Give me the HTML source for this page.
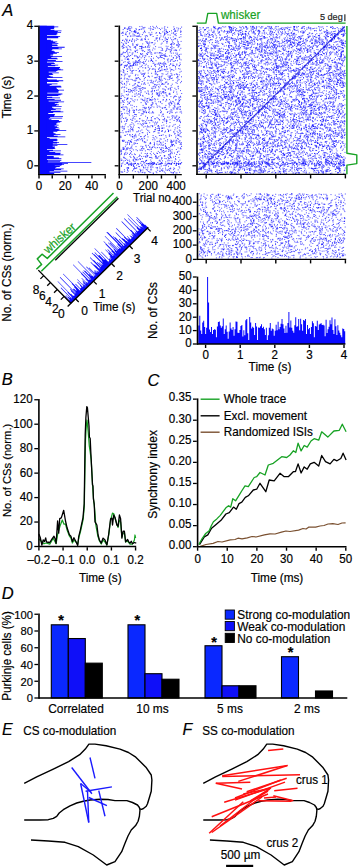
<!DOCTYPE html>
<html><head><meta charset="utf-8"><style>
html,body{margin:0;padding:0;background:#fff;width:360px;height:867px;overflow:hidden}
svg{display:block}
text{font-family:"Liberation Sans", sans-serif}
</style></head><body>
<svg width="360" height="867" viewBox="0 0 360 867" font-family='"Liberation Sans", sans-serif'>
<rect width="360" height="867" fill="#fff"/>
<text x="0" y="0" font-size="16.5" text-anchor="start" fill="#000" stroke="#000" stroke-width="0.18" transform="translate(2.20,15.60) scale(1,1.0)" font-style="italic">A</text><path d="M39.70 25.80h14.53v0.78h-14.53zM39.70 26.58h18.59v0.78h-18.59zM39.70 27.36h14.68v0.78h-14.68zM39.70 28.14h14.21v0.78h-14.21zM39.70 28.92h10.96v0.78h-10.96zM39.70 29.70h14.75v0.78h-14.75zM39.70 30.48h21.77v0.78h-21.77zM39.70 31.26h18.13v0.78h-18.13zM39.70 32.04h21.37v0.78h-21.37zM39.70 32.82h17.20v0.78h-17.20zM39.70 33.59h17.97v0.78h-17.97zM39.70 34.37h16.86v0.78h-16.86zM39.70 35.15h7.14v0.78h-7.14zM39.70 35.93h20.41v0.78h-20.41zM39.70 36.71h18.56v0.78h-18.56zM39.70 37.49h18.52v0.78h-18.52zM39.70 38.27h7.14v0.78h-7.14zM39.70 39.05h7.14v0.78h-7.14zM39.70 39.83h11.17v0.78h-11.17zM39.70 40.61h13.40v0.78h-13.40zM39.70 41.39h17.50v0.78h-17.50zM39.70 42.17h15.64v0.78h-15.64zM39.70 42.95h18.64v0.78h-18.64zM39.70 43.73h12.48v0.78h-12.48zM39.70 44.51h17.52v0.78h-17.52zM39.70 45.29h17.97v0.78h-17.97zM39.70 46.07h12.38v0.78h-12.38zM39.70 46.85h24.98v0.78h-24.98zM39.70 47.63h18.83v0.78h-18.83zM39.70 48.40h22.22v0.78h-22.22zM39.70 49.18h12.60v0.78h-12.60zM39.70 49.96h11.97v0.78h-11.97zM39.70 50.74h14.06v0.78h-14.06zM39.70 51.52h15.32v0.78h-15.32zM39.70 52.30h19.23v0.78h-19.23zM39.70 53.08h17.20v0.78h-17.20zM39.70 53.86h13.51v0.78h-13.51zM39.70 54.64h10.81v0.78h-10.81zM39.70 55.42h13.13v0.78h-13.13zM39.70 56.20h22.35v0.78h-22.35zM39.70 56.98h11.60v0.78h-11.60zM39.70 57.76h17.18v0.78h-17.18zM39.70 58.54h18.14v0.78h-18.14zM39.70 59.32h7.99v0.78h-7.99zM39.70 60.10h16.14v0.78h-16.14zM39.70 60.88h22.80v0.78h-22.80zM39.70 61.66h7.14v0.78h-7.14zM39.70 62.44h14.18v0.78h-14.18zM39.70 63.21h15.32v0.78h-15.32zM39.70 63.99h11.55v0.78h-11.55zM39.70 64.77h18.52v0.78h-18.52zM39.70 65.55h15.55v0.78h-15.55zM39.70 66.33h8.13v0.78h-8.13zM39.70 67.11h20.27v0.78h-20.27zM39.70 67.89h19.43v0.78h-19.43zM39.70 68.67h20.89v0.78h-20.89zM39.70 69.45h23.51v0.78h-23.51zM39.70 70.23h17.80v0.78h-17.80zM39.70 71.01h16.51v0.78h-16.51zM39.70 71.79h9.00v0.78h-9.00zM39.70 72.57h19.14v0.78h-19.14zM39.70 73.35h12.64v0.78h-12.64zM39.70 74.13h13.48v0.78h-13.48zM39.70 74.91h9.18v0.78h-9.18zM39.70 75.69h10.76v0.78h-10.76zM39.70 76.47h13.07v0.78h-13.07zM39.70 77.25h22.71v0.78h-22.71zM39.70 78.02h7.14v0.78h-7.14zM39.70 78.80h8.16v0.78h-8.16zM39.70 79.58h17.15v0.78h-17.15zM39.70 80.36h23.53v0.78h-23.53zM39.70 81.14h18.95v0.78h-18.95zM39.70 81.92h7.14v0.78h-7.14zM39.70 82.70h7.14v0.78h-7.14zM39.70 83.48h17.78v0.78h-17.78zM39.70 84.26h11.98v0.78h-11.98zM39.70 85.04h9.95v0.78h-9.95zM39.70 85.82h21.06v0.78h-21.06zM39.70 86.60h21.72v0.78h-21.72zM39.70 87.38h16.72v0.78h-16.72zM39.70 88.16h17.18v0.78h-17.18zM39.70 88.94h18.18v0.78h-18.18zM39.70 89.72h24.32v0.78h-24.32zM39.70 90.50h19.16v0.78h-19.16zM39.70 91.28h18.63v0.78h-18.63zM39.70 92.06h18.78v0.78h-18.78zM39.70 92.83h7.58v0.78h-7.58zM39.70 93.61h22.67v0.78h-22.67zM39.70 94.39h20.94v0.78h-20.94zM39.70 95.17h18.69v0.78h-18.69zM39.70 95.95h7.14v0.78h-7.14zM39.70 96.73h12.53v0.78h-12.53zM39.70 97.51h20.34v0.78h-20.34zM39.70 98.29h7.14v0.78h-7.14zM39.70 99.07h14.91v0.78h-14.91zM39.70 99.85h21.28v0.78h-21.28zM39.70 100.63h8.94v0.78h-8.94zM39.70 101.41h24.41v0.78h-24.41zM39.70 102.19h18.81v0.78h-18.81zM39.70 102.97h15.09v0.78h-15.09zM39.70 103.75h17.60v0.78h-17.60zM39.70 104.53h19.32v0.78h-19.32zM39.70 105.31h16.52v0.78h-16.52zM39.70 106.09h21.95v0.78h-21.95zM39.70 106.87h12.38v0.78h-12.38zM39.70 107.64h13.69v0.78h-13.69zM39.70 108.42h21.40v0.78h-21.40zM39.70 109.20h16.02v0.78h-16.02zM39.70 109.98h11.22v0.78h-11.22zM39.70 110.76h20.89v0.78h-20.89zM39.70 111.54h23.64v0.78h-23.64zM39.70 112.32h13.53v0.78h-13.53zM39.70 113.10h8.57v0.78h-8.57zM39.70 113.88h15.17v0.78h-15.17zM39.70 114.66h15.09v0.78h-15.09zM39.70 115.44h14.30v0.78h-14.30zM39.70 116.22h23.32v0.78h-23.32zM39.70 117.00h10.44v0.78h-10.44zM39.70 117.78h22.56v0.78h-22.56zM39.70 118.56h9.17v0.78h-9.17zM39.70 119.34h11.71v0.78h-11.71zM39.70 120.12h19.23v0.78h-19.23zM39.70 120.90h21.86v0.78h-21.86zM39.70 121.68h20.43v0.78h-20.43zM39.70 122.45h17.71v0.78h-17.71zM39.70 123.23h16.64v0.78h-16.64zM39.70 124.01h16.69v0.78h-16.69zM39.70 124.79h18.93v0.78h-18.93zM39.70 125.57h14.95v0.78h-14.95zM39.70 126.35h17.35v0.78h-17.35zM39.70 127.13h18.92v0.78h-18.92zM39.70 127.91h15.89v0.78h-15.89zM39.70 128.69h19.93v0.78h-19.93zM39.70 129.47h18.88v0.78h-18.88zM39.70 130.25h26.53v0.78h-26.53zM39.70 131.03h17.60v0.78h-17.60zM39.70 131.81h13.62v0.78h-13.62zM39.70 132.59h13.91v0.78h-13.91zM39.70 133.37h15.81v0.78h-15.81zM39.70 134.15h20.77v0.78h-20.77zM39.70 134.93h14.10v0.78h-14.10zM39.70 135.71h17.93v0.78h-17.93zM39.70 136.49h25.61v0.78h-25.61zM39.70 137.26h7.14v0.78h-7.14zM39.70 138.04h9.93v0.78h-9.93zM39.70 138.82h17.17v0.78h-17.17zM39.70 139.60h17.99v0.78h-17.99zM39.70 140.38h17.15v0.78h-17.15zM39.70 141.16h13.60v0.78h-13.60zM39.70 141.94h19.35v0.78h-19.35zM39.70 142.72h17.38v0.78h-17.38zM39.70 143.50h13.12v0.78h-13.12zM39.70 144.28h27.67v0.78h-27.67zM39.70 145.06h17.76v0.78h-17.76zM39.70 145.84h12.95v0.78h-12.95zM39.70 146.62h15.36v0.78h-15.36zM39.70 147.40h14.69v0.78h-14.69zM39.70 148.18h15.55v0.78h-15.55zM39.70 148.96h7.14v0.78h-7.14zM39.70 149.74h13.30v0.78h-13.30zM39.70 150.52h21.22v0.78h-21.22zM39.70 151.30h9.69v0.78h-9.69zM39.70 152.07h15.53v0.78h-15.53zM39.70 152.85h20.93v0.78h-20.93zM39.70 153.63h20.42v0.78h-20.42zM39.70 154.41h23.78v0.78h-23.78zM39.70 155.19h7.14v0.78h-7.14zM39.70 155.97h14.01v0.78h-14.01zM39.70 156.75h14.08v0.78h-14.08zM39.70 157.53h19.18v0.78h-19.18zM39.70 158.31h21.66v0.78h-21.66zM39.70 159.09h7.14v0.78h-7.14zM39.70 159.87h21.65v0.78h-21.65zM39.70 160.65h8.22v0.78h-8.22zM39.70 161.43h19.50v0.78h-19.50zM39.70 162.21h7.98v0.78h-7.98zM39.70 162.99h16.81v0.78h-16.81zM39.70 163.77h22.21v0.78h-22.21zM39.70 164.55h15.09v0.78h-15.09zM39.70 165.33h16.89v0.78h-16.89zM39.70 166.11h20.10v0.78h-20.10zM39.70 166.88h16.63v0.78h-16.63zM39.70 167.66h15.41v0.78h-15.41zM39.70 168.44h24.00v0.78h-24.00zM39.70 169.22h21.44v0.78h-21.44zM39.70 170.00h14.33v0.78h-14.33zM39.70 170.78h27.67v0.78h-27.67zM39.70 171.56h9.81v0.78h-9.81zM39.70 172.34h20.73v0.78h-20.73zM39.70 173.12h14.48v0.78h-14.48zM39.70 162.00h51.63v0.78h-51.63zM39.70 163.00h28.33v0.78h-28.33zM39.70 161.20h20.38v0.78h-20.38zM39.70 164.20h24.36v0.78h-24.36zM39.70 165.20h21.71v0.78h-21.71z" fill="#0a0aff"/><rect x="39.40" y="25.80" width="7.44" height="148.10" fill="#0a0aff"/><line x1="38.90" y1="25.50" x2="38.90" y2="175.30" stroke="#000" stroke-width="1.6" /><line x1="34.30" y1="165.80" x2="38.10" y2="165.80" stroke="#000" stroke-width="1.3" /><line x1="34.30" y1="130.92" x2="38.10" y2="130.92" stroke="#000" stroke-width="1.3" /><line x1="34.30" y1="96.04" x2="38.10" y2="96.04" stroke="#000" stroke-width="1.3" /><line x1="34.30" y1="61.16" x2="38.10" y2="61.16" stroke="#000" stroke-width="1.3" /><line x1="34.30" y1="26.28" x2="38.10" y2="26.28" stroke="#000" stroke-width="1.3" /><text x="0" y="0" font-size="11.6" text-anchor="end" fill="#000" stroke="#000" stroke-width="0.18" transform="translate(33.20,168.80) scale(1,1.05)" >0</text><text x="0" y="0" font-size="11.6" text-anchor="end" fill="#000" stroke="#000" stroke-width="0.18" transform="translate(33.20,133.92) scale(1,1.05)" >1</text><text x="0" y="0" font-size="11.6" text-anchor="end" fill="#000" stroke="#000" stroke-width="0.18" transform="translate(33.20,99.04) scale(1,1.05)" >2</text><text x="0" y="0" font-size="11.6" text-anchor="end" fill="#000" stroke="#000" stroke-width="0.18" transform="translate(33.20,64.16) scale(1,1.05)" >3</text><text x="0" y="0" font-size="11.6" text-anchor="end" fill="#000" stroke="#000" stroke-width="0.18" transform="translate(33.20,29.28) scale(1,1.05)" >4</text><line x1="38.10" y1="174.60" x2="105.90" y2="174.60" stroke="#000" stroke-width="1.4" /><line x1="39.00" y1="175.30" x2="39.00" y2="178.60" stroke="#000" stroke-width="1.4" /><line x1="52.24" y1="175.30" x2="52.24" y2="178.60" stroke="#000" stroke-width="1.4" /><line x1="65.48" y1="175.30" x2="65.48" y2="178.60" stroke="#000" stroke-width="1.4" /><line x1="78.72" y1="175.30" x2="78.72" y2="178.60" stroke="#000" stroke-width="1.4" /><line x1="91.96" y1="175.30" x2="91.96" y2="178.60" stroke="#000" stroke-width="1.4" /><line x1="105.20" y1="175.30" x2="105.20" y2="178.60" stroke="#000" stroke-width="1.4" /><text x="0" y="0" font-size="11.6" text-anchor="middle" fill="#000" stroke="#000" stroke-width="0.18" transform="translate(38.90,189.90) scale(1,1.05)" >0</text><text x="0" y="0" font-size="11.6" text-anchor="middle" fill="#000" stroke="#000" stroke-width="0.18" transform="translate(65.20,189.90) scale(1,1.05)" >20</text><text x="0" y="0" font-size="11.6" text-anchor="middle" fill="#000" stroke="#000" stroke-width="0.18" transform="translate(91.70,189.90) scale(1,1.05)" >40</text><text x="0" y="0" font-size="11.8" text-anchor="middle" fill="#000" stroke="#000" stroke-width="0.18" transform="translate(11.20,97.20) rotate(-90) scale(1,1.05)">Time (s)</text><path d="M171.4 46.5h1.0M127.6 91.4h1.0M124.6 61.7h1.0M124.7 124.8h1.0M168.0 158.3h1.0M129.6 131.7h1.0M160.5 47.3h1.0M174.1 168.7h1.0M133.6 166.5h1.0M144.5 98.0h1.0M180.6 148.8h1.0M130.0 89.8h1.0M151.7 76.2h1.0M132.1 73.2h1.0M164.3 29.2h1.0M154.0 91.1h1.0M121.3 75.1h1.0M158.3 101.7h1.0M124.1 171.3h1.0M168.3 169.3h1.0M126.6 65.4h1.0M122.6 141.0h1.0M136.7 45.4h1.0M146.0 160.5h1.0M170.2 64.4h1.0M129.3 161.6h1.0M155.0 129.4h1.0M125.7 34.8h1.0M162.2 88.9h1.0M124.6 164.4h1.0M158.9 144.3h1.0M125.3 152.3h1.0M124.3 153.3h1.0M147.9 76.2h1.0M153.9 162.7h1.0M136.5 45.3h1.0M152.3 61.4h1.0M126.9 50.1h1.0M123.3 56.0h1.0M139.2 71.2h1.0M166.5 69.0h1.0M150.7 52.5h1.0M141.4 29.0h1.0M135.5 28.6h1.0M164.9 107.4h1.0M131.8 96.2h1.0M177.2 41.9h1.0M170.2 89.9h1.0M150.4 149.2h1.0M144.2 100.9h1.0M162.2 170.9h1.0M141.1 148.8h1.0M163.3 119.9h1.0M144.9 77.5h1.0M123.5 45.4h1.0M124.5 135.4h1.0M135.8 50.3h1.0M125.4 150.1h1.0M173.3 125.0h1.0M137.4 62.0h1.0M138.1 93.9h1.0M129.8 91.9h1.0M136.3 167.9h1.0M179.5 106.8h1.0M135.1 168.4h1.0M139.1 78.8h1.0M120.3 82.5h1.0M149.2 100.3h1.0M132.5 100.6h1.0M120.5 65.2h1.0M125.7 85.1h1.0M122.7 29.6h1.0M138.8 60.6h1.0M155.9 104.2h1.0M166.0 123.1h1.0M163.9 155.7h1.0M144.0 74.3h1.0M180.3 48.3h1.0M164.4 121.0h1.0M122.9 149.3h1.0M174.6 118.6h1.0M165.0 145.9h1.0M128.7 103.4h1.0M151.0 149.2h1.0M169.3 147.9h1.0M155.8 157.7h1.0M161.9 128.4h1.0M134.2 30.9h1.0M128.3 79.4h1.0M126.6 149.3h1.0M154.3 118.7h1.0M158.4 126.5h1.0M150.0 26.8h1.0M168.9 136.4h1.0M150.9 105.1h1.0M160.4 36.0h1.0M165.1 63.4h1.0M124.7 65.4h1.0M164.7 56.5h1.0M165.3 169.9h1.0M150.3 82.6h1.0M149.4 126.9h1.0M167.0 117.1h1.0M159.4 37.7h1.0M129.2 63.7h1.0M165.5 71.1h1.0M154.8 28.1h1.0M123.9 65.9h1.0M161.2 128.2h1.0M161.4 69.1h1.0M151.7 94.7h1.0M148.6 43.7h1.0M174.7 55.6h1.0M179.9 164.1h1.0M121.3 93.9h1.0M170.2 168.8h1.0M147.6 65.8h1.0M133.0 165.5h1.0M133.1 111.9h1.0M128.8 103.4h1.0M178.3 45.8h1.0M170.2 101.2h1.0M174.3 129.8h1.0M134.3 158.4h1.0M149.9 30.0h1.0M120.4 98.7h1.0M147.7 70.7h1.0M128.8 76.9h1.0M139.5 150.0h1.0M120.3 136.8h1.0M171.4 44.0h1.0M176.7 131.3h1.0M175.2 69.0h1.0M142.9 84.1h1.0M181.1 113.0h1.0M142.2 89.3h1.0M137.0 33.4h1.0M126.4 149.2h1.0M137.6 164.0h1.0M135.4 65.4h1.0M151.4 54.2h1.0M143.0 167.0h1.0M174.1 145.8h1.0M158.7 160.8h1.0M177.6 107.1h1.0M164.1 33.6h1.0M164.9 92.7h1.0M166.1 121.2h1.0M137.7 33.5h1.0M176.7 45.0h1.0M149.0 76.9h1.0M138.4 135.1h1.0M179.8 64.6h1.0M160.2 70.6h1.0M154.2 84.4h1.0M130.4 50.1h1.0M132.9 159.7h1.0M150.5 58.7h1.0M175.5 173.0h1.0M147.6 46.8h1.0M131.9 39.7h1.0M141.1 39.7h1.0M134.8 64.3h1.0M154.9 156.9h1.0M165.9 87.1h1.0M145.4 103.5h1.0M143.2 76.1h1.0M124.0 67.2h1.0M179.2 44.8h1.0M150.9 119.0h1.0M172.8 58.1h1.0M136.7 62.9h1.0M144.6 91.9h1.0M178.4 151.2h1.0M173.4 29.5h1.0M122.2 130.7h1.0M174.8 96.0h1.0M156.0 26.3h1.0M144.1 162.7h1.0M170.6 152.2h1.0M179.5 62.9h1.0M126.9 49.0h1.0M152.1 126.7h1.0M177.6 132.5h1.0M159.7 138.9h1.0M148.1 107.5h1.0M122.6 141.5h1.0M134.4 161.7h1.0M159.6 71.0h1.0M128.0 63.4h1.0M159.0 129.1h1.0M127.0 36.7h1.0M152.2 112.1h1.0M143.9 59.2h1.0M156.9 27.8h1.0M138.6 94.1h1.0M178.7 121.2h1.0M174.1 96.3h1.0M134.5 62.7h1.0M178.8 130.0h1.0M139.0 29.5h1.0M150.6 125.6h1.0M145.8 64.2h1.0M160.9 162.5h1.0M134.0 31.3h1.0M140.8 88.2h1.0M161.8 55.5h1.0M168.8 135.1h1.0M151.0 56.5h1.0M179.4 72.2h1.0M170.2 60.3h1.0M133.7 138.2h1.0M138.2 166.4h1.0M150.4 53.9h1.0M133.8 87.7h1.0M160.8 166.0h1.0M129.1 84.2h1.0M133.2 169.7h1.0M128.9 33.9h1.0M123.9 84.2h1.0M175.0 156.4h1.0M164.9 173.1h1.0M177.0 74.8h1.0M131.5 164.1h1.0M165.7 31.0h1.0M160.7 82.0h1.0M143.0 75.1h1.0M130.5 26.7h1.0M137.3 78.0h1.0M178.5 44.5h1.0M179.0 56.8h1.0M142.0 147.2h1.0M170.3 90.0h1.0M123.2 96.0h1.0M142.9 161.7h1.0M132.0 79.9h1.0M174.9 30.8h1.0M145.3 145.8h1.0M167.0 32.3h1.0M122.3 35.5h1.0M176.3 64.1h1.0M165.8 158.6h1.0M140.9 66.4h1.0M178.6 117.1h1.0M136.2 131.8h1.0M139.5 66.9h1.0M120.4 137.5h1.0M176.1 119.6h1.0M177.7 29.9h1.0M134.5 96.2h1.0M178.6 166.7h1.0M143.8 63.3h1.0M146.4 98.9h1.0M176.8 53.2h1.0M169.2 135.0h1.0M170.4 140.1h1.0M157.2 74.6h1.0M139.7 79.6h1.0M167.9 37.9h1.0M132.2 137.1h1.0M135.3 35.8h1.0M122.3 107.6h1.0M140.1 170.6h1.0M174.1 171.7h1.0M136.4 38.7h1.0M126.1 99.7h1.0M163.5 92.1h1.0M134.5 87.7h1.0M158.0 125.5h1.0M165.8 151.0h1.0M160.7 44.1h1.0M171.5 69.5h1.0M154.8 81.2h1.0M165.2 55.6h1.0M135.3 62.4h1.0M129.6 156.4h1.0M155.5 74.3h1.0M144.4 172.4h1.0M151.1 60.4h1.0M169.5 122.5h1.0M180.6 41.4h1.0M149.2 146.9h1.0M171.5 160.9h1.0M122.7 69.5h1.0M127.5 54.2h1.0M179.6 112.1h1.0M176.9 81.1h1.0M173.0 92.4h1.0M136.1 140.8h1.0M177.9 41.9h1.0M156.6 117.6h1.0M133.5 80.6h1.0M128.8 56.3h1.0M135.7 114.5h1.0M160.0 56.2h1.0M120.9 74.5h1.0M161.6 53.6h1.0M139.2 56.2h1.0M168.7 107.0h1.0M124.1 41.2h1.0M144.3 107.3h1.0M159.2 39.7h1.0M130.2 128.7h1.0M145.2 68.0h1.0M139.0 166.6h1.0M139.3 109.7h1.0M142.0 87.6h1.0M172.9 173.0h1.0M142.4 55.3h1.0M164.6 56.3h1.0M120.6 159.0h1.0M146.0 147.1h1.0M145.0 156.3h1.0M148.3 50.2h1.0M121.1 107.5h1.0M159.3 160.2h1.0M125.6 117.9h1.0M142.8 100.6h1.0M129.1 68.0h1.0M152.0 162.5h1.0M126.8 98.5h1.0M169.3 168.6h1.0M132.2 44.9h1.0M177.7 169.9h1.0M149.6 34.2h1.0M176.7 83.4h1.0M175.4 117.6h1.0M170.5 49.9h1.0M168.1 59.0h1.0M144.9 150.9h1.0M170.8 53.2h1.0M133.5 85.1h1.0M151.8 82.8h1.0M127.7 62.7h1.0M164.4 158.4h1.0M122.7 109.1h1.0M166.4 31.9h1.0M171.3 43.6h1.0M156.8 107.3h1.0M158.4 71.4h1.0M145.8 112.1h1.0M146.2 123.3h1.0M147.5 90.8h1.0M121.6 117.4h1.0M150.1 60.9h1.0M166.8 141.1h1.0M148.2 52.7h1.0M149.1 42.1h1.0M128.0 89.7h1.0M125.8 91.4h1.0M151.3 32.3h1.0M159.0 38.4h1.0M164.9 140.8h1.0M151.4 34.3h1.0M150.9 81.9h1.0M178.2 46.3h1.0M172.5 172.9h1.0M164.9 146.3h1.0M132.0 170.8h1.0M150.2 167.1h1.0M176.1 50.6h1.0M168.3 163.3h1.0M124.2 78.0h1.0M166.3 49.7h1.0M174.9 66.8h1.0M170.0 47.4h1.0M150.8 161.7h1.0M132.9 65.0h1.0M151.1 73.3h1.0M122.4 53.1h1.0M130.0 164.1h1.0M161.7 158.1h1.0M130.5 141.8h1.0M127.2 104.4h1.0M159.0 79.3h1.0M173.5 108.0h1.0M155.6 156.2h1.0M126.6 172.5h1.0M158.6 84.3h1.0M168.9 65.3h1.0M180.6 111.3h1.0M142.2 138.9h1.0M147.2 52.3h1.0M165.6 33.4h1.0M170.2 63.6h1.0M159.2 171.2h1.0M155.9 124.0h1.0M139.3 26.6h1.0M122.3 48.3h1.0M157.8 89.9h1.0M151.5 158.1h1.0M128.3 59.8h1.0M160.0 29.6h1.0M120.4 78.6h1.0M126.7 78.9h1.0M133.9 112.2h1.0M156.1 56.4h1.0M158.3 96.2h1.0M128.4 164.2h1.0M135.1 48.3h1.0M126.0 120.2h1.0M173.3 141.4h1.0M144.7 65.2h1.0M120.9 121.2h1.0M154.5 77.9h1.0M159.6 91.6h1.0M177.4 134.3h1.0M135.4 159.3h1.0M122.9 104.5h1.0M145.0 61.3h1.0M123.8 140.9h1.0M121.0 107.4h1.0M177.6 47.2h1.0M132.4 115.8h1.0M151.1 120.7h1.0M169.8 52.0h1.0M139.1 70.5h1.0M123.2 157.2h1.0M168.0 131.6h1.0M120.6 150.6h1.0M165.7 94.8h1.0M165.4 92.9h1.0M134.0 41.8h1.0M134.4 32.0h1.0M140.7 136.6h1.0M162.6 150.7h1.0M163.6 65.5h1.0M154.0 90.5h1.0M168.3 103.3h1.0M136.4 120.8h1.0M179.1 58.2h1.0M173.9 28.5h1.0M136.1 61.1h1.0M165.6 165.4h1.0M165.7 74.4h1.0M173.9 74.7h1.0M134.8 159.9h1.0M158.7 128.3h1.0M160.8 170.4h1.0M148.8 149.9h1.0M162.8 152.5h1.0M146.9 133.0h1.0M155.0 71.6h1.0M133.1 117.9h1.0M124.9 160.4h1.0M129.0 30.3h1.0M126.7 163.0h1.0M141.2 47.2h1.0M122.0 32.4h1.0M162.5 119.6h1.0M162.7 134.8h1.0M124.2 113.2h1.0M142.4 146.6h1.0M170.2 157.5h1.0M124.2 154.0h1.0M176.0 165.3h1.0M126.7 56.6h1.0M127.0 31.4h1.0M171.9 145.8h1.0M158.9 147.7h1.0M158.7 68.6h1.0M126.3 40.7h1.0M166.4 56.5h1.0M139.7 88.7h1.0M121.5 64.1h1.0M137.4 131.7h1.0M142.6 73.5h1.0M179.0 100.5h1.0M172.1 117.3h1.0M122.1 87.1h1.0M146.8 140.1h1.0M141.4 130.0h1.0M153.0 58.2h1.0M172.8 39.7h1.0M170.2 51.4h1.0M120.3 56.0h1.0M166.7 170.2h1.0M120.5 98.5h1.0M150.2 143.6h1.0M131.5 99.1h1.0M141.4 148.7h1.0M136.1 165.2h1.0M137.5 57.9h1.0M162.9 99.7h1.0M126.9 120.0h1.0M125.1 142.3h1.0M162.7 142.1h1.0M158.5 78.6h1.0M144.7 84.4h1.0M174.5 39.0h1.0M174.4 30.0h1.0M132.8 65.0h1.0M175.2 100.1h1.0M143.3 156.4h1.0M134.4 94.1h1.0M152.6 137.4h1.0M166.1 121.4h1.0M141.5 74.4h1.0M129.7 150.4h1.0M160.6 135.5h1.0M130.5 90.9h1.0M167.4 111.6h1.0M127.9 94.3h1.0M174.2 61.3h1.0M131.9 70.7h1.0M163.1 150.5h1.0M129.6 49.3h1.0M135.3 74.4h1.0M152.1 50.0h1.0M140.2 54.2h1.0M179.7 133.6h1.0M126.4 168.0h1.0M126.4 82.9h1.0M180.2 143.3h1.0M164.9 90.3h1.0M132.2 120.2h1.0M126.7 56.7h1.0M143.9 31.3h1.0M144.5 142.7h1.0M162.5 100.0h1.0M158.8 94.5h1.0M128.9 115.2h1.0M144.9 135.4h1.0M175.6 89.6h1.0M155.2 136.6h1.0M145.9 59.9h1.0M164.3 155.8h1.0M167.4 129.4h1.0M172.2 126.3h1.0M159.3 93.1h1.0M139.3 118.8h1.0M126.2 88.1h1.0M167.9 131.3h1.0M158.6 63.1h1.0M146.0 93.3h1.0M158.1 86.6h1.0M161.4 163.2h1.0M131.4 122.6h1.0M167.7 83.5h1.0M150.1 169.8h1.0M122.5 106.3h1.0M130.0 141.4h1.0M177.6 102.7h1.0M126.4 110.9h1.0M153.2 131.9h1.0M151.4 120.4h1.0M170.8 103.1h1.0M145.2 165.8h1.0M133.0 127.0h1.0M144.1 138.6h1.0M127.7 171.2h1.0M141.9 34.6h1.0M136.9 85.1h1.0M121.0 87.9h1.0M145.9 129.1h1.0M141.7 65.3h1.0M133.9 135.4h1.0M177.5 103.9h1.0M133.6 144.3h1.0M144.1 57.5h1.0M128.1 140.6h1.0M169.6 119.7h1.0M148.8 109.0h1.0M134.0 168.2h1.0M141.7 120.3h1.0M170.1 146.4h1.0M148.8 69.6h1.0M153.6 44.7h1.0M171.1 78.5h1.0M172.1 65.7h1.0M143.1 63.6h1.0M146.2 53.7h1.0M120.4 132.5h1.0M137.4 62.4h1.0M138.6 96.9h1.0M146.3 120.1h1.0M160.4 79.6h1.0M176.9 152.1h1.0M123.7 148.2h1.0M175.5 141.7h1.0M128.8 148.7h1.0M158.8 28.5h1.0M120.9 166.4h1.0M160.2 63.1h1.0M126.4 47.3h1.0M134.5 140.6h1.0M141.3 48.8h1.0M175.3 142.8h1.0M130.4 157.5h1.0M157.3 141.3h1.0M161.0 157.9h1.0M168.3 149.8h1.0M132.2 128.3h1.0M152.6 135.5h1.0M147.0 156.2h1.0M154.1 65.2h1.0M134.5 46.8h1.0M150.3 34.9h1.0M148.7 47.6h1.0M150.2 99.6h1.0M153.1 153.3h1.0M120.6 150.1h1.0M148.7 109.1h1.0M160.8 150.0h1.0M143.1 87.9h1.0M178.8 37.4h1.0M159.1 119.9h1.0M121.9 116.0h1.0M161.8 163.4h1.0M140.4 170.8h1.0M151.3 97.6h1.0M175.0 31.3h1.0M164.0 118.3h1.0M140.9 153.1h1.0M142.5 96.2h1.0M152.3 139.7h1.0M133.1 90.4h1.0M146.0 107.9h1.0M170.6 69.4h1.0M170.7 85.7h1.0M150.9 66.3h1.0M151.1 169.8h1.0M160.1 142.9h1.0M140.4 73.0h1.0M138.5 112.6h1.0M158.9 141.7h1.0M122.6 132.7h1.0M174.2 106.6h1.0M123.2 70.5h1.0M120.6 54.3h1.0M176.4 115.9h1.0M160.3 142.4h1.0M175.7 116.3h1.0M157.8 118.6h1.0M162.7 114.1h1.0M161.7 57.6h1.0M160.9 93.7h1.0M166.7 41.2h1.0M131.3 31.7h1.0M167.4 160.9h1.0M160.2 80.6h1.0M170.4 142.1h1.0M154.5 64.3h1.0M138.6 88.4h1.0M139.6 89.7h1.0M159.3 163.8h1.0M123.5 109.8h1.0M122.6 43.8h1.0M169.6 111.0h1.0M176.2 92.0h1.0M121.1 83.3h1.0M156.3 164.3h1.0M180.0 96.3h1.0M145.4 41.3h1.0M159.5 57.5h1.0M129.5 28.6h1.0M120.5 126.9h1.0M127.6 168.5h1.0M125.6 154.3h1.0M128.1 28.9h1.0M164.1 62.0h1.0M164.9 53.9h1.0M123.3 140.2h1.0M163.7 152.2h1.0M164.7 38.7h1.0M158.5 130.7h1.0M148.3 163.5h1.0M135.7 168.2h1.0M163.9 28.0h1.0M121.1 122.1h1.0M170.1 38.0h1.0M139.2 133.7h1.0M130.3 153.0h1.0M149.9 35.1h1.0M142.6 110.9h1.0M147.0 125.9h1.0M129.0 143.7h1.0M142.4 121.2h1.0M158.6 87.8h1.0M143.7 142.0h1.0M177.8 141.8h1.0M154.8 69.3h1.0M123.9 169.7h1.0M163.1 148.1h1.0M140.5 115.5h1.0M179.8 148.7h1.0M156.9 71.7h1.0M146.3 157.0h1.0M143.2 127.1h1.0M156.9 158.2h1.0M169.5 68.0h1.0M120.3 65.0h1.0M146.0 112.7h1.0M170.0 156.9h1.0M122.8 149.0h1.0M169.7 154.0h1.0M155.1 66.6h1.0M172.1 145.1h1.0M162.0 160.8h1.0M141.4 38.8h1.0M154.0 143.7h1.0M132.4 136.7h1.0M177.0 60.7h1.0M157.2 126.1h1.0M148.6 56.7h1.0M135.7 136.9h1.0M168.5 94.0h1.0M125.5 145.0h1.0M167.3 60.6h1.0M155.6 158.3h1.0M174.2 103.1h1.0M149.3 113.0h1.0M131.7 54.6h1.0M131.2 129.5h1.0M142.3 109.4h1.0M144.8 102.4h1.0M129.3 32.9h1.0M181.0 81.4h1.0M126.7 119.4h1.0M168.2 49.3h1.0M156.6 77.1h1.0M151.9 29.3h1.0M122.2 172.1h1.0M173.0 97.9h1.0M154.8 64.8h1.0M167.7 89.0h1.0M177.9 139.2h1.0M170.1 168.1h1.0M135.7 31.9h1.0M132.5 52.9h1.0M125.3 33.8h1.0M154.2 154.5h1.0M148.2 165.7h1.0M175.7 35.7h1.0M156.7 84.8h1.0M127.5 167.5h1.0M135.9 109.4h1.0M159.3 167.1h1.0M161.1 84.2h1.0M147.5 49.8h1.0M179.1 172.3h1.0M133.7 32.0h1.0M135.8 78.1h1.0M175.3 159.5h1.0M171.3 33.2h1.0M168.2 130.8h1.0M159.6 171.4h1.0M123.6 47.6h1.0M166.3 164.6h1.0M161.5 70.3h1.0M156.3 137.9h1.0M126.6 74.0h1.0M135.9 44.6h1.0M149.6 51.1h1.0M134.7 47.4h1.0M161.5 28.2h1.0M164.0 55.0h1.0M122.4 162.9h1.0M133.7 163.8h1.0M173.1 157.1h1.0M128.7 92.1h1.0M126.1 163.0h1.0M171.6 118.8h1.0M147.8 76.3h1.0M170.4 96.6h1.0M158.5 47.3h1.0M133.7 34.7h1.0M163.7 107.8h1.0M129.0 154.5h1.0M136.5 86.9h1.0M129.7 66.2h1.0M171.4 75.5h1.0M130.4 98.6h1.0M139.6 159.2h1.0M127.2 170.4h1.0M123.7 158.0h1.0M161.0 57.4h1.0M149.3 68.4h1.0M135.9 56.0h1.0M142.4 172.2h1.0M181.1 162.5h1.0M126.2 68.9h1.0M174.9 34.8h1.0M164.5 69.5h1.0M179.9 28.7h1.0M169.4 76.5h1.0M128.7 26.6h1.0M171.0 103.8h1.0M131.5 90.4h1.0M175.8 58.4h1.0M155.1 46.6h1.0M131.2 139.7h1.0M163.6 55.3h1.0M125.0 39.2h1.0M157.3 99.2h1.0M136.9 56.6h1.0M157.6 130.5h1.0M169.7 112.1h1.0M132.5 36.0h1.0M164.9 86.4h1.0M164.2 34.5h1.0M169.6 75.6h1.0M171.6 153.6h1.0M150.3 28.6h1.0M175.7 96.5h1.0M173.4 65.5h1.0M131.5 148.7h1.0M142.6 50.4h1.0M142.8 113.9h1.0M120.5 102.8h1.0M147.4 102.2h1.0M127.6 131.5h1.0M170.0 153.7h1.0M139.8 131.0h1.0M143.5 136.9h1.0M123.9 154.8h1.0M178.4 99.1h1.0M151.5 104.4h1.0M153.0 29.3h1.0M179.2 59.2h1.0M131.3 41.4h1.0M135.5 146.6h1.0M122.0 40.5h1.0M162.8 55.0h1.0M121.3 114.5h1.0M155.4 103.3h1.0M163.1 41.4h1.0M173.2 131.9h1.0M123.0 44.4h1.0M150.3 100.0h1.0M137.3 44.3h1.0M144.9 46.5h1.0M156.3 153.1h1.0M129.2 110.6h1.0M165.7 50.5h1.0M170.6 164.3h1.0M143.9 88.2h1.0M171.4 103.7h1.0M144.3 164.9h1.0M167.6 76.1h1.0M134.9 75.6h1.0M146.8 170.7h1.0M169.3 160.7h1.0M169.9 151.1h1.0M123.5 102.5h1.0M178.6 163.8h1.0M135.4 88.4h1.0M158.8 79.9h1.0M152.6 36.5h1.0M146.6 100.6h1.0M121.5 46.8h1.0M179.4 140.6h1.0M177.4 119.5h1.0M169.6 156.5h1.0M174.2 31.4h1.0M159.3 65.4h1.0M161.6 66.5h1.0M153.3 162.4h1.0M158.1 63.2h1.0M151.9 90.1h1.0M178.2 68.6h1.0M138.8 121.6h1.0M127.5 113.8h1.0M178.5 101.9h1.0M136.6 95.0h1.0M152.8 48.1h1.0M127.8 45.6h1.0M138.1 86.1h1.0M137.8 62.1h1.0M125.6 106.7h1.0M171.4 116.1h1.0M155.0 122.0h1.0M132.5 130.9h1.0M148.3 107.0h1.0M157.6 95.3h1.0M139.1 62.0h1.0M133.7 101.7h1.0M143.6 112.5h1.0M120.9 78.2h1.0M172.8 61.4h1.0M154.2 98.6h1.0M137.6 171.7h1.0M138.2 140.0h1.0M129.9 36.1h1.0M173.3 91.1h1.0M124.0 83.4h1.0M147.0 134.6h1.0M126.9 59.4h1.0M178.7 135.0h1.0M129.6 75.9h1.0M141.7 125.7h1.0M157.8 151.4h1.0M170.3 102.5h1.0M165.3 135.7h1.0M166.5 96.3h1.0M168.1 130.6h1.0M176.0 45.0h1.0M173.3 26.9h1.0M166.9 112.5h1.0M150.6 168.0h1.0M155.1 87.8h1.0M168.0 154.8h1.0M157.2 82.2h1.0M147.8 93.7h1.0M164.3 69.4h1.0M144.0 108.0h1.0M143.7 73.7h1.0M168.2 151.4h1.0M150.7 91.7h1.0M131.4 71.1h1.0M129.0 111.0h1.0M155.7 39.2h1.0M176.3 74.0h1.0M171.6 149.7h1.0M178.7 56.4h1.0M146.2 160.3h1.0M120.9 33.3h1.0M154.7 99.5h1.0M176.3 140.2h1.0M153.0 173.3h1.0M151.8 102.4h1.0M162.0 83.6h1.0M142.0 113.8h1.0M141.6 165.8h1.0M161.5 103.6h1.0M126.2 81.4h1.0M144.7 108.9h1.0M155.2 155.8h1.0M179.0 97.9h1.0M147.0 118.2h1.0M181.0 76.8h1.0M152.5 146.4h1.0M130.6 73.1h1.0M179.9 147.9h1.0M151.5 42.6h1.0M174.8 127.9h1.0M170.3 172.1h1.0M174.4 88.3h1.0M129.7 69.0h1.0M151.4 100.6h1.0M131.7 53.2h1.0M158.6 115.1h1.0M141.7 172.6h1.0M159.0 32.5h1.0M145.3 142.2h1.0M138.9 128.0h1.0M120.4 71.1h1.0M171.6 112.6h1.0M161.0 55.2h1.0M150.6 107.7h1.0M136.4 121.5h1.0M152.6 173.1h1.0M155.2 86.8h1.0M127.6 49.4h1.0M166.5 42.0h1.0M126.3 51.4h1.0M152.1 147.5h1.0M157.6 145.0h1.0M124.0 28.1h1.0M167.2 73.8h1.0M163.8 78.4h1.0M130.5 65.5h1.0M126.3 159.3h1.0M155.7 77.7h1.0M147.6 83.1h1.0M123.5 157.4h1.0M155.7 167.6h1.0M147.0 117.6h1.0M135.4 32.8h1.0M177.0 152.1h1.0M139.4 158.6h1.0M170.0 71.0h1.0M157.0 167.6h1.0M150.4 166.1h1.0M135.0 83.7h1.0M164.0 58.9h1.0M139.1 155.1h1.0M149.7 143.0h1.0M135.0 51.8h1.0M142.1 53.8h1.0M179.5 69.1h1.0M154.5 43.2h1.0M152.8 83.1h1.0M144.8 35.9h1.0M127.7 147.9h1.0M141.6 62.4h1.0M131.9 68.0h1.0M134.7 31.4h1.0M160.7 76.6h1.0M129.7 130.2h1.0M125.9 66.0h1.0M171.1 45.1h1.0M147.2 149.4h1.0M169.3 49.7h1.0M141.7 132.6h1.0M143.2 167.4h1.0M132.9 166.3h1.0M151.0 59.8h1.0M147.8 45.6h1.0M163.3 64.7h1.0M175.1 112.8h1.0M142.6 62.5h1.0M157.3 57.6h1.0M173.4 44.4h1.0M151.5 106.2h1.0M136.7 139.9h1.0M143.7 123.1h1.0M154.8 72.0h1.0M144.0 39.0h1.0M131.0 151.6h1.0M139.8 123.9h1.0M126.8 109.0h1.0M142.3 100.0h1.0M138.3 36.0h1.0M139.2 59.6h1.0M127.9 131.8h1.0M137.4 85.7h1.0M175.6 140.4h1.0M174.0 153.1h1.0M128.3 67.0h1.0M122.0 126.3h1.0M160.7 78.0h1.0M145.4 123.3h1.0M162.9 62.9h1.0M171.8 78.1h1.0M158.6 53.0h1.0M127.2 160.6h1.0M165.0 131.2h1.0M122.7 32.2h1.0M130.1 55.5h1.0M138.7 82.3h1.0M122.6 72.1h1.0M159.1 52.7h1.0M171.4 110.2h1.0M163.9 63.8h1.0M146.7 127.0h1.0M141.5 26.4h1.0M171.1 140.6h1.0M137.7 32.6h1.0M172.3 115.7h1.0M123.1 62.3h1.0M127.0 142.8h1.0M133.0 160.9h1.0M165.9 39.0h1.0M162.6 84.2h1.0M165.8 148.3h1.0M137.4 39.5h1.0M177.9 88.7h1.0M176.9 128.1h1.0M165.3 148.5h1.0M158.5 92.9h1.0M123.5 129.1h1.0M146.3 101.6h1.0M176.8 45.1h1.0M166.7 32.7h1.0M163.1 144.9h1.0M136.1 106.7h1.0M179.3 120.1h1.0M153.4 63.1h1.0M123.8 79.0h1.0M145.3 55.9h1.0M139.1 46.4h1.0M163.3 125.0h1.0M134.7 61.9h1.0M151.6 91.8h1.0M177.3 78.0h1.0M138.5 156.5h1.0M128.9 109.2h1.0M140.5 146.3h1.0M153.6 138.2h1.0M130.5 124.4h1.0M156.7 94.2h1.0M166.9 148.6h1.0M127.2 68.9h1.0M142.2 56.7h1.0M123.9 67.6h1.0M132.2 129.6h1.0M147.5 42.9h1.0M140.0 95.3h1.0M142.3 51.0h1.0M124.6 27.9h1.0M180.7 136.8h1.0M125.3 131.9h1.0M180.0 109.3h1.0M126.8 98.3h1.0M146.7 54.2h1.0M153.3 27.5h1.0M176.3 121.2h1.0M158.5 164.0h1.0M160.0 63.3h1.0M135.2 46.7h1.0M121.9 140.3h1.0M171.4 69.9h1.0M131.5 120.2h1.0M171.8 162.7h1.0M130.5 141.8h1.0M170.9 135.6h1.0M140.1 53.5h1.0M170.5 73.4h1.0M142.7 107.4h1.0M142.7 148.7h1.0M134.8 32.4h1.0M154.8 118.8h1.0M170.2 130.2h1.0M175.4 165.4h1.0M150.4 99.8h1.0M129.8 70.4h1.0M155.6 38.1h1.0M162.2 50.4h1.0M147.2 169.1h1.0M125.7 32.2h1.0M147.0 54.4h1.0M164.3 26.7h1.0M171.5 152.2h1.0M168.2 88.9h1.0M137.5 123.7h1.0M151.6 88.3h1.0M140.9 90.9h1.0M160.8 147.9h1.0M175.3 50.5h1.0M138.2 91.5h1.0M154.6 77.5h1.0M132.1 38.8h1.0M139.9 94.1h1.0M179.4 160.1h1.0M173.0 169.7h1.0M178.9 117.5h1.0M169.7 35.1h1.0M161.5 116.0h1.0M138.3 110.4h1.0M178.3 97.1h1.0M159.7 70.4h1.0M141.1 156.6h1.0M121.9 54.1h1.0M161.6 92.1h1.0M125.4 123.5h1.0M142.9 111.8h1.0M145.6 104.3h1.0M154.7 84.6h1.0M127.2 52.9h1.0M174.5 107.0h1.0M127.0 153.2h1.0M135.7 40.3h1.0M152.6 63.3h1.0M150.0 107.9h1.0M134.0 110.6h1.0M127.1 101.8h1.0M156.1 38.1h1.0M145.1 37.1h1.0M147.0 153.4h1.0M153.8 131.5h1.0M166.4 43.2h1.0M180.6 132.5h1.0M126.4 148.5h1.0M144.1 51.5h1.0M178.8 109.2h1.0M167.5 46.4h1.0M167.5 34.8h1.0M134.7 81.1h1.0M121.1 113.8h1.0M133.2 70.4h1.0M163.4 89.0h1.0M174.4 117.7h1.0M173.4 109.2h1.0M176.2 154.5h1.0M130.4 136.0h1.0M141.0 138.7h1.0M161.7 147.8h1.0M127.7 81.2h1.0M165.2 165.8h1.0M164.2 32.7h1.0M157.0 41.0h1.0M153.7 144.5h1.0M127.1 162.5h1.0M161.4 63.8h1.0M132.0 92.1h1.0M171.3 111.9h1.0M127.1 29.4h1.0M126.9 144.2h1.0M131.5 107.9h1.0M137.9 127.5h1.0M143.4 47.5h1.0M173.6 105.6h1.0M162.3 145.3h1.0M178.1 28.3h1.0M141.1 48.5h1.0M150.8 154.8h1.0M169.0 31.5h1.0M131.3 146.8h1.0M161.7 84.1h1.0M149.2 49.6h1.0M171.8 84.2h1.0M173.5 116.2h1.0M124.8 74.8h1.0M133.4 157.9h1.0M156.1 32.7h1.0M130.6 79.4h1.0M148.7 111.2h1.0M143.9 78.4h1.0M120.6 111.6h1.0M140.6 29.3h1.0M148.2 171.5h1.0M123.0 47.8h1.0M161.1 66.4h1.0M136.9 99.9h1.0M136.2 110.1h1.0M152.4 167.2h1.0M180.7 31.3h1.0M154.4 139.8h1.0M173.4 140.3h1.0M158.8 119.7h1.0M142.3 67.7h1.0M168.7 154.8h1.0M177.5 126.6h1.0M138.7 138.7h1.0M165.3 101.2h1.0M158.9 77.9h1.0M153.8 86.1h1.0M123.9 75.9h1.0M139.9 171.8h1.0M149.6 80.4h1.0M135.0 60.9h1.0M141.5 46.3h1.0M120.6 154.5h1.0M147.8 91.9h1.0M154.9 70.8h1.0M130.5 36.1h1.0M138.6 71.7h1.0M164.5 107.4h1.0M177.4 76.4h1.0M176.4 112.2h1.0M125.1 52.6h1.0M155.6 171.7h1.0M142.0 140.3h1.0M146.3 154.1h1.0M124.3 97.6h1.0M175.0 66.9h1.0M135.9 29.7h1.0M130.2 65.8h1.0M163.2 58.4h1.0M144.6 55.8h1.0M157.0 153.5h1.0M159.7 55.3h1.0M165.0 168.1h1.0M156.9 38.0h1.0M169.6 155.2h1.0M141.0 46.4h1.0M131.7 105.3h1.0M173.6 120.5h1.0M176.5 57.5h1.0M140.1 136.6h1.0M159.8 86.0h1.0M161.6 76.0h1.0M123.7 87.3h1.0M123.0 118.5h1.0M140.6 99.1h1.0M156.7 64.1h1.0M148.5 28.3h1.0M176.6 109.3h1.0M180.4 34.5h1.0M157.7 132.9h1.0M140.3 40.1h1.0M129.7 47.3h1.0M167.0 39.5h1.0M169.9 88.6h1.0M153.1 112.9h1.0M154.1 123.1h1.0M156.9 75.0h1.0M165.4 64.3h1.0M163.6 138.7h1.0M167.5 71.8h1.0M167.3 170.2h1.0M147.8 67.3h1.0M152.1 164.8h1.0M128.2 27.6h1.0M149.2 122.8h1.0M167.4 79.7h1.0M180.6 59.9h1.0M166.4 39.5h1.0M121.9 46.0h1.0M123.9 100.2h1.0M154.1 53.1h1.0M177.5 80.1h1.0M129.3 52.4h1.0M165.2 161.9h1.0M130.1 30.6h1.0M167.7 62.0h1.0M180.1 99.7h1.0M159.0 77.0h1.0M169.0 94.0h1.0M140.0 159.3h1.0M126.8 134.3h1.0M124.2 121.3h1.0M144.7 153.5h1.0M123.9 109.4h1.0M145.2 161.6h1.0M177.8 118.6h1.0M133.9 63.4h1.0M136.2 90.2h1.0M134.3 56.2h1.0M166.5 120.9h1.0M138.4 172.7h1.0M133.4 110.1h1.0M129.8 153.3h1.0M173.2 65.6h1.0M166.0 147.4h1.0M137.4 75.1h1.0M149.8 157.5h1.0M130.1 126.8h1.0M156.7 93.0h1.0M155.5 156.3h1.0M133.0 156.4h1.0M142.2 141.1h1.0M172.9 53.1h1.0M172.9 172.7h1.0M138.4 29.9h1.0M127.0 169.7h1.0M120.8 160.5h1.0M129.4 134.6h1.0M126.2 51.1h1.0M161.8 39.6h1.0M140.9 161.5h1.0M163.9 156.1h1.0M180.0 31.1h1.0M134.5 142.9h1.0M162.3 31.9h1.0M151.0 60.4h1.0M146.5 41.7h1.0M121.4 172.1h1.0M139.5 155.6h1.0M127.5 98.0h1.0M128.5 89.4h1.0M131.1 127.2h1.0M129.2 135.0h1.0M150.7 42.8h1.0M141.8 99.4h1.0M176.2 77.7h1.0M133.3 168.7h1.0M174.1 134.0h1.0M136.9 52.4h1.0M136.3 36.4h1.0M122.8 101.2h1.0M145.1 108.2h1.0M142.3 27.9h1.0M162.2 122.4h1.0M153.4 107.1h1.0M162.3 170.9h1.0M173.5 132.0h1.0M144.6 73.1h1.0M145.8 169.5h1.0M143.8 83.0h1.0M145.2 47.4h1.0M181.1 27.1h1.0M157.3 162.6h1.0M135.7 116.2h1.0M143.2 61.7h1.0M132.3 43.4h1.0M171.6 141.7h1.0M175.6 33.6h1.0M162.5 74.0h1.0M159.6 107.1h1.0M139.5 169.3h1.0M120.3 136.1h1.0M172.3 101.4h1.0M156.3 172.7h1.0M134.5 119.0h1.0M165.5 82.1h1.0M163.6 84.2h1.0M152.3 116.5h1.0M161.5 73.7h1.0M158.6 106.2h1.0M133.8 116.5h1.0M136.4 160.1h1.0M149.1 132.5h1.0M152.0 96.5h1.0M133.7 47.2h1.0M176.8 104.1h1.0M152.2 103.9h1.0M169.8 61.4h1.0M130.7 147.3h1.0M148.3 120.6h1.0M170.7 157.9h1.0M173.1 32.7h1.0M143.5 148.8h1.0M170.1 44.4h1.0M129.6 63.3h1.0M126.5 78.8h1.0M169.2 103.0h1.0M147.8 39.3h1.0M144.3 173.1h1.0M162.6 92.4h1.0M149.4 143.8h1.0M166.5 48.4h1.0M161.7 80.3h1.0M152.0 61.3h1.0M142.8 76.4h1.0M143.4 28.9h1.0M132.5 110.3h1.0M123.7 52.6h1.0M164.0 66.7h1.0M140.0 61.9h1.0M171.1 39.7h1.0M159.0 152.7h1.0M132.5 88.6h1.0M168.5 117.2h1.0M142.9 32.8h1.0M147.2 80.3h1.0M163.7 69.8h1.0M145.1 121.7h1.0M169.7 78.2h1.0M143.7 111.5h1.0M176.6 54.5h1.0M179.5 131.1h1.0M142.9 124.3h1.0M140.3 36.7h1.0M166.3 82.1h1.0M152.3 99.4h1.0M175.2 137.7h1.0M121.8 113.6h1.0M148.4 94.3h1.0M171.4 87.4h1.0M149.1 157.4h1.0M147.0 98.6h1.0M151.4 147.7h1.0M161.1 135.3h1.0M144.7 32.3h1.0M161.7 107.8h1.0M167.1 139.6h1.0M127.4 58.8h1.0M124.9 146.6h1.0M126.4 39.3h1.0M166.2 109.4h1.0M123.6 126.5h1.0M163.6 97.4h1.0M123.5 128.0h1.0M145.7 112.3h1.0M181.1 146.5h1.0M173.4 47.7h1.0M140.6 102.6h1.0M120.6 171.8h1.0M137.0 64.9h1.0M139.3 63.8h1.0M172.6 108.1h1.0M151.4 88.2h1.0M123.3 71.1h1.0M173.1 144.4h1.0M172.5 64.1h1.0M132.5 34.0h1.0M152.9 81.3h1.0M148.5 98.3h1.0M155.8 80.1h1.0M169.1 55.8h1.0M176.3 108.2h1.0M123.3 72.6h1.0M152.7 86.5h1.0M154.7 73.9h1.0M136.9 143.5h1.0M138.0 130.9h1.0M169.2 113.5h1.0M147.9 163.9h1.0M147.3 155.6h1.0M123.7 90.1h1.0M159.2 33.5h1.0M172.8 36.9h1.0M156.6 52.8h1.0M176.5 108.9h1.0M169.0 99.6h1.0M161.3 125.7h1.0M138.2 57.4h1.0M171.3 47.8h1.0M176.2 56.8h1.0M126.4 40.3h1.0M168.0 166.3h1.0M145.5 123.3h1.0M135.9 159.6h1.0M162.0 49.1h1.0M123.7 128.7h1.0M122.7 149.4h1.0M138.1 60.5h1.0M155.7 73.2h1.0M154.4 49.0h1.0M175.8 74.1h1.0M171.5 48.7h1.0M169.0 170.6h1.0M144.1 31.1h1.0M143.4 120.6h1.0M133.8 106.6h1.0M125.9 94.7h1.0M164.6 89.6h1.0M161.6 43.1h1.0M170.7 44.3h1.0M176.5 172.9h1.0M177.5 103.8h1.0M137.9 77.5h1.0M166.0 99.4h1.0M176.9 40.0h1.0M149.8 153.5h1.0M156.7 105.9h1.0M125.6 46.9h1.0M136.7 157.8h1.0M171.8 59.7h1.0M176.6 31.1h1.0M156.7 168.7h1.0M141.2 165.3h1.0M160.2 33.7h1.0M140.5 92.5h1.0M135.3 135.6h1.0M131.1 142.3h1.0M138.4 36.5h1.0M154.3 40.4h1.0M153.8 142.3h1.0M156.5 94.2h1.0M122.3 101.9h1.0M126.1 121.5h1.0M128.3 111.4h1.0M141.7 81.5h1.0M160.7 50.4h1.0M130.6 164.9h1.0M140.4 150.3h1.0M173.5 97.0h1.0M129.3 40.1h1.0M173.8 43.5h1.0M150.5 105.2h1.0M127.4 95.2h1.0M130.2 105.1h1.0M151.1 80.3h1.0M132.3 85.7h1.0M132.6 45.0h1.0M134.8 154.6h1.0M150.8 157.4h1.0M121.1 165.2h1.0M150.0 142.7h1.0M155.0 127.7h1.0M134.2 136.7h1.0M129.6 65.2h1.0M122.1 84.2h1.0M151.8 69.3h1.0M174.5 38.7h1.0M155.5 60.7h1.0M156.5 141.7h1.0M163.6 35.4h1.0M135.2 114.5h1.0M180.2 32.4h1.0M157.9 128.1h1.0M169.9 76.7h1.0M169.6 94.3h1.0M176.4 27.9h1.0M177.6 86.9h1.0M145.0 39.3h1.0M135.1 134.3h1.0M161.6 48.6h1.0M141.2 47.0h1.0M132.3 58.6h1.0M140.4 170.0h1.0M181.0 142.8h1.0M149.5 99.5h1.0M167.7 160.0h1.0M166.0 120.0h1.0M132.3 118.3h1.0M171.8 142.1h1.0M125.8 131.9h1.0M141.5 50.2h1.0M179.1 125.3h1.0M165.7 46.2h1.0M170.7 164.2h1.0M175.4 136.0h1.0M171.0 144.4h1.0M156.2 90.4h1.0M170.5 141.8h1.0M173.3 70.3h1.0M178.8 104.6h1.0M177.9 43.4h1.0M179.3 142.2h1.0M135.6 149.7h1.0M134.4 55.4h1.0M148.1 61.1h1.0M150.2 160.0h1.0M162.0 130.9h1.0M144.1 141.7h1.0M168.6 126.8h1.0M177.6 147.9h1.0M145.0 39.1h1.0M160.0 149.4h1.0M140.9 113.9h1.0M171.2 143.0h1.0M120.5 98.3h1.0M121.2 42.6h1.0M169.8 87.9h1.0M157.1 93.6h1.0M140.7 57.8h1.0M141.8 150.6h1.0M158.0 69.3h1.0M125.6 66.2h1.0M163.0 91.4h1.0M160.5 145.1h1.0M127.6 126.8h1.0M122.7 147.4h1.0M131.4 66.3h1.0M178.6 79.6h1.0M133.9 157.3h1.0M157.4 157.9h1.0M144.3 99.9h1.0M178.5 100.9h1.0M180.5 54.2h1.0M170.9 50.2h1.0M152.4 26.4h1.0M130.9 165.4h1.0M147.9 145.4h1.0M135.5 78.2h1.0M126.4 107.7h1.0M172.8 101.9h1.0M143.2 163.0h1.0M174.7 124.4h1.0M124.8 118.2h1.0M147.3 167.3h1.0M142.3 123.6h1.0M158.7 81.6h1.0M152.1 125.9h1.0M175.5 99.6h1.0M142.4 170.0h1.0M123.7 149.2h1.0M161.9 108.4h1.0M147.5 136.9h1.0M174.6 133.6h1.0M165.9 31.5h1.0M140.0 46.5h1.0M178.3 157.5h1.0M129.0 112.8h1.0M155.4 33.2h1.0M144.1 136.3h1.0M159.3 67.6h1.0M166.7 69.2h1.0M153.4 88.2h1.0M179.9 121.8h1.0M169.3 125.9h1.0M143.4 168.1h1.0M163.5 128.0h1.0M137.1 50.1h1.0M155.3 147.9h1.0M168.6 77.4h1.0M128.7 102.3h1.0M173.7 50.2h1.0M165.2 51.4h1.0M139.2 34.2h1.0M138.4 82.7h1.0M179.2 167.9h1.0M131.6 71.8h1.0M177.8 55.4h1.0M139.8 90.8h1.0M126.8 64.6h1.0M144.2 83.0h1.0M179.0 65.6h1.0M132.6 160.1h1.0M147.7 149.5h1.0M159.1 140.9h1.0M139.4 48.7h1.0M166.4 95.5h1.0M154.3 125.0h1.0M166.1 66.8h1.0M142.3 161.4h1.0M152.5 68.7h1.0M158.6 64.5h1.0M167.3 32.4h1.0M170.6 109.7h1.0M141.8 164.7h1.0M136.4 62.1h1.0M124.5 107.0h1.0M166.2 126.1h1.0M145.4 145.2h1.0M127.0 71.5h1.0M159.5 168.7h1.0M158.9 128.2h1.0M167.5 84.4h1.0M177.6 135.6h1.0M141.0 84.1h1.0M169.3 77.8h1.0M131.5 154.6h1.0M152.6 103.0h1.0M161.0 159.0h1.0M128.3 76.2h1.0M124.2 87.1h1.0M150.8 151.7h1.0M160.9 111.4h1.0M144.8 110.8h1.0M136.9 150.7h1.0M168.3 149.7h1.0M129.4 125.2h1.0M166.2 100.0h1.0M175.0 158.6h1.0M165.5 147.1h1.0M159.8 155.6h1.0M128.2 129.9h1.0M163.1 116.4h1.0M137.0 36.2h1.0M157.0 147.6h1.0M136.9 57.7h1.0M133.9 40.1h1.0M161.4 169.8h1.0M169.1 79.3h1.0M162.9 36.9h1.0M171.4 74.2h1.0M120.4 118.9h1.0M128.7 66.8h1.0M123.8 91.9h1.0M154.0 145.1h1.0M122.6 148.1h1.0M126.9 59.3h1.0M158.6 76.4h1.0M140.4 110.0h1.0M133.5 143.1h1.0M132.9 149.9h1.0M169.5 105.4h1.0M122.1 140.8h1.0M121.9 100.6h1.0M146.1 35.6h1.0M158.6 133.0h1.0M155.9 85.2h1.0M151.4 113.0h1.0M134.0 154.0h1.0M180.9 144.7h1.0M178.8 74.8h1.0M180.4 36.8h1.0M149.4 46.0h1.0M147.9 126.8h1.0M163.4 93.2h1.0M141.0 54.3h1.0M144.8 67.9h1.0M132.0 134.6h1.0M151.7 90.9h1.0M132.3 129.9h1.0M132.2 65.4h1.0M154.4 129.5h1.0M179.6 136.4h1.0M178.0 161.7h1.0M164.3 132.2h1.0M124.0 56.6h1.0M121.0 153.4h1.0M164.2 119.1h1.0M136.3 78.6h1.0M130.2 119.4h1.0M180.7 71.3h1.0M122.9 52.1h1.0M141.9 158.6h1.0M169.3 93.3h1.0M126.4 42.0h1.0M129.6 140.7h1.0M148.9 172.1h1.0M175.8 143.3h1.0M149.3 147.3h1.0M128.0 42.3h1.0M154.6 101.1h1.0M133.0 63.4h1.0M121.5 160.1h1.0M163.5 165.5h1.0M180.0 90.6h1.0M164.9 82.8h1.0M169.7 150.2h1.0M128.4 28.2h1.0M133.3 112.5h1.0M143.3 27.6h1.0M170.8 142.0h1.0M148.5 32.7h1.0M174.4 104.9h1.0M124.5 73.9h1.0M158.3 156.6h1.0M149.8 120.4h1.0M132.7 62.1h1.0M175.5 82.6h1.0M126.5 113.3h1.0M127.9 55.7h1.0M148.0 112.5h1.0M159.0 130.4h1.0M147.0 36.2h1.0M164.4 34.2h1.0M148.9 85.2h1.0M161.2 131.4h1.0M134.8 121.9h1.0M162.4 95.7h1.0M128.8 160.1h1.0M156.7 35.5h1.0M134.8 171.6h1.0M134.2 84.0h1.0M168.3 147.6h1.0M158.9 135.5h1.0M122.5 40.1h1.0M179.7 144.5h1.0M122.5 33.5h1.0M134.9 163.3h1.0M133.6 125.2h1.0M177.0 120.3h1.0M176.3 65.0h1.0M129.6 29.0h1.0M166.4 41.6h1.0M179.6 130.8h1.0M131.6 145.1h1.0M130.1 101.7h1.0M126.7 142.1h1.0M174.5 161.2h1.0M120.3 151.6h1.0M154.1 147.2h1.0M150.9 117.5h1.0M156.5 144.0h1.0M124.9 34.3h1.0M153.5 69.1h1.0M144.4 27.4h1.0M165.6 29.8h1.0M170.8 145.8h1.0M148.1 44.3h1.0M159.9 56.8h1.0M146.4 42.6h1.0M179.8 106.7h1.0M141.7 40.1h1.0M164.7 151.4h1.0M171.9 41.2h1.0M142.6 70.9h1.0M166.7 48.1h1.0M157.2 170.3h1.0M167.1 27.3h1.0M124.8 43.0h1.0M162.4 114.4h1.0M151.9 93.4h1.0M145.1 116.2h1.0M159.8 161.2h1.0M164.9 143.6h1.0M175.9 149.5h1.0M163.9 30.8h1.0M161.7 151.4h1.0M146.5 155.6h1.0M131.2 165.1h1.0M147.1 130.3h1.0M135.6 70.5h1.0M141.5 74.1h1.0M126.0 91.5h1.0M180.0 122.6h1.0M177.1 138.5h1.0M171.2 172.7h1.0M166.1 66.7h1.0M135.4 87.0h1.0M121.5 60.3h1.0M174.3 161.9h1.0M140.3 139.7h1.0M167.5 157.3h1.0M168.7 104.6h1.0M126.6 147.8h1.0M139.3 118.6h1.0M142.6 105.4h1.0M179.1 50.0h1.0M152.6 122.0h1.0M153.0 164.4h1.0M145.1 160.8h1.0M162.3 168.7h1.0M125.7 57.6h1.0M137.7 159.7h1.0M121.0 64.6h1.0M163.9 172.0h1.0M131.0 90.8h1.0M162.1 128.0h1.0M165.7 137.2h1.0M135.4 64.1h1.0M121.9 128.0h1.0M133.0 64.5h1.0M179.0 121.0h1.0M156.3 122.9h1.0M156.7 128.6h1.0M138.7 35.7h1.0M124.3 28.4h1.0M142.3 47.2h1.0M127.1 99.0h1.0M179.3 127.5h1.0M136.9 139.6h1.0M131.1 41.0h1.0M138.7 86.5h1.0M162.3 91.8h1.0M164.6 40.3h1.0M177.1 76.7h1.0M171.0 30.8h1.0M170.8 59.6h1.0M172.4 144.5h1.0M161.1 67.2h1.0M120.8 54.3h1.0M175.4 49.6h1.0M160.4 112.7h1.0M160.5 52.9h1.0M129.0 40.6h1.0M180.1 82.7h1.0M160.0 110.1h1.0M133.8 35.8h1.0M121.1 151.8h1.0M128.1 168.1h1.0M142.4 132.7h1.0M128.6 142.3h1.0M135.6 80.2h1.0M152.1 42.7h1.0M135.3 143.5h1.0M137.6 82.3h1.0M166.9 59.3h1.0M132.0 58.5h1.0M143.6 80.1h1.0M159.3 95.7h1.0M173.2 33.7h1.0M160.7 149.4h1.0M134.5 30.6h1.0M146.9 43.4h1.0M148.3 131.0h1.0M125.9 43.6h1.0M149.5 51.9h1.0M134.3 91.1h1.0M127.4 36.3h1.0M142.2 95.4h1.0M177.3 108.0h1.0M124.6 59.0h1.0M165.6 109.2h1.0M173.3 168.0h1.0M172.5 42.5h1.0M177.8 103.6h1.0M134.8 51.4h1.0M172.9 57.6h1.0M125.3 65.4h1.0M176.6 94.1h1.0M164.8 37.3h1.0M147.8 73.1h1.0M132.7 123.9h1.0M142.2 43.9h1.0M180.2 97.2h1.0M131.2 27.9h1.0M160.0 102.1h1.0M121.7 95.5h1.0M165.4 105.4h1.0M134.5 99.8h1.0M157.1 122.1h1.0M129.0 144.6h1.0M177.9 135.3h1.0M172.5 80.4h1.0M175.3 53.1h1.0M134.0 114.3h1.0M175.2 38.4h1.0M133.4 31.6h1.0M147.0 47.0h1.0M131.9 136.5h1.0M155.8 164.6h1.0M144.7 126.3h1.0M121.0 165.9h1.0M134.4 96.5h1.0M151.4 165.9h1.0M150.2 172.3h1.0M158.1 58.2h1.0M171.1 56.0h1.0M181.2 93.5h1.0M134.0 167.8h1.0M139.8 86.2h1.0M141.1 124.7h1.0M121.6 81.3h1.0M130.1 148.2h1.0M120.2 115.7h1.0M135.9 93.2h1.0M154.5 131.1h1.0M128.6 61.7h1.0M127.6 167.6h1.0M129.3 46.5h1.0M152.1 111.9h1.0M174.3 34.7h1.0M134.5 51.0h1.0M155.9 92.9h1.0M145.1 157.1h1.0M160.6 152.9h1.0M178.6 65.9h1.0M177.7 86.3h1.0M123.3 161.0h1.0M126.6 28.9h1.0M137.9 68.8h1.0M179.2 154.4h1.0M145.8 104.2h1.0M172.0 145.1h1.0M160.1 101.8h1.0M127.3 62.2h1.0M160.3 112.6h1.0M169.1 158.6h1.0M178.9 54.7h1.0M124.8 158.4h1.0M155.0 53.0h1.0M162.4 63.9h1.0M134.6 80.2h1.0M152.2 126.0h1.0M124.7 135.4h1.0M158.3 95.7h1.0M161.2 144.0h1.0M120.8 96.3h1.0M161.6 130.7h1.0M159.7 52.8h1.0M178.7 142.0h1.0M134.4 89.7h1.0M178.6 56.8h1.0M145.2 167.8h1.0M175.1 60.5h1.0M165.1 79.2h1.0M160.7 139.2h1.0M128.0 59.1h1.0M133.3 65.5h1.0M122.4 46.3h1.0M145.0 88.2h1.0" stroke="#0a0aff" stroke-width="1.0" fill="none" opacity="0.72"/><path d="M133.8 163.8h1.0M132.8 164.1h1.0M158.5 164.5h1.0M149.6 163.3h1.0M160.3 163.9h1.0M160.7 163.6h1.0M176.0 164.0h1.0M149.6 163.1h1.0M131.2 163.9h1.0M169.3 163.4h1.0M179.8 163.4h1.0M178.2 164.1h1.0M164.7 163.9h1.0M129.6 164.0h1.0M175.7 163.9h1.0M170.9 163.6h1.0M180.3 163.6h1.0M153.9 163.5h1.0M128.3 165.0h1.0M160.1 163.9h1.0M152.5 164.2h1.0M173.7 163.6h1.0M170.9 163.9h1.0M138.2 164.1h1.0M135.0 163.5h1.0M145.9 163.6h1.0M128.3 164.2h1.0M148.3 163.6h1.0M156.0 164.2h1.0M176.5 163.5h1.0M151.0 163.3h1.0M121.4 163.7h1.0M147.2 163.8h1.0M169.2 163.8h1.0M130.8 163.1h1.0M154.4 163.9h1.0M140.3 163.2h1.0M168.3 163.7h1.0M126.8 163.5h1.0M137.2 163.7h1.0M167.6 163.2h1.0M166.8 163.8h1.0M176.1 163.2h1.0M151.2 164.0h1.0M151.6 163.6h1.0M152.9 163.3h1.0M149.6 164.5h1.0M173.9 163.5h1.0M178.0 163.8h1.0M178.0 164.4h1.0" stroke="#0a0aff" stroke-width="1.0" fill="none" opacity="0.85"/><line x1="119.30" y1="25.50" x2="119.30" y2="175.30" stroke="#000" stroke-width="1.6" /><line x1="114.70" y1="165.80" x2="118.50" y2="165.80" stroke="#000" stroke-width="1.3" /><line x1="114.70" y1="130.92" x2="118.50" y2="130.92" stroke="#000" stroke-width="1.3" /><line x1="114.70" y1="96.04" x2="118.50" y2="96.04" stroke="#000" stroke-width="1.3" /><line x1="114.70" y1="61.16" x2="118.50" y2="61.16" stroke="#000" stroke-width="1.3" /><line x1="114.70" y1="26.28" x2="118.50" y2="26.28" stroke="#000" stroke-width="1.3" /><line x1="118.50" y1="174.60" x2="181.80" y2="174.60" stroke="#000" stroke-width="1.4" /><line x1="119.30" y1="175.30" x2="119.30" y2="178.60" stroke="#000" stroke-width="1.4" /><line x1="133.35" y1="175.30" x2="133.35" y2="178.60" stroke="#000" stroke-width="1.4" /><line x1="147.40" y1="175.30" x2="147.40" y2="178.60" stroke="#000" stroke-width="1.4" /><line x1="161.45" y1="175.30" x2="161.45" y2="178.60" stroke="#000" stroke-width="1.4" /><line x1="175.50" y1="175.30" x2="175.50" y2="178.60" stroke="#000" stroke-width="1.4" /><text x="0" y="0" font-size="11.6" text-anchor="middle" fill="#000" stroke="#000" stroke-width="0.18" transform="translate(119.40,189.70) scale(1,1.05)" >0</text><text x="0" y="0" font-size="11.6" text-anchor="middle" fill="#000" stroke="#000" stroke-width="0.18" transform="translate(148.20,189.70) scale(1,1.05)" >200</text><text x="0" y="0" font-size="11.6" text-anchor="middle" fill="#000" stroke="#000" stroke-width="0.18" transform="translate(176.10,189.70) scale(1,1.05)" >400</text><text x="0" y="0" font-size="11.5" text-anchor="middle" fill="#000" stroke="#000" stroke-width="0.18" transform="translate(153.60,201.80) scale(1,1.05)" >Trial no.</text><path d="M267.0 98.9h1.0M237.3 80.4h1.0M279.3 138.4h1.0M284.5 50.2h1.0M328.1 80.4h1.0M338.9 170.8h1.0M218.6 112.0h1.0M339.9 83.0h1.0M278.4 72.5h1.0M202.2 56.4h1.0M216.2 68.1h1.0M290.4 109.2h1.0M337.2 127.2h1.0M251.2 166.1h1.0M291.1 106.3h1.0M324.6 124.9h1.0M250.9 115.3h1.0M242.1 169.0h1.0M233.9 169.5h1.0M207.5 27.7h1.0M279.2 56.6h1.0M272.5 43.7h1.0M320.8 124.8h1.0M298.4 162.7h1.0M343.6 126.1h1.0M302.7 26.6h1.0M205.2 89.1h1.0M340.3 72.4h1.0M281.5 27.6h1.0M259.0 159.2h1.0M284.5 147.6h1.0M199.9 56.1h1.0M224.3 148.8h1.0M212.9 163.5h1.0M237.3 155.9h1.0M273.7 73.9h1.0M339.9 85.9h1.0M300.4 36.2h1.0M319.9 170.7h1.0M214.2 136.1h1.0M237.7 48.1h1.0M251.5 123.7h1.0M338.0 172.6h1.0M343.9 118.0h1.0M293.9 50.0h1.0M304.6 107.4h1.0M250.7 158.8h1.0M235.4 47.2h1.0M221.2 48.3h1.0M284.4 144.2h1.0M221.5 100.3h1.0M282.3 108.8h1.0M258.6 106.3h1.0M200.2 34.9h1.0M260.0 61.2h1.0M309.1 61.9h1.0M319.0 61.8h1.0M211.6 96.6h1.0M254.9 75.7h1.0M310.3 59.0h1.0M296.4 149.2h1.0M264.4 100.4h1.0M333.6 115.2h1.0M224.6 36.5h1.0M210.1 75.1h1.0M211.0 121.8h1.0M260.2 71.7h1.0M273.2 164.2h1.0M233.9 49.1h1.0M242.8 74.0h1.0M331.6 130.3h1.0M261.0 50.7h1.0M204.7 44.3h1.0M322.4 121.7h1.0M221.0 118.3h1.0M206.6 100.9h1.0M247.2 41.4h1.0M307.0 131.8h1.0M273.0 51.0h1.0M296.3 90.1h1.0M295.1 39.8h1.0M330.5 26.8h1.0M230.7 84.9h1.0M227.1 39.2h1.0M298.9 172.6h1.0M247.2 65.5h1.0M296.5 59.1h1.0M256.8 127.6h1.0M261.2 49.2h1.0M208.3 106.2h1.0M343.4 161.7h1.0M212.7 100.2h1.0M269.7 54.9h1.0M296.3 99.3h1.0M316.7 69.3h1.0M335.1 146.2h1.0M267.5 47.1h1.0M269.0 45.0h1.0M298.7 129.0h1.0M282.9 170.0h1.0M204.6 131.6h1.0M315.6 42.9h1.0M245.3 34.2h1.0M283.6 132.7h1.0M249.1 128.7h1.0M251.8 131.1h1.0M238.7 170.3h1.0M262.3 26.8h1.0M211.4 133.2h1.0M324.9 120.0h1.0M220.8 154.7h1.0M303.2 43.3h1.0M253.9 125.1h1.0M198.5 32.5h1.0M249.9 155.0h1.0M344.3 73.2h1.0M331.4 142.0h1.0M325.0 112.9h1.0M340.3 121.1h1.0M337.1 109.6h1.0M226.9 102.7h1.0M268.9 76.0h1.0M252.9 101.4h1.0M284.3 59.1h1.0M238.7 100.3h1.0M272.0 87.9h1.0M295.5 53.6h1.0M276.1 66.9h1.0M311.0 129.9h1.0M312.7 102.5h1.0M234.5 162.5h1.0M273.0 81.5h1.0M240.6 85.5h1.0M302.0 146.8h1.0M268.8 133.9h1.0M229.3 92.8h1.0M250.5 71.4h1.0M250.8 137.4h1.0M305.7 56.8h1.0M232.3 141.8h1.0M294.1 125.8h1.0M291.3 128.4h1.0M238.0 35.3h1.0M250.9 31.1h1.0M339.2 103.5h1.0M296.4 168.6h1.0M316.1 60.1h1.0M247.5 42.3h1.0M314.8 134.8h1.0M269.6 80.7h1.0M237.6 98.0h1.0M302.5 158.1h1.0M322.6 154.0h1.0M262.5 88.3h1.0M244.1 169.7h1.0M224.9 49.5h1.0M239.2 162.0h1.0M323.2 75.1h1.0M323.0 157.4h1.0M260.7 54.6h1.0M311.4 81.4h1.0M215.5 159.2h1.0M262.5 84.8h1.0M285.4 63.9h1.0M201.0 83.7h1.0M253.7 27.9h1.0M252.6 138.4h1.0M246.9 126.3h1.0M289.7 54.0h1.0M201.0 125.6h1.0M287.7 69.5h1.0M227.4 152.2h1.0M331.5 60.6h1.0M284.0 110.9h1.0M245.3 31.7h1.0M245.8 121.2h1.0M286.4 101.4h1.0M216.0 57.6h1.0M243.7 87.6h1.0M251.3 159.1h1.0M215.0 171.5h1.0M233.3 152.4h1.0M233.8 112.7h1.0M253.4 31.9h1.0M314.9 145.6h1.0M237.5 140.6h1.0M268.3 171.6h1.0M206.0 82.3h1.0M231.4 118.3h1.0M312.2 150.3h1.0M278.5 83.3h1.0M315.4 41.7h1.0M236.2 137.1h1.0M262.7 172.5h1.0M211.4 94.3h1.0M229.2 26.6h1.0M211.7 39.7h1.0M252.2 90.0h1.0M272.5 68.9h1.0M301.1 102.3h1.0M342.1 51.2h1.0M273.0 99.0h1.0M252.6 153.1h1.0M228.8 155.5h1.0M250.5 75.7h1.0M288.3 109.2h1.0M239.7 38.7h1.0M338.2 80.7h1.0M214.8 122.9h1.0M276.1 74.5h1.0M246.2 150.7h1.0M247.7 87.7h1.0M338.5 79.4h1.0M257.0 50.1h1.0M295.3 124.2h1.0M263.5 86.0h1.0M232.2 142.6h1.0M265.1 148.8h1.0M253.0 134.3h1.0M202.2 58.6h1.0M339.0 126.7h1.0M297.2 99.5h1.0M267.3 55.4h1.0M223.4 121.3h1.0M299.9 64.4h1.0M292.6 46.3h1.0M288.0 51.6h1.0M272.8 72.5h1.0M278.8 46.0h1.0M269.0 117.1h1.0M217.8 71.7h1.0M297.6 106.7h1.0M288.5 141.1h1.0M281.9 59.0h1.0M263.0 148.5h1.0M281.2 137.2h1.0M251.4 92.3h1.0M340.4 147.3h1.0M293.8 42.0h1.0M287.8 31.2h1.0M335.1 169.4h1.0M304.9 65.7h1.0M322.2 52.4h1.0M319.5 102.9h1.0M200.3 157.3h1.0M262.6 148.5h1.0M299.1 104.7h1.0M324.6 56.2h1.0M329.9 76.2h1.0M201.8 75.8h1.0M207.7 36.9h1.0M289.6 44.1h1.0M221.4 69.4h1.0M238.9 161.7h1.0M330.9 154.4h1.0M343.3 91.1h1.0M314.8 67.7h1.0M334.0 145.6h1.0M305.5 59.8h1.0M211.4 162.5h1.0M279.1 116.4h1.0M324.5 47.4h1.0M300.7 94.6h1.0M313.4 93.4h1.0M226.9 167.1h1.0M239.3 135.9h1.0M320.0 62.8h1.0M300.0 84.6h1.0M230.9 58.3h1.0M338.1 80.5h1.0M272.8 100.1h1.0M201.9 137.2h1.0M307.4 155.2h1.0M250.4 57.2h1.0M249.0 134.1h1.0M294.6 86.1h1.0M275.0 49.0h1.0M332.8 95.8h1.0M272.4 142.1h1.0M227.0 132.6h1.0M249.9 145.9h1.0M211.9 66.9h1.0M291.3 97.3h1.0M253.3 111.5h1.0M230.0 90.7h1.0M198.3 143.9h1.0M235.3 148.6h1.0M279.1 114.8h1.0M289.9 44.8h1.0M312.1 69.3h1.0M324.7 142.1h1.0M297.6 146.3h1.0M262.1 125.4h1.0M337.9 54.1h1.0M212.8 86.9h1.0M272.8 48.2h1.0M230.5 153.9h1.0M255.0 48.2h1.0M224.9 111.3h1.0M225.9 96.2h1.0M276.9 91.0h1.0M271.9 149.5h1.0M200.5 163.2h1.0M227.2 31.9h1.0M310.7 110.2h1.0M277.0 58.3h1.0M312.7 71.4h1.0M304.7 59.9h1.0M282.1 121.7h1.0M252.6 96.9h1.0M207.6 121.0h1.0M299.5 48.9h1.0M278.8 134.2h1.0M212.8 149.8h1.0M325.8 33.7h1.0M234.5 38.7h1.0M235.1 39.0h1.0M269.8 63.2h1.0M242.1 94.2h1.0M252.5 142.4h1.0M304.1 43.1h1.0M230.8 27.5h1.0M246.3 42.2h1.0M300.3 141.2h1.0M344.2 57.1h1.0M203.4 137.7h1.0M258.4 163.4h1.0M255.6 72.3h1.0M208.7 165.8h1.0M273.2 91.2h1.0M262.2 139.4h1.0M320.0 96.4h1.0M224.2 86.1h1.0M328.8 86.3h1.0M295.0 108.7h1.0M265.7 110.9h1.0M234.0 108.4h1.0M324.9 38.1h1.0M252.2 155.9h1.0M341.6 28.3h1.0M290.0 119.3h1.0M321.8 95.5h1.0M217.2 70.5h1.0M302.6 133.5h1.0M228.0 120.9h1.0M294.4 123.1h1.0M201.2 91.3h1.0M245.7 114.2h1.0M247.4 45.2h1.0M296.4 68.5h1.0M314.1 71.3h1.0M278.1 145.3h1.0M215.0 133.9h1.0M208.0 164.1h1.0M201.7 132.9h1.0M252.1 52.7h1.0M256.0 100.1h1.0M258.9 44.3h1.0M274.7 70.5h1.0M340.0 82.7h1.0M261.9 59.9h1.0M340.2 73.7h1.0M292.9 148.9h1.0M255.7 137.5h1.0M238.9 42.4h1.0M204.2 92.4h1.0M326.3 56.2h1.0M262.7 138.6h1.0M238.5 48.8h1.0M274.2 88.9h1.0M335.8 158.4h1.0M232.9 108.9h1.0M259.1 31.3h1.0M263.2 161.1h1.0M242.4 112.6h1.0M302.3 35.6h1.0M333.7 42.4h1.0M242.3 131.7h1.0M200.8 81.6h1.0M216.6 96.0h1.0M200.3 48.5h1.0M230.7 38.3h1.0M211.3 54.9h1.0M274.0 46.5h1.0M318.5 87.7h1.0M235.0 61.8h1.0M321.3 33.2h1.0M307.0 40.7h1.0M336.7 86.4h1.0M285.7 153.4h1.0M212.7 35.7h1.0M299.8 112.8h1.0M303.8 67.2h1.0M270.9 53.8h1.0M262.2 67.8h1.0M284.0 70.3h1.0M238.3 120.9h1.0M210.6 144.2h1.0M270.8 60.0h1.0M214.9 101.2h1.0M272.0 132.2h1.0M252.9 87.0h1.0M329.0 66.6h1.0M342.0 157.7h1.0M343.4 165.1h1.0M235.8 146.2h1.0M287.8 56.3h1.0M344.4 121.6h1.0M316.9 108.4h1.0M209.7 153.4h1.0M223.8 64.4h1.0M288.5 54.9h1.0M265.9 131.3h1.0M212.1 123.5h1.0M213.3 96.3h1.0M293.3 127.5h1.0M204.3 54.4h1.0M339.0 83.9h1.0M260.4 81.4h1.0M300.2 135.3h1.0M293.5 85.5h1.0M281.6 102.2h1.0M225.6 166.1h1.0M339.6 140.7h1.0M343.7 94.8h1.0M321.2 61.7h1.0M307.0 131.5h1.0M335.8 149.0h1.0M327.1 65.7h1.0M313.6 96.3h1.0M243.9 80.5h1.0M315.3 150.4h1.0M322.0 124.8h1.0M223.0 49.2h1.0M281.4 57.5h1.0M247.4 41.4h1.0M220.7 131.8h1.0M230.8 151.1h1.0M246.3 151.2h1.0M242.4 65.7h1.0M256.0 28.1h1.0M261.9 82.2h1.0M199.9 153.1h1.0M253.1 26.4h1.0M339.0 59.9h1.0M235.1 29.9h1.0M212.6 130.8h1.0M283.4 100.5h1.0M234.1 68.5h1.0M340.4 81.1h1.0M343.3 156.8h1.0M216.3 151.1h1.0M201.1 131.0h1.0M316.8 128.7h1.0M278.7 146.0h1.0M220.7 105.8h1.0M237.0 85.1h1.0M226.1 130.6h1.0M282.1 141.0h1.0M290.2 114.5h1.0M333.3 145.9h1.0M281.2 74.3h1.0M334.2 80.9h1.0M213.0 75.4h1.0M301.7 163.4h1.0M292.8 123.8h1.0M335.6 140.8h1.0M263.4 94.3h1.0M309.5 73.1h1.0M214.1 117.5h1.0M316.8 62.8h1.0M298.4 157.7h1.0M216.7 46.3h1.0M270.4 75.5h1.0M337.4 173.0h1.0M263.4 143.0h1.0M290.7 51.8h1.0M340.7 52.0h1.0M209.2 92.9h1.0M200.6 97.1h1.0M258.5 166.8h1.0M258.7 151.4h1.0M312.5 112.6h1.0M232.9 71.2h1.0M270.1 84.5h1.0M292.8 100.7h1.0M245.4 115.6h1.0M344.3 56.1h1.0M247.3 28.1h1.0M211.8 34.5h1.0M260.1 149.4h1.0M300.4 168.5h1.0M320.9 112.5h1.0M283.2 28.1h1.0M254.3 64.8h1.0M289.1 35.9h1.0M277.6 81.6h1.0M270.2 85.8h1.0M213.0 134.0h1.0M315.5 114.4h1.0M215.0 114.5h1.0M325.9 171.5h1.0M309.3 33.0h1.0M327.0 124.2h1.0M238.6 161.7h1.0M319.3 158.1h1.0M234.3 111.2h1.0M253.6 69.9h1.0M309.8 117.1h1.0M246.7 106.2h1.0M334.3 109.7h1.0M332.1 109.6h1.0M343.7 30.6h1.0M265.5 107.6h1.0M304.7 168.9h1.0M289.5 96.7h1.0M291.1 104.8h1.0M301.5 165.7h1.0M200.0 73.5h1.0M326.6 35.1h1.0M314.0 30.8h1.0M293.2 144.1h1.0M233.0 82.4h1.0M231.2 130.0h1.0M275.6 115.4h1.0M245.8 112.7h1.0M338.1 141.0h1.0M337.7 62.7h1.0M273.8 83.1h1.0M248.8 144.6h1.0M223.7 108.5h1.0M311.6 164.0h1.0M200.7 66.2h1.0M270.4 164.1h1.0M222.0 150.1h1.0M256.3 106.9h1.0M334.2 35.8h1.0M246.4 49.2h1.0M217.6 71.0h1.0M300.9 111.7h1.0M215.9 144.3h1.0M272.5 47.4h1.0M318.4 147.1h1.0M229.8 164.6h1.0M317.0 60.0h1.0M198.1 154.0h1.0M319.3 40.7h1.0M310.5 140.1h1.0M291.0 148.8h1.0M342.6 74.5h1.0M320.4 161.9h1.0M244.0 126.9h1.0M298.5 151.2h1.0M281.2 66.9h1.0M234.9 106.2h1.0M217.9 152.8h1.0M328.5 62.0h1.0M300.4 125.4h1.0M215.9 140.9h1.0M310.5 71.4h1.0M212.4 67.8h1.0M311.3 95.0h1.0M317.7 49.8h1.0M213.6 77.7h1.0M327.2 50.1h1.0M208.8 137.1h1.0M211.4 124.6h1.0M210.3 62.6h1.0M295.4 154.9h1.0M258.1 92.5h1.0M202.6 76.4h1.0M233.5 142.4h1.0M302.8 141.8h1.0M276.1 129.3h1.0M216.7 83.0h1.0M241.0 67.8h1.0M306.5 57.8h1.0M245.8 67.9h1.0M324.8 120.3h1.0M268.6 82.2h1.0M333.3 164.6h1.0M264.0 109.7h1.0M324.6 64.0h1.0M236.0 41.5h1.0M271.7 139.4h1.0M221.0 90.0h1.0M343.4 97.1h1.0M254.1 149.9h1.0M329.0 81.7h1.0M216.1 120.0h1.0M306.7 162.2h1.0M294.9 71.6h1.0M273.6 68.7h1.0M263.5 95.2h1.0M331.9 159.7h1.0M334.0 96.7h1.0M339.6 46.8h1.0M333.2 120.5h1.0M326.1 87.1h1.0M343.5 30.0h1.0M322.5 146.9h1.0M252.9 148.3h1.0M229.4 137.1h1.0M266.8 86.8h1.0M226.9 144.1h1.0M305.3 39.4h1.0M341.6 58.9h1.0M253.1 87.3h1.0M282.6 157.3h1.0M336.7 119.5h1.0M251.7 42.1h1.0M208.1 102.7h1.0M283.6 92.1h1.0M342.2 87.2h1.0M249.5 87.8h1.0M223.2 164.5h1.0M284.8 106.2h1.0M260.5 63.1h1.0M244.3 99.0h1.0M263.5 170.5h1.0M280.7 56.8h1.0M205.9 49.7h1.0M248.8 141.5h1.0M328.5 61.1h1.0M312.5 91.3h1.0M276.9 104.7h1.0M204.2 36.0h1.0M296.0 127.7h1.0M253.8 161.6h1.0M318.4 70.7h1.0M207.8 107.7h1.0M294.1 59.3h1.0M204.4 98.0h1.0M203.0 134.7h1.0M289.8 67.4h1.0M263.4 60.6h1.0M225.3 53.0h1.0M317.7 93.0h1.0M303.0 77.5h1.0M316.4 114.0h1.0M294.0 84.1h1.0M280.5 54.4h1.0M340.9 125.2h1.0M276.2 120.3h1.0M212.7 75.5h1.0M231.9 150.4h1.0M199.9 91.8h1.0M325.5 141.5h1.0M303.5 70.7h1.0M232.1 130.0h1.0M241.8 132.7h1.0M249.4 138.3h1.0M282.1 146.3h1.0M342.7 82.0h1.0M342.8 27.8h1.0M326.8 30.7h1.0M278.0 83.5h1.0M311.0 72.7h1.0M228.6 141.7h1.0M278.8 137.5h1.0M269.8 31.7h1.0M311.2 58.4h1.0M267.3 26.4h1.0M236.0 124.3h1.0M310.2 120.0h1.0M263.1 134.2h1.0M296.2 56.6h1.0M276.6 114.3h1.0M305.0 55.4h1.0M243.6 76.8h1.0M212.1 77.6h1.0M305.1 111.3h1.0M223.4 134.0h1.0M215.1 136.9h1.0M219.7 40.5h1.0M235.0 102.1h1.0M237.6 156.4h1.0M335.8 68.0h1.0M308.1 128.7h1.0M280.4 63.8h1.0M337.4 167.1h1.0M199.9 74.9h1.0M245.1 55.5h1.0M261.2 158.5h1.0M201.5 149.3h1.0M243.4 28.3h1.0M330.1 66.4h1.0M229.1 43.5h1.0M251.9 43.9h1.0M224.4 63.1h1.0M282.9 92.0h1.0M242.8 103.7h1.0M311.6 132.9h1.0M248.4 161.4h1.0M314.2 109.0h1.0M267.8 74.8h1.0M217.7 156.7h1.0M287.3 40.8h1.0M333.9 156.9h1.0M202.9 129.4h1.0M233.0 105.1h1.0M320.5 77.9h1.0M271.2 124.2h1.0M226.2 118.5h1.0M260.4 170.9h1.0M225.6 131.0h1.0M204.0 66.7h1.0M215.3 48.2h1.0M275.5 52.0h1.0M314.7 40.5h1.0M289.5 153.0h1.0M216.6 58.3h1.0M310.3 95.5h1.0M334.8 76.0h1.0M256.4 167.3h1.0M248.5 168.5h1.0M328.8 55.8h1.0M278.1 164.8h1.0M215.2 151.2h1.0M311.7 136.6h1.0M286.2 41.0h1.0M338.7 41.4h1.0M313.0 132.8h1.0M244.6 127.1h1.0M258.3 136.8h1.0M204.4 163.7h1.0M254.4 144.5h1.0M267.2 145.9h1.0M242.2 106.5h1.0M201.7 98.3h1.0M209.6 152.8h1.0M297.4 88.9h1.0M341.0 165.7h1.0M338.4 38.4h1.0M301.4 133.4h1.0M287.0 28.6h1.0M333.6 90.9h1.0M285.3 146.2h1.0M238.4 30.6h1.0M333.6 66.1h1.0M204.0 46.4h1.0M344.0 135.2h1.0M228.8 47.9h1.0M329.8 124.2h1.0M283.6 45.6h1.0M258.7 165.6h1.0M198.5 88.0h1.0M206.4 173.2h1.0M213.3 166.7h1.0M321.5 134.0h1.0M204.2 128.7h1.0M270.4 98.6h1.0M219.3 101.7h1.0M315.7 45.7h1.0M326.6 88.1h1.0M237.1 61.5h1.0M265.5 121.6h1.0M281.7 157.3h1.0M273.1 101.8h1.0M343.2 58.0h1.0M200.4 74.7h1.0M244.0 44.5h1.0M259.4 31.4h1.0M333.2 97.6h1.0M327.0 129.0h1.0M305.1 138.0h1.0M242.3 133.6h1.0M228.2 108.0h1.0M285.4 140.5h1.0M222.6 76.9h1.0M319.0 144.7h1.0M341.6 43.7h1.0M228.9 42.0h1.0M304.2 136.0h1.0M293.1 141.0h1.0M273.7 109.1h1.0M333.2 121.7h1.0M294.3 113.0h1.0M270.5 137.7h1.0M282.1 45.3h1.0M260.5 88.3h1.0M261.5 108.9h1.0M251.1 83.9h1.0M260.7 81.0h1.0M340.7 39.6h1.0M200.5 132.5h1.0M256.0 92.4h1.0M284.9 80.3h1.0M233.1 28.6h1.0M326.3 164.5h1.0M240.0 94.8h1.0M245.5 34.9h1.0M329.0 149.4h1.0M233.4 63.8h1.0M300.5 143.6h1.0M266.9 83.3h1.0M232.3 143.8h1.0M324.8 152.6h1.0M214.8 113.7h1.0M342.6 131.6h1.0M265.4 47.7h1.0M206.9 134.0h1.0M208.1 145.4h1.0M295.7 96.0h1.0M328.9 163.6h1.0M288.5 41.0h1.0M284.4 88.3h1.0M234.6 163.0h1.0M305.2 44.2h1.0M231.6 76.7h1.0M282.1 74.1h1.0M262.5 146.0h1.0M224.7 132.3h1.0M246.5 165.3h1.0M337.7 74.5h1.0M287.0 42.6h1.0M258.3 118.0h1.0M291.7 76.7h1.0M203.0 44.6h1.0M280.3 51.5h1.0M242.9 117.3h1.0M330.2 102.1h1.0M235.4 112.5h1.0M238.5 141.5h1.0M220.9 64.9h1.0M262.4 160.0h1.0M222.3 54.6h1.0M217.3 57.8h1.0M246.8 84.5h1.0M309.5 85.7h1.0M267.7 84.7h1.0M311.7 159.2h1.0M260.5 161.9h1.0M234.8 170.2h1.0M275.1 126.7h1.0M254.0 66.3h1.0M217.8 156.6h1.0M250.8 129.1h1.0M265.6 103.8h1.0M228.4 52.4h1.0M247.4 126.6h1.0M277.8 26.6h1.0M302.3 90.1h1.0M208.1 64.6h1.0M229.1 147.4h1.0M278.7 74.4h1.0M234.5 69.2h1.0M239.1 77.3h1.0M314.1 142.4h1.0M300.5 156.6h1.0M294.0 43.0h1.0M204.5 50.5h1.0M235.9 104.1h1.0M318.7 112.5h1.0M261.1 61.9h1.0M342.1 137.2h1.0M248.1 33.1h1.0M342.1 64.0h1.0M322.4 43.6h1.0M293.9 78.8h1.0M328.5 70.0h1.0M212.8 55.6h1.0M316.3 170.4h1.0M292.4 126.7h1.0M239.4 66.4h1.0M210.7 171.3h1.0M204.4 116.4h1.0M249.4 53.8h1.0M262.0 163.3h1.0M234.4 50.5h1.0M290.4 123.0h1.0M273.0 52.7h1.0M326.3 42.6h1.0M223.6 61.9h1.0M273.4 96.4h1.0M279.3 133.3h1.0M329.2 95.2h1.0M204.2 148.6h1.0M200.7 73.1h1.0M219.0 114.9h1.0M312.8 45.3h1.0M241.2 151.6h1.0M299.2 42.3h1.0M298.8 143.2h1.0M258.0 49.2h1.0M294.7 73.3h1.0M217.6 50.5h1.0M257.1 45.0h1.0M254.5 107.5h1.0M279.0 85.7h1.0M315.5 39.2h1.0M246.4 163.7h1.0M324.9 161.8h1.0M310.3 105.2h1.0M313.6 110.6h1.0M215.3 63.9h1.0M212.3 155.1h1.0M245.3 86.3h1.0M277.0 41.2h1.0M301.6 143.4h1.0M314.9 156.0h1.0M244.6 47.7h1.0M309.8 128.3h1.0M252.5 76.8h1.0M220.6 148.8h1.0M265.6 145.8h1.0M247.9 73.6h1.0M273.3 136.1h1.0M327.6 78.3h1.0M299.8 85.7h1.0M324.5 138.2h1.0M279.5 79.7h1.0M238.2 156.6h1.0M315.6 71.2h1.0M210.4 55.0h1.0M339.5 32.1h1.0M316.9 104.2h1.0M279.3 105.7h1.0M258.2 108.3h1.0M211.2 161.7h1.0M213.1 46.7h1.0M296.7 120.6h1.0M316.4 128.3h1.0M334.6 33.9h1.0M199.6 61.2h1.0M312.3 48.8h1.0M276.0 139.7h1.0M220.9 103.9h1.0M330.2 136.3h1.0M256.4 96.8h1.0M238.8 167.7h1.0M312.9 126.5h1.0M242.7 134.0h1.0M269.5 143.8h1.0M251.4 156.1h1.0M298.5 92.6h1.0M280.6 144.8h1.0M275.7 167.6h1.0M199.1 158.4h1.0M302.8 98.3h1.0M322.8 48.2h1.0M247.6 131.4h1.0M318.9 81.2h1.0M343.9 121.8h1.0M204.6 44.4h1.0M209.2 110.2h1.0M245.3 64.7h1.0M263.7 37.8h1.0M331.4 149.7h1.0M280.0 91.7h1.0M243.3 115.0h1.0M248.9 169.9h1.0M338.4 133.3h1.0M319.3 37.4h1.0M216.2 77.2h1.0M216.5 88.5h1.0M342.8 149.1h1.0M338.7 58.9h1.0M230.6 29.7h1.0M238.2 34.6h1.0M275.5 70.5h1.0M296.9 108.9h1.0M285.7 70.4h1.0M305.9 127.7h1.0M302.9 95.6h1.0M266.1 68.4h1.0M203.9 94.9h1.0M288.5 53.7h1.0M324.3 155.7h1.0M323.3 146.4h1.0M269.7 52.2h1.0M237.8 134.9h1.0M342.5 42.7h1.0M198.9 78.3h1.0M249.3 114.3h1.0M214.5 150.5h1.0M247.6 160.0h1.0M246.3 71.2h1.0M223.8 168.4h1.0M284.5 147.8h1.0M207.3 106.2h1.0M305.6 171.1h1.0M335.5 41.6h1.0M252.8 173.3h1.0M276.5 167.2h1.0M235.2 30.1h1.0M336.9 65.1h1.0M280.3 79.4h1.0M282.8 163.8h1.0M337.0 155.4h1.0M235.7 147.1h1.0M200.7 87.6h1.0M336.6 63.8h1.0M251.9 111.9h1.0M232.7 130.6h1.0M293.8 40.3h1.0M333.1 36.8h1.0M300.3 77.6h1.0M219.1 37.8h1.0M344.5 144.0h1.0M265.4 143.3h1.0M340.4 162.7h1.0M276.2 66.8h1.0M274.1 170.8h1.0M305.2 124.9h1.0M321.7 86.5h1.0M280.0 151.2h1.0M227.2 152.7h1.0M201.6 105.4h1.0M282.4 47.8h1.0M333.3 91.0h1.0M225.2 86.9h1.0M284.8 89.5h1.0M198.4 39.9h1.0M302.7 45.7h1.0M235.5 145.2h1.0M324.5 156.1h1.0M223.6 27.1h1.0M308.7 114.5h1.0M251.5 29.0h1.0M261.3 61.2h1.0M284.3 170.7h1.0M228.7 37.3h1.0M300.0 42.1h1.0M230.7 90.9h1.0M342.8 74.0h1.0M244.4 96.2h1.0M221.8 85.5h1.0M300.8 74.0h1.0M314.9 53.4h1.0M212.9 118.6h1.0M264.5 161.4h1.0M213.4 136.1h1.0M296.3 80.8h1.0M216.8 116.4h1.0M309.3 95.9h1.0M267.4 127.2h1.0M287.5 88.6h1.0M225.3 94.5h1.0M278.7 158.3h1.0M344.0 108.3h1.0M246.2 59.1h1.0M290.6 135.0h1.0M234.4 127.9h1.0M344.7 83.9h1.0M335.8 90.6h1.0M293.7 153.9h1.0M227.9 77.2h1.0M342.5 35.9h1.0M242.9 96.4h1.0M307.3 119.1h1.0M334.5 124.9h1.0M198.2 36.8h1.0M203.4 89.8h1.0M202.0 103.7h1.0M290.9 56.1h1.0M323.7 87.2h1.0M338.9 79.0h1.0M289.0 106.1h1.0M236.6 141.1h1.0M198.6 63.0h1.0M245.1 156.2h1.0M271.5 31.7h1.0M241.9 116.0h1.0M316.7 42.4h1.0M312.4 83.8h1.0M274.9 88.3h1.0M262.4 172.1h1.0M332.9 161.4h1.0M306.0 129.4h1.0M218.8 31.5h1.0M320.0 125.4h1.0M290.6 72.3h1.0M237.2 161.8h1.0M276.1 29.2h1.0M248.0 77.7h1.0M207.9 170.3h1.0M330.6 146.2h1.0M198.6 87.8h1.0M214.4 133.1h1.0M316.8 142.5h1.0M314.2 44.1h1.0M200.0 40.0h1.0M321.7 148.4h1.0M273.8 60.8h1.0M323.8 44.0h1.0M245.7 26.6h1.0M342.3 87.4h1.0M311.2 144.3h1.0M283.3 171.6h1.0M311.7 162.8h1.0M339.4 38.4h1.0M308.2 59.6h1.0M245.7 76.6h1.0M343.1 35.2h1.0M261.8 45.2h1.0M344.4 99.3h1.0M301.0 102.9h1.0M310.6 75.8h1.0M258.7 135.9h1.0M301.1 157.0h1.0M243.4 151.2h1.0M306.2 110.7h1.0M257.9 109.8h1.0M209.3 40.6h1.0M243.7 44.5h1.0M205.2 131.8h1.0M305.4 116.9h1.0M228.2 132.6h1.0M319.2 117.4h1.0M231.4 109.4h1.0M255.9 65.9h1.0M219.8 153.6h1.0M290.8 163.6h1.0M223.3 65.2h1.0M272.8 35.0h1.0M242.4 105.8h1.0M268.7 160.2h1.0M282.8 120.1h1.0M283.9 141.9h1.0M251.8 26.4h1.0M341.9 142.9h1.0M216.6 42.8h1.0M230.6 123.2h1.0M217.2 29.2h1.0M270.5 27.2h1.0M236.0 82.6h1.0M228.1 26.7h1.0M236.2 62.2h1.0M245.6 87.3h1.0M250.8 74.0h1.0M200.8 149.5h1.0M306.4 98.9h1.0M198.4 60.6h1.0M330.2 93.6h1.0M228.1 147.0h1.0M328.9 44.3h1.0M271.6 108.9h1.0M215.2 73.3h1.0M288.8 125.4h1.0M290.3 117.6h1.0M253.5 36.4h1.0M200.4 149.6h1.0M325.0 159.5h1.0M209.2 139.5h1.0M223.2 77.3h1.0M227.4 152.9h1.0M318.2 148.9h1.0M254.0 164.1h1.0M236.2 110.8h1.0M296.8 60.7h1.0M254.0 41.1h1.0M314.9 53.4h1.0M218.0 67.2h1.0M292.0 120.1h1.0M275.0 151.9h1.0M308.5 57.2h1.0M276.5 51.2h1.0M233.5 47.9h1.0M209.3 77.9h1.0M328.1 122.9h1.0M210.9 58.5h1.0M284.8 104.3h1.0M201.9 40.1h1.0M281.1 114.8h1.0M209.8 140.1h1.0M233.3 113.0h1.0M275.8 76.4h1.0M336.9 84.5h1.0M260.1 105.8h1.0M321.3 171.7h1.0M311.0 105.6h1.0M303.2 120.2h1.0M338.8 169.2h1.0M309.6 58.2h1.0M281.5 91.0h1.0M231.9 141.3h1.0M230.5 130.8h1.0M269.8 89.1h1.0M301.7 133.0h1.0M343.3 173.3h1.0M315.4 65.1h1.0M296.2 99.2h1.0M336.1 92.1h1.0M250.5 30.1h1.0M267.0 104.7h1.0M243.3 41.8h1.0M269.1 36.7h1.0M223.2 91.7h1.0M249.1 99.9h1.0M275.8 83.5h1.0M217.6 29.0h1.0M280.1 169.1h1.0M239.3 78.1h1.0M244.9 135.6h1.0M270.4 143.5h1.0M198.8 45.8h1.0M228.3 80.6h1.0M256.6 83.0h1.0M339.8 91.0h1.0M282.5 168.1h1.0M292.2 113.8h1.0M319.6 75.5h1.0M203.3 167.3h1.0M276.4 112.0h1.0M207.8 136.0h1.0M252.9 120.9h1.0M239.6 161.5h1.0M252.1 66.9h1.0M329.2 59.1h1.0M237.8 98.0h1.0M342.0 43.3h1.0M228.9 143.4h1.0M209.0 87.3h1.0M313.0 131.2h1.0M314.4 43.6h1.0M328.6 78.9h1.0M317.5 95.7h1.0M328.9 96.7h1.0M235.8 48.5h1.0M270.9 33.6h1.0M222.1 155.0h1.0M282.2 153.4h1.0M220.1 97.0h1.0M266.8 42.2h1.0M236.7 162.0h1.0M304.2 101.2h1.0M287.5 153.0h1.0M338.0 113.8h1.0M205.4 154.6h1.0M222.2 61.6h1.0M218.1 101.7h1.0M283.5 94.0h1.0M267.0 47.0h1.0M303.4 105.4h1.0M243.4 149.0h1.0M335.8 162.1h1.0M342.6 36.4h1.0M255.0 92.5h1.0M235.7 135.8h1.0M330.9 46.7h1.0M272.3 168.7h1.0M328.5 92.7h1.0M213.4 93.5h1.0M274.0 142.0h1.0M225.3 67.4h1.0M342.6 28.0h1.0M287.7 40.3h1.0M308.2 88.6h1.0M333.9 59.2h1.0M326.8 59.8h1.0M205.0 39.0h1.0M209.2 83.5h1.0M340.7 78.5h1.0M303.2 31.3h1.0M273.7 105.7h1.0M212.4 111.7h1.0M263.5 74.5h1.0M319.9 128.1h1.0M215.7 41.9h1.0M205.7 65.1h1.0M291.4 168.9h1.0M340.2 153.5h1.0M216.3 142.9h1.0M309.9 95.9h1.0M344.2 114.5h1.0M215.4 58.1h1.0M217.0 116.2h1.0M289.6 152.6h1.0M199.5 27.7h1.0M340.8 64.9h1.0M236.8 153.9h1.0M214.3 143.0h1.0M329.6 109.1h1.0M287.3 27.2h1.0M287.1 116.6h1.0M311.2 102.4h1.0M214.7 59.1h1.0M293.9 38.0h1.0M213.7 63.2h1.0M314.9 106.7h1.0M250.4 168.2h1.0M283.3 61.4h1.0M281.0 152.2h1.0M252.1 90.3h1.0M282.8 171.6h1.0M291.7 53.0h1.0M283.4 73.6h1.0M267.5 131.2h1.0M201.0 101.0h1.0M244.1 114.5h1.0M318.5 95.1h1.0M290.4 68.8h1.0M235.6 101.4h1.0M276.2 59.2h1.0M310.3 99.8h1.0M250.2 63.6h1.0M320.8 159.1h1.0M335.7 62.8h1.0M208.5 119.3h1.0M201.6 152.3h1.0M297.7 75.9h1.0M262.8 126.8h1.0M221.5 80.0h1.0M313.5 126.5h1.0M283.9 41.5h1.0M229.9 64.1h1.0M202.6 120.5h1.0M282.1 162.4h1.0M279.4 161.5h1.0M266.8 102.5h1.0M239.3 94.6h1.0M335.5 98.1h1.0M198.3 78.4h1.0M227.0 118.1h1.0M272.8 96.3h1.0M334.1 138.5h1.0M210.8 30.8h1.0M300.9 114.1h1.0M293.8 100.0h1.0M203.3 92.8h1.0M320.6 114.9h1.0M204.5 44.6h1.0M330.8 106.5h1.0M222.2 130.3h1.0M333.8 153.6h1.0M292.7 145.1h1.0M210.9 94.5h1.0M317.0 76.6h1.0M219.1 153.7h1.0M301.4 27.4h1.0M207.3 108.3h1.0M338.0 117.2h1.0M326.6 41.8h1.0M282.6 53.0h1.0M246.7 48.3h1.0M266.1 33.1h1.0M294.4 121.4h1.0M330.8 139.4h1.0M209.1 154.2h1.0M277.7 164.1h1.0M270.2 38.3h1.0M301.4 51.8h1.0M342.5 105.7h1.0M330.5 98.8h1.0M245.9 123.8h1.0M302.2 94.0h1.0M238.5 88.2h1.0M302.9 59.9h1.0M221.2 97.5h1.0M294.6 36.1h1.0M237.9 169.3h1.0M237.2 139.9h1.0M242.9 38.9h1.0M269.4 154.3h1.0M312.1 33.4h1.0M301.3 117.7h1.0M268.8 124.1h1.0M274.6 53.2h1.0M300.1 45.3h1.0M243.5 151.7h1.0M281.4 101.5h1.0M302.2 98.8h1.0M254.4 107.6h1.0M201.3 78.0h1.0M203.8 172.9h1.0M331.3 122.5h1.0M221.2 152.2h1.0M239.5 144.8h1.0M293.6 115.3h1.0M306.8 65.7h1.0M320.5 106.2h1.0M309.1 149.9h1.0M235.4 86.8h1.0M251.1 37.6h1.0M326.5 127.2h1.0M269.9 106.6h1.0M327.2 36.6h1.0M250.5 127.3h1.0M276.5 99.5h1.0M236.0 59.1h1.0M296.4 76.5h1.0M335.6 159.1h1.0M340.4 67.0h1.0M273.5 41.7h1.0M250.7 37.3h1.0M271.6 167.2h1.0M309.9 79.9h1.0M238.5 163.4h1.0M205.7 150.7h1.0M323.7 36.4h1.0M337.6 121.4h1.0M255.1 88.9h1.0M287.3 103.9h1.0M325.4 158.1h1.0M245.9 27.6h1.0M312.3 121.6h1.0M294.2 37.2h1.0M209.1 158.6h1.0M251.4 95.9h1.0M340.9 55.0h1.0M291.2 35.4h1.0M280.4 135.0h1.0M221.1 138.1h1.0M340.2 147.9h1.0M314.1 165.7h1.0M303.2 106.9h1.0M319.0 145.0h1.0M290.3 124.8h1.0M224.2 76.1h1.0M245.8 152.7h1.0M312.7 69.1h1.0M343.9 35.0h1.0M207.1 74.5h1.0M209.3 166.1h1.0M250.7 83.5h1.0M323.5 104.7h1.0M290.6 91.1h1.0M265.6 167.2h1.0M238.7 103.6h1.0M268.3 47.1h1.0M219.5 100.9h1.0M315.2 89.9h1.0M206.7 163.9h1.0M218.2 156.5h1.0M204.6 121.9h1.0M219.4 64.6h1.0M259.9 137.5h1.0M261.9 87.9h1.0M257.1 103.0h1.0M239.2 166.6h1.0M225.9 45.8h1.0M278.5 78.0h1.0M303.9 32.1h1.0M297.3 79.9h1.0M334.1 70.5h1.0M261.6 73.0h1.0M276.3 67.7h1.0M296.3 86.9h1.0M302.0 69.2h1.0M265.0 108.3h1.0M303.5 122.3h1.0M261.0 38.9h1.0M214.5 47.9h1.0M225.0 53.3h1.0M295.2 76.5h1.0M331.3 60.7h1.0M234.1 53.2h1.0M219.2 126.7h1.0M282.9 63.3h1.0M317.0 125.8h1.0M260.9 115.8h1.0M294.4 91.2h1.0M211.5 80.0h1.0M336.9 81.3h1.0M291.8 39.3h1.0M311.6 153.5h1.0M252.8 81.1h1.0M273.3 63.4h1.0M228.8 45.2h1.0M298.9 101.3h1.0M338.4 168.0h1.0M326.3 165.3h1.0M321.0 29.9h1.0M217.0 170.0h1.0M326.3 116.9h1.0M289.0 90.5h1.0M260.4 47.8h1.0M278.5 66.7h1.0M215.9 154.4h1.0M282.4 155.3h1.0M241.2 111.2h1.0M238.6 148.6h1.0M228.7 121.6h1.0M279.5 74.2h1.0M209.7 97.9h1.0M274.8 146.7h1.0M227.8 53.6h1.0M242.8 144.4h1.0M232.1 119.6h1.0M202.7 38.4h1.0M302.0 99.4h1.0M214.5 95.9h1.0M336.1 83.9h1.0M279.8 88.2h1.0M272.2 32.7h1.0M327.6 111.6h1.0M249.0 68.2h1.0M225.5 163.7h1.0M321.5 82.0h1.0M286.5 107.6h1.0M227.4 31.2h1.0M306.0 50.2h1.0M280.9 28.8h1.0M201.2 50.5h1.0M293.9 116.5h1.0M343.5 123.5h1.0M274.6 28.2h1.0M338.6 98.3h1.0M323.9 32.5h1.0M320.6 96.4h1.0M229.8 86.1h1.0M209.0 111.8h1.0M230.2 129.6h1.0M223.5 127.8h1.0M288.7 131.1h1.0M337.5 69.8h1.0M298.3 84.8h1.0M329.2 147.8h1.0M310.1 114.6h1.0M236.4 159.9h1.0M340.2 166.1h1.0M247.6 147.3h1.0M297.7 149.9h1.0M315.8 93.2h1.0M256.0 143.4h1.0M294.1 105.7h1.0M326.3 31.0h1.0M200.0 94.7h1.0M212.3 150.3h1.0M210.9 156.1h1.0M231.0 46.0h1.0M308.7 126.0h1.0M258.2 114.1h1.0M279.2 165.9h1.0M272.5 105.7h1.0M265.8 86.9h1.0M299.3 42.7h1.0M299.6 163.0h1.0M309.7 106.2h1.0M249.9 40.7h1.0M211.6 105.7h1.0M327.2 153.8h1.0M224.9 136.6h1.0M316.5 96.9h1.0M324.0 53.8h1.0M247.3 102.0h1.0M304.7 92.4h1.0M242.4 153.9h1.0M255.5 88.1h1.0M230.8 97.4h1.0M301.7 79.5h1.0M295.2 98.9h1.0M199.7 168.0h1.0M240.3 106.6h1.0M338.8 56.7h1.0M207.4 56.5h1.0M220.5 151.6h1.0M273.9 32.5h1.0M237.9 101.5h1.0M223.6 71.4h1.0M330.8 91.7h1.0M232.2 114.3h1.0M214.6 102.8h1.0M293.1 39.4h1.0M278.5 71.9h1.0M307.3 117.0h1.0M331.5 115.7h1.0M224.9 53.6h1.0M301.3 145.6h1.0M207.2 87.7h1.0M239.5 95.1h1.0M326.1 108.7h1.0M307.2 138.9h1.0M238.8 117.4h1.0M253.1 96.1h1.0M275.9 124.5h1.0M222.7 149.7h1.0M221.6 72.4h1.0M322.7 171.3h1.0M251.8 166.4h1.0M203.5 166.9h1.0M227.5 31.4h1.0M309.9 50.1h1.0M308.4 27.3h1.0M216.2 78.9h1.0M210.4 95.7h1.0M248.8 135.0h1.0M270.4 168.4h1.0M321.8 51.5h1.0M332.7 158.0h1.0M280.9 103.9h1.0M222.9 73.5h1.0M230.3 55.2h1.0M288.1 74.1h1.0M310.7 110.7h1.0M319.4 39.2h1.0M322.4 101.0h1.0M290.8 61.4h1.0M300.2 86.1h1.0M303.9 112.3h1.0M218.6 70.6h1.0M308.4 28.6h1.0M290.8 106.6h1.0M302.9 74.7h1.0M268.0 96.5h1.0M308.0 37.0h1.0M272.9 64.5h1.0M284.5 64.5h1.0M228.3 60.4h1.0M329.4 79.8h1.0M327.2 134.5h1.0M237.5 107.8h1.0M199.3 163.6h1.0M290.6 42.9h1.0M274.2 99.2h1.0M296.5 68.9h1.0M331.6 117.9h1.0M208.7 146.8h1.0M327.9 71.1h1.0M302.4 152.9h1.0M327.5 36.7h1.0M320.9 62.9h1.0M315.7 127.4h1.0M266.4 159.1h1.0M315.9 172.7h1.0M338.7 110.7h1.0M305.9 125.0h1.0M256.8 99.7h1.0M272.5 58.1h1.0M236.3 150.6h1.0M322.2 129.0h1.0M299.1 101.4h1.0M282.1 124.4h1.0M199.1 91.6h1.0M340.4 56.6h1.0M266.6 37.7h1.0M235.4 147.6h1.0M202.8 143.9h1.0M315.1 154.1h1.0M235.7 163.4h1.0M252.6 92.6h1.0M337.6 106.5h1.0M298.0 42.5h1.0M198.7 65.2h1.0M213.5 147.6h1.0M234.7 167.3h1.0M297.6 54.5h1.0M302.3 73.1h1.0M275.4 37.5h1.0M320.3 142.2h1.0M283.3 128.0h1.0M247.9 45.1h1.0M245.7 135.2h1.0M280.7 46.1h1.0M233.3 96.2h1.0M200.1 32.9h1.0M264.0 46.0h1.0M328.5 45.2h1.0M308.0 143.3h1.0M244.3 106.1h1.0M343.6 117.1h1.0M254.8 170.0h1.0M236.1 166.9h1.0M243.5 88.3h1.0M244.3 122.3h1.0M327.5 127.7h1.0M224.7 172.1h1.0M304.1 100.8h1.0M322.7 42.1h1.0M285.8 142.0h1.0M312.0 125.4h1.0M207.2 96.7h1.0M237.5 115.8h1.0M256.3 93.4h1.0M277.0 112.9h1.0M328.7 67.8h1.0M238.3 53.4h1.0M214.5 151.3h1.0M333.0 44.8h1.0M250.9 159.4h1.0M324.8 170.3h1.0M343.7 71.0h1.0M207.8 63.0h1.0M271.8 28.6h1.0M235.2 95.9h1.0M298.1 49.1h1.0M216.1 74.9h1.0M211.3 44.3h1.0M213.1 144.0h1.0M327.1 32.6h1.0M316.1 150.5h1.0M293.6 70.4h1.0M318.4 38.3h1.0M204.8 166.8h1.0M230.5 161.0h1.0M308.7 33.2h1.0M211.9 121.4h1.0M219.4 124.3h1.0M296.7 60.4h1.0M268.0 57.5h1.0M325.9 119.1h1.0M299.4 117.8h1.0M206.9 156.7h1.0M312.4 102.1h1.0M284.7 98.8h1.0M308.9 104.8h1.0M238.8 102.3h1.0M229.4 27.0h1.0M274.5 154.4h1.0M303.6 57.1h1.0M272.6 112.2h1.0M283.1 94.0h1.0M272.8 127.6h1.0M327.4 102.2h1.0M313.1 126.4h1.0M215.6 64.4h1.0M244.0 78.4h1.0M270.1 69.7h1.0M344.5 134.4h1.0M252.5 129.3h1.0M333.7 49.8h1.0M290.4 167.4h1.0M253.1 155.5h1.0M316.0 73.4h1.0M219.2 145.0h1.0M259.0 77.9h1.0M266.1 133.5h1.0M329.3 161.2h1.0M310.5 52.2h1.0M252.2 27.3h1.0M227.5 76.4h1.0M224.0 96.4h1.0M217.4 122.4h1.0M258.3 62.7h1.0M298.7 74.6h1.0M201.5 149.7h1.0M308.7 155.6h1.0M241.1 65.1h1.0M300.2 47.8h1.0M339.9 122.5h1.0M278.5 33.9h1.0M239.6 88.6h1.0M342.0 47.6h1.0M284.9 37.8h1.0M340.6 136.3h1.0M317.3 136.6h1.0M224.4 61.8h1.0M203.8 107.5h1.0M209.9 54.0h1.0M223.6 161.7h1.0M313.9 68.4h1.0M340.5 49.8h1.0M218.6 82.4h1.0M316.3 40.8h1.0M313.8 106.4h1.0M315.2 75.8h1.0M204.2 40.9h1.0M304.2 100.9h1.0M310.1 55.6h1.0M239.0 57.4h1.0M322.9 129.8h1.0M220.7 133.1h1.0M203.7 95.0h1.0M235.8 138.9h1.0M303.5 127.0h1.0M227.0 32.6h1.0M292.0 128.5h1.0M199.4 149.7h1.0M329.7 79.5h1.0M274.2 122.1h1.0M333.9 121.9h1.0M273.7 139.5h1.0M269.9 31.1h1.0M278.3 87.2h1.0M247.2 84.3h1.0M230.5 72.2h1.0M307.7 156.6h1.0M265.0 150.8h1.0M216.4 102.2h1.0M307.3 141.3h1.0M254.8 51.0h1.0M339.0 116.0h1.0M293.9 77.2h1.0M214.6 110.3h1.0M257.4 157.3h1.0M295.4 137.5h1.0M281.6 137.1h1.0M217.7 173.0h1.0M283.3 114.2h1.0M225.8 39.7h1.0M301.5 133.2h1.0M295.9 63.8h1.0M269.5 139.4h1.0M292.0 160.2h1.0M211.1 140.4h1.0M199.9 118.3h1.0M276.4 37.2h1.0M259.5 124.6h1.0M325.3 37.7h1.0M272.8 143.4h1.0M215.2 157.7h1.0M335.8 76.7h1.0M228.7 47.7h1.0M230.2 88.0h1.0M301.8 164.2h1.0M280.0 166.6h1.0M260.7 123.1h1.0M198.0 87.9h1.0M201.3 45.8h1.0M316.7 43.1h1.0M242.0 103.7h1.0M275.1 30.8h1.0M214.2 125.9h1.0M257.4 39.9h1.0M268.3 81.1h1.0M344.7 33.4h1.0M224.5 37.3h1.0M278.9 167.7h1.0M312.2 42.8h1.0M277.2 79.0h1.0M341.5 130.4h1.0M286.7 64.1h1.0M262.1 103.8h1.0M253.6 109.3h1.0M211.2 88.2h1.0M342.9 85.1h1.0M272.3 137.2h1.0M317.2 134.7h1.0M254.0 131.1h1.0M227.3 117.1h1.0M200.3 54.6h1.0M223.7 78.1h1.0M306.4 29.4h1.0M326.6 39.8h1.0M337.5 166.0h1.0M288.2 150.0h1.0M336.1 92.2h1.0M323.6 31.4h1.0M312.6 121.7h1.0M312.0 48.3h1.0M210.2 103.3h1.0M287.0 127.5h1.0M224.3 109.9h1.0M340.2 63.5h1.0M318.3 167.7h1.0M296.8 91.1h1.0M259.4 95.1h1.0M216.3 37.3h1.0M239.1 51.9h1.0M330.0 79.6h1.0M326.5 109.2h1.0M329.8 158.3h1.0M302.4 92.3h1.0M233.8 109.3h1.0M243.8 148.2h1.0M204.3 120.0h1.0M247.8 88.1h1.0M277.6 170.9h1.0M343.8 78.9h1.0M338.5 167.0h1.0M275.2 109.3h1.0M227.0 142.5h1.0M269.3 138.5h1.0M333.3 118.1h1.0M300.0 107.1h1.0M217.2 93.9h1.0M207.2 52.9h1.0M341.9 82.3h1.0M217.8 90.3h1.0M206.8 115.7h1.0M231.5 58.3h1.0M291.5 162.5h1.0M200.0 131.6h1.0M283.4 98.0h1.0M259.9 27.9h1.0M249.6 103.3h1.0M247.2 172.6h1.0M247.9 150.8h1.0M317.0 143.3h1.0M270.2 99.8h1.0M321.8 43.6h1.0M231.0 28.2h1.0M270.1 93.0h1.0M338.3 163.3h1.0M257.6 99.3h1.0M213.4 137.2h1.0M274.2 51.0h1.0M326.7 32.6h1.0M226.3 96.5h1.0M344.4 46.7h1.0M237.1 142.8h1.0M247.4 163.1h1.0M200.8 61.3h1.0M243.5 151.1h1.0M213.0 125.5h1.0M328.2 169.7h1.0M316.3 33.7h1.0M268.9 58.4h1.0M215.9 62.1h1.0M305.9 110.9h1.0M217.1 68.3h1.0M207.7 162.6h1.0M308.7 95.8h1.0M339.1 170.3h1.0M228.3 63.7h1.0M226.1 118.8h1.0M285.3 102.6h1.0M311.6 104.3h1.0M244.2 124.7h1.0M337.3 33.6h1.0M269.4 46.8h1.0M307.7 89.8h1.0M321.1 124.9h1.0M338.8 111.6h1.0M285.4 169.7h1.0M315.9 76.0h1.0M213.2 161.9h1.0M207.4 162.2h1.0M335.0 123.7h1.0M337.3 115.7h1.0M307.5 114.0h1.0M230.6 37.9h1.0M307.1 92.7h1.0M216.3 108.6h1.0M236.9 64.9h1.0M326.6 117.3h1.0M307.8 146.6h1.0M262.1 92.7h1.0M261.4 78.9h1.0M312.3 156.5h1.0M241.7 131.0h1.0M229.6 27.5h1.0M298.6 140.6h1.0M246.4 172.8h1.0M303.6 73.6h1.0M309.6 150.5h1.0M218.6 160.5h1.0M261.8 66.7h1.0M253.4 104.1h1.0M275.4 69.6h1.0M206.8 119.2h1.0M303.3 128.6h1.0M256.2 152.6h1.0M200.5 45.3h1.0M200.7 107.9h1.0M274.8 59.8h1.0M275.1 26.8h1.0M203.3 168.0h1.0M328.0 36.5h1.0M294.3 101.1h1.0M277.0 150.0h1.0M292.1 164.8h1.0M298.1 161.0h1.0M215.1 147.3h1.0M244.9 161.8h1.0M314.2 168.5h1.0M308.9 83.8h1.0M274.9 141.5h1.0M206.5 105.7h1.0M281.4 132.0h1.0M248.2 115.5h1.0M306.1 82.5h1.0M298.1 159.3h1.0M252.2 103.8h1.0M269.0 149.7h1.0M237.6 68.4h1.0M255.6 122.3h1.0M220.7 170.3h1.0M271.8 133.8h1.0M258.5 30.3h1.0M254.6 110.4h1.0M211.3 170.6h1.0M284.2 93.9h1.0M202.2 62.6h1.0M247.5 121.9h1.0M223.6 97.7h1.0M237.7 109.4h1.0M299.0 102.5h1.0M308.1 118.0h1.0M210.3 123.0h1.0M269.0 138.0h1.0M335.6 78.1h1.0M322.8 60.2h1.0M293.4 27.1h1.0M319.1 92.0h1.0M264.7 99.6h1.0M252.7 60.2h1.0M299.6 118.6h1.0M206.0 66.1h1.0M334.8 67.9h1.0M241.1 111.4h1.0M252.7 165.8h1.0M342.3 45.3h1.0M231.0 51.5h1.0M263.3 68.1h1.0M297.0 156.7h1.0M208.5 30.2h1.0M214.5 71.9h1.0M217.6 89.9h1.0M251.4 133.4h1.0M340.0 170.2h1.0M259.7 121.0h1.0M217.4 116.2h1.0M327.7 156.6h1.0M218.6 50.7h1.0M330.4 128.9h1.0M309.9 36.2h1.0M288.8 29.7h1.0M306.2 143.3h1.0M245.3 26.7h1.0M305.6 173.3h1.0M289.1 80.2h1.0M246.3 145.8h1.0M340.2 80.0h1.0M230.4 173.0h1.0M260.8 91.4h1.0M243.6 133.0h1.0M342.2 95.4h1.0M323.5 85.3h1.0M260.0 144.4h1.0M340.5 137.5h1.0M301.5 148.1h1.0M332.9 166.6h1.0M276.0 83.4h1.0M199.0 103.9h1.0M250.2 26.4h1.0M343.8 71.6h1.0M334.8 28.6h1.0M250.8 141.7h1.0M296.8 125.3h1.0M269.7 39.7h1.0M320.0 138.3h1.0M268.1 109.0h1.0M316.0 99.1h1.0M267.8 97.6h1.0M306.1 134.6h1.0M247.1 140.6h1.0M253.1 125.5h1.0M253.4 158.7h1.0M336.0 140.8h1.0M254.0 78.0h1.0M261.6 115.3h1.0M203.0 106.6h1.0M334.3 35.7h1.0M328.8 110.5h1.0M344.5 132.7h1.0M303.5 137.1h1.0M259.8 43.7h1.0M323.5 155.4h1.0M303.9 58.3h1.0M271.3 102.0h1.0M251.4 98.4h1.0M265.2 170.6h1.0M290.0 170.0h1.0M331.3 52.4h1.0M311.2 82.4h1.0M285.7 109.2h1.0M306.6 70.6h1.0M297.5 80.7h1.0M312.9 99.0h1.0M292.4 173.0h1.0M239.1 27.0h1.0M329.5 103.6h1.0M292.9 148.5h1.0M328.7 83.1h1.0M342.9 83.8h1.0M304.7 148.7h1.0M251.3 88.1h1.0M251.8 76.7h1.0M258.5 151.1h1.0M206.9 171.9h1.0M314.1 108.7h1.0M292.3 70.4h1.0M310.2 155.0h1.0M254.1 99.8h1.0M230.1 63.2h1.0M323.1 120.8h1.0M263.6 120.5h1.0M225.2 26.8h1.0M250.4 111.0h1.0M225.1 106.1h1.0M245.7 64.9h1.0M306.6 79.4h1.0M307.0 136.6h1.0M253.1 31.0h1.0M321.7 107.5h1.0M283.2 127.2h1.0M278.5 159.8h1.0M199.3 168.9h1.0M288.5 86.3h1.0M331.2 158.1h1.0M285.6 27.7h1.0M289.5 87.0h1.0M282.2 148.5h1.0M217.4 150.6h1.0M243.6 63.3h1.0M203.5 42.0h1.0M237.3 104.2h1.0M336.0 51.6h1.0M240.4 81.2h1.0M292.0 78.4h1.0M296.3 48.4h1.0M204.4 111.6h1.0M304.3 46.0h1.0M205.1 124.7h1.0M207.6 162.6h1.0M299.4 49.9h1.0M258.1 34.5h1.0M210.9 78.1h1.0M326.8 160.2h1.0M308.6 120.1h1.0M283.8 101.5h1.0M294.3 99.4h1.0M256.4 149.5h1.0M242.2 86.0h1.0M297.7 168.2h1.0M248.6 90.1h1.0M257.0 57.2h1.0M250.1 142.5h1.0M225.6 96.6h1.0M239.7 111.4h1.0M311.5 43.3h1.0M269.4 53.9h1.0M292.9 126.1h1.0M230.5 60.2h1.0M242.5 74.6h1.0M329.0 155.0h1.0M314.2 84.3h1.0M265.1 55.9h1.0M265.6 166.3h1.0M211.4 84.3h1.0M226.7 150.7h1.0M242.3 98.0h1.0M205.6 128.0h1.0M273.5 144.2h1.0M303.9 135.8h1.0M236.6 63.2h1.0M285.7 33.5h1.0M335.5 132.4h1.0M270.4 79.5h1.0M209.4 107.9h1.0M311.5 43.6h1.0M212.5 127.2h1.0M267.0 142.8h1.0M258.4 170.9h1.0M326.1 73.6h1.0M276.8 112.7h1.0M264.1 146.7h1.0M301.5 146.8h1.0M235.1 100.6h1.0M277.8 112.2h1.0M200.4 145.9h1.0M263.8 49.7h1.0M323.5 108.2h1.0M306.7 135.2h1.0M289.4 160.9h1.0M206.2 75.3h1.0M222.0 119.9h1.0M230.2 30.5h1.0M218.0 52.0h1.0M277.3 93.3h1.0M266.2 28.1h1.0M275.5 63.6h1.0M211.4 34.6h1.0M220.2 85.3h1.0M222.5 94.5h1.0M222.0 134.5h1.0M326.6 73.9h1.0M208.5 168.4h1.0M210.3 122.0h1.0M309.1 97.4h1.0M328.8 48.0h1.0M303.8 159.8h1.0M329.7 151.3h1.0M262.1 101.6h1.0M322.6 82.2h1.0M235.5 30.9h1.0M228.0 47.0h1.0M334.4 71.8h1.0M249.7 169.8h1.0M299.4 90.2h1.0M213.5 80.1h1.0M240.7 165.9h1.0M259.8 169.5h1.0M237.7 33.3h1.0M330.0 37.4h1.0M313.7 113.9h1.0M239.7 149.1h1.0M261.0 171.1h1.0M279.9 165.2h1.0M334.6 81.7h1.0M299.5 133.5h1.0M294.2 29.7h1.0M299.0 138.4h1.0M226.4 40.3h1.0M207.9 106.4h1.0M213.6 151.1h1.0M259.0 172.8h1.0M305.8 89.3h1.0M224.8 89.1h1.0M287.1 153.1h1.0M328.9 74.1h1.0M201.4 124.1h1.0M298.9 121.6h1.0M315.9 145.8h1.0M289.8 147.2h1.0M216.4 165.6h1.0M295.8 40.2h1.0M222.7 120.7h1.0M242.9 164.2h1.0M238.9 97.8h1.0M271.9 164.7h1.0M242.6 157.6h1.0M304.2 110.1h1.0M336.9 156.4h1.0M308.0 106.6h1.0M204.4 58.8h1.0M293.5 43.5h1.0M292.4 77.4h1.0M254.9 147.4h1.0M321.4 136.3h1.0M263.6 105.2h1.0M342.7 162.6h1.0M287.2 37.9h1.0M330.4 33.0h1.0M215.2 123.3h1.0M226.8 137.2h1.0M298.8 50.6h1.0M331.3 173.2h1.0M294.4 170.9h1.0M315.6 95.9h1.0M319.0 164.4h1.0M300.2 38.6h1.0M252.7 129.9h1.0M251.7 50.8h1.0M265.0 47.1h1.0M267.6 40.9h1.0M304.7 57.7h1.0M335.4 42.1h1.0M290.7 121.0h1.0M227.2 118.6h1.0M278.6 116.9h1.0M225.2 96.5h1.0M320.7 117.3h1.0M233.8 75.5h1.0M327.1 34.1h1.0M268.2 101.9h1.0M261.1 26.7h1.0M213.6 150.3h1.0M264.8 69.2h1.0M264.3 34.0h1.0M209.9 148.3h1.0M309.5 55.3h1.0M244.6 37.6h1.0M244.7 103.0h1.0M308.5 100.8h1.0M322.5 173.2h1.0M281.3 32.7h1.0M217.7 125.3h1.0M217.1 158.7h1.0M206.0 34.5h1.0M344.2 86.2h1.0M279.5 114.1h1.0M215.4 75.7h1.0M252.1 134.9h1.0M312.8 128.6h1.0M224.5 94.2h1.0M332.4 52.0h1.0M249.2 116.9h1.0M344.1 30.0h1.0M299.5 94.2h1.0M275.6 150.0h1.0M212.1 114.4h1.0M244.5 137.5h1.0M302.9 87.5h1.0M220.3 138.9h1.0M300.9 109.3h1.0M307.5 166.0h1.0M233.9 127.8h1.0M316.4 65.4h1.0M330.6 72.5h1.0M338.3 112.0h1.0M340.8 156.5h1.0M312.8 80.9h1.0M265.3 112.7h1.0M316.2 87.6h1.0M330.0 58.2h1.0M274.5 47.7h1.0M223.1 69.1h1.0M205.0 110.2h1.0M289.0 84.5h1.0M315.1 106.6h1.0M298.3 38.9h1.0M246.4 29.4h1.0M221.5 151.4h1.0M217.9 114.0h1.0M253.4 125.3h1.0M325.9 148.4h1.0M339.6 168.5h1.0M256.5 171.7h1.0M310.0 67.2h1.0M246.2 103.4h1.0M322.1 40.9h1.0M328.8 125.0h1.0M285.1 86.2h1.0M254.0 86.0h1.0M303.1 91.5h1.0M302.8 155.3h1.0M210.8 29.1h1.0M336.2 54.8h1.0M317.5 85.9h1.0M231.0 28.1h1.0M260.9 114.6h1.0M206.0 28.0h1.0M240.2 156.0h1.0M308.1 64.1h1.0M257.2 87.6h1.0M302.0 68.2h1.0M250.1 100.4h1.0M232.8 89.5h1.0M307.8 100.6h1.0M206.2 77.7h1.0M281.7 60.4h1.0M254.9 108.7h1.0M251.5 53.2h1.0M326.4 35.9h1.0M331.0 40.3h1.0M279.3 106.5h1.0M258.1 118.4h1.0M327.7 73.3h1.0M206.8 55.7h1.0M326.9 114.4h1.0M308.7 83.6h1.0M245.5 127.9h1.0M281.4 160.7h1.0M221.6 76.8h1.0M299.5 159.8h1.0M266.5 142.2h1.0M214.1 120.5h1.0M246.3 128.4h1.0M241.7 53.8h1.0M237.5 132.8h1.0M302.6 160.7h1.0M258.7 35.9h1.0M316.7 64.0h1.0M303.4 98.3h1.0M263.2 30.8h1.0M231.3 136.4h1.0M265.5 156.1h1.0M316.5 104.9h1.0M342.3 26.7h1.0M256.9 104.8h1.0M205.9 154.5h1.0M220.0 111.7h1.0M237.8 82.5h1.0M266.3 68.9h1.0M223.1 124.5h1.0M289.9 38.2h1.0M340.8 42.0h1.0M230.7 67.7h1.0M251.5 98.5h1.0M330.6 41.2h1.0M282.3 118.2h1.0M235.8 78.6h1.0M263.3 156.9h1.0M312.0 96.9h1.0M208.1 79.0h1.0M317.9 90.2h1.0M255.4 120.3h1.0M203.9 121.7h1.0M298.6 42.9h1.0M259.2 152.3h1.0M236.5 104.3h1.0M248.8 107.7h1.0M255.4 77.0h1.0M333.7 128.3h1.0M344.6 75.6h1.0M266.5 80.1h1.0M325.3 80.4h1.0M297.8 52.3h1.0M277.6 66.0h1.0M332.1 80.2h1.0M337.9 109.7h1.0M248.1 107.4h1.0M334.7 128.4h1.0M319.0 109.7h1.0M288.8 46.9h1.0M320.1 120.5h1.0M293.2 71.0h1.0M310.0 103.9h1.0M245.0 172.3h1.0M311.4 126.2h1.0M321.3 128.8h1.0M254.5 166.9h1.0M331.0 125.1h1.0M261.8 100.0h1.0M204.7 157.2h1.0M320.0 113.8h1.0M266.4 144.6h1.0M201.1 85.2h1.0M234.8 115.8h1.0M250.0 115.7h1.0M329.7 86.7h1.0M214.9 28.2h1.0M320.6 95.3h1.0M262.8 30.7h1.0M213.1 26.4h1.0M329.5 33.3h1.0M245.2 96.0h1.0M282.2 59.0h1.0M292.8 120.4h1.0M342.6 40.1h1.0M241.4 41.4h1.0M240.5 57.7h1.0M202.5 145.1h1.0M238.4 135.9h1.0M317.5 143.5h1.0M201.7 112.6h1.0M323.0 119.4h1.0M286.7 88.9h1.0M318.8 104.8h1.0M249.7 99.3h1.0M267.2 53.9h1.0M296.8 149.1h1.0M294.0 27.8h1.0M257.5 139.1h1.0M217.2 100.7h1.0M298.3 104.9h1.0M246.5 28.8h1.0M301.4 50.8h1.0M286.3 103.5h1.0M304.1 42.8h1.0M341.0 136.4h1.0M326.1 53.5h1.0M303.7 82.0h1.0M300.8 129.1h1.0M258.0 165.8h1.0M262.3 95.0h1.0M303.0 48.6h1.0M329.5 75.2h1.0M328.3 47.6h1.0M216.2 113.2h1.0M233.3 91.1h1.0M227.4 132.9h1.0M306.2 127.3h1.0M217.7 33.2h1.0M283.6 38.3h1.0M303.1 106.8h1.0M334.9 146.7h1.0M294.2 148.1h1.0M272.5 69.1h1.0M207.0 129.9h1.0M295.7 119.4h1.0M273.1 93.3h1.0M332.9 81.7h1.0M218.5 166.3h1.0M309.8 158.2h1.0M342.7 90.6h1.0M220.8 98.8h1.0M270.0 83.3h1.0M313.4 63.1h1.0M340.4 57.5h1.0M239.7 148.4h1.0M232.3 133.0h1.0M238.2 86.5h1.0M266.9 62.6h1.0M318.9 164.8h1.0M333.8 49.7h1.0M201.8 91.1h1.0M306.7 106.8h1.0M339.0 171.7h1.0M298.2 64.8h1.0M257.0 35.9h1.0M255.8 136.9h1.0M244.4 53.5h1.0M277.1 158.2h1.0M292.8 42.5h1.0M261.4 60.0h1.0M317.2 87.9h1.0M263.1 155.5h1.0M241.6 92.3h1.0M341.9 71.4h1.0M277.2 121.7h1.0M247.2 118.9h1.0M259.9 148.6h1.0M279.7 133.3h1.0M282.1 128.9h1.0M255.3 48.1h1.0M251.4 74.2h1.0M200.1 139.5h1.0M275.0 97.0h1.0M301.4 36.1h1.0M216.4 131.8h1.0M204.0 154.2h1.0M272.6 168.6h1.0M324.1 86.4h1.0M248.5 90.2h1.0M310.9 94.3h1.0M303.7 172.2h1.0M307.9 101.9h1.0M307.0 99.0h1.0M283.3 88.2h1.0M335.3 171.6h1.0M281.4 108.5h1.0M213.1 109.5h1.0M334.4 62.0h1.0M311.7 63.8h1.0M302.8 67.8h1.0M285.4 140.4h1.0M202.7 150.0h1.0M274.9 62.2h1.0M243.1 107.9h1.0M306.8 52.5h1.0M208.3 60.3h1.0M291.1 85.6h1.0M310.0 133.3h1.0M252.0 113.1h1.0M219.4 116.0h1.0M293.0 61.1h1.0M295.8 46.7h1.0M340.7 106.9h1.0M333.4 124.7h1.0M229.5 134.1h1.0M288.2 82.0h1.0M299.7 138.2h1.0M297.8 58.4h1.0M339.7 160.2h1.0M261.7 162.7h1.0M343.8 77.0h1.0M226.1 62.2h1.0M269.9 47.6h1.0M232.8 134.1h1.0M200.7 116.4h1.0M257.9 130.8h1.0M236.0 96.7h1.0M229.3 28.6h1.0M324.9 80.3h1.0M241.3 163.9h1.0M252.3 105.9h1.0M218.6 86.9h1.0M326.5 147.7h1.0M318.1 160.9h1.0M231.9 34.0h1.0M217.1 122.1h1.0M278.1 80.7h1.0M302.5 58.7h1.0M287.3 87.7h1.0M218.5 140.5h1.0M225.1 144.1h1.0M309.7 90.6h1.0M264.6 56.5h1.0M218.5 128.8h1.0M252.4 109.1h1.0M252.0 65.5h1.0M221.9 138.5h1.0M261.6 48.8h1.0M326.2 49.0h1.0M231.6 49.4h1.0M280.1 140.8h1.0M202.6 162.4h1.0M301.1 148.6h1.0M259.9 90.6h1.0M211.8 64.9h1.0M325.8 68.3h1.0M330.2 149.0h1.0M333.1 47.0h1.0M260.1 149.0h1.0M243.7 62.3h1.0M201.0 104.8h1.0M278.8 57.5h1.0M236.0 119.5h1.0M223.4 142.0h1.0M326.0 88.1h1.0M217.1 110.3h1.0M241.3 41.8h1.0M302.1 108.6h1.0M237.8 62.7h1.0M304.3 161.2h1.0M249.6 112.5h1.0M230.4 94.8h1.0M283.2 71.2h1.0M286.8 106.1h1.0M204.4 43.8h1.0M258.8 48.0h1.0M278.2 113.6h1.0M289.8 156.6h1.0M287.3 139.9h1.0M214.9 154.8h1.0M334.5 113.3h1.0M319.5 107.3h1.0M261.8 49.9h1.0M268.5 131.3h1.0M314.6 157.9h1.0M274.1 165.4h1.0M252.6 29.1h1.0M260.6 105.9h1.0M311.5 60.7h1.0M201.7 132.7h1.0M226.1 151.7h1.0M281.1 46.3h1.0M274.5 140.0h1.0M230.8 167.0h1.0M206.3 48.2h1.0M285.3 125.9h1.0M286.4 162.2h1.0M227.6 33.1h1.0M276.9 78.0h1.0M256.2 84.5h1.0M327.5 68.3h1.0M299.6 109.8h1.0M239.7 160.5h1.0M235.5 70.5h1.0M226.3 129.5h1.0M299.8 80.0h1.0M215.3 114.0h1.0M247.5 107.3h1.0M294.2 26.5h1.0M204.7 146.8h1.0M325.4 39.2h1.0M230.7 89.1h1.0M320.3 71.8h1.0M338.4 39.7h1.0M330.9 34.7h1.0M286.3 169.3h1.0M303.9 160.8h1.0M249.6 166.9h1.0M330.7 66.7h1.0M311.3 161.4h1.0M229.4 83.9h1.0M311.1 110.7h1.0M332.7 90.1h1.0M263.8 50.9h1.0M238.3 155.1h1.0M236.4 158.2h1.0M315.9 110.2h1.0M242.3 26.5h1.0M215.3 148.2h1.0M338.7 168.0h1.0M239.1 164.2h1.0M262.6 80.4h1.0M331.4 146.9h1.0M297.6 68.4h1.0M213.7 53.2h1.0M236.7 54.6h1.0M281.8 72.6h1.0M229.6 155.4h1.0M252.1 26.8h1.0M199.4 107.5h1.0M202.4 108.3h1.0M201.8 95.4h1.0M288.8 105.8h1.0M229.7 149.7h1.0M340.8 146.1h1.0M334.8 169.3h1.0M252.0 106.3h1.0M258.7 142.1h1.0M222.7 59.6h1.0M264.2 106.4h1.0M343.5 75.7h1.0M198.6 83.4h1.0M326.7 40.4h1.0M274.1 114.6h1.0M321.2 74.5h1.0M287.2 166.5h1.0M340.7 109.5h1.0M247.7 122.0h1.0M305.2 126.4h1.0M297.1 82.9h1.0M303.1 78.1h1.0M232.1 41.0h1.0M279.2 51.4h1.0M239.4 70.1h1.0M252.6 87.6h1.0M341.1 103.8h1.0M278.6 85.3h1.0M278.4 146.1h1.0M274.7 101.7h1.0M249.5 53.6h1.0M229.3 39.4h1.0M239.8 32.3h1.0M259.0 110.6h1.0M214.8 137.6h1.0M264.3 118.1h1.0M261.2 143.2h1.0M297.8 44.1h1.0M278.6 65.3h1.0M307.6 80.9h1.0M230.9 31.3h1.0M342.7 43.8h1.0M234.9 163.3h1.0M205.5 86.7h1.0M261.5 126.4h1.0M312.9 169.7h1.0M244.8 38.7h1.0M229.6 27.0h1.0M237.5 117.6h1.0M329.3 40.9h1.0M237.4 157.2h1.0M284.2 85.1h1.0M208.6 34.6h1.0M229.9 117.0h1.0M206.5 100.3h1.0M318.1 26.6h1.0M240.2 87.2h1.0M287.5 134.6h1.0M297.6 90.2h1.0M247.6 118.5h1.0M265.5 163.1h1.0M275.7 112.5h1.0M295.8 97.3h1.0M270.3 124.0h1.0M286.0 173.3h1.0M242.8 99.1h1.0M341.1 146.2h1.0M279.3 71.1h1.0M224.2 87.5h1.0M260.6 89.9h1.0M235.6 97.0h1.0M282.2 41.3h1.0M294.7 130.8h1.0M226.7 62.9h1.0M203.6 95.7h1.0M297.1 86.9h1.0M284.5 115.4h1.0M204.5 34.2h1.0M272.4 162.4h1.0M301.7 91.9h1.0M236.1 45.7h1.0M292.9 138.8h1.0M255.7 38.9h1.0M238.7 130.4h1.0M311.2 85.2h1.0M328.2 83.7h1.0M201.5 56.4h1.0M328.7 130.2h1.0M210.7 68.5h1.0M256.0 97.1h1.0M201.7 162.0h1.0M276.0 65.2h1.0M202.6 110.4h1.0M334.9 132.1h1.0M324.1 154.9h1.0M295.6 34.7h1.0M243.7 111.9h1.0M259.1 58.3h1.0M207.9 153.7h1.0M295.9 70.3h1.0M267.0 154.7h1.0M219.2 118.9h1.0M232.2 159.5h1.0M315.5 165.9h1.0M254.2 101.0h1.0M245.2 78.0h1.0M338.0 169.0h1.0M343.9 160.0h1.0M269.8 123.5h1.0M331.3 89.7h1.0M332.9 143.7h1.0M239.7 79.2h1.0M299.4 50.5h1.0M235.6 54.8h1.0M213.7 160.0h1.0M344.4 147.1h1.0M272.0 136.1h1.0M298.9 91.3h1.0M274.4 45.1h1.0M233.5 76.9h1.0M250.4 123.3h1.0M233.5 61.3h1.0M326.4 141.4h1.0M334.8 141.0h1.0M226.6 98.1h1.0M320.4 145.0h1.0M231.5 97.3h1.0M284.5 27.9h1.0M233.8 135.5h1.0M295.9 92.1h1.0M281.8 104.0h1.0M248.8 38.8h1.0M306.9 140.0h1.0M261.8 139.6h1.0M319.5 128.1h1.0M316.6 168.6h1.0M203.9 165.0h1.0M264.4 140.8h1.0M306.2 40.8h1.0M284.1 39.4h1.0M305.4 76.2h1.0M253.3 66.5h1.0M316.9 120.6h1.0M241.8 135.4h1.0M225.2 144.4h1.0M286.7 139.0h1.0M288.5 171.4h1.0M300.0 94.6h1.0M284.7 109.7h1.0M239.9 71.4h1.0M315.3 146.7h1.0M339.7 127.3h1.0M272.1 84.4h1.0M301.5 121.8h1.0M336.5 136.3h1.0M254.3 67.3h1.0M204.6 141.2h1.0M260.8 84.3h1.0M205.8 99.2h1.0M329.9 67.1h1.0M307.1 138.0h1.0M294.9 114.0h1.0M234.6 125.6h1.0M283.8 168.6h1.0M273.6 78.5h1.0M331.0 118.2h1.0M248.1 121.9h1.0M220.4 54.1h1.0M327.8 94.5h1.0M315.7 57.9h1.0M267.1 61.2h1.0M315.8 114.2h1.0M255.8 82.9h1.0M229.0 57.3h1.0M299.4 72.3h1.0M213.3 83.1h1.0M264.5 171.7h1.0M254.6 85.7h1.0M340.7 132.4h1.0M265.3 84.9h1.0M231.1 48.8h1.0M267.3 120.6h1.0M213.5 96.4h1.0M223.4 114.9h1.0M248.6 124.3h1.0M312.9 85.8h1.0M254.2 37.9h1.0M229.1 117.8h1.0M316.5 46.7h1.0M341.3 160.9h1.0M251.7 105.7h1.0M296.7 74.8h1.0M251.8 132.5h1.0M269.1 90.6h1.0M280.6 43.4h1.0M267.1 69.6h1.0M222.6 103.5h1.0M301.1 103.7h1.0M271.2 124.9h1.0M259.9 170.8h1.0M229.4 27.5h1.0M281.5 128.7h1.0M254.1 85.0h1.0M248.3 62.1h1.0M314.2 153.4h1.0M239.0 109.4h1.0M265.5 45.7h1.0M305.7 104.6h1.0M343.4 160.2h1.0M330.6 64.8h1.0M214.1 145.5h1.0M213.9 127.5h1.0M223.8 130.1h1.0M205.9 39.2h1.0M325.4 102.2h1.0M264.1 169.4h1.0M313.1 59.5h1.0M301.6 83.0h1.0M266.1 72.4h1.0M231.3 70.9h1.0M238.0 54.1h1.0M326.3 82.1h1.0M280.3 145.7h1.0M297.6 49.3h1.0M337.9 163.5h1.0M321.2 74.8h1.0M319.9 120.8h1.0M202.6 81.9h1.0M300.5 106.4h1.0M337.1 142.7h1.0M320.8 170.6h1.0M248.4 159.9h1.0M198.4 143.9h1.0M210.9 99.8h1.0M262.8 36.9h1.0M291.4 142.2h1.0M230.8 62.4h1.0M311.2 104.1h1.0M200.7 71.4h1.0M336.5 66.9h1.0M240.5 92.7h1.0M328.1 145.4h1.0M254.5 124.3h1.0M202.1 35.8h1.0M252.6 119.6h1.0M218.6 32.6h1.0M323.3 53.7h1.0M206.0 38.9h1.0M209.6 68.4h1.0M283.0 122.9h1.0M240.0 102.2h1.0M246.8 111.7h1.0M214.0 118.2h1.0M198.0 162.1h1.0M228.7 107.9h1.0M225.7 91.7h1.0M236.8 120.6h1.0M312.4 150.6h1.0M341.0 93.3h1.0M278.7 78.0h1.0M240.3 101.1h1.0M340.9 34.5h1.0M307.7 73.8h1.0M285.7 65.4h1.0M303.5 99.3h1.0M243.5 92.2h1.0M198.7 40.7h1.0M331.3 38.4h1.0M256.4 124.9h1.0M203.3 163.4h1.0M228.3 168.0h1.0M261.7 112.6h1.0M286.6 39.4h1.0M272.3 136.6h1.0M313.9 134.4h1.0M297.9 45.1h1.0M258.1 101.3h1.0M204.0 139.0h1.0M213.0 109.4h1.0M237.2 50.3h1.0M337.8 117.6h1.0M305.6 115.6h1.0M280.8 154.7h1.0M207.3 82.0h1.0M230.1 114.1h1.0M255.9 161.8h1.0M232.2 65.9h1.0M332.7 132.4h1.0M261.0 81.3h1.0M305.7 48.2h1.0M304.0 59.7h1.0M316.4 37.2h1.0M332.2 153.2h1.0M201.6 49.8h1.0M332.2 146.9h1.0M240.9 144.2h1.0M283.1 62.7h1.0M299.0 87.4h1.0M218.8 151.6h1.0M303.3 62.2h1.0M260.7 126.8h1.0M252.5 64.2h1.0M275.3 166.2h1.0M211.9 63.4h1.0M268.9 171.3h1.0M343.7 27.5h1.0M292.2 46.6h1.0M228.4 46.3h1.0M271.4 172.6h1.0M339.8 80.4h1.0M329.9 127.7h1.0M208.9 158.9h1.0M238.1 170.3h1.0M217.4 158.8h1.0M273.3 102.1h1.0M224.9 98.2h1.0M309.5 108.2h1.0M341.9 105.0h1.0M330.7 46.0h1.0M306.2 114.6h1.0M327.6 75.8h1.0M266.0 145.9h1.0M235.5 81.0h1.0M322.3 121.8h1.0M269.9 28.6h1.0M310.1 87.4h1.0M232.9 83.1h1.0M218.2 150.1h1.0M315.0 168.5h1.0M297.0 50.0h1.0M260.0 172.9h1.0M198.1 76.7h1.0M219.9 51.4h1.0M238.4 117.4h1.0M207.9 153.9h1.0M261.2 51.8h1.0M212.9 103.5h1.0M249.3 100.0h1.0M213.8 78.6h1.0M272.2 38.7h1.0M271.6 150.0h1.0M284.6 45.3h1.0M290.7 38.5h1.0M218.8 27.7h1.0M275.9 52.4h1.0M238.9 44.0h1.0M329.4 47.7h1.0M297.0 145.0h1.0M264.0 112.1h1.0M246.9 146.8h1.0M298.7 37.8h1.0M301.3 47.0h1.0M268.6 53.3h1.0M269.1 122.7h1.0M305.7 74.2h1.0M206.0 92.6h1.0M332.2 107.6h1.0M288.9 139.0h1.0M291.7 166.0h1.0M338.1 135.0h1.0M316.5 47.2h1.0M236.9 130.9h1.0M283.2 153.2h1.0M311.6 75.1h1.0M223.2 123.1h1.0M214.3 99.2h1.0M238.5 85.4h1.0M294.0 119.6h1.0M288.6 35.2h1.0M329.2 130.0h1.0M331.2 116.5h1.0M292.9 157.1h1.0M307.5 119.7h1.0M203.9 29.8h1.0M303.2 151.0h1.0M254.7 57.3h1.0M262.8 150.1h1.0M308.9 45.5h1.0M227.6 56.9h1.0M307.4 63.2h1.0M328.5 86.9h1.0M226.3 87.4h1.0M218.5 155.7h1.0M201.4 87.6h1.0M253.6 32.0h1.0M230.6 171.9h1.0M324.1 88.2h1.0M326.2 160.0h1.0M323.9 133.2h1.0M281.2 101.6h1.0M303.2 114.8h1.0M340.9 52.8h1.0M329.9 137.4h1.0M263.0 151.1h1.0M240.0 83.9h1.0M282.7 169.1h1.0M233.6 151.0h1.0M294.5 161.7h1.0M242.0 124.0h1.0M328.4 156.4h1.0M300.5 149.9h1.0M291.1 107.6h1.0M226.2 102.6h1.0M341.4 165.6h1.0M204.2 71.0h1.0M233.2 150.3h1.0M224.7 139.0h1.0M226.8 76.3h1.0M340.8 44.8h1.0M283.4 66.8h1.0M309.0 36.2h1.0M297.4 64.2h1.0M338.5 74.7h1.0M296.3 30.5h1.0M335.9 119.6h1.0M332.2 135.8h1.0M206.8 135.8h1.0M253.9 55.8h1.0M328.7 124.0h1.0M249.3 36.9h1.0M293.3 35.1h1.0M233.1 33.4h1.0M223.3 136.4h1.0M237.3 171.5h1.0M239.0 143.9h1.0M306.0 121.0h1.0M286.8 46.9h1.0M319.6 162.1h1.0M276.0 53.9h1.0M210.6 64.0h1.0M340.7 73.0h1.0M239.2 103.6h1.0M203.1 142.5h1.0M312.4 71.6h1.0M202.4 158.8h1.0M316.8 138.7h1.0M228.9 166.8h1.0M292.1 31.0h1.0M342.1 129.1h1.0M225.0 157.4h1.0M285.7 120.0h1.0M202.1 57.7h1.0M314.3 28.3h1.0M226.4 36.5h1.0M283.5 46.6h1.0M313.1 92.8h1.0M312.8 160.7h1.0M340.6 54.5h1.0M251.5 143.2h1.0M246.8 164.4h1.0M247.4 118.6h1.0M235.6 132.7h1.0M239.6 88.4h1.0M304.1 148.2h1.0M218.6 51.8h1.0M229.1 139.2h1.0M296.9 131.9h1.0M316.6 60.7h1.0M270.9 27.0h1.0M249.7 114.8h1.0M236.2 143.3h1.0M229.2 91.4h1.0M298.4 58.9h1.0M295.4 85.2h1.0M205.1 41.8h1.0M293.8 147.4h1.0M297.8 153.3h1.0M295.7 140.9h1.0M321.0 113.9h1.0M276.0 50.1h1.0M232.7 38.9h1.0M214.3 84.0h1.0M240.9 109.2h1.0M319.6 65.9h1.0M329.3 149.1h1.0M226.2 113.1h1.0M227.0 35.8h1.0M230.3 56.4h1.0M199.1 30.1h1.0M316.5 153.7h1.0M324.8 37.1h1.0M201.5 152.5h1.0M253.0 77.1h1.0M300.9 104.4h1.0M246.3 48.4h1.0M214.9 131.1h1.0M330.9 31.9h1.0M230.8 103.6h1.0M237.1 98.3h1.0M271.7 65.1h1.0M215.2 88.0h1.0M317.1 46.7h1.0M277.0 145.6h1.0M281.7 77.4h1.0M334.3 141.3h1.0M344.3 70.4h1.0M269.0 92.6h1.0M321.4 117.5h1.0M278.8 102.1h1.0M328.8 78.3h1.0M217.3 52.2h1.0M233.8 40.4h1.0M341.4 108.0h1.0M315.1 93.2h1.0M274.5 59.5h1.0M328.8 88.2h1.0M257.6 135.6h1.0M325.5 173.1h1.0M268.6 88.7h1.0M319.3 88.8h1.0M227.7 96.7h1.0M242.9 64.2h1.0M311.4 77.7h1.0M289.8 70.9h1.0M214.8 141.3h1.0M311.7 130.1h1.0M287.5 52.0h1.0M271.6 148.9h1.0M313.1 113.3h1.0M290.6 51.4h1.0M206.1 150.8h1.0M200.7 63.6h1.0M256.7 129.4h1.0M300.3 153.9h1.0M334.5 66.3h1.0M234.5 44.3h1.0M246.4 41.4h1.0M339.1 110.9h1.0M270.1 34.8h1.0M331.9 62.4h1.0M311.0 56.4h1.0M237.7 46.5h1.0M276.5 68.1h1.0M281.9 131.6h1.0M231.2 45.7h1.0M273.7 85.1h1.0M263.6 80.5h1.0M222.2 44.4h1.0M304.8 119.7h1.0M299.0 120.3h1.0M273.3 55.2h1.0M332.2 104.7h1.0M265.2 64.8h1.0M253.3 170.7h1.0M257.6 144.6h1.0M216.3 114.5h1.0M237.9 60.8h1.0M242.6 84.6h1.0M292.5 86.3h1.0M324.4 49.1h1.0M323.6 90.6h1.0M314.3 84.4h1.0M235.8 158.0h1.0M291.5 132.6h1.0M274.7 130.9h1.0M338.4 135.3h1.0M340.2 77.7h1.0M241.7 156.3h1.0M320.4 157.1h1.0M261.9 87.2h1.0M337.1 56.1h1.0M222.4 51.6h1.0M242.4 87.8h1.0M254.2 94.0h1.0M203.2 76.6h1.0M272.6 34.3h1.0M268.7 159.5h1.0M293.9 165.6h1.0M324.3 99.0h1.0M201.1 35.1h1.0M282.6 150.3h1.0M246.7 45.7h1.0M309.4 105.6h1.0M266.7 45.1h1.0M279.3 110.7h1.0M302.3 159.1h1.0M209.1 148.6h1.0M245.2 87.5h1.0M248.5 145.2h1.0M262.8 36.8h1.0M267.6 48.1h1.0M200.3 33.8h1.0M253.9 92.6h1.0M198.1 46.4h1.0M330.4 106.3h1.0M341.9 106.1h1.0M338.1 128.1h1.0M254.9 33.7h1.0M219.7 142.9h1.0M295.2 70.1h1.0M222.0 120.5h1.0M334.5 62.9h1.0M344.4 104.9h1.0M228.5 53.1h1.0M302.5 162.9h1.0M227.8 61.3h1.0M219.0 57.0h1.0M231.1 87.8h1.0M232.9 123.9h1.0M233.2 65.5h1.0M259.5 51.2h1.0M205.5 39.6h1.0M198.7 125.5h1.0M205.2 96.9h1.0M328.5 116.7h1.0M243.0 85.5h1.0M260.7 73.5h1.0M205.9 49.3h1.0M219.0 56.9h1.0M246.6 41.4h1.0M288.4 55.7h1.0M272.9 128.3h1.0M271.0 135.4h1.0M312.5 92.2h1.0M229.2 32.6h1.0M299.7 80.4h1.0M240.7 38.6h1.0M224.4 157.6h1.0M267.3 151.0h1.0M322.0 62.8h1.0M231.2 156.8h1.0M232.8 114.4h1.0M335.5 94.9h1.0M260.3 167.2h1.0M324.7 162.7h1.0M301.8 59.3h1.0M205.1 29.5h1.0M333.5 106.2h1.0M327.7 167.3h1.0M232.8 169.1h1.0M238.2 52.7h1.0M237.9 172.8h1.0M335.9 78.2h1.0M268.8 147.6h1.0M316.0 158.4h1.0M251.2 60.5h1.0M273.3 163.8h1.0M288.0 154.7h1.0M226.8 101.0h1.0M332.6 110.3h1.0M314.5 145.2h1.0M263.0 127.8h1.0M299.6 91.0h1.0M274.4 145.5h1.0M327.4 171.5h1.0M251.9 125.8h1.0M278.9 151.7h1.0M233.3 95.0h1.0M235.6 144.5h1.0M302.3 27.2h1.0M213.9 47.1h1.0M284.8 140.4h1.0M248.5 38.0h1.0M283.9 116.7h1.0M261.2 66.2h1.0M248.9 60.5h1.0M317.3 82.5h1.0M302.7 107.1h1.0M231.6 67.5h1.0M296.4 153.4h1.0M332.7 49.0h1.0M236.1 40.9h1.0M225.8 83.2h1.0M303.4 161.1h1.0M284.7 47.7h1.0M253.3 47.4h1.0M239.0 110.9h1.0M271.6 51.6h1.0M238.5 158.2h1.0M290.6 114.8h1.0M245.3 70.3h1.0M309.8 28.5h1.0M294.0 167.1h1.0M291.3 33.4h1.0M203.0 141.9h1.0M225.2 88.4h1.0M293.6 125.7h1.0M240.3 126.7h1.0M332.1 95.2h1.0M256.2 127.2h1.0M326.2 127.4h1.0M334.1 141.3h1.0M338.4 63.1h1.0M296.8 57.1h1.0M215.2 76.6h1.0M336.8 69.7h1.0M243.3 162.7h1.0M342.1 137.8h1.0M249.8 147.5h1.0M207.6 27.8h1.0M207.3 75.6h1.0M233.4 152.8h1.0M263.6 151.6h1.0M269.6 81.1h1.0M247.8 33.3h1.0M264.7 166.3h1.0M340.6 163.4h1.0M212.4 91.4h1.0M320.4 49.0h1.0M207.6 56.6h1.0M210.4 135.2h1.0M302.6 171.8h1.0M205.4 129.7h1.0M314.5 52.6h1.0M209.6 170.5h1.0M314.0 36.5h1.0M225.5 123.2h1.0M223.1 90.5h1.0M220.0 39.8h1.0M269.1 106.2h1.0M322.3 26.9h1.0M250.1 36.9h1.0M279.1 50.6h1.0M246.6 169.0h1.0M293.3 124.7h1.0M286.9 56.0h1.0M298.5 169.1h1.0M211.1 149.8h1.0M248.5 55.9h1.0M294.2 151.6h1.0M222.5 55.3h1.0M271.5 56.4h1.0M272.4 172.0h1.0M201.8 89.3h1.0M227.7 50.8h1.0M284.4 165.8h1.0M267.0 108.5h1.0M300.7 152.7h1.0M339.9 75.3h1.0M224.0 161.2h1.0M286.8 156.3h1.0M219.5 142.5h1.0M215.4 45.7h1.0M215.8 79.6h1.0M259.0 123.1h1.0M335.7 89.5h1.0M282.9 86.8h1.0M254.2 65.3h1.0M198.8 63.9h1.0M304.1 143.9h1.0M298.7 91.2h1.0M258.3 54.1h1.0M233.6 173.2h1.0M284.3 85.8h1.0M276.6 98.8h1.0M241.2 87.8h1.0M261.2 158.5h1.0M328.8 68.7h1.0M264.9 59.0h1.0M337.9 46.3h1.0M268.7 28.1h1.0M265.6 94.0h1.0M200.1 48.6h1.0M271.4 96.1h1.0M242.5 34.3h1.0M245.6 77.5h1.0M213.2 114.5h1.0M230.3 104.6h1.0M302.2 28.4h1.0M271.1 120.1h1.0M329.3 127.9h1.0M321.0 123.8h1.0M230.9 146.0h1.0M309.0 98.0h1.0M333.8 33.5h1.0M331.3 78.9h1.0M277.6 143.6h1.0M222.5 99.3h1.0M200.2 31.6h1.0M338.3 58.6h1.0M260.7 44.0h1.0M334.8 100.9h1.0M323.5 66.4h1.0M266.0 62.7h1.0M284.6 130.4h1.0M282.2 112.3h1.0M243.5 166.5h1.0M200.9 50.8h1.0M296.0 169.5h1.0M322.4 62.6h1.0M336.5 93.5h1.0M281.8 121.6h1.0M288.6 155.8h1.0M329.9 72.8h1.0M329.0 72.8h1.0M298.4 49.5h1.0M291.6 70.5h1.0M344.0 124.2h1.0M254.9 167.9h1.0M215.0 136.2h1.0M293.2 28.8h1.0M265.5 43.4h1.0M344.8 41.0h1.0M291.3 106.3h1.0M216.4 163.8h1.0M282.3 117.3h1.0M236.7 48.9h1.0M245.8 31.4h1.0M227.5 99.3h1.0M255.3 138.2h1.0M218.8 56.7h1.0M274.8 127.4h1.0M244.2 56.7h1.0M216.4 79.8h1.0M253.7 143.6h1.0M233.2 76.4h1.0M307.4 56.8h1.0M203.7 169.4h1.0M332.2 72.8h1.0M239.6 94.0h1.0M228.9 142.1h1.0M327.9 131.1h1.0M256.6 149.9h1.0M335.5 53.4h1.0M296.1 51.7h1.0M342.8 143.4h1.0M258.1 135.4h1.0M241.0 35.7h1.0M273.4 37.4h1.0M265.1 151.9h1.0M282.7 65.4h1.0M229.1 108.5h1.0M272.8 159.3h1.0M223.2 94.9h1.0M263.7 81.8h1.0M225.3 82.7h1.0M277.7 54.9h1.0M245.1 103.9h1.0M336.0 97.3h1.0M248.8 31.4h1.0M274.0 77.0h1.0M215.0 96.1h1.0M288.4 78.0h1.0M305.9 119.3h1.0M207.2 33.6h1.0M275.1 115.4h1.0M279.8 60.0h1.0M248.6 131.9h1.0M256.3 104.2h1.0M231.5 118.9h1.0M268.4 26.7h1.0M308.8 144.5h1.0M342.9 165.0h1.0M301.1 95.0h1.0M237.0 129.9h1.0M259.5 73.8h1.0M215.2 115.4h1.0M302.3 139.5h1.0M220.4 56.5h1.0M291.5 45.4h1.0M328.1 162.8h1.0M290.6 64.8h1.0M280.6 139.1h1.0M248.6 121.9h1.0M286.3 160.1h1.0M311.9 124.8h1.0M278.0 157.3h1.0M286.5 127.7h1.0M243.6 42.1h1.0M279.9 59.0h1.0M340.3 58.9h1.0M329.5 75.4h1.0M226.1 111.3h1.0M245.3 172.6h1.0M288.7 41.2h1.0M243.5 42.8h1.0M270.5 104.0h1.0M244.4 125.3h1.0M263.3 147.0h1.0M297.7 64.4h1.0M319.8 30.7h1.0M232.5 30.5h1.0M337.7 105.1h1.0M321.5 172.0h1.0M211.4 158.8h1.0M201.0 129.5h1.0M314.4 82.9h1.0M328.7 139.2h1.0M271.0 67.7h1.0M221.4 37.5h1.0M277.5 103.6h1.0M225.5 104.4h1.0M209.7 70.7h1.0M296.2 48.6h1.0M274.8 46.0h1.0M327.5 57.4h1.0M334.7 161.5h1.0M339.6 67.9h1.0M298.1 36.6h1.0M340.7 128.2h1.0M203.4 46.7h1.0M213.5 77.5h1.0M335.6 142.4h1.0M245.9 145.5h1.0M199.6 106.5h1.0M255.2 37.4h1.0M333.0 123.1h1.0M344.2 120.5h1.0M289.2 45.1h1.0M267.9 158.3h1.0M280.0 120.2h1.0M265.5 79.0h1.0M199.7 58.5h1.0M225.3 39.7h1.0M205.9 137.5h1.0M344.1 129.0h1.0M319.9 57.2h1.0M322.7 82.3h1.0M323.5 61.3h1.0M241.9 103.8h1.0M230.8 64.4h1.0M304.7 142.5h1.0M342.3 122.7h1.0M249.5 95.3h1.0M284.0 113.5h1.0M332.7 109.8h1.0M339.1 96.6h1.0M263.5 30.6h1.0M245.6 97.4h1.0M199.7 91.0h1.0M215.0 65.7h1.0M327.8 161.1h1.0M214.8 112.8h1.0M269.4 34.2h1.0M241.7 104.9h1.0M260.4 110.2h1.0M207.7 116.5h1.0M287.8 54.2h1.0M281.2 163.8h1.0M328.8 117.1h1.0M274.4 136.7h1.0M264.6 130.3h1.0M252.7 108.0h1.0M305.7 112.4h1.0M286.5 82.9h1.0M249.4 122.8h1.0M263.5 91.2h1.0M253.6 69.1h1.0M289.9 155.5h1.0M226.6 121.9h1.0M276.0 120.1h1.0M295.4 85.2h1.0M199.5 79.8h1.0M274.5 119.0h1.0M334.0 123.1h1.0M293.9 77.9h1.0M314.6 45.4h1.0M327.9 98.4h1.0M264.6 128.2h1.0M277.7 172.9h1.0M215.7 35.7h1.0M285.3 59.6h1.0M231.4 173.2h1.0M275.7 69.4h1.0M251.5 59.5h1.0M235.0 46.2h1.0M341.3 134.5h1.0M250.8 42.3h1.0M341.2 157.3h1.0M211.9 154.2h1.0M278.9 171.3h1.0M262.7 90.4h1.0M199.2 111.1h1.0M233.0 156.0h1.0M230.9 156.3h1.0M247.0 145.0h1.0M302.8 163.7h1.0M282.4 79.3h1.0M236.6 60.9h1.0M213.1 70.3h1.0M244.5 147.4h1.0M199.0 100.2h1.0M272.5 49.6h1.0M299.8 56.8h1.0M307.1 51.2h1.0M327.0 72.2h1.0M211.9 48.4h1.0M228.0 45.7h1.0M244.1 169.2h1.0M253.0 84.3h1.0M308.5 37.2h1.0M210.9 154.4h1.0M246.0 52.0h1.0M225.0 135.8h1.0M341.5 85.0h1.0M302.5 94.3h1.0M227.9 72.6h1.0M247.8 63.2h1.0M314.5 39.7h1.0M254.7 134.5h1.0M202.9 168.1h1.0M288.3 122.3h1.0M226.2 56.2h1.0M321.8 169.8h1.0M200.2 146.6h1.0M227.4 37.6h1.0M285.6 40.3h1.0M321.4 150.6h1.0M240.0 47.6h1.0M273.3 136.6h1.0M203.6 130.0h1.0M216.1 81.9h1.0M222.2 38.2h1.0M276.5 70.4h1.0M331.7 159.4h1.0M304.6 101.6h1.0M292.9 75.3h1.0M266.8 106.9h1.0M259.8 91.7h1.0M323.1 171.9h1.0M306.0 152.7h1.0M242.8 37.3h1.0M230.7 99.9h1.0M310.3 134.3h1.0M332.3 141.0h1.0M241.9 34.4h1.0M268.8 74.9h1.0M325.7 159.6h1.0M277.0 140.2h1.0M304.7 102.8h1.0M262.9 166.6h1.0M315.1 110.4h1.0M342.9 48.2h1.0M310.9 107.3h1.0M245.2 45.0h1.0M283.3 154.2h1.0M223.8 158.6h1.0M342.9 54.9h1.0M279.1 97.7h1.0M247.3 43.9h1.0M237.3 164.9h1.0M321.3 166.3h1.0M271.2 99.8h1.0M207.0 89.1h1.0M283.4 172.5h1.0M207.4 123.0h1.0M204.9 169.4h1.0M227.6 128.4h1.0M291.1 56.6h1.0M265.8 88.6h1.0M224.2 84.6h1.0M207.3 130.5h1.0M340.6 106.1h1.0M256.6 102.0h1.0M219.2 135.1h1.0M299.5 41.6h1.0M253.5 44.4h1.0M300.9 28.5h1.0M325.8 35.8h1.0M320.6 54.6h1.0M275.7 131.0h1.0M335.8 155.1h1.0M220.4 131.6h1.0M261.1 51.0h1.0M265.8 164.3h1.0M200.8 129.2h1.0M277.6 156.2h1.0M267.8 63.0h1.0M322.9 42.2h1.0M299.1 69.5h1.0M205.9 51.0h1.0M322.8 49.4h1.0M332.8 48.0h1.0M334.3 34.0h1.0M294.8 104.9h1.0M285.6 162.5h1.0M231.3 172.5h1.0M281.6 145.4h1.0M234.8 173.1h1.0M303.8 95.7h1.0M229.9 155.6h1.0M280.2 171.9h1.0M327.8 136.5h1.0M304.0 51.0h1.0M319.8 131.5h1.0M212.3 36.5h1.0M212.9 58.5h1.0M310.2 139.3h1.0M300.0 80.6h1.0M335.7 48.6h1.0M231.4 91.2h1.0M236.3 134.6h1.0M320.5 135.8h1.0M245.5 111.7h1.0M244.2 107.1h1.0M276.0 48.8h1.0M322.1 145.9h1.0M312.2 39.8h1.0M232.3 136.6h1.0M316.5 117.2h1.0M335.0 89.0h1.0M231.3 96.1h1.0M242.3 82.4h1.0M312.8 73.9h1.0M302.6 113.6h1.0M201.2 101.4h1.0M325.3 121.6h1.0M323.0 120.4h1.0M344.0 32.0h1.0M260.4 55.4h1.0M309.1 69.6h1.0M295.6 122.8h1.0M200.5 116.7h1.0M246.3 63.5h1.0M292.8 119.3h1.0M229.4 131.0h1.0M209.0 34.4h1.0M328.3 163.0h1.0M337.0 172.7h1.0M306.8 110.0h1.0M275.7 105.1h1.0M336.5 168.6h1.0M262.0 56.0h1.0M276.9 88.6h1.0M316.8 162.0h1.0M289.0 38.4h1.0M276.4 45.2h1.0M276.8 146.8h1.0M296.8 95.1h1.0M221.2 163.4h1.0M325.9 98.2h1.0M205.7 125.9h1.0M256.9 84.8h1.0M253.5 66.8h1.0M218.6 122.0h1.0M274.1 89.7h1.0M308.2 100.3h1.0M221.8 65.7h1.0M280.0 124.4h1.0M291.0 136.1h1.0M250.5 139.2h1.0M283.6 63.7h1.0M216.4 118.4h1.0M322.4 166.3h1.0M317.9 147.4h1.0M284.6 62.4h1.0M241.5 153.1h1.0M238.1 97.6h1.0M278.6 28.9h1.0M214.3 55.7h1.0M314.9 141.9h1.0M210.8 50.2h1.0M342.8 50.7h1.0M315.4 112.6h1.0M326.0 134.8h1.0M212.3 139.5h1.0M303.0 32.4h1.0M336.3 69.3h1.0M266.2 103.5h1.0M279.5 110.2h1.0M207.6 151.9h1.0M274.8 40.8h1.0M271.8 54.2h1.0M261.4 132.2h1.0M308.6 50.1h1.0M240.2 168.9h1.0M290.3 53.6h1.0M287.5 62.8h1.0M208.9 123.2h1.0M214.5 47.0h1.0M297.6 168.6h1.0M208.1 136.6h1.0M219.0 34.9h1.0M200.4 29.3h1.0M305.3 159.9h1.0M199.9 48.4h1.0M204.9 86.2h1.0M245.3 54.6h1.0M317.7 41.7h1.0M290.8 47.4h1.0M294.0 45.3h1.0M226.9 171.9h1.0M237.1 92.7h1.0M295.0 173.3h1.0M278.6 43.4h1.0M296.2 126.9h1.0M283.8 83.0h1.0M318.4 35.6h1.0M278.2 106.4h1.0M332.8 141.0h1.0M233.2 82.7h1.0M285.5 82.3h1.0M207.2 172.4h1.0M264.7 46.9h1.0M220.4 28.5h1.0M331.7 46.9h1.0M280.7 165.4h1.0M310.7 113.3h1.0M239.8 125.5h1.0M316.4 56.8h1.0M231.5 86.9h1.0M285.8 157.3h1.0M284.8 65.6h1.0M304.5 48.4h1.0M213.7 27.7h1.0M282.6 111.4h1.0M266.2 107.8h1.0M225.6 57.3h1.0M283.9 85.7h1.0M271.3 160.9h1.0M266.6 135.8h1.0M206.9 98.5h1.0M205.9 55.5h1.0M225.7 82.8h1.0M221.3 163.8h1.0M242.1 71.1h1.0M208.4 80.6h1.0M313.1 106.7h1.0M329.2 117.2h1.0M292.5 89.2h1.0M320.6 92.5h1.0M218.5 59.3h1.0M315.0 34.8h1.0M224.5 118.6h1.0M298.2 94.8h1.0M293.8 88.1h1.0M284.6 32.0h1.0M258.5 169.7h1.0M282.4 76.5h1.0M289.5 170.0h1.0M266.4 87.6h1.0M318.6 151.5h1.0M231.2 124.7h1.0M241.9 78.3h1.0M315.9 79.7h1.0M332.2 97.9h1.0M325.3 45.3h1.0M257.4 31.3h1.0M324.0 157.3h1.0M269.3 94.7h1.0M340.5 83.2h1.0M242.9 46.5h1.0M332.9 144.4h1.0M275.4 133.7h1.0M320.7 124.8h1.0M213.9 121.8h1.0M326.0 96.3h1.0M260.7 121.2h1.0M226.0 59.5h1.0M297.9 172.5h1.0M214.7 124.2h1.0M271.9 31.8h1.0M221.7 71.2h1.0M299.6 45.8h1.0M252.8 117.6h1.0M308.8 172.9h1.0M321.0 54.5h1.0M280.1 115.5h1.0M279.1 114.2h1.0M254.2 61.3h1.0M295.9 154.9h1.0M298.2 123.2h1.0M338.6 63.6h1.0M282.4 148.1h1.0M293.8 26.5h1.0M273.0 146.5h1.0M227.7 84.3h1.0M342.2 93.2h1.0M277.8 114.2h1.0M322.8 93.4h1.0M329.9 130.1h1.0M256.9 116.8h1.0M242.1 33.9h1.0M269.2 33.0h1.0M241.9 150.4h1.0M340.5 55.4h1.0M222.4 78.3h1.0M264.1 47.2h1.0M316.4 49.5h1.0M277.2 66.4h1.0M292.9 43.4h1.0M270.5 151.1h1.0M200.5 54.8h1.0M208.6 149.4h1.0M296.5 61.9h1.0M330.1 51.8h1.0M269.7 133.7h1.0M286.2 36.0h1.0M204.9 53.4h1.0M336.8 158.6h1.0M242.1 33.4h1.0M291.2 55.5h1.0M328.9 161.5h1.0M312.8 140.7h1.0M312.3 148.8h1.0M253.7 132.6h1.0M199.9 128.5h1.0M263.3 171.2h1.0M313.3 93.0h1.0M301.8 112.5h1.0M288.6 27.5h1.0M231.0 64.2h1.0M301.3 161.2h1.0M290.3 137.9h1.0M291.4 47.8h1.0M235.5 111.9h1.0M308.7 88.0h1.0M300.0 75.5h1.0M244.2 51.2h1.0M258.8 111.6h1.0M214.1 163.2h1.0M199.2 134.0h1.0M248.9 164.4h1.0M240.1 30.1h1.0M299.4 82.0h1.0M318.1 124.4h1.0M262.8 123.6h1.0M298.0 74.7h1.0M226.6 122.5h1.0M281.5 33.3h1.0M221.8 89.7h1.0M211.2 103.5h1.0M256.0 69.8h1.0M308.2 134.9h1.0M207.8 114.2h1.0M343.7 115.6h1.0M342.6 60.5h1.0M230.4 74.4h1.0M232.4 49.8h1.0M235.4 100.0h1.0M317.1 140.0h1.0M203.8 139.1h1.0M291.7 65.5h1.0M199.0 152.9h1.0M217.8 63.7h1.0M242.6 143.5h1.0M336.8 161.1h1.0M322.7 150.7h1.0M267.3 34.6h1.0M232.5 47.0h1.0M215.0 46.1h1.0M244.8 33.7h1.0M241.3 152.2h1.0M233.5 101.2h1.0M322.9 28.6h1.0M304.7 106.2h1.0M202.4 157.4h1.0M314.8 41.2h1.0M339.1 111.2h1.0M291.2 57.6h1.0M202.5 130.1h1.0M302.7 53.0h1.0M203.0 110.9h1.0M243.2 77.0h1.0M325.4 109.5h1.0M215.3 129.2h1.0M303.8 109.9h1.0M338.0 96.3h1.0M293.4 34.5h1.0M242.2 70.5h1.0M261.1 101.5h1.0M214.8 128.0h1.0M206.0 63.4h1.0M283.9 29.9h1.0M246.3 145.4h1.0M305.4 81.6h1.0M222.5 136.7h1.0M325.6 38.3h1.0M259.4 106.9h1.0M299.8 56.1h1.0M318.7 115.9h1.0M315.3 165.9h1.0M298.3 125.0h1.0M241.7 66.5h1.0M252.9 145.6h1.0M285.5 67.3h1.0M330.5 102.4h1.0M341.7 122.4h1.0M305.9 77.1h1.0M343.6 96.9h1.0M296.9 85.7h1.0M274.8 52.3h1.0M252.1 87.1h1.0M307.1 49.6h1.0M227.0 121.1h1.0M267.5 156.1h1.0M200.9 91.4h1.0M320.0 137.4h1.0M249.8 102.3h1.0M256.3 27.0h1.0M209.9 59.9h1.0M326.0 54.6h1.0M239.9 108.4h1.0M300.3 121.7h1.0M243.4 76.5h1.0M199.9 143.2h1.0M253.4 69.2h1.0M228.4 98.9h1.0M220.0 74.2h1.0M213.4 54.3h1.0M275.4 74.6h1.0M213.7 154.6h1.0M206.7 87.1h1.0M241.0 34.8h1.0M241.4 91.2h1.0M299.2 64.5h1.0M253.7 158.9h1.0M291.2 91.9h1.0M229.1 141.9h1.0M334.6 61.6h1.0M322.9 81.3h1.0M268.3 30.1h1.0M233.6 61.7h1.0M227.8 147.9h1.0M337.6 73.2h1.0M315.8 70.7h1.0M283.3 54.9h1.0M331.5 102.2h1.0M284.7 143.2h1.0M274.9 98.4h1.0M302.5 96.1h1.0M282.6 70.3h1.0M220.4 59.2h1.0M340.6 113.2h1.0M200.7 53.9h1.0M283.6 101.6h1.0M343.2 159.3h1.0M208.5 145.0h1.0M342.3 136.1h1.0M337.9 82.4h1.0M290.4 127.1h1.0M314.9 131.8h1.0M318.4 76.0h1.0M314.7 114.2h1.0M339.1 74.0h1.0M289.0 153.0h1.0M309.6 128.9h1.0M219.4 49.2h1.0M244.7 122.3h1.0M202.8 123.4h1.0M215.6 54.8h1.0M238.7 107.0h1.0M303.4 165.7h1.0M231.5 38.9h1.0M323.9 113.1h1.0M332.9 131.6h1.0M217.1 79.6h1.0M230.2 92.6h1.0M239.9 153.1h1.0M329.5 54.2h1.0M344.8 168.0h1.0M254.6 155.0h1.0M336.9 134.4h1.0M251.3 119.0h1.0M310.6 76.3h1.0M267.8 39.4h1.0M220.9 143.4h1.0M243.3 129.7h1.0M261.0 130.9h1.0M239.9 39.1h1.0M296.0 64.1h1.0M228.0 94.5h1.0M270.8 157.4h1.0M300.3 90.4h1.0M262.7 114.6h1.0M217.0 70.2h1.0M286.6 164.6h1.0M286.2 57.2h1.0M340.0 143.5h1.0M230.7 80.5h1.0M202.9 138.5h1.0M230.0 148.0h1.0M303.4 140.6h1.0M280.9 62.0h1.0M203.3 113.8h1.0M199.9 102.7h1.0M311.6 47.0h1.0M262.1 106.0h1.0M220.1 56.0h1.0M287.6 51.8h1.0M220.4 58.8h1.0M335.5 158.4h1.0M214.3 110.7h1.0M258.4 30.8h1.0M234.9 122.0h1.0M200.9 167.4h1.0M239.9 77.5h1.0M337.3 46.8h1.0M217.2 95.8h1.0M244.0 73.2h1.0M283.5 166.1h1.0M258.9 32.8h1.0M252.8 151.8h1.0M261.5 35.3h1.0M234.6 59.7h1.0M249.5 73.1h1.0M296.5 132.2h1.0M204.6 47.7h1.0M318.7 155.2h1.0M313.7 52.4h1.0M299.7 37.4h1.0M297.1 58.9h1.0M321.3 150.4h1.0M266.6 133.1h1.0M336.7 157.8h1.0M293.0 117.0h1.0M250.4 126.9h1.0M218.7 93.7h1.0M210.5 39.8h1.0M296.0 89.0h1.0M228.5 166.0h1.0M240.7 105.7h1.0M270.0 53.5h1.0M343.9 137.9h1.0M328.9 70.4h1.0M331.7 160.3h1.0M336.2 52.5h1.0M220.9 38.6h1.0M211.2 129.6h1.0M205.4 94.7h1.0M250.1 133.5h1.0M204.8 132.4h1.0M338.6 70.0h1.0M257.2 135.4h1.0M242.8 150.9h1.0M344.3 59.1h1.0M267.0 47.8h1.0M279.9 84.2h1.0M340.7 133.3h1.0M343.7 145.6h1.0M319.1 82.6h1.0M295.6 43.0h1.0M249.1 161.9h1.0M341.9 51.8h1.0M270.6 85.9h1.0M289.0 113.7h1.0M236.3 155.8h1.0M264.1 140.5h1.0M304.0 170.6h1.0M273.6 113.0h1.0M311.3 60.1h1.0M204.6 146.0h1.0M299.9 136.7h1.0M315.5 55.8h1.0M326.9 120.5h1.0M336.6 108.1h1.0M325.0 34.7h1.0M222.3 107.7h1.0M296.0 83.1h1.0M208.6 156.7h1.0M208.5 157.1h1.0M232.2 130.2h1.0M285.1 61.1h1.0M246.2 61.8h1.0M276.3 67.2h1.0M277.8 67.8h1.0M215.7 128.9h1.0M236.4 165.9h1.0M257.5 64.9h1.0M303.4 159.0h1.0M252.4 134.2h1.0M246.7 172.6h1.0M242.1 31.7h1.0M198.6 106.2h1.0M289.7 68.4h1.0M258.8 86.5h1.0M251.3 54.2h1.0M277.9 124.4h1.0M202.0 156.0h1.0M236.1 96.3h1.0M230.0 125.4h1.0M257.6 111.9h1.0M257.9 101.1h1.0M210.7 170.8h1.0M260.5 75.0h1.0M322.3 69.6h1.0M314.1 88.7h1.0M215.1 110.8h1.0M239.1 55.9h1.0M343.3 164.2h1.0M267.2 145.2h1.0M296.3 70.9h1.0M217.0 111.9h1.0M226.0 137.4h1.0M285.3 58.7h1.0M312.0 168.7h1.0M268.5 169.1h1.0M264.0 28.9h1.0M265.9 78.2h1.0M332.7 103.2h1.0M339.0 50.2h1.0M254.3 28.4h1.0M205.5 131.0h1.0M202.8 59.0h1.0M261.8 161.8h1.0M232.7 27.0h1.0M300.9 128.8h1.0M218.4 162.9h1.0M325.0 164.1h1.0M318.9 106.8h1.0M300.9 44.5h1.0M292.5 78.5h1.0M247.3 72.4h1.0M209.9 145.6h1.0M310.2 27.7h1.0M273.3 29.7h1.0M278.0 50.9h1.0M339.1 73.2h1.0M274.8 64.9h1.0M330.7 27.5h1.0M242.5 59.5h1.0M307.6 81.0h1.0M324.5 74.5h1.0M216.5 93.3h1.0M210.7 48.7h1.0M274.8 110.8h1.0M229.4 52.8h1.0M274.6 91.8h1.0M268.7 125.0h1.0M218.7 28.0h1.0M207.5 143.3h1.0M301.1 48.9h1.0M246.5 71.6h1.0M333.5 87.0h1.0M302.9 38.9h1.0M204.1 59.4h1.0M292.2 92.1h1.0M326.0 147.4h1.0M295.5 173.1h1.0M339.0 156.3h1.0M211.1 85.1h1.0M219.3 116.4h1.0M272.2 39.9h1.0M209.7 94.7h1.0M289.7 86.1h1.0M267.3 119.7h1.0M300.5 130.5h1.0M258.9 51.6h1.0M325.7 32.3h1.0M228.2 54.3h1.0M285.2 117.8h1.0M212.7 102.0h1.0M282.4 127.4h1.0M208.9 133.3h1.0M237.7 82.9h1.0M216.3 150.3h1.0M288.7 145.9h1.0M273.6 42.5h1.0M256.9 37.9h1.0M212.5 145.0h1.0M198.0 83.6h1.0M204.1 138.8h1.0M343.4 31.1h1.0M251.4 169.9h1.0M234.8 71.9h1.0M342.9 161.9h1.0M254.7 125.0h1.0M314.6 78.5h1.0M198.3 81.3h1.0M299.7 168.3h1.0M262.8 86.8h1.0M253.9 115.7h1.0M201.3 160.7h1.0M338.1 30.9h1.0M198.9 72.5h1.0M219.4 139.6h1.0M325.7 106.7h1.0M336.6 59.9h1.0M226.8 82.8h1.0M264.3 55.5h1.0M333.2 136.8h1.0M240.3 59.6h1.0M239.6 84.5h1.0M294.1 140.5h1.0M337.4 38.2h1.0M226.7 82.2h1.0M337.8 93.6h1.0M303.6 148.4h1.0M265.7 81.8h1.0M311.9 120.5h1.0M343.8 66.1h1.0M338.0 97.9h1.0M325.5 120.7h1.0M280.7 152.2h1.0M209.8 67.6h1.0M269.6 147.0h1.0M225.3 141.1h1.0M210.9 77.8h1.0M266.1 131.6h1.0M274.7 151.3h1.0M299.7 82.8h1.0M274.5 83.6h1.0M326.1 71.0h1.0M224.5 62.3h1.0M234.8 145.5h1.0M298.8 62.4h1.0M259.7 158.0h1.0M339.1 59.1h1.0M336.6 34.9h1.0M344.6 73.5h1.0M338.1 30.9h1.0M299.1 162.4h1.0M318.4 110.5h1.0M220.9 61.2h1.0M336.4 153.9h1.0M230.5 76.9h1.0M288.0 70.9h1.0M229.3 154.2h1.0M214.3 119.5h1.0M257.6 95.5h1.0M325.9 136.1h1.0M311.7 28.7h1.0M316.9 143.0h1.0M198.1 59.5h1.0M305.2 154.3h1.0M277.2 157.2h1.0M210.9 64.5h1.0M318.4 143.1h1.0M230.8 110.1h1.0M262.3 135.0h1.0M256.5 73.3h1.0M309.8 128.7h1.0M251.1 131.4h1.0M236.5 100.0h1.0M225.5 76.9h1.0M259.4 39.3h1.0M243.8 78.1h1.0M246.0 100.9h1.0M330.1 151.4h1.0M241.4 46.1h1.0M210.9 156.6h1.0M309.5 135.0h1.0M331.3 85.4h1.0M223.1 39.7h1.0M256.6 139.4h1.0M210.5 90.7h1.0M209.9 57.8h1.0M279.3 122.0h1.0M336.4 73.5h1.0M232.1 35.4h1.0M225.6 31.4h1.0M198.2 43.3h1.0M276.8 93.5h1.0M331.1 97.8h1.0M210.8 47.8h1.0M300.8 170.6h1.0M308.0 60.8h1.0M248.7 90.7h1.0M261.6 67.9h1.0M220.7 30.2h1.0M327.2 169.8h1.0M341.6 82.2h1.0M298.9 56.7h1.0M214.5 26.7h1.0M246.9 143.7h1.0M275.5 60.7h1.0M268.7 105.9h1.0M226.7 92.2h1.0M334.4 92.2h1.0M343.4 132.7h1.0M216.9 161.5h1.0M299.6 91.5h1.0M225.7 123.2h1.0M225.9 94.2h1.0M220.2 87.2h1.0M340.0 114.3h1.0M273.3 117.3h1.0M294.1 115.0h1.0M239.9 57.6h1.0M287.0 163.1h1.0M326.0 98.2h1.0M241.3 112.8h1.0M204.9 99.4h1.0M313.0 168.7h1.0M211.4 55.8h1.0M268.4 115.9h1.0M339.5 42.1h1.0M216.9 97.6h1.0M314.5 30.5h1.0M253.8 130.9h1.0M259.7 52.7h1.0M208.4 138.3h1.0M272.9 105.5h1.0M298.3 138.6h1.0M257.0 80.1h1.0M332.9 37.5h1.0M312.0 94.2h1.0M276.2 63.2h1.0M336.4 71.0h1.0M245.0 35.1h1.0M328.9 148.4h1.0M205.4 48.1h1.0M240.3 30.5h1.0M271.1 151.2h1.0M303.7 100.3h1.0M341.7 71.1h1.0M244.7 65.4h1.0M286.5 94.9h1.0M216.3 98.8h1.0M339.9 155.4h1.0M289.6 153.3h1.0M269.4 99.4h1.0M300.2 56.0h1.0M285.1 100.1h1.0M241.7 99.5h1.0M224.1 120.9h1.0M214.8 92.1h1.0M206.2 105.8h1.0M212.2 147.6h1.0M200.7 145.1h1.0M241.9 166.8h1.0M246.3 47.6h1.0M296.3 62.1h1.0M317.4 96.6h1.0M237.3 113.3h1.0M230.7 65.3h1.0M210.0 61.3h1.0M230.1 49.7h1.0M259.1 92.4h1.0M285.3 107.4h1.0M298.2 116.6h1.0M267.1 152.1h1.0M218.8 66.8h1.0M199.8 160.2h1.0M327.2 86.3h1.0M321.7 109.0h1.0M334.7 159.0h1.0M246.6 67.4h1.0M259.0 167.0h1.0M266.7 79.6h1.0M201.5 82.9h1.0M333.8 88.0h1.0M314.7 158.3h1.0M335.6 134.2h1.0M270.9 70.4h1.0M336.0 144.8h1.0M307.1 34.5h1.0M293.2 127.9h1.0M217.8 74.4h1.0M264.7 63.6h1.0M213.7 48.7h1.0M265.1 28.3h1.0M314.4 87.7h1.0M238.9 63.3h1.0M244.4 114.4h1.0M303.0 89.6h1.0M303.0 110.6h1.0M317.1 133.6h1.0M310.3 29.9h1.0M249.6 43.3h1.0M319.9 50.4h1.0M333.6 76.8h1.0M220.4 129.0h1.0M225.2 79.8h1.0M262.4 119.6h1.0M274.0 124.0h1.0M314.3 168.7h1.0M289.1 89.1h1.0M270.9 77.5h1.0M320.4 106.7h1.0M300.2 146.9h1.0M300.2 156.8h1.0M264.6 128.9h1.0M327.9 98.1h1.0M318.5 67.4h1.0M221.4 151.8h1.0M279.0 167.9h1.0M285.9 64.3h1.0M215.9 158.5h1.0M235.1 50.6h1.0M275.5 131.9h1.0M282.3 33.3h1.0M312.7 125.7h1.0M245.7 162.1h1.0M270.6 139.3h1.0M211.4 71.5h1.0M309.0 127.0h1.0M301.0 128.3h1.0M202.0 152.2h1.0M204.1 62.0h1.0M242.4 99.9h1.0M212.1 89.4h1.0M218.5 75.7h1.0M248.6 43.0h1.0M315.9 30.8h1.0M227.5 157.7h1.0M257.5 165.5h1.0M243.1 102.7h1.0M275.4 85.9h1.0M343.3 85.5h1.0M315.0 100.9h1.0M249.3 150.8h1.0M333.6 28.6h1.0M285.9 137.3h1.0M272.5 85.8h1.0M303.6 49.4h1.0M267.7 55.8h1.0M324.9 141.9h1.0M256.2 142.0h1.0M277.6 122.6h1.0M233.1 139.9h1.0M293.3 173.0h1.0M236.5 85.5h1.0M312.4 64.4h1.0M310.4 151.4h1.0M222.4 133.5h1.0M240.6 66.5h1.0M249.7 140.9h1.0M291.7 82.8h1.0M298.2 145.8h1.0M226.8 153.6h1.0M274.5 119.9h1.0M324.3 57.8h1.0M266.7 130.7h1.0M200.3 83.9h1.0M277.5 92.4h1.0M272.1 149.5h1.0M214.7 132.3h1.0M239.4 38.6h1.0M265.8 45.3h1.0M265.4 51.1h1.0M263.3 46.4h1.0M344.2 57.1h1.0M263.1 115.2h1.0M296.9 45.3h1.0M322.5 81.0h1.0M210.2 89.6h1.0M289.3 79.5h1.0M304.9 72.1h1.0M317.8 163.6h1.0M317.9 35.5h1.0M259.6 104.6h1.0M254.2 53.6h1.0M284.4 43.8h1.0M222.6 87.8h1.0M344.3 82.7h1.0M339.8 125.4h1.0M292.9 160.8h1.0M283.6 135.1h1.0M267.3 143.4h1.0M326.5 26.5h1.0M335.1 31.1h1.0M292.0 37.0h1.0M309.0 90.0h1.0M218.0 150.4h1.0M234.3 158.9h1.0M254.4 108.5h1.0M263.4 138.4h1.0M250.0 101.9h1.0M231.8 75.9h1.0M214.2 64.8h1.0M238.8 127.8h1.0M219.3 48.9h1.0M340.8 120.8h1.0M210.6 153.6h1.0M309.4 116.0h1.0M339.2 104.9h1.0M218.4 28.0h1.0M211.3 94.6h1.0M279.2 149.0h1.0M208.3 36.8h1.0M212.0 79.8h1.0M335.4 141.2h1.0M204.4 113.3h1.0M224.6 59.4h1.0M245.2 62.6h1.0M241.4 59.3h1.0M248.5 113.3h1.0M280.6 133.6h1.0M239.1 30.3h1.0M282.0 72.4h1.0M228.8 86.5h1.0M336.9 114.5h1.0M303.3 32.8h1.0M277.8 129.3h1.0M324.9 138.3h1.0M205.4 171.7h1.0M200.4 139.7h1.0M267.1 163.0h1.0M337.0 136.3h1.0M210.2 121.5h1.0M215.3 88.8h1.0M217.1 70.7h1.0M205.7 105.7h1.0M211.5 62.2h1.0M312.1 69.4h1.0M283.0 153.6h1.0M291.4 146.8h1.0M334.9 62.4h1.0M225.3 172.7h1.0M332.7 73.7h1.0M333.9 39.0h1.0M231.3 153.4h1.0M213.3 153.1h1.0M230.7 139.6h1.0M216.7 100.0h1.0M282.3 108.5h1.0M324.7 31.5h1.0M302.0 151.8h1.0M274.6 61.0h1.0M315.0 89.6h1.0M236.4 140.1h1.0M310.2 147.6h1.0M270.5 28.5h1.0M201.5 107.6h1.0M203.4 117.8h1.0M217.6 140.5h1.0M200.9 127.9h1.0M230.7 173.4h1.0M267.7 102.4h1.0M322.7 68.0h1.0M340.6 69.7h1.0M203.4 67.5h1.0M251.9 114.2h1.0M207.8 159.5h1.0M312.2 136.1h1.0M343.1 34.0h1.0M298.7 152.3h1.0M224.2 86.9h1.0M227.3 162.6h1.0M267.2 148.5h1.0M235.0 114.9h1.0M307.5 76.6h1.0M237.3 38.8h1.0M290.2 86.7h1.0M227.4 73.5h1.0M244.8 44.7h1.0M285.1 49.1h1.0M229.7 79.4h1.0M343.1 130.7h1.0M229.2 150.6h1.0M335.8 74.9h1.0M315.0 119.0h1.0M279.3 159.5h1.0M296.5 121.7h1.0M335.5 93.4h1.0M213.4 27.4h1.0M304.2 95.5h1.0M326.6 169.4h1.0M235.4 55.7h1.0M282.2 29.4h1.0M212.8 37.2h1.0M241.7 91.3h1.0M226.8 127.5h1.0M309.4 148.8h1.0M278.2 137.3h1.0M314.8 133.5h1.0M244.6 111.0h1.0M319.1 62.6h1.0M250.6 27.9h1.0M286.3 43.1h1.0M263.4 53.9h1.0M215.0 157.0h1.0M246.3 167.3h1.0M306.3 112.8h1.0M269.1 121.9h1.0M317.0 54.3h1.0M277.3 66.0h1.0M225.5 58.4h1.0M313.8 163.7h1.0M261.5 52.0h1.0M224.0 71.4h1.0M252.6 156.4h1.0M275.2 98.6h1.0M290.0 52.4h1.0M252.4 91.1h1.0M207.6 71.3h1.0M281.9 115.1h1.0M237.1 37.0h1.0M281.8 49.1h1.0M198.6 168.1h1.0M305.4 164.2h1.0M244.7 139.7h1.0M323.1 118.8h1.0M203.0 66.7h1.0M253.0 90.8h1.0M282.0 53.6h1.0M230.6 29.6h1.0M257.0 43.6h1.0M232.3 29.0h1.0M321.7 59.8h1.0M272.5 111.4h1.0M204.0 106.7h1.0M315.7 61.4h1.0M290.6 133.0h1.0M280.3 78.9h1.0M273.1 124.6h1.0M262.2 134.7h1.0M308.0 136.9h1.0M261.7 47.8h1.0M223.5 69.9h1.0M280.5 35.0h1.0M243.6 48.0h1.0M276.6 55.9h1.0M318.8 35.6h1.0M250.4 136.3h1.0M320.4 83.9h1.0M336.4 155.6h1.0M280.6 74.9h1.0M226.3 127.7h1.0M206.8 121.9h1.0M231.7 53.8h1.0M288.4 83.8h1.0M206.3 48.1h1.0M313.9 83.5h1.0M312.5 117.3h1.0M198.4 76.7h1.0M286.1 62.2h1.0M217.5 173.5h1.0M245.6 123.3h1.0M262.8 171.8h1.0M231.3 30.9h1.0M293.3 128.4h1.0M320.6 42.6h1.0M223.9 96.1h1.0M238.9 45.3h1.0M218.7 32.7h1.0M260.8 46.1h1.0M202.2 40.3h1.0M301.2 121.4h1.0M248.6 144.8h1.0M204.6 87.8h1.0M334.9 34.1h1.0M219.9 96.9h1.0M249.5 36.3h1.0M321.2 142.7h1.0M284.1 87.6h1.0M279.7 99.9h1.0M281.5 73.5h1.0M317.6 102.8h1.0M232.7 112.4h1.0M312.2 99.7h1.0M245.6 106.4h1.0M299.3 53.2h1.0M328.1 86.6h1.0M259.5 102.7h1.0M309.5 51.5h1.0M225.0 98.2h1.0M200.3 90.3h1.0M216.8 55.6h1.0M251.7 158.2h1.0M287.8 67.5h1.0M291.6 101.4h1.0M198.3 91.0h1.0M301.1 145.1h1.0M339.8 28.8h1.0M273.4 82.3h1.0M263.3 146.9h1.0M262.2 106.2h1.0M309.4 154.2h1.0M283.7 103.9h1.0M212.9 81.7h1.0M226.0 140.0h1.0M296.5 46.3h1.0M283.0 155.0h1.0M322.5 81.7h1.0M251.8 104.4h1.0M259.4 169.7h1.0M323.0 157.8h1.0M344.8 41.8h1.0M336.9 79.5h1.0M236.4 114.8h1.0M256.5 57.1h1.0M341.1 53.2h1.0M210.3 84.1h1.0M319.1 144.8h1.0M264.7 85.8h1.0M218.5 143.7h1.0M309.2 58.4h1.0M296.2 157.7h1.0M250.7 60.4h1.0M307.3 118.0h1.0M255.9 26.9h1.0M245.5 130.0h1.0M225.5 97.1h1.0M311.1 77.5h1.0M216.4 125.8h1.0M298.6 115.9h1.0M331.2 81.0h1.0M272.9 92.9h1.0M323.6 74.9h1.0M233.4 80.5h1.0M319.0 135.7h1.0M225.5 146.6h1.0M342.9 75.9h1.0M313.9 128.3h1.0M288.5 60.4h1.0M198.1 154.1h1.0M246.7 147.5h1.0M323.4 152.4h1.0M305.6 133.2h1.0M318.4 165.0h1.0M333.0 155.8h1.0M245.2 161.8h1.0M211.4 53.4h1.0M325.3 106.8h1.0M338.0 75.0h1.0M207.7 48.4h1.0M327.7 145.3h1.0M260.9 122.5h1.0M203.3 164.2h1.0M239.6 55.6h1.0M269.4 96.7h1.0M269.6 132.1h1.0M225.0 143.4h1.0M245.8 85.1h1.0M329.7 135.1h1.0M304.9 143.1h1.0M260.1 77.3h1.0M274.7 151.1h1.0M223.6 129.6h1.0M267.7 165.3h1.0M302.2 162.1h1.0M258.7 94.2h1.0M234.6 56.9h1.0M243.9 57.7h1.0M289.9 110.0h1.0M306.2 136.8h1.0M340.4 104.0h1.0M288.4 104.2h1.0M268.1 76.5h1.0M243.5 75.2h1.0M272.7 91.7h1.0M278.3 124.8h1.0M342.9 112.2h1.0M343.5 72.9h1.0M287.3 112.0h1.0M264.2 93.9h1.0M232.7 170.8h1.0M209.0 145.0h1.0M268.4 77.3h1.0M243.1 165.6h1.0M247.2 111.4h1.0M259.0 123.7h1.0M279.8 104.6h1.0M213.5 30.2h1.0M293.5 26.6h1.0M274.2 67.4h1.0M306.8 74.1h1.0M205.2 49.7h1.0M246.6 121.3h1.0M301.5 148.8h1.0M338.3 108.2h1.0M204.8 124.3h1.0M250.0 115.5h1.0M223.7 84.8h1.0M233.8 126.1h1.0M337.1 80.4h1.0M271.9 119.9h1.0M310.2 79.0h1.0M237.4 122.6h1.0M243.6 99.5h1.0M290.4 108.1h1.0M340.9 77.6h1.0M229.5 86.1h1.0M329.8 152.3h1.0M206.8 51.8h1.0M232.6 141.1h1.0M299.6 50.7h1.0M314.0 153.6h1.0M317.7 77.5h1.0M318.2 64.6h1.0M334.8 47.1h1.0M255.8 71.1h1.0M318.5 138.8h1.0M276.0 105.4h1.0M240.9 112.7h1.0M204.9 132.6h1.0M338.3 93.5h1.0M266.1 112.4h1.0M253.7 162.9h1.0M229.4 98.1h1.0M299.5 136.2h1.0M243.0 44.3h1.0M299.2 44.8h1.0M319.0 29.1h1.0M327.3 146.3h1.0M272.3 157.4h1.0M312.4 125.3h1.0M236.1 39.5h1.0M215.1 40.4h1.0M297.1 129.6h1.0M336.8 82.6h1.0M251.4 153.0h1.0M314.2 170.5h1.0M199.4 166.8h1.0M258.6 143.8h1.0M228.5 106.0h1.0M308.5 132.3h1.0M300.0 39.4h1.0M332.3 34.4h1.0M318.4 109.5h1.0M289.3 59.0h1.0M313.8 138.2h1.0M234.6 163.2h1.0M259.0 152.9h1.0M232.1 81.3h1.0M229.1 31.4h1.0M218.9 48.8h1.0M273.9 97.3h1.0M213.5 161.3h1.0M291.2 102.5h1.0M238.2 87.8h1.0M331.7 88.7h1.0M271.8 162.1h1.0M256.6 151.9h1.0M208.0 130.6h1.0M215.8 66.5h1.0M210.5 156.0h1.0M329.1 143.1h1.0M271.2 42.7h1.0M274.4 158.6h1.0M303.9 26.6h1.0M343.0 165.9h1.0M284.3 29.6h1.0M302.7 118.2h1.0M198.6 91.7h1.0M200.6 35.4h1.0M297.6 139.0h1.0M245.7 49.3h1.0M238.2 59.9h1.0M279.7 66.5h1.0M332.0 28.6h1.0M231.8 118.2h1.0M263.7 38.5h1.0M254.8 67.6h1.0M315.2 61.6h1.0M291.9 125.6h1.0M259.2 33.0h1.0M276.5 42.2h1.0M233.3 162.4h1.0M223.7 167.3h1.0M221.4 31.0h1.0M202.6 149.8h1.0M329.6 66.4h1.0M248.7 76.5h1.0M291.0 71.0h1.0M266.7 122.3h1.0M238.4 46.1h1.0M293.9 122.2h1.0M198.6 90.0h1.0M322.2 113.7h1.0M297.1 170.0h1.0M227.8 84.5h1.0M219.7 158.5h1.0M284.1 154.9h1.0M294.5 76.3h1.0M302.2 66.1h1.0M272.0 118.6h1.0M312.0 62.4h1.0M308.7 106.3h1.0M290.1 40.3h1.0M275.2 39.9h1.0M290.5 142.9h1.0M254.3 90.1h1.0M289.6 108.6h1.0M341.8 150.3h1.0M298.7 77.7h1.0M206.1 126.0h1.0M230.9 130.0h1.0M293.8 153.0h1.0M206.8 97.3h1.0M247.9 76.6h1.0M235.8 148.9h1.0M264.9 107.3h1.0M215.3 108.2h1.0M291.0 44.6h1.0M247.7 65.5h1.0M279.1 38.0h1.0M342.3 83.6h1.0M333.9 31.4h1.0M308.2 158.7h1.0M262.6 81.4h1.0M289.4 71.3h1.0M234.1 160.8h1.0M292.5 99.7h1.0M265.5 143.4h1.0M306.6 67.7h1.0M243.9 86.7h1.0M206.2 88.0h1.0M214.9 124.3h1.0M246.8 74.3h1.0M230.0 63.2h1.0M231.7 156.7h1.0M264.8 106.7h1.0M244.8 166.6h1.0M285.9 51.3h1.0M297.9 26.5h1.0M344.1 135.3h1.0M229.4 89.5h1.0M331.5 140.2h1.0M313.3 111.7h1.0M226.9 122.2h1.0M282.9 48.5h1.0M206.3 103.7h1.0M332.7 74.6h1.0M291.6 41.6h1.0M326.9 156.9h1.0M242.1 132.1h1.0M306.6 89.8h1.0M327.3 33.2h1.0M240.3 43.5h1.0M319.4 135.0h1.0M231.6 123.4h1.0M273.1 109.8h1.0M259.1 109.7h1.0M280.2 73.3h1.0M251.9 50.3h1.0M290.6 147.1h1.0M231.5 113.0h1.0M255.3 53.0h1.0M207.2 31.7h1.0M307.2 46.0h1.0M239.4 101.4h1.0M227.0 111.8h1.0M267.6 59.2h1.0M297.6 120.5h1.0M337.6 75.7h1.0M312.0 118.1h1.0M281.9 31.7h1.0M243.2 89.5h1.0M204.7 40.9h1.0M319.0 42.7h1.0M280.3 61.4h1.0M275.3 84.0h1.0M237.1 93.6h1.0M238.8 165.3h1.0M265.6 45.0h1.0M306.9 50.5h1.0M307.2 140.4h1.0M333.5 102.6h1.0M307.7 142.8h1.0M317.6 115.4h1.0M329.3 136.0h1.0M254.1 80.6h1.0M321.3 162.8h1.0M253.4 162.2h1.0M314.5 128.7h1.0M247.7 66.8h1.0M240.6 127.3h1.0M266.0 59.1h1.0M219.5 145.5h1.0M226.0 51.5h1.0M276.0 34.3h1.0M257.4 56.2h1.0M324.1 107.9h1.0M270.5 95.2h1.0M200.7 150.5h1.0M336.7 27.5h1.0M280.9 142.1h1.0M322.4 167.3h1.0M330.8 156.6h1.0M219.5 172.7h1.0M342.6 121.1h1.0M326.9 64.7h1.0M261.4 42.4h1.0M267.2 172.2h1.0M301.5 94.0h1.0M244.3 57.5h1.0M261.1 68.7h1.0M269.8 110.4h1.0M257.5 113.7h1.0M258.8 99.6h1.0M269.3 150.4h1.0M329.3 112.4h1.0M309.3 70.8h1.0M221.9 72.6h1.0M218.4 139.0h1.0M332.5 120.8h1.0M230.1 45.6h1.0M311.2 110.8h1.0M219.4 172.5h1.0M308.6 168.0h1.0M342.4 141.7h1.0M334.4 165.2h1.0M221.4 77.3h1.0M276.9 120.2h1.0M220.2 66.3h1.0M311.4 168.6h1.0M267.8 163.6h1.0M326.5 158.9h1.0M225.8 82.9h1.0M295.4 145.9h1.0M320.1 44.0h1.0M297.4 30.1h1.0M243.6 34.0h1.0M273.0 44.9h1.0M294.8 86.4h1.0M316.9 74.0h1.0M343.4 43.8h1.0M210.0 99.9h1.0M271.8 150.7h1.0M201.9 52.9h1.0M234.0 90.2h1.0M318.5 124.0h1.0M232.8 83.4h1.0M310.6 108.2h1.0M213.8 79.3h1.0M201.6 93.4h1.0M232.0 70.6h1.0M247.8 153.6h1.0M210.2 39.5h1.0M217.3 89.3h1.0M261.9 163.3h1.0M304.7 65.9h1.0M217.3 107.0h1.0M320.2 59.4h1.0M310.3 79.9h1.0M338.6 167.0h1.0M223.6 144.9h1.0M284.7 83.3h1.0M274.0 159.6h1.0M268.7 109.4h1.0M270.6 29.9h1.0M309.4 41.7h1.0M330.1 27.4h1.0M281.3 63.9h1.0M298.5 118.4h1.0M307.6 147.0h1.0M343.0 43.4h1.0M231.7 97.6h1.0M334.2 84.6h1.0M228.5 103.5h1.0M244.3 37.9h1.0M316.5 93.3h1.0M321.7 41.7h1.0M247.6 43.6h1.0M322.1 92.1h1.0M286.9 33.8h1.0M262.6 83.4h1.0M301.4 61.1h1.0M342.5 74.7h1.0M273.4 95.6h1.0M248.4 34.7h1.0M203.8 160.8h1.0M341.8 116.7h1.0M217.6 54.8h1.0M244.9 31.3h1.0M248.2 67.8h1.0M245.9 149.6h1.0M280.0 173.4h1.0M243.1 36.6h1.0M309.9 133.5h1.0M318.0 81.0h1.0M317.6 41.0h1.0M303.9 128.3h1.0M281.1 116.8h1.0M266.1 89.5h1.0M267.8 115.8h1.0M322.3 75.8h1.0M279.8 83.7h1.0M223.2 130.0h1.0M198.9 155.6h1.0M205.2 51.2h1.0M307.4 90.2h1.0M241.9 98.2h1.0M334.7 121.4h1.0M251.0 165.9h1.0M233.8 40.2h1.0M305.8 144.5h1.0M314.8 84.7h1.0M298.1 57.3h1.0M237.3 165.0h1.0M322.9 165.4h1.0M279.0 130.9h1.0M251.2 84.8h1.0M334.1 136.0h1.0M335.9 48.6h1.0M258.6 161.4h1.0M334.1 146.9h1.0M328.0 65.2h1.0M302.8 41.8h1.0M265.3 28.0h1.0M261.5 54.9h1.0M258.1 125.0h1.0M297.2 156.1h1.0M335.1 71.4h1.0M247.0 88.0h1.0M235.3 150.5h1.0M314.4 124.0h1.0M293.2 69.5h1.0M238.8 138.3h1.0M211.5 172.3h1.0M219.2 57.0h1.0M309.6 160.5h1.0M220.9 164.6h1.0M272.9 44.7h1.0M278.2 60.4h1.0M293.1 118.8h1.0M320.6 161.7h1.0M324.6 125.6h1.0M305.1 154.2h1.0M320.9 99.3h1.0M336.1 167.8h1.0M227.0 57.5h1.0M288.2 106.6h1.0M260.0 99.6h1.0M228.5 87.8h1.0M285.1 137.1h1.0M301.7 41.4h1.0M228.8 97.4h1.0M311.4 66.9h1.0M306.4 60.1h1.0M242.5 151.5h1.0M226.8 150.1h1.0M278.8 30.1h1.0M267.0 105.9h1.0M216.3 81.2h1.0M269.3 96.0h1.0M333.3 83.2h1.0M329.6 69.4h1.0M307.4 49.2h1.0M283.7 136.3h1.0M319.4 33.9h1.0M307.2 49.0h1.0M339.8 71.1h1.0M323.3 50.5h1.0M342.8 105.5h1.0M230.4 161.0h1.0M314.0 132.8h1.0M260.8 60.4h1.0M291.4 151.2h1.0M306.2 131.0h1.0M207.2 94.4h1.0M240.7 104.9h1.0M296.1 114.6h1.0M198.4 71.5h1.0M239.9 88.4h1.0M239.8 54.6h1.0M230.7 98.6h1.0M327.5 58.2h1.0M339.1 124.0h1.0M329.5 156.6h1.0M308.5 161.1h1.0M226.4 119.2h1.0M250.9 50.9h1.0M238.4 121.5h1.0M217.6 41.6h1.0M322.2 146.3h1.0M202.6 55.7h1.0M198.5 104.7h1.0M342.5 48.7h1.0M282.7 91.1h1.0M304.9 113.0h1.0M305.5 41.9h1.0M341.5 141.9h1.0M213.9 27.8h1.0M317.2 140.5h1.0M253.8 163.0h1.0M290.8 101.7h1.0M204.0 97.7h1.0M253.7 90.5h1.0M248.6 151.3h1.0M252.2 40.5h1.0M234.9 149.4h1.0M273.9 77.9h1.0M326.6 171.2h1.0M259.2 46.8h1.0M245.2 42.8h1.0M326.2 131.0h1.0M245.2 121.8h1.0M322.4 172.7h1.0M223.5 93.9h1.0M293.0 91.5h1.0M275.6 93.6h1.0M258.1 110.7h1.0M256.0 69.9h1.0M259.1 141.2h1.0M220.7 95.9h1.0M232.1 162.9h1.0M199.2 77.5h1.0M339.5 131.0h1.0M232.6 134.5h1.0M271.6 40.1h1.0M213.3 32.8h1.0M239.9 86.6h1.0M340.5 157.2h1.0M278.8 124.5h1.0M289.1 145.9h1.0M252.4 121.8h1.0M229.9 59.8h1.0M237.2 85.8h1.0M241.5 114.4h1.0M203.9 72.8h1.0M286.8 143.3h1.0M313.6 89.7h1.0M289.6 30.1h1.0M333.7 124.3h1.0M314.3 42.0h1.0M258.7 70.3h1.0M321.7 138.2h1.0M221.2 168.9h1.0M228.2 46.0h1.0M280.3 90.8h1.0M338.1 33.1h1.0M331.2 131.3h1.0M244.6 48.6h1.0M301.6 30.9h1.0M241.0 38.5h1.0M249.2 172.5h1.0M322.1 107.4h1.0M292.7 119.3h1.0M313.3 148.6h1.0M339.5 165.4h1.0M248.3 166.1h1.0M234.8 43.0h1.0M293.6 33.2h1.0M326.6 170.3h1.0M315.7 64.2h1.0M275.7 34.2h1.0M263.5 147.5h1.0M226.8 49.5h1.0M250.1 78.0h1.0M247.0 74.0h1.0M208.4 120.8h1.0M270.2 116.4h1.0M245.8 159.3h1.0M311.7 108.0h1.0M254.3 151.8h1.0M262.0 87.7h1.0M281.3 34.7h1.0M270.8 38.6h1.0M332.9 142.7h1.0M215.9 57.4h1.0M295.6 106.3h1.0M257.5 86.3h1.0M231.1 86.6h1.0M205.5 36.1h1.0M232.6 30.2h1.0M233.0 55.5h1.0M250.1 113.5h1.0M343.5 130.0h1.0M318.4 108.6h1.0M309.8 119.3h1.0M199.2 80.2h1.0M217.2 127.3h1.0M251.4 90.2h1.0M220.8 169.0h1.0M238.8 46.9h1.0M252.6 73.0h1.0M225.7 128.8h1.0M261.2 28.0h1.0M337.3 44.2h1.0M325.4 171.6h1.0M278.2 139.1h1.0M198.8 55.9h1.0M314.4 128.6h1.0M215.6 65.6h1.0M209.2 142.8h1.0M292.2 77.8h1.0M281.1 99.9h1.0M236.4 105.2h1.0M199.1 132.1h1.0M338.6 50.5h1.0M262.0 113.6h1.0M298.4 140.1h1.0M246.3 137.0h1.0M250.8 140.9h1.0M272.5 110.7h1.0M329.2 52.4h1.0M271.2 77.3h1.0M207.0 141.0h1.0M226.9 50.7h1.0M217.9 140.9h1.0M301.4 74.6h1.0M269.7 78.8h1.0M270.4 32.0h1.0M240.2 167.3h1.0M245.0 129.4h1.0M289.0 94.8h1.0M289.2 128.7h1.0M282.5 142.0h1.0M242.1 60.1h1.0M265.5 142.3h1.0M271.1 27.1h1.0M266.1 158.0h1.0M222.5 110.6h1.0M239.8 106.1h1.0M310.0 74.7h1.0M223.3 92.2h1.0M342.4 30.2h1.0M242.6 58.4h1.0M267.4 142.0h1.0M280.4 112.8h1.0M230.9 104.7h1.0M307.9 75.2h1.0M200.8 169.0h1.0M272.2 168.5h1.0M287.7 76.5h1.0M224.1 163.7h1.0M309.9 111.0h1.0M200.7 70.7h1.0M260.0 39.9h1.0M267.3 95.5h1.0M227.9 103.6h1.0M337.7 154.9h1.0M318.6 71.0h1.0M232.2 96.7h1.0M335.0 57.5h1.0M208.9 151.5h1.0M199.7 101.5h1.0M342.4 110.7h1.0M199.3 71.0h1.0M308.1 126.2h1.0M210.6 94.3h1.0M268.6 50.5h1.0M217.2 72.1h1.0M256.6 166.6h1.0M246.0 157.7h1.0M201.0 95.1h1.0M220.0 35.1h1.0M240.7 128.6h1.0M287.1 68.7h1.0M304.8 129.9h1.0M325.0 127.9h1.0M211.2 141.5h1.0M338.2 155.5h1.0M294.5 44.8h1.0M325.2 98.9h1.0M304.9 162.6h1.0M229.3 29.8h1.0M335.5 157.4h1.0M210.6 93.7h1.0M323.9 116.7h1.0M274.6 173.1h1.0M202.3 81.0h1.0M221.0 167.9h1.0M283.8 64.8h1.0M325.5 160.9h1.0M268.8 166.3h1.0M229.6 128.0h1.0M343.8 60.2h1.0M301.2 148.3h1.0M324.9 65.6h1.0M254.4 43.0h1.0M272.3 153.2h1.0M241.6 155.9h1.0M236.9 95.4h1.0M295.2 145.8h1.0M336.3 78.7h1.0M255.4 138.1h1.0M314.9 142.5h1.0M237.3 153.4h1.0M310.2 113.5h1.0M247.1 132.9h1.0M208.2 135.2h1.0M259.4 138.4h1.0M284.3 79.0h1.0M244.5 100.3h1.0M217.9 64.5h1.0M291.6 55.0h1.0M332.9 104.0h1.0M245.1 52.3h1.0M238.6 84.6h1.0M218.0 71.7h1.0M339.5 164.3h1.0M332.0 165.9h1.0M301.1 168.4h1.0M292.0 86.6h1.0M222.8 122.3h1.0M339.6 164.4h1.0M340.9 91.4h1.0M298.5 173.5h1.0M304.0 152.2h1.0M325.7 108.1h1.0M326.3 78.3h1.0M319.2 90.2h1.0M229.6 148.1h1.0M314.4 119.9h1.0M267.1 64.9h1.0M321.7 124.2h1.0M296.3 147.1h1.0M201.9 143.3h1.0M323.3 46.8h1.0M205.0 153.6h1.0M236.4 104.9h1.0M334.5 54.7h1.0M270.6 35.1h1.0M326.1 153.0h1.0M262.1 143.1h1.0M220.1 145.1h1.0M316.7 133.7h1.0M202.9 70.2h1.0M295.2 148.9h1.0M270.3 127.4h1.0M264.9 112.1h1.0M239.8 55.9h1.0M325.8 107.8h1.0M245.2 69.7h1.0M247.5 102.6h1.0M221.1 92.7h1.0M249.4 83.3h1.0M251.7 32.9h1.0M327.9 70.9h1.0M307.8 165.4h1.0M253.9 77.6h1.0M297.3 165.1h1.0M276.3 121.5h1.0M213.9 72.3h1.0M264.7 122.4h1.0M254.0 134.9h1.0M321.0 62.8h1.0M275.3 41.1h1.0M245.1 111.4h1.0M319.6 54.7h1.0M315.5 123.5h1.0M318.8 36.0h1.0M273.9 47.6h1.0M311.7 126.1h1.0M231.8 172.0h1.0M329.6 83.8h1.0M229.8 140.2h1.0M247.7 153.1h1.0M238.8 151.9h1.0M249.8 113.0h1.0M244.2 117.6h1.0M206.7 79.7h1.0M249.9 113.3h1.0M315.7 98.9h1.0M337.8 49.1h1.0M305.6 84.8h1.0M229.2 75.5h1.0M253.0 98.1h1.0M269.9 142.9h1.0M314.3 85.2h1.0M310.9 114.2h1.0M203.1 148.1h1.0M327.8 120.5h1.0M272.3 160.1h1.0M341.9 112.0h1.0M206.1 102.3h1.0M227.8 95.0h1.0M286.3 58.8h1.0M207.6 99.1h1.0M297.9 103.5h1.0M317.8 173.3h1.0M340.8 75.7h1.0M263.9 111.4h1.0M230.1 164.6h1.0M310.7 168.3h1.0M254.7 100.2h1.0M274.5 41.4h1.0M235.9 123.0h1.0M334.0 35.6h1.0M247.2 101.3h1.0M258.1 65.1h1.0M223.2 72.1h1.0M206.4 67.7h1.0M207.3 155.8h1.0M292.7 99.4h1.0M245.3 126.2h1.0M248.2 149.6h1.0M322.2 60.8h1.0M273.9 79.8h1.0M342.3 61.0h1.0M203.7 59.2h1.0M336.3 117.6h1.0M305.7 98.4h1.0M301.5 89.4h1.0M275.1 122.1h1.0M314.6 164.9h1.0M291.7 147.8h1.0M221.7 56.3h1.0M332.0 35.9h1.0M265.4 62.1h1.0M278.0 70.9h1.0M330.9 41.4h1.0M319.2 167.0h1.0M257.5 144.9h1.0M288.6 59.5h1.0M274.3 44.9h1.0M243.4 37.2h1.0M224.5 156.6h1.0M272.7 153.7h1.0M265.5 71.6h1.0M269.7 79.5h1.0M341.1 31.6h1.0M227.1 58.6h1.0M272.6 83.5h1.0M215.8 116.1h1.0M327.5 106.7h1.0M247.7 99.8h1.0M234.1 32.6h1.0M242.6 82.6h1.0M312.0 86.5h1.0M326.3 43.7h1.0M244.0 52.3h1.0M313.7 50.8h1.0M280.6 100.7h1.0M305.8 103.7h1.0M240.3 165.9h1.0M269.0 50.4h1.0M277.9 102.0h1.0M212.0 32.3h1.0M270.9 131.8h1.0M250.9 121.0h1.0M236.0 133.3h1.0M314.7 104.9h1.0M333.0 86.4h1.0M253.5 27.7h1.0M253.3 138.8h1.0M311.3 89.6h1.0M263.3 115.6h1.0M206.0 103.1h1.0M322.3 44.9h1.0M209.4 99.4h1.0M287.6 82.0h1.0M259.2 164.0h1.0M343.8 170.7h1.0M223.2 73.4h1.0M236.8 159.9h1.0M288.5 108.2h1.0M210.8 143.4h1.0M341.3 60.0h1.0M240.7 28.0h1.0M321.8 61.0h1.0M222.9 154.5h1.0M297.1 91.6h1.0M233.6 167.0h1.0M248.3 134.9h1.0M292.0 83.4h1.0M340.9 87.5h1.0M235.9 59.7h1.0M203.2 92.7h1.0M334.6 133.7h1.0M248.9 70.8h1.0M316.0 147.3h1.0M243.9 63.1h1.0M236.5 145.9h1.0M268.1 125.6h1.0M297.4 144.0h1.0M277.5 30.0h1.0M295.2 61.9h1.0M323.5 112.3h1.0M299.0 127.4h1.0M323.0 146.5h1.0M332.7 147.8h1.0M235.3 136.0h1.0M249.7 137.1h1.0M279.8 110.8h1.0M211.7 53.1h1.0M216.8 40.8h1.0M325.4 160.2h1.0M249.4 93.3h1.0M282.2 128.7h1.0M210.5 169.4h1.0M202.5 43.1h1.0M304.1 74.7h1.0M291.8 108.6h1.0M268.6 102.5h1.0M317.6 85.9h1.0M310.4 113.0h1.0M327.9 41.9h1.0M241.5 29.8h1.0M202.2 106.2h1.0M264.9 53.2h1.0M220.8 55.8h1.0M328.8 108.9h1.0M259.2 110.0h1.0M261.6 98.7h1.0M208.8 171.1h1.0M283.9 132.9h1.0M330.1 41.0h1.0M206.8 59.2h1.0M223.0 55.0h1.0M255.7 148.5h1.0M285.0 132.4h1.0M271.2 162.5h1.0M327.1 45.4h1.0M297.0 166.4h1.0M318.2 107.5h1.0M256.2 39.5h1.0M237.9 39.7h1.0M208.2 140.8h1.0M272.0 80.3h1.0M302.3 73.2h1.0M332.2 60.3h1.0M227.1 58.8h1.0M338.0 156.5h1.0M227.6 163.0h1.0M203.0 129.1h1.0M265.4 59.7h1.0M285.5 59.3h1.0M275.2 136.0h1.0M259.9 159.0h1.0M329.3 53.1h1.0M228.8 27.9h1.0M249.7 37.3h1.0M242.4 44.1h1.0M268.6 64.2h1.0M334.0 143.6h1.0M250.1 105.3h1.0M210.4 35.3h1.0M318.3 39.2h1.0M252.0 61.2h1.0M228.9 58.2h1.0M230.3 163.7h1.0M233.3 122.0h1.0M233.2 163.3h1.0M329.3 101.4h1.0M336.7 133.1h1.0M329.6 103.2h1.0M209.6 37.5h1.0M321.3 167.7h1.0M259.4 157.0h1.0M331.1 72.6h1.0M309.4 140.9h1.0M296.1 60.4h1.0M205.6 75.2h1.0M237.5 103.2h1.0M249.9 85.3h1.0M244.1 46.5h1.0M239.0 124.4h1.0M239.2 157.9h1.0M325.9 93.9h1.0M241.5 122.5h1.0M328.5 146.5h1.0M229.0 57.7h1.0M205.1 165.0h1.0M239.0 84.1h1.0M310.5 69.2h1.0M304.0 28.8h1.0M257.7 30.3h1.0M318.4 68.4h1.0M317.5 137.5h1.0M214.3 70.4h1.0M314.5 127.0h1.0M259.7 45.8h1.0M222.7 77.6h1.0M270.2 122.5h1.0M325.6 128.1h1.0M279.6 104.1h1.0M287.9 33.9h1.0M204.4 106.4h1.0M261.2 153.8h1.0M232.1 77.5h1.0M235.0 122.6h1.0M315.8 41.0h1.0M254.6 126.5h1.0M306.4 139.6h1.0M222.2 132.4h1.0M264.2 156.9h1.0M226.8 149.8h1.0M332.4 115.8h1.0M222.9 77.4h1.0M252.1 156.1h1.0M223.3 87.3h1.0M252.2 104.5h1.0M304.9 30.8h1.0M232.2 38.4h1.0M270.3 121.6h1.0M313.4 133.1h1.0M221.8 172.4h1.0M200.4 54.9h1.0M290.5 121.3h1.0M255.3 126.5h1.0M264.3 72.4h1.0M244.0 89.4h1.0M213.9 131.4h1.0M222.8 111.6h1.0M334.1 146.0h1.0M318.0 53.6h1.0M316.2 28.2h1.0M231.2 66.8h1.0M297.5 170.9h1.0M229.3 99.7h1.0M240.1 132.9h1.0M199.6 159.7h1.0M242.1 52.5h1.0M319.2 133.6h1.0M313.7 155.7h1.0M264.6 89.6h1.0M314.3 99.1h1.0M233.8 116.7h1.0M262.3 138.5h1.0M326.0 143.0h1.0M208.1 107.6h1.0M263.6 33.1h1.0M240.3 27.3h1.0M301.7 57.7h1.0M224.1 153.7h1.0M237.4 127.3h1.0M295.4 119.6h1.0M209.3 58.2h1.0M318.9 83.6h1.0M242.3 99.3h1.0M203.1 130.9h1.0M311.5 168.6h1.0M244.4 127.9h1.0M335.7 152.9h1.0M265.8 166.9h1.0M277.7 109.4h1.0M282.5 53.7h1.0M255.5 100.4h1.0M313.5 108.9h1.0M248.8 169.2h1.0M209.5 52.3h1.0M249.2 170.5h1.0M266.6 85.3h1.0M318.8 60.4h1.0M315.5 37.5h1.0M285.2 164.6h1.0M286.6 62.2h1.0M229.3 144.8h1.0M237.0 163.2h1.0M261.1 41.0h1.0M305.0 135.0h1.0M296.4 27.8h1.0M252.4 98.5h1.0M332.3 40.2h1.0M261.3 77.9h1.0M289.8 92.8h1.0M244.8 97.5h1.0M277.8 32.3h1.0M245.0 63.5h1.0M238.7 78.9h1.0M238.5 80.3h1.0M298.5 60.7h1.0M337.9 37.8h1.0M241.2 133.2h1.0M294.0 71.3h1.0M239.7 131.5h1.0M253.2 144.9h1.0M331.3 48.6h1.0M296.9 60.6h1.0M281.0 158.1h1.0M291.2 155.3h1.0M247.9 68.2h1.0M277.5 79.3h1.0M274.9 63.6h1.0M228.5 115.9h1.0M214.5 60.2h1.0M211.2 127.8h1.0M221.2 66.6h1.0M323.8 103.1h1.0M266.5 74.6h1.0M273.8 140.6h1.0M250.9 46.6h1.0M225.0 129.5h1.0M268.2 163.2h1.0M230.4 131.4h1.0M255.2 67.8h1.0M303.3 73.4h1.0M230.5 92.4h1.0M260.5 38.7h1.0M342.6 85.0h1.0M251.3 45.0h1.0M219.6 53.3h1.0M208.5 107.0h1.0M292.9 151.5h1.0M236.4 144.7h1.0M307.7 34.8h1.0M227.0 56.0h1.0M325.8 136.2h1.0M207.3 62.0h1.0M221.8 118.7h1.0M261.0 165.2h1.0M320.9 68.3h1.0M238.0 100.1h1.0M257.6 143.3h1.0M226.2 153.9h1.0M284.4 84.2h1.0M340.0 77.6h1.0M311.2 168.1h1.0M329.0 171.0h1.0M263.0 140.3h1.0M320.5 70.1h1.0M264.5 161.8h1.0M312.7 71.2h1.0M311.6 43.4h1.0M255.8 110.7h1.0M243.1 27.8h1.0M282.3 116.7h1.0M295.2 50.8h1.0M208.4 32.9h1.0M277.8 31.8h1.0M227.9 99.7h1.0M253.2 127.1h1.0M217.7 102.3h1.0M260.0 55.1h1.0M331.4 163.5h1.0M339.6 63.3h1.0M201.6 128.9h1.0M330.3 77.6h1.0M241.6 144.9h1.0M279.2 113.4h1.0M302.4 103.0h1.0M318.3 108.2h1.0M306.4 27.9h1.0M268.7 159.4h1.0M269.5 128.1h1.0M276.0 163.5h1.0M209.2 67.8h1.0M222.4 154.4h1.0M341.1 54.5h1.0M240.0 62.6h1.0M286.9 130.7h1.0M235.5 148.0h1.0M264.3 99.5h1.0M251.6 93.4h1.0M202.9 32.1h1.0M340.1 68.8h1.0M249.5 170.4h1.0M243.5 39.9h1.0M325.7 85.1h1.0M293.2 70.2h1.0M216.6 58.5h1.0M310.6 105.7h1.0M295.3 133.7h1.0M282.0 126.4h1.0M226.4 53.4h1.0M262.2 150.1h1.0M230.9 140.9h1.0M319.4 134.5h1.0M213.9 45.3h1.0M316.7 58.6h1.0M201.4 112.2h1.0M300.3 147.5h1.0M302.8 114.2h1.0M250.9 162.7h1.0M237.3 92.9h1.0M214.4 111.1h1.0M298.8 102.3h1.0M253.0 32.9h1.0M291.1 32.6h1.0M309.4 117.2h1.0M324.6 123.6h1.0M309.8 67.7h1.0M336.1 112.6h1.0M278.5 82.8h1.0M321.8 119.3h1.0M279.3 116.5h1.0M313.3 171.9h1.0M227.0 167.8h1.0M239.6 90.3h1.0M305.8 145.9h1.0M248.2 71.6h1.0M275.9 96.9h1.0M257.0 70.5h1.0M199.7 163.5h1.0M249.3 160.9h1.0M290.0 42.5h1.0M224.2 81.4h1.0M226.9 41.7h1.0M310.4 98.7h1.0M220.4 102.2h1.0M297.9 149.4h1.0M261.9 57.5h1.0M203.5 113.1h1.0M275.4 172.7h1.0M234.3 34.2h1.0M275.8 128.6h1.0M232.4 66.8h1.0M225.7 150.6h1.0M282.4 66.7h1.0M250.8 63.8h1.0M201.4 148.7h1.0M310.8 72.7h1.0M248.5 163.3h1.0M236.8 129.6h1.0M332.5 71.1h1.0M313.1 73.0h1.0M341.8 47.6h1.0M223.7 128.8h1.0M248.6 93.5h1.0M323.8 49.8h1.0M231.1 117.1h1.0M232.5 92.9h1.0M230.0 119.8h1.0M294.1 33.4h1.0M313.7 164.3h1.0M242.1 142.1h1.0M243.3 158.7h1.0M338.3 130.3h1.0M258.2 77.2h1.0M225.1 156.1h1.0M334.8 130.5h1.0M332.7 75.5h1.0M210.1 96.9h1.0M344.7 113.9h1.0M320.9 121.9h1.0M258.4 98.1h1.0M233.4 83.8h1.0M338.9 161.9h1.0M287.9 130.3h1.0M245.6 121.1h1.0M330.4 37.5h1.0M341.2 51.8h1.0M204.7 29.7h1.0M257.4 135.1h1.0M233.4 165.1h1.0M310.5 46.8h1.0M312.6 57.6h1.0M302.5 33.6h1.0M315.4 77.7h1.0M299.0 36.6h1.0M271.4 83.2h1.0M219.5 88.5h1.0M340.7 31.6h1.0M339.1 76.5h1.0M316.1 146.1h1.0M283.5 117.2h1.0M340.4 91.7h1.0M316.6 97.4h1.0M245.6 173.0h1.0M218.6 166.5h1.0M307.2 52.1h1.0M328.4 32.1h1.0M303.6 167.9h1.0M310.0 161.5h1.0M300.3 133.7h1.0M331.1 163.0h1.0M252.0 51.9h1.0M253.7 41.6h1.0M330.8 89.5h1.0M341.4 42.4h1.0M265.1 115.2h1.0M252.3 130.8h1.0M236.8 30.7h1.0M328.4 105.4h1.0M245.8 142.0h1.0M213.1 71.0h1.0M270.4 152.5h1.0M284.0 94.2h1.0M290.0 163.5h1.0M253.0 53.8h1.0M277.0 46.1h1.0M233.9 123.3h1.0M264.1 52.4h1.0M198.2 169.4h1.0M321.7 119.9h1.0M280.0 96.7h1.0M340.2 172.1h1.0M337.1 121.6h1.0M294.5 162.7h1.0M231.9 99.0h1.0M281.4 74.1h1.0M284.6 112.1h1.0M333.6 94.3h1.0M257.8 107.2h1.0M198.4 30.6h1.0M202.2 155.6h1.0M325.3 137.7h1.0M236.2 116.8h1.0M220.1 105.6h1.0M275.2 126.0h1.0M215.8 162.7h1.0M284.5 173.3h1.0M211.6 133.2h1.0M318.1 172.5h1.0M232.7 74.3h1.0M329.1 129.2h1.0M214.4 115.5h1.0M241.7 144.0h1.0M213.5 132.7h1.0M256.8 49.6h1.0M235.2 143.9h1.0M337.0 168.4h1.0M203.8 156.2h1.0M290.0 83.7h1.0M203.7 131.8h1.0M276.7 58.1h1.0M276.5 38.1h1.0M336.5 150.9h1.0M305.7 172.5h1.0M224.2 97.6h1.0M338.2 159.3h1.0M292.0 42.6h1.0M270.6 107.7h1.0M276.9 68.5h1.0M230.6 70.8h1.0M234.2 168.0h1.0M222.8 56.7h1.0M342.2 45.3h1.0M202.9 84.1h1.0M279.7 123.1h1.0M325.4 161.2h1.0M200.1 144.3h1.0M230.2 116.0h1.0M319.0 44.2h1.0M277.6 163.4h1.0M258.1 120.5h1.0M310.5 80.0h1.0M213.9 128.4h1.0M201.3 162.8h1.0M268.7 107.8h1.0M218.9 105.2h1.0M262.6 122.4h1.0M211.6 68.6h1.0M277.5 140.1h1.0M295.2 30.2h1.0M336.0 84.5h1.0M291.5 171.2h1.0M320.8 79.2h1.0M235.5 101.1h1.0M271.4 46.1h1.0M287.6 150.3h1.0M224.2 117.1h1.0M277.0 57.6h1.0M323.8 46.5h1.0M312.6 37.1h1.0M328.7 66.4h1.0M300.2 124.1h1.0M296.9 139.8h1.0M237.8 91.2h1.0M284.9 131.1h1.0M258.0 78.5h1.0M289.8 39.9h1.0M277.3 85.3h1.0M298.4 74.5h1.0M206.3 128.9h1.0M245.0 36.7h1.0M204.4 166.1h1.0M271.8 46.9h1.0M207.4 108.5h1.0M261.7 33.1h1.0M277.7 101.1h1.0M283.2 42.3h1.0M198.9 118.1h1.0M198.3 101.2h1.0M255.2 153.8h1.0M275.7 48.0h1.0M219.3 147.1h1.0M231.8 114.0h1.0M249.5 71.2h1.0M251.8 117.5h1.0M250.9 75.7h1.0M250.7 151.3h1.0M341.3 138.4h1.0M309.7 82.3h1.0M305.0 125.3h1.0M343.0 61.8h1.0M198.3 101.7h1.0M301.8 73.0h1.0M340.8 55.4h1.0M292.3 151.7h1.0M342.6 83.1h1.0M305.2 47.4h1.0M271.4 46.2h1.0M312.0 105.0h1.0M206.4 169.8h1.0M270.4 152.0h1.0M332.7 112.8h1.0M262.4 126.4h1.0M271.1 53.0h1.0M198.2 138.8h1.0M332.5 131.5h1.0M276.2 149.8h1.0M246.6 67.6h1.0M313.3 156.5h1.0M280.0 104.1h1.0M288.3 83.5h1.0M260.4 36.5h1.0M284.3 144.7h1.0M249.8 129.6h1.0M305.4 127.5h1.0M223.5 91.9h1.0M286.5 156.2h1.0M201.1 41.4h1.0M226.3 142.9h1.0M221.0 105.1h1.0M242.4 128.4h1.0M260.6 66.5h1.0M276.0 157.6h1.0M324.7 105.0h1.0M303.1 162.2h1.0M302.1 117.2h1.0M311.1 43.0h1.0M281.9 64.8h1.0M271.3 38.9h1.0M240.0 102.4h1.0M317.5 170.5h1.0M341.1 117.9h1.0M316.9 83.8h1.0M215.8 71.6h1.0M297.3 109.1h1.0M214.6 58.2h1.0M298.8 164.8h1.0M263.3 102.6h1.0M329.5 135.3h1.0M296.9 106.2h1.0M318.0 74.2h1.0M205.8 145.6h1.0M297.7 41.0h1.0M336.1 94.5h1.0M265.1 37.9h1.0M219.8 145.1h1.0M301.8 110.2h1.0M275.8 78.7h1.0M313.7 170.3h1.0M210.9 65.3h1.0M311.4 127.8h1.0M312.8 46.4h1.0M258.0 95.6h1.0M201.4 109.8h1.0M222.2 99.8h1.0M310.6 39.8h1.0M335.6 136.3h1.0M251.3 40.2h1.0M298.9 89.8h1.0M344.2 95.5h1.0M288.1 76.1h1.0M219.7 86.6h1.0M230.2 100.7h1.0M234.6 133.0h1.0M323.9 126.0h1.0M239.8 34.2h1.0M308.3 85.2h1.0M341.3 44.1h1.0M288.3 152.5h1.0M243.5 84.2h1.0M236.1 28.6h1.0M339.3 85.3h1.0M319.3 27.0h1.0M330.3 98.3h1.0M320.0 71.2h1.0M232.3 94.1h1.0M258.3 75.1h1.0M224.0 30.6h1.0M200.9 47.7h1.0M228.1 149.1h1.0M295.6 108.9h1.0M208.7 72.6h1.0M337.6 158.0h1.0M329.8 79.3h1.0M293.4 63.2h1.0M292.3 104.8h1.0M284.2 34.1h1.0M232.1 67.9h1.0M274.1 72.1h1.0M253.1 99.4h1.0M280.7 79.0h1.0M248.8 110.6h1.0M289.8 135.3h1.0M290.4 44.1h1.0M250.1 120.4h1.0M302.6 159.7h1.0M305.3 114.4h1.0M287.7 65.9h1.0M282.4 80.1h1.0M246.9 58.9h1.0M338.4 168.7h1.0M242.9 102.0h1.0M208.0 148.2h1.0M237.3 151.7h1.0M232.3 101.9h1.0M299.3 114.0h1.0M331.1 134.4h1.0M268.4 83.8h1.0M256.2 93.2h1.0M319.3 30.6h1.0M242.6 129.2h1.0M214.0 144.0h1.0M249.8 156.4h1.0M232.8 140.0h1.0M324.0 74.3h1.0M280.9 140.4h1.0M336.3 110.7h1.0M329.2 157.4h1.0M340.5 56.5h1.0M265.0 116.8h1.0M287.7 41.4h1.0M282.4 161.7h1.0M277.4 52.9h1.0M243.2 160.1h1.0M259.6 38.6h1.0M239.8 110.5h1.0M222.1 98.6h1.0M269.0 124.1h1.0M238.7 54.1h1.0M266.3 53.1h1.0M280.2 84.2h1.0M322.9 53.5h1.0M275.7 67.3h1.0M218.2 46.2h1.0M280.1 102.7h1.0M288.8 126.4h1.0M209.1 169.1h1.0M335.6 64.6h1.0M222.8 143.2h1.0M210.4 120.6h1.0M243.4 168.3h1.0M217.7 98.6h1.0M216.5 45.2h1.0M303.2 142.2h1.0M220.8 172.5h1.0M220.0 69.8h1.0M234.5 63.7h1.0M285.7 28.0h1.0M316.3 146.4h1.0M338.3 121.7h1.0M217.5 68.8h1.0M217.2 163.6h1.0M286.9 131.6h1.0M310.6 136.8h1.0M340.1 53.3h1.0M251.7 95.9h1.0M287.7 100.0h1.0M234.7 72.7h1.0M296.9 37.5h1.0M319.4 39.2h1.0M260.4 154.9h1.0M225.1 102.6h1.0M228.6 42.9h1.0M287.8 158.7h1.0M258.3 161.2h1.0M245.7 126.2h1.0M325.5 52.5h1.0M305.2 67.8h1.0M256.2 47.4h1.0M329.7 68.8h1.0M256.6 150.8h1.0M257.8 111.2h1.0M284.3 142.4h1.0M263.9 156.5h1.0M231.6 172.5h1.0M199.6 146.1h1.0M274.1 155.3h1.0M221.3 39.6h1.0M311.2 87.2h1.0M238.6 150.8h1.0M285.9 57.1h1.0M282.7 114.6h1.0M205.1 103.3h1.0M285.8 53.8h1.0M329.8 81.5h1.0M280.2 72.9h1.0M261.5 170.5h1.0M254.0 95.0h1.0M235.6 86.2h1.0M239.8 167.8h1.0M335.4 47.6h1.0M311.2 157.9h1.0M296.3 164.7h1.0M237.9 160.8h1.0M312.8 126.5h1.0M265.9 132.9h1.0M336.8 52.4h1.0M202.0 120.1h1.0M207.5 158.6h1.0M323.1 173.0h1.0M217.5 89.5h1.0M207.2 129.7h1.0M214.9 42.5h1.0M228.1 50.1h1.0M325.9 161.8h1.0M300.9 129.3h1.0M261.5 56.2h1.0M226.2 38.4h1.0M211.2 67.8h1.0M279.2 36.7h1.0M280.6 99.7h1.0M242.7 37.9h1.0M257.2 151.6h1.0M306.5 130.8h1.0M242.3 51.5h1.0M311.1 38.9h1.0M265.8 79.2h1.0M226.1 33.8h1.0M242.4 110.5h1.0M271.5 146.2h1.0M291.7 168.0h1.0M231.1 71.0h1.0M249.6 47.5h1.0M239.2 100.0h1.0M255.0 69.2h1.0M312.1 133.6h1.0M333.3 106.3h1.0M283.5 114.1h1.0M333.7 74.7h1.0M323.2 100.9h1.0M310.8 141.7h1.0M240.7 113.6h1.0M264.4 50.5h1.0M254.2 166.7h1.0M247.6 45.5h1.0M298.8 95.9h1.0M287.6 45.1h1.0M274.9 92.3h1.0M282.0 96.2h1.0M279.2 171.9h1.0M214.8 34.1h1.0M249.4 43.8h1.0M203.0 136.5h1.0M320.7 27.1h1.0M225.4 57.4h1.0M253.8 172.2h1.0M209.5 83.5h1.0M275.5 55.9h1.0M247.5 130.0h1.0M298.1 143.4h1.0M300.6 75.6h1.0M218.0 28.7h1.0M295.8 143.5h1.0M301.1 115.1h1.0M258.0 33.3h1.0M263.8 42.7h1.0M241.3 139.0h1.0M284.0 157.8h1.0M324.3 132.5h1.0M335.4 48.8h1.0M306.8 119.4h1.0M278.8 44.1h1.0M271.3 159.5h1.0M302.8 163.2h1.0M312.4 36.0h1.0M256.8 150.7h1.0M303.8 98.4h1.0M264.8 84.1h1.0M252.0 78.5h1.0M267.1 113.3h1.0M220.6 51.2h1.0M290.6 110.8h1.0M269.9 102.9h1.0M250.0 173.1h1.0M241.8 104.6h1.0M241.9 114.9h1.0M242.8 88.6h1.0M205.1 76.4h1.0M264.6 117.0h1.0M311.3 33.8h1.0M245.3 62.0h1.0M265.7 159.8h1.0M334.6 132.9h1.0M335.2 100.0h1.0M288.7 46.1h1.0M304.2 65.4h1.0M279.3 60.5h1.0M273.2 84.6h1.0M327.0 103.3h1.0M310.5 64.2h1.0M272.0 104.0h1.0M243.6 87.2h1.0M201.0 48.5h1.0M246.6 126.4h1.0M283.3 131.3h1.0M211.3 58.4h1.0M334.2 46.4h1.0M223.5 108.1h1.0M265.6 154.8h1.0M323.7 112.2h1.0M264.0 91.7h1.0M342.9 42.7h1.0M268.9 138.7h1.0M296.5 40.4h1.0M317.2 162.9h1.0M307.5 51.7h1.0M329.7 47.5h1.0M200.3 129.5h1.0M299.4 141.1h1.0M275.7 36.6h1.0M203.5 121.4h1.0M309.7 77.3h1.0M310.2 82.0h1.0M265.1 127.4h1.0M299.1 121.6h1.0M218.3 127.8h1.0M312.6 136.9h1.0M290.5 113.6h1.0M233.8 172.9h1.0M340.7 64.4h1.0M294.4 137.0h1.0M267.4 68.9h1.0M249.7 49.2h1.0M315.9 102.7h1.0M344.7 57.6h1.0M342.2 121.8h1.0M278.7 42.0h1.0M207.7 99.5h1.0M215.9 119.5h1.0M232.5 161.9h1.0M293.0 33.5h1.0M324.4 126.7h1.0M229.7 81.4h1.0M297.1 157.8h1.0M256.6 145.3h1.0M336.1 166.5h1.0M288.9 147.1h1.0M208.9 131.3h1.0M323.2 77.4h1.0M322.7 77.8h1.0M320.4 74.9h1.0M279.4 117.9h1.0M215.6 38.6h1.0M249.2 89.8h1.0M291.8 167.8h1.0M336.2 44.9h1.0M302.0 43.5h1.0M207.7 41.0h1.0M329.4 130.7h1.0M274.3 111.3h1.0M289.8 41.7h1.0M267.9 160.0h1.0M202.7 130.9h1.0M208.7 105.0h1.0M224.0 37.3h1.0M207.3 89.2h1.0M340.8 47.7h1.0M262.8 71.4h1.0M251.6 58.6h1.0M256.2 170.6h1.0M218.5 148.6h1.0M314.6 94.0h1.0M299.5 107.5h1.0M343.4 34.1h1.0M309.2 147.1h1.0M294.0 169.2h1.0M205.9 116.4h1.0M307.5 37.0h1.0M276.6 146.7h1.0M296.5 82.4h1.0M318.0 161.0h1.0M231.6 63.0h1.0M318.6 137.5h1.0M261.1 172.2h1.0M341.4 113.9h1.0M253.8 39.3h1.0M199.9 84.1h1.0M261.5 38.8h1.0M230.9 153.7h1.0M307.5 79.2h1.0M213.6 163.5h1.0M330.8 138.7h1.0M298.3 127.0h1.0M237.7 108.4h1.0M198.3 73.6h1.0M225.2 42.5h1.0M304.4 91.4h1.0M244.6 141.4h1.0M292.0 125.6h1.0M330.6 53.6h1.0M264.0 36.7h1.0M305.9 136.7h1.0M202.6 76.7h1.0M208.5 146.5h1.0M286.9 62.6h1.0M300.7 163.5h1.0M326.5 83.2h1.0M201.4 80.6h1.0M236.7 130.3h1.0M246.6 151.0h1.0M239.0 157.8h1.0M334.3 106.1h1.0M203.2 142.4h1.0M323.7 46.0h1.0M304.9 39.9h1.0M244.7 68.8h1.0M221.0 120.9h1.0M342.8 100.4h1.0M336.4 65.4h1.0M216.9 67.8h1.0M318.2 74.3h1.0M249.0 154.5h1.0M287.3 84.6h1.0M325.9 47.3h1.0M227.5 117.2h1.0M270.4 127.1h1.0M317.5 127.1h1.0M223.7 132.8h1.0M232.6 40.3h1.0M241.6 82.9h1.0M272.1 43.5h1.0M291.0 82.3h1.0M343.3 96.9h1.0M320.0 145.2h1.0M286.9 124.0h1.0M210.6 160.1h1.0M340.0 161.8h1.0M210.0 57.9h1.0M244.3 52.0h1.0M235.6 40.7h1.0M284.1 154.7h1.0M247.2 149.3h1.0M325.3 110.8h1.0M324.8 63.6h1.0M287.7 121.1h1.0M198.6 171.6h1.0M236.2 102.5h1.0M314.0 96.8h1.0M216.5 172.0h1.0M325.6 98.9h1.0M245.5 27.1h1.0M244.0 170.5h1.0M309.0 48.0h1.0M293.3 38.9h1.0M270.3 166.6h1.0M202.0 100.1h1.0M340.1 40.7h1.0M264.0 144.2h1.0M321.8 105.1h1.0M282.9 106.0h1.0M296.8 170.4h1.0M294.8 59.4h1.0M232.1 98.5h1.0M296.0 143.2h1.0M238.1 54.4h1.0M211.2 138.3h1.0M202.5 27.9h1.0M262.7 145.0h1.0M342.0 65.6h1.0M249.5 42.3h1.0M217.5 55.2h1.0M314.5 130.8h1.0M300.7 140.3h1.0M227.6 168.9h1.0M276.0 65.3h1.0M316.2 62.8h1.0M200.5 138.2h1.0M216.8 172.2h1.0M321.4 75.6h1.0M339.9 113.4h1.0M277.9 68.1h1.0M330.2 116.5h1.0M240.5 72.2h1.0M241.9 74.6h1.0M335.6 111.3h1.0M290.0 135.8h1.0M207.2 115.2h1.0M312.9 38.3h1.0M334.7 98.7h1.0M200.5 169.6h1.0M258.0 147.9h1.0M341.7 31.3h1.0M238.2 98.6h1.0M241.8 131.1h1.0M251.3 96.7h1.0M258.3 140.8h1.0M277.5 83.1h1.0M325.9 91.0h1.0M343.7 45.5h1.0M211.7 128.8h1.0M328.4 33.8h1.0M248.2 133.6h1.0M303.8 107.9h1.0M298.8 154.6h1.0M283.0 82.0h1.0M228.4 75.4h1.0M318.0 152.5h1.0M251.2 60.9h1.0M341.6 34.3h1.0M255.0 86.3h1.0M300.5 32.2h1.0M297.9 31.9h1.0M228.3 91.4h1.0M310.4 54.6h1.0M294.0 29.8h1.0M220.9 71.4h1.0M209.2 145.1h1.0M282.5 148.3h1.0M266.6 108.3h1.0M202.2 163.8h1.0M244.1 120.8h1.0M322.8 86.2h1.0M248.6 138.7h1.0M316.1 160.3h1.0M257.3 76.2h1.0M272.1 113.9h1.0M296.8 148.3h1.0M290.4 63.4h1.0M311.6 140.5h1.0M320.8 40.9h1.0M256.8 151.8h1.0M255.4 49.9h1.0M203.5 130.0h1.0M202.4 77.2h1.0M265.4 51.3h1.0M265.1 134.6h1.0M208.6 74.1h1.0M296.0 117.5h1.0M280.6 68.1h1.0M250.2 163.7h1.0M268.8 68.7h1.0M267.1 43.3h1.0M281.9 164.9h1.0M293.5 26.9h1.0M321.8 55.4h1.0M203.3 67.2h1.0M276.2 26.7h1.0M343.3 86.2h1.0M199.4 126.8h1.0M341.5 29.7h1.0M221.4 43.4h1.0M251.5 82.4h1.0M202.5 168.0h1.0M310.6 68.0h1.0M290.5 96.8h1.0M315.5 61.7h1.0M338.3 134.0h1.0M289.8 109.7h1.0M293.6 29.7h1.0M328.7 98.1h1.0M227.1 79.1h1.0M303.9 141.8h1.0M229.8 82.9h1.0M343.1 35.6h1.0M255.8 166.7h1.0M303.9 102.8h1.0M264.0 36.6h1.0M308.4 76.3h1.0M208.9 168.8h1.0M210.8 95.3h1.0M300.0 106.1h1.0M255.9 135.1h1.0M234.0 129.5h1.0M259.6 168.4h1.0M323.3 59.0h1.0M328.9 91.7h1.0M248.0 48.1h1.0M223.7 31.7h1.0M230.4 83.4h1.0M298.4 159.5h1.0M299.3 168.1h1.0M336.8 154.1h1.0M240.5 32.7h1.0M284.9 80.4h1.0M342.1 30.0h1.0M336.8 67.9h1.0M297.7 133.5h1.0M268.4 140.0h1.0M321.3 44.5h1.0M317.8 171.3h1.0M319.0 113.4h1.0M285.8 40.7h1.0M280.3 70.0h1.0M232.2 163.3h1.0M235.9 55.5h1.0M324.1 105.1h1.0M326.7 51.9h1.0M330.4 87.9h1.0M327.9 116.2h1.0M247.9 78.7h1.0M214.2 107.7h1.0M208.7 159.5h1.0M235.8 73.3h1.0M254.6 96.6h1.0M333.8 37.8h1.0M249.8 106.0h1.0M273.7 155.0h1.0M277.3 124.6h1.0M296.2 81.2h1.0M263.0 57.3h1.0M214.7 167.6h1.0M297.1 43.5h1.0M321.9 86.6h1.0M258.7 142.5h1.0M241.6 126.8h1.0M312.8 124.7h1.0M222.4 44.1h1.0M308.5 115.9h1.0M251.3 164.2h1.0M279.2 171.8h1.0M225.0 148.4h1.0M342.5 51.2h1.0M227.5 95.9h1.0M244.9 112.8h1.0M213.5 31.6h1.0M211.9 42.6h1.0M248.0 142.4h1.0M283.5 50.4h1.0M285.5 171.2h1.0M339.2 46.4h1.0M300.4 38.8h1.0M324.7 74.1h1.0M290.6 160.8h1.0M264.0 73.1h1.0M206.3 124.8h1.0M296.6 126.4h1.0M210.3 76.1h1.0M238.4 49.3h1.0M214.3 59.9h1.0M324.3 153.9h1.0M287.4 73.7h1.0M246.2 159.1h1.0M218.2 43.3h1.0M336.9 66.5h1.0M338.1 69.6h1.0M212.6 73.5h1.0M324.3 152.6h1.0M287.5 104.2h1.0M262.5 77.1h1.0M335.8 84.2h1.0M213.9 112.5h1.0M253.1 72.9h1.0M336.7 124.3h1.0M266.1 162.3h1.0M225.0 52.7h1.0M340.9 42.8h1.0M306.9 68.5h1.0M213.5 165.7h1.0M303.6 73.8h1.0M228.8 131.8h1.0M308.5 69.8h1.0M203.6 78.2h1.0M278.2 71.1h1.0M310.9 95.7h1.0M229.9 106.3h1.0M218.2 130.7h1.0M341.2 60.4h1.0M223.9 111.6h1.0M233.8 42.8h1.0M271.9 53.7h1.0M297.9 100.6h1.0M230.7 160.0h1.0M278.0 142.7h1.0M313.4 64.0h1.0M230.6 68.9h1.0M273.1 134.8h1.0M215.9 65.0h1.0M200.4 144.1h1.0M334.5 113.5h1.0M284.0 89.6h1.0M246.0 81.5h1.0M198.1 60.6h1.0M268.1 76.1h1.0M288.5 48.6h1.0M254.5 163.2h1.0M230.2 171.7h1.0M198.3 169.0h1.0M340.3 160.9h1.0M344.3 170.1h1.0M271.7 146.1h1.0M224.5 146.8h1.0M222.9 152.7h1.0M310.8 127.0h1.0M311.9 74.4h1.0M316.8 162.0h1.0M291.7 126.9h1.0M232.4 85.4h1.0M302.6 112.8h1.0M278.5 46.1h1.0M200.2 97.1h1.0M318.6 172.4h1.0M218.8 170.5h1.0M239.2 169.8h1.0M258.9 144.3h1.0M281.7 120.9h1.0M207.7 46.0h1.0M330.9 34.7h1.0M288.2 166.2h1.0M291.6 111.0h1.0M301.8 142.4h1.0M240.8 43.1h1.0M243.2 118.9h1.0M229.7 78.3h1.0M266.3 76.7h1.0M293.0 164.4h1.0M276.8 144.2h1.0M232.2 157.7h1.0M324.0 42.7h1.0M200.3 87.9h1.0M234.5 27.5h1.0M222.0 147.2h1.0M269.9 120.1h1.0M270.9 42.1h1.0M342.5 164.4h1.0M263.6 168.5h1.0M296.8 88.0h1.0M215.2 171.7h1.0M203.6 87.9h1.0M245.6 133.8h1.0M254.5 34.4h1.0M255.3 30.4h1.0M284.3 163.8h1.0M295.6 167.5h1.0M280.9 108.1h1.0M281.8 29.7h1.0M244.2 95.0h1.0M277.3 158.8h1.0M301.7 76.0h1.0M342.6 116.0h1.0M208.7 102.9h1.0M241.3 85.2h1.0M287.7 150.0h1.0M304.2 165.8h1.0M281.9 42.7h1.0M284.0 155.3h1.0M246.6 169.6h1.0M208.4 116.4h1.0M231.1 112.7h1.0M232.9 104.2h1.0M225.5 162.4h1.0M333.1 101.8h1.0M223.0 107.1h1.0M227.9 162.4h1.0M321.8 44.3h1.0M219.3 120.8h1.0M235.6 44.3h1.0M223.4 32.0h1.0M324.9 46.5h1.0M208.6 67.6h1.0M201.9 141.7h1.0M310.2 104.8h1.0M342.3 162.2h1.0M283.2 49.6h1.0M308.0 27.2h1.0M338.2 142.2h1.0M297.0 44.6h1.0M316.3 141.9h1.0M336.3 89.8h1.0M252.8 155.2h1.0M260.2 125.3h1.0M308.6 56.6h1.0M281.0 145.1h1.0M342.1 63.0h1.0M247.5 94.1h1.0M222.3 26.6h1.0M295.0 135.4h1.0M259.2 46.4h1.0M257.3 44.3h1.0M289.7 36.0h1.0M238.3 34.2h1.0M271.7 161.6h1.0M298.3 44.3h1.0M218.1 124.8h1.0M210.9 113.5h1.0M203.4 41.1h1.0M327.6 85.2h1.0M245.1 33.7h1.0M305.2 107.9h1.0M302.9 40.6h1.0M254.2 73.3h1.0M199.2 90.1h1.0M275.4 99.8h1.0M303.9 92.5h1.0M267.2 52.7h1.0M257.5 60.3h1.0M261.2 122.5h1.0M268.4 59.7h1.0M308.4 46.3h1.0M320.3 156.3h1.0M227.7 52.7h1.0M280.0 31.8h1.0M273.1 98.5h1.0M313.7 54.0h1.0M308.0 37.7h1.0M274.1 88.3h1.0M252.7 97.3h1.0M247.3 130.1h1.0M296.2 26.8h1.0M260.4 70.4h1.0M294.4 148.6h1.0M312.6 158.8h1.0M333.8 107.0h1.0M200.9 130.8h1.0M327.5 160.5h1.0M261.2 44.2h1.0M270.6 49.0h1.0M241.4 52.9h1.0M321.6 168.5h1.0M319.2 112.9h1.0M327.3 160.7h1.0M260.0 81.8h1.0M241.7 54.5h1.0M317.8 73.6h1.0M257.8 153.0h1.0M285.1 32.1h1.0M288.9 40.5h1.0M271.3 62.4h1.0M312.3 109.9h1.0M264.4 137.9h1.0M330.9 87.7h1.0M300.4 48.7h1.0M337.5 37.8h1.0M293.5 83.3h1.0M212.6 45.3h1.0M256.4 48.2h1.0M275.0 172.6h1.0M309.9 155.6h1.0M264.7 53.1h1.0M204.0 109.7h1.0M258.0 126.2h1.0M243.5 67.9h1.0M291.5 160.1h1.0M264.1 139.6h1.0M201.7 101.3h1.0M326.1 30.0h1.0M312.0 90.6h1.0M210.6 120.3h1.0M341.6 80.9h1.0M217.3 104.3h1.0M206.9 169.8h1.0M290.6 96.5h1.0M208.9 81.1h1.0M198.0 46.2h1.0M269.0 70.2h1.0M267.9 126.4h1.0M204.5 164.9h1.0M290.0 107.3h1.0M203.5 166.9h1.0M253.6 62.1h1.0M300.9 97.0h1.0M228.2 41.3h1.0M326.6 145.6h1.0M340.3 126.5h1.0M261.5 161.2h1.0M208.4 93.2h1.0M325.1 105.6h1.0M315.0 140.6h1.0M241.1 167.3h1.0M202.6 139.0h1.0M199.7 43.4h1.0M203.4 54.0h1.0M280.6 87.6h1.0M281.5 159.2h1.0M246.9 35.9h1.0M330.1 170.5h1.0M339.8 159.9h1.0M278.0 41.5h1.0M334.0 166.7h1.0M250.7 52.4h1.0M205.8 85.7h1.0M231.9 77.2h1.0M248.6 144.2h1.0M258.3 51.0h1.0M285.4 97.7h1.0M209.0 95.4h1.0M240.8 63.9h1.0M329.9 173.5h1.0M269.9 157.7h1.0M259.9 153.5h1.0M272.8 71.3h1.0M244.3 158.9h1.0M325.3 163.2h1.0M333.6 62.5h1.0M202.3 127.1h1.0M284.2 75.6h1.0M234.1 133.4h1.0M311.8 47.9h1.0M246.1 74.0h1.0M239.2 138.6h1.0M200.6 75.7h1.0M314.5 36.6h1.0M261.4 169.3h1.0M341.1 129.9h1.0M312.9 117.9h1.0M258.2 30.8h1.0M269.2 26.8h1.0M211.4 102.1h1.0M329.6 84.7h1.0M273.2 45.6h1.0M288.3 160.1h1.0M342.4 34.3h1.0M233.1 95.0h1.0M267.7 161.2h1.0M303.8 113.7h1.0M223.7 125.5h1.0M271.4 127.1h1.0M198.0 82.8h1.0M245.8 86.1h1.0M272.5 142.4h1.0M275.3 56.6h1.0M269.0 110.4h1.0M205.1 112.2h1.0M280.5 121.0h1.0M296.8 137.9h1.0M210.6 72.9h1.0M237.8 119.4h1.0M328.5 80.0h1.0M312.9 28.6h1.0M235.0 105.9h1.0M329.6 134.0h1.0M329.0 168.1h1.0M237.4 164.4h1.0M221.6 111.2h1.0M227.8 42.5h1.0M245.2 129.6h1.0M299.6 49.7h1.0M249.4 168.5h1.0M285.3 146.6h1.0M344.8 43.5h1.0M205.4 147.7h1.0M317.6 72.5h1.0M316.8 128.4h1.0M247.1 127.9h1.0M313.6 101.4h1.0M277.1 55.9h1.0M208.9 35.6h1.0M314.6 172.1h1.0M317.0 153.7h1.0M266.5 42.1h1.0M332.3 106.1h1.0M284.2 132.5h1.0M232.1 163.9h1.0M280.7 116.1h1.0M248.6 110.2h1.0M337.7 51.1h1.0M229.9 129.3h1.0M302.2 98.7h1.0M308.6 104.5h1.0M228.2 71.7h1.0M244.0 80.3h1.0M220.5 159.5h1.0M248.2 54.8h1.0M215.4 96.4h1.0M208.2 91.5h1.0M218.7 96.3h1.0M217.3 62.1h1.0M338.6 33.2h1.0M272.5 147.2h1.0M310.0 47.3h1.0M243.0 109.4h1.0M305.4 161.5h1.0M277.1 46.7h1.0M203.1 110.5h1.0M326.4 63.8h1.0M299.9 136.9h1.0M198.4 54.8h1.0M269.9 59.7h1.0M213.5 122.3h1.0M219.8 117.1h1.0M344.1 31.2h1.0M234.3 41.1h1.0M267.8 141.5h1.0M309.4 72.7h1.0M245.5 106.2h1.0M277.4 37.7h1.0M331.8 144.5h1.0M306.4 38.8h1.0M279.4 46.8h1.0M334.3 53.0h1.0M212.8 102.0h1.0M270.4 91.5h1.0M304.9 108.7h1.0M259.8 155.4h1.0M228.7 103.7h1.0M208.1 142.6h1.0M227.6 109.7h1.0M301.1 38.3h1.0M211.0 100.4h1.0M287.2 55.0h1.0M247.8 165.1h1.0M293.0 51.7h1.0M288.0 65.5h1.0M202.9 27.7h1.0M315.6 168.1h1.0M232.6 134.0h1.0M310.5 49.8h1.0M339.0 157.1h1.0M205.0 61.6h1.0M304.8 83.6h1.0M217.2 30.9h1.0M329.0 164.7h1.0M263.8 135.4h1.0M296.4 172.5h1.0M241.5 96.9h1.0M287.2 164.4h1.0M332.6 141.3h1.0M276.0 76.0h1.0M341.9 135.4h1.0M339.7 68.0h1.0M266.3 93.5h1.0M259.9 156.4h1.0M269.7 134.5h1.0M272.6 159.5h1.0M320.1 70.8h1.0M344.5 152.4h1.0M315.1 126.7h1.0M262.4 46.8h1.0M212.7 79.0h1.0M290.1 154.9h1.0M253.7 129.7h1.0M285.5 159.0h1.0M332.8 27.8h1.0M306.2 69.0h1.0M336.3 36.0h1.0M252.8 31.7h1.0M288.3 33.3h1.0M210.3 111.8h1.0M220.5 27.6h1.0M326.9 149.6h1.0M271.3 151.5h1.0M284.2 154.9h1.0M213.4 32.0h1.0M297.9 70.2h1.0M281.9 135.7h1.0M273.0 69.7h1.0M337.3 82.8h1.0M263.9 102.6h1.0M203.2 106.1h1.0M288.1 51.2h1.0M301.0 92.6h1.0M336.8 82.1h1.0M210.5 161.8h1.0M239.4 167.3h1.0M295.2 77.5h1.0M271.7 144.1h1.0M326.7 46.4h1.0M241.1 40.1h1.0M273.7 67.0h1.0M239.1 123.1h1.0M340.5 56.4h1.0M275.1 89.0h1.0M281.5 74.8h1.0M224.7 69.3h1.0M332.5 99.1h1.0M337.8 28.9h1.0M225.8 162.0h1.0M214.3 112.1h1.0M223.8 46.1h1.0M267.9 154.6h1.0M280.4 28.4h1.0M229.2 172.3h1.0M313.3 103.0h1.0M245.5 72.9h1.0M203.3 60.2h1.0M322.3 80.1h1.0M323.1 167.2h1.0M297.9 69.2h1.0M262.2 44.0h1.0M232.0 77.7h1.0M203.7 152.0h1.0M271.5 78.4h1.0M289.8 93.1h1.0M244.7 82.9h1.0M263.0 71.4h1.0M252.0 94.9h1.0M324.2 145.1h1.0M324.8 95.3h1.0M337.8 34.9h1.0M322.2 125.1h1.0M201.9 150.7h1.0M246.2 115.8h1.0M206.1 121.8h1.0M294.8 78.3h1.0M247.0 143.2h1.0M332.1 26.6h1.0M241.8 103.8h1.0M244.4 74.6h1.0M280.9 151.1h1.0M316.1 83.3h1.0M326.0 170.2h1.0M219.4 53.3h1.0M341.1 40.6h1.0M235.4 173.0h1.0M317.9 55.5h1.0M257.8 172.7h1.0M235.0 140.4h1.0M235.1 88.8h1.0M335.8 123.4h1.0M260.7 168.1h1.0M329.7 165.4h1.0M275.3 44.4h1.0M244.6 53.0h1.0M239.4 48.7h1.0M296.7 140.7h1.0M201.1 146.3h1.0M316.0 101.0h1.0M342.1 41.1h1.0M203.3 43.6h1.0M219.2 139.1h1.0M290.4 44.3h1.0M319.3 131.4h1.0M282.3 65.9h1.0M254.5 170.5h1.0M287.0 34.6h1.0M261.7 109.3h1.0M299.3 105.0h1.0M229.4 126.4h1.0M271.9 124.7h1.0M342.7 159.8h1.0M244.8 138.5h1.0M228.8 77.2h1.0M206.4 142.1h1.0M230.6 148.6h1.0M286.2 147.3h1.0M299.8 53.1h1.0M306.0 145.7h1.0M262.0 141.9h1.0M245.2 40.3h1.0M272.6 36.9h1.0M251.6 162.5h1.0M324.0 136.6h1.0M256.2 48.1h1.0M274.3 39.0h1.0M310.8 144.3h1.0M210.8 73.2h1.0M275.7 83.1h1.0M300.1 31.7h1.0M308.9 123.9h1.0M231.1 37.9h1.0M217.6 49.0h1.0M266.0 49.1h1.0M199.8 81.2h1.0M204.2 30.1h1.0M317.6 114.4h1.0M236.3 68.6h1.0M258.6 88.8h1.0M288.4 51.6h1.0M286.9 120.0h1.0M324.3 146.1h1.0M310.6 112.4h1.0M205.6 158.2h1.0M293.5 114.9h1.0M251.1 39.2h1.0M214.4 159.8h1.0M266.0 84.7h1.0M329.8 97.7h1.0M246.0 85.3h1.0M270.8 116.8h1.0M302.2 32.3h1.0M308.4 131.0h1.0M333.3 78.1h1.0M216.1 170.1h1.0M240.3 150.7h1.0M333.0 133.6h1.0M239.8 101.5h1.0M281.5 66.6h1.0M283.1 171.0h1.0M283.9 114.8h1.0M263.6 63.9h1.0M322.6 39.7h1.0M267.4 116.9h1.0M342.9 51.7h1.0M337.5 121.3h1.0M205.1 73.5h1.0M218.4 155.7h1.0M294.4 157.4h1.0M204.8 90.8h1.0M323.9 46.9h1.0M248.0 117.1h1.0M325.3 58.4h1.0M230.9 32.3h1.0M281.6 121.2h1.0M204.3 45.3h1.0M266.3 118.8h1.0M204.9 156.3h1.0M279.0 117.4h1.0M292.0 81.8h1.0M285.4 83.9h1.0M306.4 101.9h1.0M205.8 81.7h1.0M207.3 157.5h1.0M209.3 91.4h1.0M305.7 87.7h1.0M201.4 56.1h1.0M258.5 63.3h1.0M319.5 58.3h1.0M337.6 126.9h1.0M231.8 88.2h1.0M283.5 50.2h1.0M330.8 47.1h1.0M298.0 101.1h1.0M321.3 39.2h1.0M218.4 109.1h1.0M235.3 62.8h1.0M244.6 139.2h1.0M276.2 47.7h1.0M292.6 50.1h1.0M198.2 66.1h1.0M254.8 98.3h1.0M233.0 48.2h1.0M318.9 42.3h1.0M275.0 145.0h1.0M249.7 123.6h1.0M238.1 122.0h1.0M208.8 167.9h1.0M336.5 167.6h1.0M297.3 93.7h1.0M288.8 144.8h1.0M328.4 98.8h1.0M246.8 54.5h1.0M240.8 129.9h1.0M210.5 116.6h1.0M205.2 141.2h1.0M230.6 92.3h1.0M324.0 136.1h1.0M215.2 124.9h1.0M254.5 171.8h1.0M231.9 117.0h1.0M267.0 100.2h1.0M291.4 87.9h1.0M312.8 118.2h1.0M235.3 57.0h1.0M293.5 107.3h1.0M221.6 89.7h1.0M333.2 87.7h1.0M241.4 117.8h1.0M206.6 78.7h1.0M332.8 31.6h1.0M217.9 77.8h1.0M230.5 32.2h1.0M273.3 116.1h1.0M201.4 132.5h1.0M278.4 119.3h1.0M233.1 119.3h1.0M344.7 158.1h1.0M252.5 29.4h1.0M251.1 138.2h1.0M258.5 117.1h1.0M298.0 90.2h1.0M230.0 136.6h1.0M266.9 103.2h1.0M248.1 106.5h1.0M287.5 148.3h1.0M301.1 107.7h1.0M322.3 139.2h1.0M311.6 40.6h1.0M334.2 92.6h1.0M237.3 136.3h1.0M223.4 117.5h1.0M206.0 125.7h1.0M312.7 133.2h1.0M276.3 141.2h1.0M228.7 96.2h1.0M279.8 67.4h1.0M333.9 163.3h1.0M280.4 29.1h1.0M244.9 133.6h1.0M275.1 132.1h1.0M280.1 143.2h1.0M324.1 166.1h1.0M270.9 136.1h1.0M319.6 63.5h1.0M336.7 41.5h1.0M264.4 37.6h1.0M327.6 135.2h1.0M205.8 75.7h1.0M301.2 58.5h1.0M225.3 72.3h1.0M255.7 100.3h1.0M233.7 69.0h1.0M332.3 33.4h1.0M227.3 56.9h1.0M270.8 120.9h1.0M269.2 165.4h1.0M268.9 42.0h1.0M215.5 114.3h1.0M211.5 138.3h1.0M301.6 63.5h1.0M339.2 168.9h1.0M250.5 47.7h1.0M266.5 69.0h1.0M317.7 45.5h1.0M270.1 86.4h1.0M318.3 85.3h1.0M215.4 28.8h1.0M260.8 82.0h1.0M257.7 134.1h1.0M248.9 104.2h1.0M213.9 27.6h1.0M259.3 127.3h1.0M245.6 165.6h1.0M209.0 42.7h1.0M233.6 57.2h1.0M215.1 51.5h1.0M341.6 73.1h1.0M327.8 158.7h1.0M263.4 140.5h1.0M307.8 120.0h1.0M283.2 115.2h1.0M209.1 119.5h1.0M286.7 156.2h1.0M310.9 98.7h1.0M288.2 67.2h1.0M232.7 49.6h1.0M285.3 70.1h1.0M230.8 133.2h1.0M329.4 45.0h1.0M342.2 78.5h1.0M260.9 126.2h1.0M331.5 150.8h1.0M321.8 116.5h1.0M290.3 27.3h1.0M276.8 35.2h1.0M330.9 68.0h1.0M291.9 34.9h1.0M318.2 54.6h1.0M207.0 70.4h1.0M297.6 113.3h1.0M240.7 87.1h1.0M199.3 53.3h1.0M213.1 167.3h1.0M226.2 122.7h1.0M292.9 37.9h1.0M311.1 144.4h1.0M309.9 41.0h1.0M207.3 122.7h1.0M338.8 132.8h1.0M200.6 124.3h1.0M213.4 56.1h1.0M256.8 128.5h1.0M248.9 64.6h1.0M307.0 77.1h1.0M253.0 39.1h1.0M238.7 137.5h1.0M200.2 103.0h1.0M240.4 122.4h1.0M233.8 96.8h1.0M293.7 163.5h1.0M218.2 100.5h1.0M288.7 29.4h1.0M217.8 58.4h1.0M258.6 26.7h1.0M229.5 91.7h1.0M314.7 168.1h1.0M329.7 40.5h1.0M211.7 109.6h1.0M274.2 44.7h1.0M272.4 163.2h1.0M268.4 91.8h1.0M247.0 118.2h1.0M339.1 112.7h1.0M248.8 128.4h1.0M276.9 115.6h1.0M257.2 40.4h1.0M309.7 71.9h1.0M207.6 80.3h1.0M229.7 130.9h1.0M201.3 149.0h1.0M284.3 41.4h1.0M305.6 86.0h1.0M285.5 69.8h1.0M220.1 75.5h1.0M284.5 171.1h1.0M295.6 100.4h1.0M307.8 137.3h1.0M253.9 33.1h1.0M326.4 47.8h1.0M222.6 71.4h1.0M300.4 88.8h1.0M258.8 49.5h1.0M312.1 134.8h1.0M290.2 158.4h1.0M203.4 146.7h1.0M311.9 96.6h1.0M253.8 171.1h1.0M314.1 166.0h1.0M203.6 135.8h1.0M238.3 31.5h1.0M318.4 157.4h1.0M313.5 106.2h1.0M281.6 40.1h1.0M295.6 68.1h1.0M318.4 38.3h1.0M226.5 65.3h1.0M276.1 72.1h1.0M253.7 98.8h1.0M220.0 105.1h1.0M200.9 90.1h1.0M286.1 103.5h1.0M200.6 103.2h1.0M330.9 81.2h1.0M237.5 148.2h1.0M321.5 144.5h1.0M266.4 58.2h1.0M215.1 119.2h1.0M220.2 123.3h1.0M218.4 91.8h1.0M293.1 121.4h1.0M243.7 112.9h1.0M329.6 138.5h1.0M264.2 32.2h1.0M210.2 55.7h1.0M202.1 125.9h1.0M290.5 33.1h1.0M339.9 93.9h1.0M330.1 54.7h1.0M296.1 164.2h1.0M299.7 67.4h1.0M335.3 73.7h1.0M256.0 98.7h1.0M239.4 155.9h1.0M267.0 40.7h1.0M245.8 136.9h1.0M330.3 35.4h1.0M307.0 153.2h1.0M198.3 106.2h1.0M330.8 118.6h1.0M335.3 130.3h1.0M234.3 151.7h1.0M269.8 43.2h1.0M255.8 29.1h1.0" stroke="#0a0aff" stroke-width="1.0" fill="none" opacity="0.72"/><path d="M209.6 161.8h1.0M283.0 162.6h1.0M250.5 163.4h1.0M224.0 162.8h1.0M269.0 165.0h1.0M221.9 163.8h1.0M252.5 165.2h1.0M321.0 163.3h1.0M292.6 162.8h1.0M340.2 162.6h1.0M227.1 163.8h1.0M235.8 162.9h1.0M319.0 162.3h1.0M326.8 162.7h1.0M284.8 163.7h1.0M276.8 163.8h1.0M304.9 163.7h1.0M198.9 164.0h1.0M223.7 163.7h1.0M232.0 163.6h1.0M237.2 163.1h1.0M201.0 161.1h1.0M215.0 165.9h1.0M220.0 162.7h1.0M247.5 162.9h1.0M259.6 163.6h1.0M268.6 163.7h1.0M210.5 164.0h1.0M222.1 164.8h1.0M300.6 164.4h1.0M236.9 164.1h1.0M248.4 162.3h1.0M270.5 164.5h1.0M280.6 165.6h1.0M205.7 164.5h1.0M254.8 164.8h1.0M303.6 163.9h1.0M316.1 165.3h1.0M212.0 163.2h1.0M302.2 163.4h1.0M316.4 163.9h1.0M211.9 163.1h1.0M295.7 163.2h1.0M226.5 163.5h1.0M283.8 164.7h1.0M233.6 164.5h1.0M236.2 162.7h1.0M304.7 164.2h1.0M202.7 163.6h1.0M240.9 163.1h1.0M292.2 163.3h1.0M330.8 162.5h1.0M228.3 163.2h1.0M236.5 164.9h1.0M221.3 163.9h1.0M319.8 165.2h1.0M303.5 165.2h1.0M243.7 163.3h1.0M244.6 163.6h1.0M287.8 163.4h1.0M211.3 164.7h1.0M220.4 164.0h1.0M335.2 164.4h1.0M227.3 163.0h1.0M215.8 162.6h1.0M251.5 163.7h1.0M303.5 162.2h1.0M213.8 163.4h1.0M208.5 162.9h1.0M235.3 164.4h1.0M296.5 163.8h1.0M268.3 164.5h1.0M302.9 163.8h1.0M263.9 162.8h1.0M334.6 164.8h1.0M213.6 163.2h1.0M265.2 163.2h1.0M203.7 163.1h1.0M342.4 164.1h1.0M266.7 163.4h1.0M289.2 163.6h1.0M308.6 164.0h1.0M311.5 163.3h1.0M256.1 163.8h1.0M212.0 164.0h1.0M240.5 163.6h1.0M311.1 164.0h1.0M208.6 164.0h1.0M222.3 162.0h1.0M223.1 163.4h1.0M223.7 163.8h1.0M247.9 162.8h1.0M216.3 163.8h1.0M215.4 166.1h1.0M236.4 163.6h1.0M331.1 161.8h1.0M267.7 164.9h1.0M240.6 163.4h1.0M266.6 163.4h1.0M217.3 162.3h1.0M226.7 164.1h1.0M317.8 163.6h1.0M248.0 163.7h1.0M267.2 164.4h1.0M343.8 164.8h1.0M245.4 165.1h1.0M223.6 163.7h1.0M225.8 162.9h1.0M259.7 164.5h1.0M282.7 162.1h1.0M199.7 163.8h1.0M330.4 162.5h1.0M338.1 162.9h1.0M318.6 165.2h1.0M237.3 163.1h1.0M250.1 164.4h1.0M253.8 164.2h1.0M331.9 164.1h1.0M258.6 162.5h1.0M309.3 162.3h1.0M234.1 165.1h1.0M343.8 162.9h1.0M305.2 163.8h1.0M235.4 162.1h1.0M294.6 162.4h1.0M217.8 164.9h1.0M277.5 162.8h1.0M249.0 165.1h1.0M322.2 164.8h1.0M218.6 162.2h1.0M336.1 163.7h1.0M294.1 162.3h1.0M205.3 164.5h1.0M265.2 162.9h1.0M248.1 164.0h1.0M326.1 162.2h1.0M229.7 163.3h1.0M213.0 164.3h1.0M246.3 165.3h1.0M231.6 164.0h1.0M208.6 165.0h1.0M227.4 164.3h1.0M266.1 162.4h1.0M338.4 164.6h1.0M243.8 162.4h1.0M267.4 162.3h1.0M330.5 163.6h1.0M326.7 162.9h1.0M282.5 164.6h1.0M320.1 164.4h1.0M274.4 162.8h1.0M327.6 163.8h1.0M296.0 163.9h1.0M251.6 164.5h1.0M339.1 163.5h1.0M332.6 163.3h1.0M203.3 162.9h1.0M303.7 163.2h1.0M261.3 164.6h1.0M318.8 164.3h1.0M314.2 163.3h1.0M307.7 164.2h1.0M316.1 164.1h1.0M344.1 165.5h1.0M261.9 162.7h1.0M334.9 164.7h1.0M227.9 163.4h1.0M305.8 164.5h1.0M225.7 162.7h1.0M296.5 163.4h1.0M221.7 149.1h1.0M281.2 89.5h1.0M331.4 39.6h1.0M325.4 46.1h1.0M230.2 140.3h1.0M330.6 41.0h1.0M274.2 96.7h1.0M220.3 149.0h1.0M261.1 109.2h1.0M239.6 130.6h1.0M267.7 102.9h1.0M249.0 120.8h1.0M234.2 136.3h1.0M224.8 144.5h1.0M228.7 140.8h1.0M308.3 62.4h1.0M239.6 130.4h1.0M207.7 162.3h1.0M212.7 157.7h1.0M298.2 73.2h1.0M292.6 78.6h1.0M311.0 60.4h1.0M222.9 147.0h1.0M243.9 126.7h1.0M212.2 158.0h1.0M273.1 98.0h1.0M263.9 107.0h1.0M336.6 34.8h1.0M285.7 85.4h1.0M210.2 158.8h1.0M258.1 112.4h1.0M250.7 119.3h1.0M222.1 147.9h1.0M201.0 168.7h1.0M250.8 118.8h1.0M257.8 112.6h1.0M279.9 90.3h1.0M337.6 34.3h1.0M323.4 47.8h1.0M297.7 73.6h1.0M279.3 91.4h1.0M216.9 153.1h1.0M203.6 166.3h1.0M271.3 99.4h1.0M250.0 119.8h1.0M292.3 78.5h1.0M255.6 114.3h1.0M237.4 132.8h1.0M252.7 117.8h1.0M239.6 130.9h1.0M223.0 146.9h1.0M228.2 142.4h1.0M221.1 149.0h1.0M238.0 131.8h1.0M332.1 39.6h1.0M334.0 38.4h1.0M262.9 108.2h1.0M324.2 47.2h1.0M326.4 44.7h1.0M341.5 30.2h1.0M218.2 152.2h1.0M291.3 79.9h1.0M225.7 143.8h1.0M339.9 31.8h1.0M262.6 107.9h1.0M234.3 136.5h1.0M302.2 69.1h1.0M221.6 148.5h1.0M208.0 161.4h1.0M204.3 165.3h1.0M282.8 87.7h1.0M286.8 84.2h1.0M336.9 34.6h1.0M281.2 89.8h1.0M255.4 115.1h1.0M316.2 54.9h1.0M200.7 168.9h1.0M296.5 74.0h1.0M259.7 111.3h1.0M334.3 36.9h1.0M254.3 116.6h1.0M314.8 56.2h1.0M343.4 28.0h1.0M309.6 61.9h1.0M223.0 147.0h1.0M239.8 130.5h1.0M334.7 36.7h1.0M309.7 60.8h1.0M284.3 86.3h1.0M212.5 157.3h1.0M240.3 130.7h1.0M263.8 106.5h1.0M305.6 65.4h1.0M271.4 99.1h1.0M294.6 76.6h1.0M334.0 38.0h1.0M261.3 108.7h1.0M309.3 61.6h1.0M258.3 112.4h1.0M217.0 152.8h1.0M299.0 73.0h1.0M278.2 92.4h1.0M292.0 79.0h1.0M318.2 53.4h1.0M212.7 157.0h1.0M204.5 165.0h1.0M304.0 66.9h1.0M335.1 36.6h1.0M318.0 53.5h1.0M272.2 98.5h1.0M334.2 37.0h1.0M236.2 134.0h1.0M330.7 39.8h1.0M311.4 59.4h1.0M323.6 47.7h1.0M332.4 38.9h1.0M307.8 63.7h1.0M319.7 52.1h1.0M222.9 146.7h1.0M258.6 112.1h1.0" stroke="#0a0aff" stroke-width="1.0" fill="none" opacity="0.8"/><line x1="199.80" y1="169.40" x2="344.80" y2="26.40" stroke="#1a1ad8" stroke-width="1.1" opacity="0.8"/><line x1="197.00" y1="25.50" x2="197.00" y2="175.00" stroke="#000" stroke-width="1.6" /><line x1="192.40" y1="165.80" x2="196.20" y2="165.80" stroke="#000" stroke-width="1.3" /><line x1="192.40" y1="130.92" x2="196.20" y2="130.92" stroke="#000" stroke-width="1.3" /><line x1="192.40" y1="96.04" x2="196.20" y2="96.04" stroke="#000" stroke-width="1.3" /><line x1="192.40" y1="61.16" x2="196.20" y2="61.16" stroke="#000" stroke-width="1.3" /><line x1="192.40" y1="26.28" x2="196.20" y2="26.28" stroke="#000" stroke-width="1.3" /><line x1="196.20" y1="174.40" x2="346.20" y2="174.40" stroke="#000" stroke-width="1.4" /><line x1="206.20" y1="175.10" x2="206.20" y2="178.40" stroke="#000" stroke-width="1.4" /><line x1="241.00" y1="175.10" x2="241.00" y2="178.40" stroke="#000" stroke-width="1.4" /><line x1="275.80" y1="175.10" x2="275.80" y2="178.40" stroke="#000" stroke-width="1.4" /><line x1="310.60" y1="175.10" x2="310.60" y2="178.40" stroke="#000" stroke-width="1.4" /><line x1="345.40" y1="175.10" x2="345.40" y2="178.40" stroke="#000" stroke-width="1.4" /><polyline points="196.80,23.10 205.90,23.10 207.80,13.30 216.70,13.30 218.40,23.10 345.60,23.10" fill="none" stroke="#17a224" stroke-width="1.35" stroke-linejoin="round" /><text x="0" y="0" font-size="11.6" text-anchor="start" fill="#17a224" stroke="#17a224" stroke-width="0.18" transform="translate(221.00,18.90) scale(1,1.05)" >whisker</text><text x="0" y="0" font-size="9.1" text-anchor="end" fill="#222" stroke="#222" stroke-width="0.18" transform="translate(342.70,19.80) scale(1,1.05)" >5 deg</text><line x1="344.90" y1="14.30" x2="344.90" y2="21.20" stroke="#000" stroke-width="1.0" /><polyline points="346.90,26.00 346.90,153.20 356.80,154.90 356.80,163.60 346.90,165.10 346.90,174.30" fill="none" stroke="#17a224" stroke-width="1.4" stroke-linejoin="round" /><g transform="matrix(0.7133,-0.7009,0.7009,0.7133,70.9,303.3)"><path d="M0.00 0v-2.52h0.57v2.52zM0.57 0v-9.50h0.57v9.50zM1.14 0v-3.60h0.57v3.60zM1.71 0v-9.12h0.57v9.12zM2.27 0v-6.41h0.57v6.41zM2.84 0v-4.58h0.57v4.58zM3.41 0v-18.09h0.57v18.09zM3.98 0v-2.95h0.57v2.95zM4.55 0v-4.30h0.57v4.30zM5.12 0v-10.16h0.57v10.16zM5.68 0v-24.85h0.57v24.85zM6.25 0v-6.78h0.57v6.78zM6.82 0v-3.62h0.57v3.62zM7.39 0v-2.78h0.57v2.78zM7.96 0v-3.46h0.57v3.46zM8.53 0v-8.80h0.57v8.80zM9.09 0v-10.49h0.57v10.49zM9.66 0v-3.94h0.57v3.94zM10.23 0v-26.24h0.57v26.24zM10.80 0v-4.47h0.57v4.47zM11.37 0v-8.70h0.57v8.70zM11.94 0v-8.49h0.57v8.49zM12.51 0v-5.12h0.57v5.12zM13.07 0v-6.32h0.57v6.32zM13.64 0v-9.52h0.57v9.52zM14.21 0v-13.45h0.57v13.45zM14.78 0v-26.45h0.57v26.45zM15.35 0v-2.65h0.57v2.65zM15.92 0v-3.41h0.57v3.41zM16.48 0v-10.57h0.57v10.57zM17.05 0v-4.01h0.57v4.01zM17.62 0v-3.75h0.57v3.75zM18.19 0v-4.09h0.57v4.09zM18.76 0v-6.39h0.57v6.39zM19.33 0v-10.52h0.57v10.52zM19.89 0v-3.31h0.57v3.31zM20.46 0v-3.50h0.57v3.50zM21.03 0v-12.54h0.57v12.54zM21.60 0v-4.37h0.57v4.37zM22.17 0v-5.85h0.57v5.85zM22.74 0v-2.81h0.57v2.81zM23.31 0v-6.37h0.57v6.37zM23.87 0v-7.94h0.57v7.94zM24.44 0v-3.47h0.57v3.47zM25.01 0v-10.48h0.57v10.48zM25.58 0v-4.22h0.57v4.22zM26.15 0v-3.01h0.57v3.01zM26.72 0v-3.21h0.57v3.21zM27.28 0v-7.22h0.57v7.22zM27.85 0v-14.25h0.57v14.25zM28.42 0v-26.08h0.57v26.08zM28.99 0v-4.00h0.57v4.00zM29.56 0v-3.75h0.57v3.75zM30.13 0v-14.29h0.57v14.29zM30.69 0v-3.00h0.57v3.00zM31.26 0v-5.39h0.57v5.39zM31.83 0v-14.66h0.57v14.66zM32.40 0v-13.55h0.57v13.55zM32.97 0v-7.98h0.57v7.98zM33.54 0v-5.12h0.57v5.12zM34.11 0v-24.99h0.57v24.99zM34.67 0v-2.95h0.57v2.95zM35.24 0v-3.96h0.57v3.96zM35.81 0v-3.16h0.57v3.16zM36.38 0v-15.28h0.57v15.28zM36.95 0v-3.26h0.57v3.26zM37.52 0v-12.72h0.57v12.72zM38.08 0v-5.24h0.57v5.24zM38.65 0v-6.22h0.57v6.22zM39.22 0v-3.69h0.57v3.69zM39.79 0v-6.95h0.57v6.95zM40.36 0v-3.57h0.57v3.57zM40.93 0v-5.11h0.57v5.11zM41.49 0v-3.75h0.57v3.75zM42.06 0v-3.15h0.57v3.15zM42.63 0v-15.35h0.57v15.35zM43.20 0v-11.76h0.57v11.76zM43.77 0v-9.87h0.57v9.87zM44.34 0v-5.41h0.57v5.41zM44.91 0v-4.43h0.57v4.43zM45.47 0v-19.21h0.57v19.21zM46.04 0v-14.74h0.57v14.74zM46.61 0v-4.73h0.57v4.73zM47.18 0v-10.81h0.57v10.81zM47.75 0v-5.44h0.57v5.44zM48.32 0v-9.25h0.57v9.25zM48.88 0v-6.00h0.57v6.00zM49.45 0v-5.31h0.57v5.31zM50.02 0v-21.12h0.57v21.12zM50.59 0v-18.55h0.57v18.55zM51.16 0v-7.10h0.57v7.10zM51.73 0v-8.89h0.57v8.89zM52.29 0v-19.51h0.57v19.51zM52.86 0v-14.87h0.57v14.87zM53.43 0v-14.51h0.57v14.51zM54.00 0v-7.96h0.57v7.96zM54.57 0v-7.35h0.57v7.35zM55.14 0v-22.61h0.57v22.61zM55.71 0v-3.34h0.57v3.34zM56.27 0v-3.62h0.57v3.62zM56.84 0v-3.57h0.57v3.57zM57.41 0v-15.45h0.57v15.45zM57.98 0v-4.82h0.57v4.82zM58.55 0v-3.27h0.57v3.27zM59.12 0v-5.22h0.57v5.22zM59.68 0v-3.57h0.57v3.57zM60.25 0v-6.10h0.57v6.10zM60.82 0v-5.96h0.57v5.96zM61.39 0v-9.18h0.57v9.18zM61.96 0v-14.11h0.57v14.11zM62.53 0v-9.51h0.57v9.51zM63.09 0v-4.09h0.57v4.09zM63.66 0v-12.66h0.57v12.66zM64.23 0v-5.23h0.57v5.23zM64.80 0v-4.63h0.57v4.63zM65.37 0v-8.83h0.57v8.83zM65.94 0v-17.84h0.57v17.84zM66.51 0v-21.24h0.57v21.24zM67.07 0v-4.05h0.57v4.05zM67.64 0v-6.58h0.57v6.58zM68.21 0v-8.49h0.57v8.49zM68.78 0v-17.17h0.57v17.17zM69.35 0v-5.19h0.57v5.19zM69.92 0v-15.84h0.57v15.84zM70.48 0v-5.31h0.57v5.31zM71.05 0v-24.14h0.57v24.14zM71.62 0v-5.49h0.57v5.49zM72.19 0v-4.92h0.57v4.92zM72.76 0v-9.03h0.57v9.03zM73.33 0v-5.53h0.57v5.53zM73.89 0v-3.99h0.57v3.99zM74.46 0v-9.40h0.57v9.40zM75.03 0v-25.72h0.57v25.72zM75.60 0v-25.09h0.57v25.09zM76.17 0v-5.07h0.57v5.07zM76.74 0v-18.08h0.57v18.08zM77.31 0v-15.97h0.57v15.97zM77.87 0v-3.55h0.57v3.55zM78.44 0v-4.18h0.57v4.18zM79.01 0v-11.96h0.57v11.96zM79.58 0v-5.35h0.57v5.35zM80.15 0v-3.60h0.57v3.60zM80.72 0v-5.17h0.57v5.17zM81.28 0v-19.07h0.57v19.07zM81.85 0v-10.44h0.57v10.44zM82.42 0v-8.87h0.57v8.87zM82.99 0v-5.56h0.57v5.56zM83.56 0v-4.13h0.57v4.13zM84.13 0v-9.95h0.57v9.95zM84.69 0v-21.77h0.57v21.77zM85.26 0v-4.96h0.57v4.96zM85.83 0v-6.67h0.57v6.67zM86.40 0v-5.05h0.57v5.05zM86.97 0v-8.49h0.57v8.49zM87.54 0v-3.75h0.57v3.75zM88.11 0v-3.67h0.57v3.67zM88.67 0v-4.21h0.57v4.21zM89.24 0v-7.12h0.57v7.12zM89.81 0v-5.57h0.57v5.57zM90.38 0v-3.85h0.57v3.85zM90.95 0v-5.20h0.57v5.20zM91.52 0v-7.06h0.57v7.06zM92.08 0v-4.79h0.57v4.79zM92.65 0v-7.07h0.57v7.07zM93.22 0v-22.76h0.57v22.76zM93.79 0v-10.36h0.57v10.36zM94.36 0v-4.64h0.57v4.64zM94.93 0v-5.18h0.57v5.18zM95.49 0v-6.40h0.57v6.40zM96.06 0v-4.31h0.57v4.31zM96.63 0v-5.73h0.57v5.73zM97.20 0v-23.11h0.57v23.11zM97.77 0v-4.57h0.57v4.57zM98.34 0v-4.80h0.57v4.80zM98.91 0v-4.14h0.57v4.14zM99.47 0v-7.35h0.57v7.35zM100.04 0v-20.43h0.57v20.43zM100.61 0v-8.62h0.57v8.62zM101.18 0v-5.16h0.57v5.16zM101.75 0v-4.63h0.57v4.63zM102.32 0v-23.83h0.57v23.83zM102.88 0v-6.42h0.57v6.42zM103.45 0v-5.83h0.57v5.83zM104.02 0v-4.36h0.57v4.36zM104.59 0v-6.88h0.57v6.88zM105.16 0v-14.06h0.57v14.06zM105.73 0v-9.91h0.57v9.91zM106.29 0v-6.88h0.57v6.88zM106.86 0v-15.40h0.57v15.40zM107.43 0v-4.24h0.57v4.24z" fill="#0a0aff"/><path d="M-0.6 0H108.5M0 0.6V-46.5" stroke="#000" stroke-width="1.4" fill="none"/><path d="M6.45 0v4.6M31.65 0v4.6M56.85 0v4.6M82.05 0v4.6M107.25 0v4.6M0 0.00h-4.6M0 -9.70h-4.6M0 -19.40h-4.6M0 -29.10h-4.6M0 -38.80h-4.6" stroke="#000" stroke-width="1.3" fill="none"/></g><text x="0" y="0" font-size="12" text-anchor="middle" fill="#000" stroke="#000" stroke-width="0.18" transform="translate(84.50,315.40) scale(1,1.05)" >0</text><text x="0" y="0" font-size="12" text-anchor="middle" fill="#000" stroke="#000" stroke-width="0.18" transform="translate(102.00,297.90) scale(1,1.05)" >1</text><text x="0" y="0" font-size="12" text-anchor="middle" fill="#000" stroke="#000" stroke-width="0.18" transform="translate(119.50,280.40) scale(1,1.05)" >2</text><text x="0" y="0" font-size="12" text-anchor="middle" fill="#000" stroke="#000" stroke-width="0.18" transform="translate(137.00,262.90) scale(1,1.05)" >3</text><text x="0" y="0" font-size="12" text-anchor="middle" fill="#000" stroke="#000" stroke-width="0.18" transform="translate(154.50,245.40) scale(1,1.05)" >4</text><text x="0" y="0" font-size="12" text-anchor="middle" fill="#000" stroke="#000" stroke-width="0.18" transform="translate(36.00,293.50) scale(1,1.05)" >8</text><text x="0" y="0" font-size="12" text-anchor="middle" fill="#000" stroke="#000" stroke-width="0.18" transform="translate(42.40,300.20) scale(1,1.05)" >6</text><text x="0" y="0" font-size="12" text-anchor="middle" fill="#000" stroke="#000" stroke-width="0.18" transform="translate(48.70,306.20) scale(1,1.05)" >4</text><text x="0" y="0" font-size="12" text-anchor="middle" fill="#000" stroke="#000" stroke-width="0.18" transform="translate(55.30,312.90) scale(1,1.05)" >2</text><text x="0" y="0" font-size="12" text-anchor="middle" fill="#000" stroke="#000" stroke-width="0.18" transform="translate(61.30,318.20) scale(1,1.05)" >0</text><text x="0" y="0" font-size="11.7" text-anchor="start" fill="#000" stroke="#000" stroke-width="0.18" transform="translate(93.00,311.30) scale(1,1.05)" >Time (s)</text><polyline points="36.40,269.30 41.60,264.40 37.30,258.90 42.00,254.20 47.30,258.40 113.50,193.00" fill="none" stroke="#17a224" stroke-width="1.5" stroke-linejoin="round" /><line x1="41.30" y1="271.30" x2="117.40" y2="196.80" stroke="#17a224" stroke-width="1.5" /><line x1="55.30" y1="260.20" x2="118.40" y2="198.20" stroke="#000" stroke-width="1.3" /><text x="0" y="0" font-size="11.4" fill="#17a224" stroke="#17a224" stroke-width="0.18" transform="translate(48.0,254.2) rotate(-42.5) scale(1,1.05)">whisker</text><text x="0" y="0" font-size="11.8" text-anchor="middle" fill="#000" stroke="#000" stroke-width="0.18" transform="translate(11.40,272.70) rotate(-90) scale(1,1.05)">No. of CSs (norm.)</text><path d="M284.5 232.1h1.0M302.9 197.7h1.0M343.9 232.4h1.0M280.3 238.8h1.0M284.1 246.9h1.0M274.3 214.5h1.0M223.8 212.8h1.0M254.7 214.5h1.0M278.3 233.0h1.0M248.2 223.8h1.0M299.7 258.0h1.0M226.9 197.9h1.0M300.0 244.0h1.0M307.3 215.5h1.0M209.4 217.2h1.0M319.5 207.7h1.0M295.5 216.3h1.0M330.5 194.6h1.0M286.5 212.2h1.0M304.8 228.1h1.0M259.8 257.2h1.0M265.5 235.4h1.0M291.4 214.0h1.0M284.3 254.6h1.0M342.6 221.4h1.0M289.3 237.4h1.0M214.1 211.2h1.0M282.3 250.0h1.0M261.6 245.9h1.0M282.3 247.2h1.0M334.1 214.9h1.0M255.2 196.6h1.0M314.2 226.9h1.0M326.3 199.8h1.0M264.5 247.8h1.0M228.2 228.4h1.0M326.5 243.9h1.0M228.7 222.0h1.0M253.1 221.7h1.0M209.8 252.0h1.0M279.6 249.3h1.0M296.3 198.0h1.0M250.6 203.7h1.0M242.2 243.1h1.0M312.0 194.9h1.0M309.5 195.9h1.0M200.9 252.1h1.0M211.8 233.1h1.0M316.8 197.0h1.0M318.9 216.2h1.0M321.8 244.4h1.0M268.1 232.9h1.0M260.6 199.6h1.0M285.2 233.3h1.0M208.6 224.6h1.0M234.6 219.0h1.0M287.9 211.2h1.0M249.3 195.5h1.0M303.2 244.8h1.0M343.7 223.5h1.0M255.7 217.2h1.0M289.1 230.9h1.0M210.1 222.9h1.0M333.5 213.9h1.0M287.9 256.7h1.0M215.6 254.9h1.0M247.3 226.6h1.0M243.5 212.3h1.0M263.8 235.9h1.0M281.5 199.6h1.0M304.2 223.1h1.0M210.2 218.0h1.0M335.0 239.3h1.0M332.4 213.0h1.0M216.3 197.2h1.0M228.7 251.2h1.0M204.3 237.9h1.0M203.6 193.9h1.0M338.4 242.6h1.0M327.0 210.9h1.0M218.7 246.3h1.0M310.2 210.4h1.0M301.2 233.7h1.0M204.9 256.3h1.0M222.0 234.7h1.0M243.6 224.9h1.0M314.8 202.0h1.0M239.1 221.1h1.0M245.7 236.0h1.0M323.2 246.7h1.0M291.1 228.2h1.0M295.3 212.2h1.0M301.3 205.1h1.0M334.3 243.0h1.0M306.9 223.9h1.0M285.8 223.0h1.0M295.3 198.9h1.0M272.6 220.1h1.0M327.0 199.1h1.0M325.1 254.7h1.0M338.6 211.6h1.0M242.4 203.7h1.0M314.6 239.5h1.0M231.7 238.9h1.0M235.0 244.2h1.0M207.4 250.5h1.0M259.8 250.9h1.0M274.1 201.6h1.0M311.1 240.0h1.0M202.3 203.0h1.0M218.8 220.0h1.0M278.8 231.6h1.0M332.8 224.4h1.0M277.7 238.4h1.0M338.6 253.0h1.0M276.2 218.3h1.0M213.9 204.2h1.0M227.5 223.6h1.0M286.7 200.4h1.0M274.8 250.1h1.0M327.8 249.1h1.0M320.0 224.2h1.0M271.2 198.5h1.0M340.4 221.0h1.0M200.5 249.5h1.0M307.3 236.3h1.0M230.6 198.1h1.0M283.8 207.3h1.0M277.3 239.1h1.0M252.1 246.7h1.0M326.8 257.0h1.0M203.7 224.8h1.0M307.6 215.8h1.0M305.3 202.5h1.0M271.4 258.0h1.0M255.1 198.8h1.0M279.4 204.8h1.0M273.6 250.9h1.0M340.0 238.8h1.0M300.1 220.9h1.0M293.4 228.1h1.0M257.6 215.4h1.0M267.1 194.4h1.0M306.0 232.9h1.0M248.3 240.7h1.0M306.5 224.4h1.0M278.2 199.9h1.0M204.6 246.4h1.0M239.5 240.8h1.0M257.5 243.2h1.0M325.6 197.9h1.0M220.4 222.5h1.0M212.4 194.3h1.0M259.1 199.3h1.0M334.0 247.2h1.0M202.3 233.4h1.0M304.6 199.1h1.0M202.3 207.6h1.0M310.1 201.4h1.0M220.5 239.8h1.0M266.0 228.1h1.0M213.9 201.5h1.0M255.0 227.0h1.0M258.9 247.1h1.0M304.9 240.3h1.0M294.8 215.4h1.0M284.9 208.0h1.0M331.3 218.6h1.0M288.0 241.0h1.0M304.0 202.3h1.0M204.8 212.1h1.0M275.8 214.0h1.0M237.9 242.1h1.0M217.4 206.2h1.0M266.8 200.7h1.0M319.4 232.7h1.0M330.5 212.0h1.0M274.1 225.2h1.0M321.1 220.0h1.0M291.6 255.5h1.0M263.2 198.8h1.0M301.4 210.9h1.0M293.3 257.7h1.0M330.3 202.9h1.0M211.0 253.5h1.0M249.4 211.6h1.0M273.5 210.7h1.0M284.0 208.1h1.0M312.0 251.5h1.0M320.0 254.8h1.0M234.3 215.9h1.0M260.4 198.4h1.0M274.0 203.6h1.0M324.1 204.2h1.0M232.7 206.5h1.0M303.4 226.6h1.0M243.4 230.3h1.0M282.5 250.6h1.0M216.1 228.9h1.0M235.6 204.6h1.0M336.1 244.2h1.0M232.4 245.6h1.0M225.4 205.0h1.0M236.9 254.5h1.0M328.5 240.7h1.0M239.9 250.9h1.0M293.1 203.3h1.0M333.0 220.0h1.0M325.5 194.3h1.0M335.1 209.9h1.0M326.2 229.8h1.0M201.3 219.3h1.0M265.5 252.9h1.0M300.8 199.3h1.0M256.9 257.6h1.0M304.6 222.5h1.0M236.5 253.4h1.0M219.1 219.5h1.0M266.9 232.3h1.0M321.8 241.3h1.0M284.0 245.4h1.0M308.4 213.4h1.0M213.8 252.7h1.0M304.6 207.2h1.0M278.3 221.1h1.0M244.9 201.6h1.0M305.7 210.6h1.0M208.8 218.8h1.0M246.2 249.7h1.0M228.2 196.5h1.0M338.8 225.1h1.0M238.8 246.9h1.0M268.3 218.5h1.0M270.6 233.4h1.0M198.6 255.9h1.0M265.1 232.4h1.0M316.8 235.5h1.0M201.4 238.0h1.0M248.8 227.2h1.0M312.7 199.7h1.0M218.8 207.6h1.0M343.3 230.7h1.0M280.5 242.8h1.0M336.2 257.1h1.0M233.2 257.9h1.0M344.0 221.5h1.0M198.9 239.0h1.0M228.1 196.9h1.0M272.4 252.0h1.0M211.2 228.3h1.0M321.9 228.6h1.0M334.7 252.5h1.0M212.7 209.1h1.0M304.6 204.5h1.0M271.6 234.0h1.0M211.2 217.4h1.0M326.3 257.7h1.0M270.7 198.9h1.0M219.7 197.5h1.0M296.9 241.3h1.0M258.5 233.7h1.0M344.3 211.6h1.0M276.6 229.0h1.0M232.4 205.9h1.0M313.4 226.4h1.0M335.4 215.1h1.0M252.8 239.8h1.0M313.7 232.2h1.0M342.5 238.3h1.0M266.5 215.9h1.0M337.1 227.9h1.0M299.3 193.8h1.0M276.5 225.8h1.0M326.1 209.9h1.0M286.6 237.0h1.0M311.7 238.5h1.0M270.9 206.6h1.0M229.7 231.6h1.0M198.8 234.5h1.0M318.0 207.6h1.0M293.7 206.4h1.0M339.4 237.5h1.0M335.5 211.4h1.0M203.9 237.7h1.0M327.5 248.5h1.0M335.3 204.2h1.0M255.9 257.7h1.0M285.1 255.5h1.0M254.6 204.5h1.0M299.9 241.9h1.0M312.3 243.5h1.0M343.3 253.9h1.0M300.5 215.0h1.0M268.9 198.9h1.0M258.7 216.7h1.0M250.0 246.1h1.0M208.7 220.3h1.0M250.3 215.2h1.0M298.7 231.1h1.0M327.8 243.1h1.0M311.1 251.6h1.0M335.6 231.9h1.0M233.8 208.5h1.0M290.5 234.8h1.0M227.8 258.0h1.0M283.1 194.4h1.0M238.2 234.8h1.0M239.1 232.7h1.0M280.3 255.6h1.0M200.8 195.1h1.0M239.5 246.6h1.0M253.0 220.2h1.0M322.7 256.5h1.0M318.0 250.0h1.0M277.9 221.8h1.0M256.2 199.7h1.0M260.4 194.5h1.0M267.6 220.0h1.0M200.6 229.8h1.0M253.2 232.1h1.0M327.2 251.9h1.0M252.8 230.6h1.0M339.6 257.2h1.0M238.3 211.3h1.0M222.2 255.5h1.0M274.8 208.5h1.0M325.7 250.7h1.0M240.2 231.0h1.0M252.8 247.3h1.0M336.0 252.1h1.0M236.0 196.6h1.0M228.3 228.9h1.0M309.1 226.7h1.0M326.2 217.0h1.0M273.8 224.3h1.0M319.9 230.7h1.0M266.0 217.5h1.0M338.8 222.5h1.0M202.8 251.5h1.0M342.7 240.9h1.0M250.6 235.9h1.0M215.8 203.6h1.0M248.0 209.2h1.0M272.2 239.4h1.0M284.4 221.2h1.0M322.1 216.4h1.0M222.5 248.9h1.0M270.7 198.9h1.0M298.1 197.8h1.0M316.8 221.2h1.0M282.3 242.9h1.0M293.3 255.2h1.0M249.5 207.3h1.0M310.3 255.0h1.0M289.5 203.4h1.0M279.8 208.3h1.0M265.0 251.5h1.0M233.5 256.4h1.0M293.7 232.7h1.0M223.7 220.5h1.0M329.0 235.9h1.0M331.9 243.6h1.0M332.4 213.6h1.0M238.6 202.1h1.0M216.7 238.9h1.0M255.9 206.1h1.0M241.7 210.4h1.0M254.0 229.6h1.0M340.2 227.5h1.0M341.1 243.3h1.0M280.8 227.5h1.0M219.9 228.7h1.0M243.9 193.8h1.0M254.3 197.8h1.0M269.8 224.4h1.0M217.8 252.6h1.0M264.5 214.9h1.0M290.2 200.4h1.0M262.5 229.2h1.0M220.1 201.9h1.0M220.8 249.0h1.0M291.2 249.5h1.0M286.4 230.6h1.0M264.1 214.7h1.0M272.1 204.4h1.0M337.6 223.6h1.0M231.4 248.8h1.0M331.4 205.6h1.0M327.6 251.6h1.0M277.2 215.1h1.0M200.7 236.0h1.0M277.5 251.6h1.0M295.0 250.1h1.0M299.5 238.6h1.0M337.2 219.4h1.0M343.8 231.4h1.0M235.2 247.5h1.0M309.8 209.8h1.0M268.3 204.6h1.0M310.3 241.1h1.0M299.4 209.4h1.0M217.8 228.9h1.0M264.4 209.9h1.0M332.1 234.8h1.0M259.3 239.0h1.0M227.6 243.0h1.0M217.3 231.1h1.0M293.1 218.6h1.0M339.7 257.3h1.0M290.9 206.6h1.0M232.4 245.7h1.0M252.1 218.3h1.0M274.1 215.5h1.0M215.8 214.2h1.0M253.8 215.3h1.0M204.3 244.9h1.0M329.1 203.6h1.0M306.2 239.1h1.0M310.6 246.4h1.0M253.8 215.6h1.0M319.2 241.0h1.0M264.0 222.9h1.0M287.3 202.5h1.0M217.9 231.4h1.0M285.5 241.6h1.0M209.4 244.2h1.0M206.9 212.4h1.0M201.0 205.0h1.0M294.2 241.8h1.0M327.0 249.8h1.0M329.1 207.6h1.0M276.5 205.2h1.0M295.9 209.7h1.0M332.5 245.3h1.0M312.7 253.9h1.0M239.4 252.2h1.0M283.1 248.0h1.0M301.6 229.7h1.0M204.7 251.8h1.0M291.5 206.8h1.0M271.5 218.6h1.0M336.7 213.7h1.0M202.3 257.8h1.0M324.3 204.4h1.0M295.2 200.8h1.0M322.7 220.1h1.0M231.9 233.1h1.0M321.2 234.1h1.0M211.5 235.5h1.0M252.4 251.4h1.0M331.2 246.1h1.0M288.8 245.8h1.0M248.6 234.8h1.0M340.7 202.0h1.0M312.0 231.7h1.0M206.2 244.2h1.0M304.6 207.6h1.0M343.6 239.3h1.0M312.4 225.8h1.0M221.2 211.6h1.0M315.2 250.5h1.0M244.3 247.0h1.0M216.7 214.6h1.0M312.4 239.1h1.0M223.3 256.1h1.0M295.5 245.7h1.0M342.4 247.7h1.0M285.6 213.9h1.0M255.2 248.7h1.0M342.8 255.8h1.0M289.3 214.2h1.0M270.2 239.8h1.0M222.0 234.2h1.0M205.7 214.3h1.0M274.6 253.0h1.0M321.6 228.0h1.0M228.6 224.7h1.0M237.0 257.5h1.0M200.1 221.9h1.0M238.6 229.0h1.0M285.7 223.1h1.0M200.2 255.8h1.0M244.4 221.9h1.0M264.5 211.6h1.0M238.5 201.3h1.0M333.8 241.8h1.0M256.5 250.8h1.0M205.1 237.4h1.0M312.0 250.8h1.0M299.9 201.9h1.0M297.0 221.7h1.0M258.6 241.4h1.0M296.3 223.8h1.0M226.2 251.4h1.0M275.2 211.9h1.0M262.1 236.5h1.0M239.6 223.1h1.0M304.3 235.6h1.0M275.7 236.4h1.0M247.4 256.1h1.0M343.1 247.4h1.0M298.6 197.7h1.0M249.9 211.5h1.0M334.5 234.7h1.0M295.7 232.9h1.0M344.7 227.0h1.0M232.5 256.9h1.0M237.3 235.1h1.0M279.6 255.2h1.0M310.6 257.4h1.0M313.4 234.1h1.0M218.6 204.1h1.0M251.2 216.4h1.0M224.8 235.2h1.0M329.5 228.9h1.0M309.7 217.7h1.0M254.2 235.0h1.0M220.8 239.9h1.0M299.8 215.7h1.0M334.8 245.8h1.0M303.4 223.1h1.0M281.3 234.2h1.0M344.0 235.1h1.0M236.4 248.3h1.0M285.8 222.6h1.0M287.6 224.5h1.0M255.7 228.0h1.0M323.5 251.1h1.0M335.4 236.8h1.0M200.1 248.5h1.0M201.5 250.3h1.0M257.1 224.0h1.0M253.8 243.2h1.0M319.3 253.0h1.0M241.9 258.0h1.0M253.4 229.0h1.0M284.2 203.9h1.0M277.3 212.8h1.0M227.6 195.9h1.0M286.0 198.0h1.0M302.9 235.3h1.0M304.3 214.4h1.0M321.7 251.2h1.0M297.4 210.0h1.0M328.5 225.9h1.0M241.5 213.9h1.0M250.1 224.1h1.0M322.3 208.2h1.0M271.0 201.3h1.0M220.6 223.0h1.0M256.1 212.6h1.0M321.0 194.8h1.0M205.8 198.4h1.0M200.4 215.4h1.0M236.0 241.8h1.0M248.0 201.0h1.0M271.5 254.5h1.0M274.5 204.2h1.0M316.3 199.4h1.0M236.4 241.7h1.0M303.5 226.5h1.0M258.3 198.6h1.0M272.3 221.8h1.0M221.1 240.5h1.0M233.8 210.2h1.0M244.7 229.5h1.0M274.7 241.6h1.0M258.3 221.2h1.0M259.6 194.1h1.0M330.6 213.0h1.0M310.5 242.8h1.0M321.5 239.2h1.0M326.3 211.9h1.0M299.0 204.2h1.0M344.7 254.9h1.0M260.2 231.5h1.0M234.3 233.2h1.0M291.7 197.7h1.0M208.9 251.5h1.0M202.8 222.1h1.0M303.5 209.5h1.0M241.7 243.7h1.0M257.1 200.9h1.0M277.9 213.1h1.0M237.2 250.0h1.0M226.3 245.1h1.0M237.4 254.9h1.0M291.6 204.8h1.0M328.0 208.8h1.0M230.6 248.8h1.0M336.5 196.6h1.0M332.9 224.4h1.0M275.2 194.3h1.0M330.8 200.6h1.0M314.4 220.2h1.0M233.8 253.8h1.0M321.3 244.2h1.0M218.7 229.2h1.0M218.8 228.8h1.0M331.9 231.1h1.0M322.8 214.7h1.0M274.7 218.7h1.0M291.3 237.0h1.0M243.2 224.8h1.0M309.5 210.7h1.0M241.2 239.1h1.0M330.6 205.9h1.0M297.0 207.3h1.0M200.3 199.1h1.0M221.4 257.8h1.0M339.7 204.6h1.0M263.0 245.2h1.0M314.9 251.6h1.0M216.3 217.9h1.0M288.7 219.7h1.0M237.4 218.2h1.0M250.3 252.5h1.0M302.8 216.7h1.0M277.8 216.7h1.0M290.9 246.3h1.0M253.2 213.7h1.0M295.8 195.9h1.0M245.3 207.7h1.0M270.8 220.0h1.0M231.1 206.4h1.0M294.8 229.9h1.0M208.8 252.3h1.0M206.3 213.7h1.0M225.9 230.6h1.0M217.4 199.2h1.0M205.8 227.2h1.0M207.5 231.4h1.0M288.8 236.0h1.0M279.5 203.5h1.0M340.4 228.2h1.0M202.3 238.2h1.0M206.8 215.1h1.0M265.1 246.2h1.0M287.6 244.8h1.0M240.8 249.4h1.0M253.4 246.3h1.0M235.9 214.0h1.0M212.4 246.9h1.0M298.6 235.9h1.0M251.6 224.2h1.0M310.3 235.0h1.0M206.3 214.0h1.0M325.1 238.7h1.0M341.4 218.1h1.0M214.3 226.8h1.0M262.2 226.9h1.0M334.3 242.8h1.0M248.3 233.7h1.0M297.4 214.4h1.0M275.0 243.8h1.0M222.4 215.3h1.0M252.1 235.3h1.0M264.0 194.1h1.0M236.1 256.5h1.0M284.5 215.7h1.0M218.9 197.2h1.0M201.6 232.1h1.0M268.0 231.6h1.0M246.3 251.9h1.0M301.0 201.8h1.0M227.2 219.7h1.0M319.2 204.5h1.0M213.4 207.8h1.0M260.5 247.7h1.0M233.3 235.4h1.0M259.5 234.3h1.0M268.1 207.5h1.0M258.7 211.7h1.0M263.2 199.5h1.0M284.4 236.2h1.0M343.4 198.4h1.0M272.9 230.8h1.0M302.0 194.1h1.0M202.1 226.1h1.0M280.3 227.5h1.0M296.0 198.3h1.0M228.9 217.2h1.0M244.8 256.7h1.0M322.7 242.9h1.0M291.6 246.7h1.0M314.8 212.1h1.0M252.9 243.8h1.0M344.2 238.7h1.0M339.0 239.9h1.0M295.9 198.8h1.0M339.0 228.8h1.0M258.8 209.2h1.0M256.3 198.4h1.0M300.7 238.1h1.0M344.4 232.5h1.0M321.5 247.4h1.0M299.3 199.5h1.0M298.5 208.9h1.0M243.5 215.8h1.0M280.7 243.7h1.0M221.6 238.3h1.0M332.5 215.3h1.0M225.7 234.4h1.0M222.7 204.3h1.0M344.3 218.2h1.0M318.5 227.6h1.0M198.5 228.9h1.0M243.7 203.6h1.0M218.0 233.5h1.0M236.8 205.7h1.0M308.2 216.7h1.0M229.1 198.5h1.0M241.0 225.4h1.0M248.9 242.8h1.0M266.4 193.9h1.0M198.6 213.9h1.0M316.9 245.6h1.0M247.3 255.7h1.0M275.9 234.9h1.0M301.5 249.6h1.0M303.8 203.6h1.0M221.5 216.3h1.0M251.7 257.5h1.0M259.8 209.7h1.0M229.4 209.2h1.0M285.8 195.1h1.0M236.2 247.5h1.0M212.5 249.7h1.0M254.8 241.7h1.0M278.4 195.0h1.0M336.8 208.5h1.0M214.9 218.4h1.0M332.6 222.0h1.0M313.7 214.5h1.0M243.8 197.8h1.0M230.7 255.1h1.0M261.2 249.1h1.0M209.3 236.3h1.0M280.2 207.6h1.0M315.4 231.3h1.0M253.1 220.4h1.0M238.5 225.0h1.0M325.0 235.6h1.0M277.3 200.9h1.0M206.1 207.4h1.0M280.6 218.9h1.0M316.1 207.6h1.0M339.0 197.5h1.0M296.5 224.5h1.0M323.2 198.9h1.0M313.8 241.4h1.0M277.0 242.4h1.0M295.7 230.8h1.0M245.5 248.0h1.0M235.3 228.9h1.0M198.7 205.6h1.0M229.5 252.8h1.0M219.6 244.7h1.0M226.3 230.5h1.0M285.2 241.9h1.0M327.0 198.3h1.0M244.7 231.9h1.0M319.9 238.2h1.0M338.1 223.4h1.0M315.6 217.3h1.0M343.2 202.4h1.0M329.8 205.7h1.0M282.0 251.6h1.0M307.9 253.3h1.0M314.8 240.7h1.0M341.0 240.1h1.0M314.5 195.4h1.0M334.9 253.0h1.0M258.5 199.2h1.0M265.4 215.9h1.0M228.5 238.9h1.0M288.2 232.9h1.0M340.2 206.8h1.0M328.7 235.3h1.0M236.6 256.9h1.0M285.0 194.4h1.0M207.0 231.2h1.0M342.1 197.0h1.0M206.6 239.9h1.0M289.6 246.6h1.0M206.0 228.3h1.0M259.2 208.6h1.0M332.5 251.0h1.0M294.2 246.8h1.0M315.8 229.2h1.0M338.7 197.5h1.0M328.7 220.4h1.0M240.6 226.9h1.0M329.5 235.3h1.0M305.9 237.4h1.0M248.7 244.5h1.0M285.3 202.6h1.0M223.4 200.6h1.0M261.9 203.9h1.0M282.0 201.0h1.0M310.3 249.4h1.0M316.8 211.5h1.0M299.9 216.7h1.0M254.5 203.0h1.0M314.3 221.9h1.0M227.4 211.7h1.0M229.2 226.3h1.0M323.0 258.0h1.0M274.0 203.5h1.0M316.4 245.6h1.0M212.9 237.6h1.0M286.9 230.1h1.0M214.2 251.8h1.0M274.9 226.8h1.0M230.5 211.5h1.0M285.1 209.6h1.0M295.6 242.4h1.0M341.1 240.4h1.0M270.6 242.2h1.0M252.2 255.0h1.0M254.4 211.5h1.0M331.7 236.0h1.0M221.0 214.1h1.0M242.0 195.3h1.0M203.5 253.2h1.0M286.3 202.4h1.0M269.4 247.8h1.0M223.1 211.0h1.0M271.0 220.6h1.0M343.9 217.6h1.0M287.2 200.7h1.0M231.1 250.6h1.0M233.3 194.1h1.0M308.6 255.7h1.0M245.3 212.6h1.0M271.6 226.2h1.0M254.3 237.2h1.0M318.6 194.0h1.0M257.9 226.3h1.0M319.3 198.1h1.0M340.4 215.0h1.0M211.8 218.3h1.0M208.0 215.1h1.0M202.5 214.6h1.0M256.8 235.9h1.0M330.1 229.9h1.0M318.0 207.6h1.0M223.2 246.9h1.0M315.1 221.9h1.0M311.3 197.2h1.0M322.6 211.0h1.0M263.8 199.4h1.0M324.7 248.5h1.0M208.7 232.9h1.0M230.8 222.8h1.0M279.7 255.3h1.0M265.4 201.1h1.0M262.6 230.0h1.0M199.5 253.3h1.0M311.5 231.5h1.0M239.3 219.1h1.0M253.0 253.8h1.0M229.4 245.5h1.0M323.8 209.3h1.0M338.1 249.8h1.0M294.1 251.6h1.0M267.8 202.5h1.0M253.2 216.4h1.0M336.6 229.1h1.0M294.8 201.2h1.0M253.4 248.6h1.0M209.8 198.3h1.0M249.5 212.5h1.0M275.4 254.5h1.0M311.8 238.5h1.0M268.8 224.2h1.0M275.4 248.1h1.0M315.1 215.4h1.0M210.8 215.5h1.0M263.7 257.5h1.0M225.4 196.9h1.0M280.5 199.0h1.0M284.0 211.3h1.0M304.8 220.2h1.0M237.4 238.4h1.0M246.4 218.1h1.0M315.2 200.8h1.0M317.2 222.4h1.0M328.5 207.6h1.0M227.8 205.3h1.0M231.4 205.6h1.0M278.7 245.5h1.0M219.8 224.3h1.0M332.8 228.6h1.0M331.9 242.5h1.0M199.2 213.7h1.0M324.7 218.4h1.0M321.3 229.7h1.0M204.5 207.9h1.0M217.0 222.8h1.0M317.4 226.3h1.0M199.8 246.6h1.0M199.3 251.3h1.0M293.5 219.4h1.0M249.8 211.6h1.0M255.7 226.7h1.0M342.6 209.2h1.0M319.4 250.7h1.0M291.4 251.4h1.0M289.9 249.8h1.0M215.4 220.2h1.0M306.6 253.3h1.0M228.3 233.6h1.0M268.5 210.9h1.0M271.7 226.9h1.0M211.6 238.9h1.0M283.0 236.6h1.0M232.8 195.3h1.0M277.5 257.6h1.0M283.9 208.5h1.0M296.0 195.8h1.0M215.6 200.1h1.0M225.3 253.2h1.0M284.0 237.3h1.0M256.6 198.9h1.0M292.1 214.3h1.0M228.0 197.8h1.0M329.9 241.4h1.0M252.5 207.6h1.0M341.8 255.7h1.0M278.5 219.9h1.0M319.0 230.4h1.0M248.8 256.3h1.0M333.4 210.6h1.0M341.6 248.4h1.0M343.1 255.3h1.0M243.5 245.3h1.0M225.8 205.2h1.0M235.6 213.1h1.0M246.4 248.0h1.0M291.3 194.7h1.0M318.8 204.2h1.0M313.1 209.8h1.0M338.5 234.9h1.0M288.7 211.6h1.0M323.0 198.7h1.0M319.5 229.8h1.0M258.2 219.7h1.0M201.9 225.4h1.0M268.1 217.6h1.0M227.7 231.2h1.0M264.6 207.6h1.0M231.9 204.8h1.0M201.9 239.8h1.0M225.1 237.5h1.0M253.5 200.3h1.0M230.2 240.3h1.0M245.9 229.9h1.0M210.9 254.9h1.0M265.3 245.4h1.0M230.8 254.3h1.0M232.4 237.8h1.0M329.8 234.4h1.0M214.4 249.7h1.0M313.1 237.5h1.0M289.3 197.2h1.0M242.5 215.1h1.0M232.5 245.4h1.0M217.1 210.5h1.0M224.0 204.8h1.0M326.4 196.1h1.0M205.1 243.3h1.0M242.3 212.5h1.0M222.4 232.7h1.0M214.7 221.3h1.0M291.6 193.8h1.0M262.7 202.4h1.0M203.9 244.8h1.0M202.0 205.6h1.0M338.4 196.7h1.0M262.6 239.2h1.0M281.5 256.1h1.0M261.1 250.6h1.0M236.6 218.6h1.0M344.1 221.1h1.0M286.5 248.3h1.0M326.8 252.8h1.0M201.8 217.1h1.0M335.7 217.3h1.0M231.9 209.6h1.0M321.8 230.1h1.0M254.5 205.9h1.0M237.7 209.7h1.0M270.4 197.3h1.0M276.9 232.2h1.0M308.1 228.9h1.0M309.8 204.6h1.0M320.1 207.4h1.0M248.9 232.6h1.0M213.8 246.3h1.0M317.2 239.9h1.0M246.7 205.5h1.0M226.5 208.2h1.0M290.7 209.0h1.0M281.1 243.2h1.0M327.8 241.8h1.0M246.4 240.5h1.0M337.5 235.8h1.0M210.6 228.0h1.0M267.7 194.7h1.0M240.9 248.7h1.0M267.5 253.1h1.0M323.3 224.2h1.0M276.9 205.5h1.0M294.0 203.1h1.0M277.0 224.6h1.0M300.3 239.3h1.0M333.5 251.2h1.0M321.4 203.1h1.0M263.4 239.0h1.0M259.9 193.8h1.0M284.6 200.7h1.0M201.9 204.7h1.0M232.0 208.0h1.0M257.7 241.8h1.0M287.0 219.5h1.0M253.8 223.3h1.0M248.9 250.8h1.0M256.5 241.8h1.0M279.6 222.0h1.0M284.9 244.0h1.0M267.8 236.4h1.0M240.1 237.2h1.0M232.0 212.0h1.0M335.0 238.4h1.0M292.1 213.0h1.0M282.4 212.9h1.0M230.4 235.1h1.0M217.9 195.6h1.0M295.4 216.7h1.0M248.3 234.4h1.0M327.0 235.9h1.0M216.7 242.7h1.0M278.3 253.6h1.0M214.0 216.5h1.0M210.5 213.1h1.0M265.9 222.5h1.0M249.2 241.3h1.0M334.8 230.8h1.0M265.7 245.3h1.0M288.3 233.2h1.0M235.4 229.6h1.0M299.9 201.7h1.0M284.6 232.5h1.0M282.0 238.7h1.0M334.2 254.7h1.0M335.4 247.3h1.0M221.8 240.0h1.0M303.5 227.6h1.0M264.4 218.1h1.0M253.6 219.8h1.0M228.0 245.9h1.0M284.0 256.2h1.0M273.5 255.7h1.0M338.2 200.1h1.0M275.9 234.2h1.0M332.1 220.7h1.0M310.0 209.9h1.0M250.5 219.8h1.0M285.9 210.7h1.0M222.3 195.4h1.0M223.0 249.7h1.0M323.2 213.5h1.0M264.8 219.7h1.0M280.7 209.1h1.0M204.4 229.6h1.0M339.4 247.1h1.0M288.4 201.4h1.0M259.5 225.5h1.0M342.9 233.6h1.0M302.9 224.1h1.0M307.4 205.2h1.0M342.1 254.7h1.0M296.9 220.0h1.0M323.4 194.3h1.0M233.9 233.3h1.0M319.1 211.6h1.0M300.2 252.2h1.0M314.8 226.6h1.0M315.4 250.0h1.0M265.5 208.9h1.0M248.2 217.5h1.0M338.6 194.2h1.0M289.6 205.3h1.0M223.6 217.8h1.0M260.9 242.8h1.0M236.9 238.0h1.0M205.6 216.1h1.0M245.0 202.9h1.0M275.4 216.1h1.0M240.5 211.6h1.0M311.9 218.1h1.0M298.4 238.8h1.0M318.0 247.0h1.0M298.5 226.7h1.0M247.7 254.9h1.0M210.3 200.3h1.0M213.5 219.3h1.0M328.3 254.0h1.0M298.5 253.8h1.0M232.9 229.2h1.0M247.7 229.2h1.0M327.9 204.1h1.0M273.7 198.8h1.0M216.0 216.0h1.0M272.1 195.6h1.0M320.5 194.4h1.0M311.3 212.7h1.0M251.1 246.0h1.0M203.0 223.6h1.0M221.1 241.7h1.0M305.7 207.1h1.0M315.2 203.5h1.0M220.8 204.6h1.0M259.1 253.8h1.0M239.4 222.0h1.0M276.8 248.6h1.0M228.5 215.3h1.0M219.6 254.3h1.0M307.5 226.0h1.0M250.6 231.5h1.0M251.2 216.7h1.0M299.1 197.9h1.0M213.2 205.2h1.0M344.6 203.9h1.0M260.5 220.2h1.0M267.3 238.0h1.0M305.2 248.0h1.0M228.8 256.3h1.0M293.1 238.7h1.0M246.7 230.0h1.0M201.0 249.0h1.0M253.7 235.8h1.0M280.2 231.3h1.0M237.5 239.5h1.0M228.6 251.1h1.0M267.8 252.6h1.0M203.3 196.4h1.0M207.8 226.1h1.0M211.5 228.5h1.0M218.5 200.4h1.0M290.1 252.4h1.0M301.0 197.5h1.0M277.1 254.0h1.0M228.3 253.2h1.0M321.6 243.8h1.0M286.3 216.3h1.0M215.1 202.9h1.0M208.0 251.2h1.0M306.3 220.4h1.0M325.2 227.9h1.0M298.6 196.9h1.0M336.3 211.3h1.0M252.2 218.4h1.0M266.7 236.5h1.0M237.6 231.4h1.0M267.4 208.5h1.0M317.4 201.9h1.0M283.4 210.6h1.0M311.4 210.6h1.0M294.0 221.0h1.0M286.7 228.8h1.0M263.8 240.9h1.0M316.2 196.1h1.0M208.5 226.5h1.0M309.8 241.2h1.0M301.8 215.6h1.0M275.5 230.0h1.0M213.0 236.4h1.0M202.5 227.2h1.0M263.4 225.0h1.0M322.4 239.6h1.0M286.2 224.4h1.0M297.6 235.5h1.0M235.7 221.9h1.0M222.6 254.0h1.0M262.6 230.3h1.0M327.7 221.4h1.0M258.8 197.1h1.0M267.5 217.2h1.0M279.5 238.2h1.0M277.4 210.8h1.0M326.5 241.3h1.0M228.4 249.6h1.0M260.3 199.6h1.0M283.0 229.0h1.0M286.4 237.5h1.0M244.6 252.0h1.0M210.0 195.4h1.0M308.3 202.1h1.0M283.9 205.0h1.0M249.1 216.0h1.0M274.7 202.4h1.0M291.8 233.8h1.0M236.0 257.5h1.0M266.4 195.8h1.0M338.7 220.6h1.0M281.9 243.3h1.0M319.6 239.3h1.0M332.8 253.8h1.0M341.9 229.7h1.0M245.5 215.7h1.0M293.4 240.1h1.0M290.9 198.2h1.0M239.2 219.9h1.0M308.7 232.0h1.0M302.8 254.7h1.0M297.3 242.5h1.0M239.6 240.5h1.0M325.8 238.1h1.0M240.8 253.5h1.0M255.0 231.2h1.0M252.3 223.7h1.0M321.3 232.1h1.0M329.4 248.7h1.0M209.2 251.9h1.0M336.5 208.0h1.0M315.6 237.3h1.0M292.4 204.8h1.0M328.1 217.5h1.0M267.2 195.6h1.0M226.5 254.8h1.0M241.4 254.2h1.0M227.7 240.4h1.0M263.2 236.8h1.0M199.3 232.8h1.0M268.7 212.6h1.0M292.9 203.7h1.0M238.6 198.8h1.0M293.4 201.0h1.0M329.9 256.7h1.0M230.8 252.3h1.0M200.0 237.4h1.0M309.1 245.0h1.0M288.5 206.0h1.0M318.4 243.1h1.0M249.1 218.1h1.0M244.4 239.8h1.0M211.6 244.2h1.0M270.7 222.1h1.0M262.6 218.6h1.0M250.6 224.2h1.0M214.5 211.1h1.0M278.9 222.8h1.0M204.2 224.6h1.0M265.8 214.8h1.0M206.7 222.8h1.0M327.6 207.5h1.0M205.4 206.1h1.0M262.3 231.0h1.0M262.9 243.6h1.0M295.6 250.5h1.0M342.7 250.5h1.0M230.3 205.8h1.0M304.3 254.4h1.0M323.0 242.8h1.0M234.0 224.9h1.0M285.1 237.2h1.0M286.3 236.9h1.0M228.1 224.1h1.0M267.0 200.1h1.0M225.1 235.3h1.0M265.4 222.8h1.0M335.2 250.6h1.0M279.7 233.3h1.0M314.4 256.7h1.0M287.7 224.2h1.0M211.4 242.2h1.0M205.2 212.5h1.0M226.7 249.2h1.0M290.6 230.7h1.0M200.0 209.1h1.0M335.3 202.3h1.0M254.3 211.7h1.0M219.0 201.9h1.0M308.6 223.7h1.0M239.9 245.2h1.0M264.6 235.4h1.0M219.6 194.3h1.0M243.7 196.4h1.0M325.1 220.1h1.0M215.4 243.2h1.0M236.5 244.6h1.0M289.0 246.0h1.0M214.9 243.4h1.0M228.4 254.4h1.0M315.5 194.6h1.0M235.9 252.7h1.0M282.2 220.7h1.0M290.1 199.5h1.0M273.2 221.6h1.0M344.8 194.0h1.0M290.9 220.5h1.0M256.3 227.7h1.0M309.8 205.5h1.0M294.8 230.8h1.0M211.7 226.9h1.0M284.2 225.6h1.0M228.3 220.3h1.0M243.0 240.4h1.0M227.1 201.3h1.0M235.1 232.1h1.0M205.0 199.4h1.0M249.7 210.7h1.0M321.0 238.3h1.0M284.2 222.6h1.0M227.2 217.5h1.0M338.3 249.9h1.0M279.8 245.0h1.0M279.6 240.4h1.0M202.0 249.2h1.0M335.0 239.3h1.0M319.7 231.7h1.0M219.7 209.9h1.0M256.5 231.4h1.0M258.6 194.0h1.0M290.9 225.6h1.0M250.8 232.7h1.0M286.7 238.5h1.0M300.2 255.9h1.0M314.4 249.5h1.0M205.7 240.6h1.0M237.2 249.9h1.0M221.0 217.5h1.0M274.4 196.6h1.0M298.8 252.4h1.0M221.1 208.2h1.0M230.3 209.6h1.0M280.3 195.4h1.0M289.3 244.6h1.0M240.8 235.8h1.0M234.9 238.1h1.0M249.0 201.1h1.0M214.3 210.8h1.0M302.3 255.9h1.0M202.7 245.2h1.0M222.3 249.1h1.0M267.5 210.0h1.0M321.0 244.7h1.0M260.0 217.8h1.0M300.7 218.5h1.0M336.8 254.7h1.0M285.7 247.1h1.0M216.5 221.5h1.0M256.4 218.5h1.0M245.6 247.0h1.0M227.5 199.7h1.0M198.9 235.2h1.0M203.5 252.6h1.0M287.2 208.4h1.0M255.9 249.9h1.0M218.4 228.2h1.0M268.1 228.1h1.0M322.5 210.0h1.0M278.8 204.2h1.0M270.4 198.7h1.0M215.4 229.4h1.0M306.3 229.3h1.0M202.7 234.9h1.0M320.3 248.0h1.0M205.1 242.1h1.0M201.6 239.8h1.0M266.3 198.1h1.0M248.2 210.0h1.0M306.7 217.2h1.0M260.7 222.2h1.0M198.7 193.7h1.0M241.0 241.8h1.0M267.9 203.5h1.0M213.5 238.3h1.0M272.4 195.2h1.0M250.6 257.6h1.0M266.2 253.7h1.0M341.2 195.7h1.0M230.4 250.9h1.0M204.9 203.8h1.0M253.2 242.9h1.0M253.3 201.8h1.0M283.8 223.8h1.0M269.6 197.6h1.0M302.4 220.7h1.0M219.6 245.2h1.0M262.7 234.5h1.0M209.8 212.4h1.0M281.7 231.1h1.0M323.5 215.2h1.0M288.0 238.4h1.0M203.0 211.3h1.0M296.9 195.0h1.0M319.7 228.6h1.0M253.5 221.0h1.0M320.8 211.7h1.0M262.1 235.0h1.0M246.9 224.7h1.0M328.4 246.8h1.0M333.4 226.6h1.0M258.8 204.5h1.0M326.4 195.4h1.0M304.2 231.1h1.0M303.6 194.1h1.0M214.9 226.9h1.0M236.7 209.1h1.0M329.4 215.1h1.0M224.7 206.0h1.0M236.1 214.3h1.0M301.0 197.4h1.0M288.3 233.7h1.0M293.8 231.0h1.0M202.1 227.2h1.0M243.6 227.0h1.0M298.6 223.8h1.0M284.1 228.8h1.0M338.1 238.9h1.0M291.7 230.1h1.0M214.1 198.6h1.0M290.1 214.8h1.0M244.2 210.8h1.0M235.3 220.2h1.0M215.7 213.4h1.0M251.7 201.2h1.0M333.2 257.0h1.0M286.1 256.3h1.0M300.6 241.6h1.0M241.0 247.5h1.0M313.6 211.2h1.0M226.9 221.9h1.0M272.3 228.8h1.0M264.4 207.3h1.0M286.4 253.6h1.0M331.7 230.0h1.0M313.7 253.4h1.0M202.1 231.8h1.0M297.8 195.9h1.0M201.2 252.8h1.0M332.5 211.6h1.0M344.2 218.6h1.0M302.5 223.7h1.0M217.2 253.8h1.0M280.2 224.9h1.0M203.3 209.7h1.0M304.1 253.8h1.0M297.0 249.3h1.0M319.1 233.9h1.0M251.6 223.5h1.0M225.2 244.9h1.0M245.4 247.4h1.0M231.3 198.8h1.0M219.5 232.7h1.0M289.5 257.2h1.0M249.3 249.0h1.0M210.5 196.5h1.0M300.0 223.1h1.0M231.8 229.5h1.0M268.0 238.3h1.0M259.1 217.1h1.0M282.0 228.4h1.0M247.6 218.0h1.0M308.4 219.4h1.0M270.1 200.8h1.0M235.9 239.6h1.0M329.3 228.5h1.0M247.9 232.7h1.0M315.2 257.6h1.0M204.5 197.7h1.0M261.8 195.8h1.0M277.1 217.6h1.0M202.1 202.1h1.0M274.3 251.6h1.0M235.1 218.3h1.0M288.2 250.3h1.0M288.0 242.2h1.0M249.2 209.4h1.0M324.0 234.6h1.0M217.9 240.4h1.0M211.8 244.4h1.0M299.0 250.0h1.0M256.9 209.7h1.0M334.8 195.2h1.0M272.1 213.1h1.0M214.1 207.0h1.0M344.1 200.1h1.0M335.2 215.2h1.0M302.4 218.1h1.0M202.3 233.7h1.0M214.7 197.0h1.0M220.3 251.9h1.0M243.3 230.3h1.0M250.3 216.5h1.0M211.4 194.4h1.0M314.1 210.9h1.0M335.8 198.3h1.0M322.8 247.3h1.0M321.4 226.6h1.0M207.2 242.0h1.0M317.2 208.2h1.0M311.4 195.7h1.0M286.6 193.7h1.0M216.0 223.4h1.0M329.6 248.1h1.0M306.0 196.9h1.0M335.8 206.2h1.0M293.1 226.8h1.0M250.2 220.2h1.0M310.0 207.6h1.0M331.7 253.1h1.0M240.8 227.5h1.0M324.6 227.4h1.0M206.5 231.6h1.0M221.7 244.4h1.0M221.0 228.6h1.0M241.0 235.9h1.0M339.8 241.4h1.0M250.4 226.9h1.0M293.8 209.7h1.0M272.1 226.4h1.0M219.2 238.7h1.0M224.4 235.7h1.0M333.1 231.3h1.0M327.6 231.1h1.0M258.3 224.6h1.0M317.6 244.8h1.0M275.6 231.5h1.0M241.7 204.9h1.0M276.9 202.5h1.0M242.8 198.6h1.0M286.7 206.1h1.0M217.8 195.3h1.0M250.5 253.0h1.0M265.0 226.3h1.0M263.7 207.1h1.0M324.4 240.0h1.0M255.9 230.6h1.0M322.9 234.7h1.0M217.7 194.3h1.0M205.3 212.4h1.0M336.9 230.4h1.0M224.6 230.6h1.0M288.2 243.5h1.0M307.7 237.6h1.0M239.0 208.9h1.0M219.0 211.2h1.0M245.8 220.6h1.0M224.0 236.5h1.0M316.5 228.7h1.0M261.6 207.1h1.0M314.7 203.8h1.0M229.4 214.9h1.0M315.6 228.0h1.0M227.1 198.1h1.0M326.3 255.4h1.0M330.9 245.2h1.0M275.7 247.2h1.0M230.5 197.5h1.0M286.3 228.1h1.0M311.1 225.0h1.0M236.9 249.2h1.0M297.8 213.7h1.0M227.5 230.3h1.0M255.1 216.0h1.0M271.7 248.0h1.0M281.7 203.7h1.0M317.4 218.4h1.0M212.4 202.6h1.0M243.4 194.1h1.0M329.2 220.0h1.0M207.9 241.4h1.0M312.4 196.9h1.0M244.3 234.0h1.0M271.3 224.9h1.0M300.5 198.5h1.0M204.9 255.4h1.0M251.9 225.5h1.0M267.5 200.9h1.0M323.9 209.9h1.0M314.5 231.4h1.0M262.1 211.8h1.0M323.4 224.9h1.0M342.4 242.6h1.0M244.2 244.1h1.0M321.9 244.3h1.0M252.4 222.5h1.0M235.3 239.6h1.0M216.9 242.1h1.0M230.3 196.2h1.0M280.9 207.6h1.0M285.4 251.2h1.0M334.3 243.1h1.0M270.8 250.5h1.0M240.9 229.8h1.0M232.3 250.9h1.0M293.2 251.3h1.0M211.8 222.7h1.0M206.9 255.6h1.0M313.5 204.7h1.0M209.8 227.7h1.0M298.5 199.5h1.0M223.8 242.9h1.0M251.9 215.9h1.0M225.7 216.8h1.0M267.2 207.2h1.0M300.9 226.1h1.0M300.9 232.2h1.0M319.5 197.2h1.0M325.5 245.3h1.0M262.2 209.4h1.0M212.1 248.0h1.0M334.5 241.1h1.0M267.0 200.0h1.0M339.6 243.0h1.0M205.4 202.3h1.0M328.4 214.3h1.0M253.5 200.0h1.0M207.5 216.2h1.0M337.0 241.0h1.0M258.4 217.4h1.0M322.5 206.8h1.0M249.6 242.9h1.0M284.2 239.4h1.0M237.6 224.6h1.0M262.2 221.9h1.0M235.9 244.7h1.0M216.2 228.8h1.0M247.9 201.7h1.0M291.2 251.8h1.0M291.4 223.5h1.0M246.2 210.4h1.0M223.2 244.9h1.0M292.0 208.3h1.0M292.4 231.6h1.0M199.6 242.3h1.0M297.5 199.0h1.0M236.6 252.2h1.0M253.6 235.8h1.0M276.4 228.8h1.0M200.1 247.5h1.0M262.5 236.1h1.0M284.7 215.5h1.0M250.7 193.8h1.0M242.6 197.4h1.0M268.9 216.2h1.0M234.5 231.2h1.0M291.0 193.7h1.0M201.1 230.7h1.0M232.0 232.3h1.0M281.5 195.8h1.0M340.8 202.8h1.0M294.4 221.5h1.0M307.7 237.0h1.0M300.3 224.2h1.0M219.0 201.7h1.0M293.9 208.6h1.0M271.0 226.6h1.0M323.4 207.3h1.0M336.5 236.1h1.0M342.3 235.2h1.0M206.8 253.8h1.0M218.6 230.5h1.0M258.0 208.7h1.0M335.8 229.9h1.0M343.3 237.7h1.0M216.6 229.1h1.0M301.5 224.1h1.0M221.2 251.3h1.0M227.7 248.7h1.0M250.8 221.1h1.0M225.2 215.6h1.0M235.6 251.3h1.0M255.3 196.8h1.0M330.2 237.1h1.0M281.9 225.2h1.0M200.4 198.2h1.0M228.2 246.1h1.0M301.7 227.5h1.0M221.5 256.1h1.0M234.8 244.3h1.0M256.2 194.1h1.0M265.5 228.2h1.0M284.3 221.4h1.0M204.1 252.4h1.0M332.0 250.3h1.0M313.2 241.0h1.0M265.8 210.5h1.0M258.2 198.5h1.0M318.5 211.7h1.0M236.7 227.1h1.0M296.2 238.6h1.0M330.7 239.6h1.0M281.5 251.3h1.0M293.4 255.8h1.0M270.6 199.0h1.0M270.4 252.0h1.0M303.2 224.8h1.0M280.2 198.4h1.0M339.3 209.2h1.0M256.8 211.4h1.0M200.5 196.1h1.0M275.7 220.0h1.0M200.0 202.1h1.0M308.0 196.6h1.0M300.3 218.7h1.0M278.3 238.4h1.0M242.3 240.5h1.0M231.9 225.4h1.0M276.9 218.3h1.0M275.1 244.6h1.0M278.6 200.9h1.0M219.5 220.0h1.0M286.4 232.6h1.0M215.0 245.3h1.0M331.8 216.8h1.0M241.0 207.1h1.0M289.6 194.5h1.0M219.2 256.6h1.0M268.1 245.1h1.0M339.9 219.6h1.0M312.3 198.1h1.0M269.5 247.5h1.0M323.1 245.3h1.0M287.6 236.0h1.0M251.0 251.4h1.0M283.0 200.3h1.0M270.9 202.2h1.0M215.8 195.4h1.0M273.0 199.7h1.0M242.6 217.3h1.0M337.0 256.3h1.0M217.6 248.1h1.0M265.4 240.6h1.0M269.8 211.0h1.0M258.3 232.8h1.0M304.8 249.0h1.0M240.9 254.7h1.0M340.8 193.8h1.0M266.8 205.4h1.0M264.0 199.8h1.0M334.5 256.2h1.0M229.2 201.9h1.0M267.5 241.5h1.0M242.9 236.2h1.0M307.0 206.3h1.0M264.8 254.1h1.0M222.2 222.0h1.0M268.4 198.8h1.0M343.7 210.2h1.0M286.8 252.9h1.0M198.5 243.0h1.0M281.9 255.3h1.0M306.6 204.1h1.0M203.5 248.8h1.0M253.6 230.0h1.0M230.9 233.5h1.0M275.8 254.2h1.0M238.6 253.8h1.0M229.3 247.4h1.0M233.5 254.3h1.0M305.4 207.0h1.0M315.4 253.9h1.0M307.9 222.3h1.0M228.8 207.4h1.0M277.5 216.3h1.0M228.6 239.5h1.0M222.0 201.6h1.0M325.7 198.3h1.0M230.2 211.7h1.0M313.9 216.5h1.0M290.0 217.6h1.0M241.9 246.8h1.0M209.2 216.4h1.0M203.9 236.6h1.0M237.3 253.0h1.0M301.8 243.2h1.0M265.2 229.9h1.0M279.9 194.5h1.0M330.6 202.1h1.0M265.5 233.6h1.0M283.8 210.4h1.0M253.3 243.7h1.0M271.1 241.6h1.0M301.3 244.4h1.0M285.1 237.4h1.0M324.8 232.8h1.0M252.8 253.3h1.0M251.1 237.9h1.0M220.2 244.5h1.0M210.1 228.2h1.0M272.1 245.6h1.0M310.7 222.0h1.0M325.9 240.4h1.0M242.7 227.9h1.0M297.8 252.6h1.0M275.6 208.9h1.0M331.2 256.0h1.0M230.5 217.7h1.0M305.0 254.7h1.0M259.6 199.8h1.0M252.3 198.8h1.0M317.4 207.9h1.0M233.6 240.2h1.0M259.4 235.9h1.0M218.0 194.3h1.0M273.2 248.3h1.0M251.9 251.5h1.0M250.8 221.9h1.0M302.4 207.9h1.0M288.1 258.0h1.0M308.8 236.4h1.0M337.9 242.4h1.0M283.1 197.3h1.0M290.9 236.4h1.0M331.8 200.0h1.0M316.7 203.5h1.0M315.0 248.6h1.0M246.1 194.7h1.0M202.3 228.2h1.0M221.9 229.9h1.0M342.9 241.0h1.0M332.6 245.1h1.0M228.8 198.9h1.0M341.8 255.8h1.0M251.3 231.3h1.0M332.8 213.5h1.0M255.1 226.9h1.0M327.2 198.0h1.0M284.5 227.7h1.0M255.9 206.0h1.0M263.8 231.6h1.0M216.5 240.6h1.0M269.2 217.1h1.0M246.5 235.2h1.0M229.4 234.6h1.0M264.5 197.3h1.0M235.9 197.3h1.0M212.5 208.7h1.0M223.8 230.8h1.0M237.4 217.5h1.0M306.1 194.5h1.0M234.3 203.8h1.0M237.3 200.6h1.0M249.2 243.5h1.0M199.4 199.8h1.0M274.0 206.2h1.0M269.7 225.7h1.0M233.7 217.9h1.0M298.5 194.1h1.0M229.1 229.3h1.0M212.0 222.8h1.0M340.5 200.7h1.0M241.1 230.7h1.0M244.4 227.9h1.0M214.3 235.5h1.0M264.7 254.6h1.0M322.8 204.2h1.0M212.2 201.4h1.0M313.4 214.8h1.0M228.7 197.4h1.0M251.2 233.4h1.0M340.7 214.0h1.0M316.6 256.5h1.0M257.0 205.1h1.0M203.2 209.7h1.0M230.2 231.6h1.0M246.2 240.3h1.0M281.6 232.0h1.0M295.7 220.0h1.0M294.4 197.9h1.0M265.1 223.1h1.0M264.9 242.8h1.0M288.5 197.3h1.0M272.1 245.2h1.0M331.9 214.2h1.0M332.6 215.0h1.0M317.8 248.5h1.0M232.8 234.7h1.0M272.3 240.0h1.0M336.0 204.5h1.0M342.1 195.2h1.0M201.1 228.9h1.0M224.9 214.6h1.0M273.1 228.1h1.0M238.3 201.5h1.0M325.0 238.3h1.0M320.3 253.6h1.0M325.3 225.8h1.0M206.8 252.1h1.0M248.6 235.0h1.0M220.9 218.8h1.0M297.0 222.9h1.0M214.6 217.2h1.0M262.4 254.6h1.0M325.9 248.4h1.0M198.9 254.4h1.0M301.2 196.0h1.0M269.2 252.7h1.0M258.6 230.0h1.0M241.4 256.4h1.0M246.5 204.9h1.0M310.0 232.1h1.0M320.1 234.6h1.0M248.4 246.4h1.0M276.9 227.7h1.0M246.4 217.1h1.0M199.0 241.7h1.0M303.2 219.1h1.0M230.2 203.1h1.0M213.7 231.6h1.0M283.6 227.6h1.0M315.5 220.2h1.0M269.6 212.8h1.0M268.7 194.9h1.0M329.0 245.2h1.0M281.5 239.7h1.0M337.8 212.9h1.0M335.7 205.1h1.0M288.3 235.2h1.0M209.4 244.7h1.0M215.1 203.0h1.0M235.5 236.1h1.0M338.0 233.5h1.0M206.9 221.6h1.0M304.6 197.4h1.0M290.3 224.8h1.0M292.1 218.1h1.0M286.2 202.0h1.0M211.7 199.9h1.0M256.9 252.9h1.0M342.6 208.4h1.0M239.3 244.8h1.0M341.4 253.5h1.0M269.6 215.5h1.0M324.2 212.4h1.0M234.0 201.8h1.0M237.2 196.7h1.0M263.0 257.9h1.0M277.5 215.8h1.0M307.9 209.2h1.0M232.4 236.6h1.0M342.8 205.6h1.0M203.1 250.8h1.0M323.2 223.3h1.0M247.3 195.9h1.0M273.5 204.1h1.0M250.4 199.8h1.0M339.0 240.1h1.0M305.7 227.8h1.0M314.2 225.0h1.0M250.4 241.2h1.0M334.5 199.4h1.0M266.0 236.0h1.0M303.0 195.3h1.0M291.9 239.3h1.0M258.6 214.3h1.0M308.4 226.5h1.0M234.5 230.3h1.0M213.4 218.0h1.0M312.0 209.0h1.0M235.0 228.0h1.0M258.8 257.7h1.0M323.2 238.8h1.0M296.3 219.3h1.0M243.2 235.6h1.0M240.6 203.6h1.0M320.9 210.3h1.0M340.5 234.2h1.0M221.9 231.6h1.0M320.6 213.0h1.0M338.3 226.8h1.0M270.0 207.0h1.0M213.1 226.9h1.0M334.1 227.2h1.0M276.1 228.2h1.0M326.1 239.3h1.0M275.6 206.7h1.0M207.7 247.8h1.0M291.8 226.1h1.0M286.2 242.3h1.0M224.2 226.2h1.0M309.5 250.5h1.0M291.5 245.8h1.0M287.6 246.3h1.0M299.6 257.0h1.0M256.3 254.0h1.0M270.0 232.2h1.0M312.3 223.8h1.0M261.7 219.3h1.0M243.4 238.8h1.0M218.5 231.0h1.0M226.2 206.4h1.0M284.9 225.8h1.0M217.4 203.3h1.0M307.9 235.4h1.0M299.1 214.7h1.0M285.0 214.8h1.0M258.6 213.3h1.0M221.9 254.4h1.0M210.8 225.3h1.0M229.0 253.9h1.0M339.0 254.6h1.0M237.6 226.9h1.0M288.1 248.0h1.0M298.1 220.2h1.0M286.0 218.9h1.0M316.3 252.2h1.0M281.2 208.6h1.0M268.2 246.2h1.0M331.7 225.5h1.0M297.8 203.4h1.0M319.6 254.3h1.0M208.7 219.2h1.0M267.4 209.9h1.0M321.8 197.7h1.0M326.6 227.1h1.0M241.3 196.2h1.0M265.0 249.3h1.0M237.5 222.9h1.0M337.2 255.8h1.0M318.8 243.1h1.0M317.9 204.3h1.0M341.6 251.5h1.0M311.1 203.1h1.0M200.9 247.4h1.0M228.5 197.1h1.0M214.3 233.1h1.0M300.1 195.2h1.0M308.6 207.6h1.0M327.8 214.9h1.0M288.6 252.3h1.0M284.9 214.8h1.0M208.3 234.3h1.0M334.3 214.4h1.0M292.8 211.5h1.0M303.2 227.8h1.0M313.0 206.8h1.0M270.4 203.4h1.0M282.6 196.1h1.0M231.4 198.6h1.0M313.3 216.3h1.0M263.7 196.9h1.0M226.0 253.9h1.0M226.0 239.5h1.0M305.9 212.8h1.0M293.7 227.4h1.0M339.9 202.1h1.0M246.2 226.1h1.0M302.4 207.6h1.0M264.4 243.4h1.0M225.9 195.9h1.0M220.8 225.6h1.0M266.8 255.5h1.0M204.1 226.4h1.0M212.4 208.7h1.0M231.2 230.1h1.0M274.8 251.9h1.0M234.1 235.4h1.0M300.8 231.9h1.0M311.5 211.1h1.0M225.1 202.4h1.0M201.5 256.9h1.0M222.4 225.1h1.0M282.7 209.1h1.0M327.6 209.8h1.0M328.2 240.8h1.0M285.1 233.3h1.0M208.4 238.5h1.0M206.7 195.1h1.0M335.3 227.4h1.0M200.8 210.2h1.0M261.9 210.0h1.0M249.8 223.4h1.0M256.2 215.2h1.0M201.9 230.7h1.0M286.3 223.2h1.0M305.5 257.9h1.0M277.2 228.3h1.0M293.6 248.0h1.0M321.4 222.7h1.0M207.9 220.8h1.0M219.4 201.1h1.0M219.2 202.6h1.0M285.8 231.8h1.0M320.7 222.0h1.0M203.3 243.6h1.0M267.3 216.3h1.0M330.3 206.2h1.0M208.3 249.7h1.0M338.5 249.8h1.0M205.0 210.8h1.0M287.8 241.1h1.0M290.2 234.4h1.0M312.2 253.1h1.0M279.0 227.5h1.0M271.6 222.8h1.0M294.0 205.9h1.0M202.5 254.8h1.0M271.3 247.1h1.0M318.4 205.0h1.0M325.1 218.3h1.0M269.3 224.7h1.0M258.7 249.9h1.0M231.3 226.8h1.0M266.0 212.1h1.0M209.7 242.3h1.0M309.0 198.0h1.0M270.6 226.8h1.0M298.1 205.1h1.0M334.6 238.9h1.0M218.8 257.7h1.0M275.5 241.7h1.0M300.2 222.2h1.0M267.8 195.8h1.0M319.4 237.0h1.0M209.4 233.8h1.0M306.8 205.9h1.0M323.6 238.0h1.0M246.6 228.6h1.0M307.1 247.8h1.0M320.4 212.4h1.0M277.6 253.9h1.0M310.0 205.1h1.0M218.4 253.8h1.0M200.3 202.2h1.0M203.3 233.4h1.0M203.5 211.5h1.0M334.1 209.9h1.0M263.4 215.6h1.0M311.3 195.2h1.0M260.9 197.0h1.0M339.5 253.7h1.0M326.2 222.6h1.0M335.9 242.6h1.0M223.5 221.0h1.0M272.2 203.2h1.0M288.7 240.8h1.0M209.7 232.0h1.0M308.9 250.3h1.0M318.6 239.4h1.0M214.1 236.7h1.0M292.1 217.2h1.0M225.7 217.4h1.0M212.1 235.7h1.0M275.2 256.7h1.0M237.9 214.7h1.0M222.3 252.9h1.0M264.6 244.3h1.0M201.8 250.2h1.0M318.8 226.7h1.0M234.4 231.5h1.0M342.4 205.7h1.0M272.5 256.3h1.0M307.4 194.8h1.0M216.9 222.8h1.0M240.8 210.4h1.0M279.2 240.0h1.0M289.8 245.9h1.0M224.2 207.2h1.0M210.0 233.5h1.0M337.3 205.9h1.0M245.0 226.6h1.0M224.1 249.0h1.0M232.7 239.7h1.0M215.9 257.9h1.0M255.8 223.5h1.0M258.0 229.8h1.0M239.8 227.6h1.0M281.4 201.2h1.0M258.5 248.1h1.0M256.9 232.3h1.0M198.7 234.2h1.0M209.2 216.9h1.0M336.3 224.1h1.0M237.3 243.5h1.0M263.3 220.7h1.0M232.9 211.0h1.0M216.9 226.7h1.0M259.7 225.7h1.0M253.9 232.3h1.0M242.5 204.9h1.0M275.3 213.7h1.0M203.3 230.5h1.0M263.8 218.6h1.0M222.9 249.7h1.0M338.0 202.7h1.0M314.0 252.8h1.0M226.0 246.9h1.0M303.2 224.7h1.0M288.3 217.1h1.0M251.7 237.2h1.0M325.5 213.0h1.0M222.4 225.4h1.0M297.7 208.0h1.0M210.7 197.1h1.0" stroke="#0a0aff" stroke-width="1.0" fill="none" opacity="0.7"/><line x1="197.50" y1="192.90" x2="197.50" y2="260.10" stroke="#000" stroke-width="1.6" /><line x1="192.90" y1="259.40" x2="196.70" y2="259.40" stroke="#000" stroke-width="1.3" /><line x1="192.90" y1="245.10" x2="196.70" y2="245.10" stroke="#000" stroke-width="1.3" /><line x1="192.90" y1="230.80" x2="196.70" y2="230.80" stroke="#000" stroke-width="1.3" /><line x1="192.90" y1="216.50" x2="196.70" y2="216.50" stroke="#000" stroke-width="1.3" /><line x1="192.90" y1="202.20" x2="196.70" y2="202.20" stroke="#000" stroke-width="1.3" /><text x="0" y="0" font-size="11.6" text-anchor="end" fill="#000" stroke="#000" stroke-width="0.18" transform="translate(192.00,262.60) scale(1,1.05)" >0</text><text x="0" y="0" font-size="11.6" text-anchor="end" fill="#000" stroke="#000" stroke-width="0.18" transform="translate(192.00,248.30) scale(1,1.05)" >100</text><text x="0" y="0" font-size="11.6" text-anchor="end" fill="#000" stroke="#000" stroke-width="0.18" transform="translate(192.00,234.00) scale(1,1.05)" >200</text><text x="0" y="0" font-size="11.6" text-anchor="end" fill="#000" stroke="#000" stroke-width="0.18" transform="translate(192.00,219.70) scale(1,1.05)" >300</text><text x="0" y="0" font-size="11.6" text-anchor="end" fill="#000" stroke="#000" stroke-width="0.18" transform="translate(192.00,205.40) scale(1,1.05)" >400</text><line x1="196.70" y1="259.40" x2="346.20" y2="259.40" stroke="#000" stroke-width="1.4" /><line x1="206.20" y1="260.10" x2="206.20" y2="263.40" stroke="#000" stroke-width="1.4" /><line x1="241.00" y1="260.10" x2="241.00" y2="263.40" stroke="#000" stroke-width="1.4" /><line x1="275.80" y1="260.10" x2="275.80" y2="263.40" stroke="#000" stroke-width="1.4" /><line x1="310.60" y1="260.10" x2="310.60" y2="263.40" stroke="#000" stroke-width="1.4" /><line x1="345.40" y1="260.10" x2="345.40" y2="263.40" stroke="#000" stroke-width="1.4" /><path d="M198.30 344.00v-18.57h0.98v18.57zM199.28 344.00v-28.24h0.98v28.24zM200.26 344.00v-13.50h0.98v13.50zM201.24 344.00v-10.08h0.98v10.08zM202.22 344.00v-21.58h0.98v21.58zM203.20 344.00v-23.32h0.98v23.32zM204.18 344.00v-16.93h0.98v16.93zM205.16 344.00v-10.04h0.98v10.04zM206.13 344.00v-16.16h0.98v16.16zM207.11 344.00v-67.00h0.98v67.00zM208.09 344.00v-41.54h0.98v41.54zM209.07 344.00v-14.48h0.98v14.48zM210.05 344.00v-11.95h0.98v11.95zM211.03 344.00v-16.95h0.98v16.95zM212.01 344.00v-9.97h0.98v9.97zM212.99 344.00v-13.94h0.98v13.94zM213.97 344.00v-14.75h0.98v14.75zM214.95 344.00v-14.26h0.98v14.26zM215.93 344.00v-6.73h0.98v6.73zM216.91 344.00v-17.44h0.98v17.44zM217.89 344.00v-22.04h0.98v22.04zM218.87 344.00v-22.55h0.98v22.55zM219.85 344.00v-18.41h0.98v18.41zM220.82 344.00v-16.15h0.98v16.15zM221.80 344.00v-17.85h0.98v17.85zM222.78 344.00v-25.38h0.98v25.38zM223.76 344.00v-10.08h0.98v10.08zM224.74 344.00v-14.78h0.98v14.78zM225.72 344.00v-18.40h0.98v18.40zM226.70 344.00v-12.29h0.98v12.29zM227.68 344.00v-5.16h0.98v5.16zM228.66 344.00v-12.61h0.98v12.61zM229.64 344.00v-21.57h0.98v21.57zM230.62 344.00v-15.56h0.98v15.56zM231.60 344.00v-13.93h0.98v13.93zM232.58 344.00v-16.91h0.98v16.91zM233.56 344.00v-8.36h0.98v8.36zM234.54 344.00v-14.75h0.98v14.75zM235.51 344.00v-22.40h0.98v22.40zM236.49 344.00v-22.27h0.98v22.27zM237.47 344.00v-11.26h0.98v11.26zM238.45 344.00v-11.02h0.98v11.02zM239.43 344.00v-13.91h0.98v13.91zM240.41 344.00v-17.96h0.98v17.96zM241.39 344.00v-19.06h0.98v19.06zM242.37 344.00v-7.56h0.98v7.56zM243.35 344.00v-13.64h0.98v13.64zM244.33 344.00v-8.78h0.98v8.78zM245.31 344.00v-23.84h0.98v23.84zM246.29 344.00v-25.06h0.98v25.06zM247.27 344.00v-10.86h0.98v10.86zM248.25 344.00v-4.02h0.98v4.02zM249.23 344.00v-26.92h0.98v26.92zM250.20 344.00v-21.59h0.98v21.59zM251.18 344.00v-15.44h0.98v15.44zM252.16 344.00v-17.37h0.98v17.37zM253.14 344.00v-16.19h0.98v16.19zM254.12 344.00v-8.91h0.98v8.91zM255.10 344.00v-21.04h0.98v21.04zM256.08 344.00v-17.61h0.98v17.61zM257.06 344.00v-4.02h0.98v4.02zM258.04 344.00v-16.51h0.98v16.51zM259.02 344.00v-16.18h0.98v16.18zM260.00 344.00v-17.69h0.98v17.69zM260.98 344.00v-19.68h0.98v19.68zM261.96 344.00v-16.11h0.98v16.11zM262.94 344.00v-17.17h0.98v17.17zM263.92 344.00v-14.68h0.98v14.68zM264.89 344.00v-9.07h0.98v9.07zM265.87 344.00v-16.16h0.98v16.16zM266.85 344.00v-4.02h0.98v4.02zM267.83 344.00v-8.69h0.98v8.69zM268.81 344.00v-16.18h0.98v16.18zM269.79 344.00v-20.89h0.98v20.89zM270.77 344.00v-13.32h0.98v13.32zM271.75 344.00v-15.39h0.98v15.39zM272.73 344.00v-14.74h0.98v14.74zM273.71 344.00v-8.35h0.98v8.35zM274.69 344.00v-13.14h0.98v13.14zM275.67 344.00v-19.15h0.98v19.15zM276.65 344.00v-13.66h0.98v13.66zM277.63 344.00v-22.17h0.98v22.17zM278.61 344.00v-14.75h0.98v14.75zM279.58 344.00v-17.10h0.98v17.10zM280.56 344.00v-20.23h0.98v20.23zM281.54 344.00v-25.01h0.98v25.01zM282.52 344.00v-19.63h0.98v19.63zM283.50 344.00v-15.47h0.98v15.47zM284.48 344.00v-10.96h0.98v10.96zM285.46 344.00v-18.32h0.98v18.32zM286.44 344.00v-11.36h0.98v11.36zM287.42 344.00v-21.12h0.98v21.12zM288.40 344.00v-32.09h0.98v32.09zM289.38 344.00v-16.55h0.98v16.55zM290.36 344.00v-23.60h0.98v23.60zM291.34 344.00v-16.29h0.98v16.29zM292.32 344.00v-13.25h0.98v13.25zM293.30 344.00v-11.22h0.98v11.22zM294.27 344.00v-18.73h0.98v18.73zM295.25 344.00v-26.87h0.98v26.87zM296.23 344.00v-17.13h0.98v17.13zM297.21 344.00v-17.66h0.98v17.66zM298.19 344.00v-25.06h0.98v25.06zM299.17 344.00v-13.69h0.98v13.69zM300.15 344.00v-25.31h0.98v25.31zM301.13 344.00v-19.87h0.98v19.87zM302.11 344.00v-13.32h0.98v13.32zM303.09 344.00v-24.05h0.98v24.05zM304.07 344.00v-23.30h0.98v23.30zM305.05 344.00v-25.05h0.98v25.05zM306.03 344.00v-10.12h0.98v10.12zM307.01 344.00v-18.90h0.98v18.90zM307.99 344.00v-14.72h0.98v14.72zM308.96 344.00v-16.12h0.98v16.12zM309.94 344.00v-9.89h0.98v9.89zM310.92 344.00v-17.11h0.98v17.11zM311.90 344.00v-22.70h0.98v22.70zM312.88 344.00v-20.65h0.98v20.65zM313.86 344.00v-6.72h0.98v6.72zM314.84 344.00v-17.88h0.98v17.88zM315.82 344.00v-17.38h0.98v17.38zM316.80 344.00v-23.27h0.98v23.27zM317.78 344.00v-13.97h0.98v13.97zM318.76 344.00v-19.56h0.98v19.56zM319.74 344.00v-20.27h0.98v20.27zM320.72 344.00v-20.81h0.98v20.81zM321.70 344.00v-18.88h0.98v18.88zM322.68 344.00v-19.32h0.98v19.32zM323.65 344.00v-18.46h0.98v18.46zM324.63 344.00v-7.66h0.98v7.66zM325.61 344.00v-24.32h0.98v24.32zM326.59 344.00v-11.05h0.98v11.05zM327.57 344.00v-14.75h0.98v14.75zM328.55 344.00v-17.31h0.98v17.31zM329.53 344.00v-23.84h0.98v23.84zM330.51 344.00v-19.87h0.98v19.87zM331.49 344.00v-26.39h0.98v26.39zM332.47 344.00v-13.89h0.98v13.89zM333.45 344.00v-10.03h0.98v10.03zM334.43 344.00v-24.72h0.98v24.72zM335.41 344.00v-17.71h0.98v17.71zM336.39 344.00v-8.99h0.98v8.99zM337.37 344.00v-18.81h0.98v18.81zM338.34 344.00v-13.45h0.98v13.45zM339.32 344.00v-11.25h0.98v11.25zM340.30 344.00v-8.87h0.98v8.87zM341.28 344.00v-6.77h0.98v6.77zM342.26 344.00v-15.51h0.98v15.51zM343.24 344.00v-14.97h0.98v14.97zM344.22 344.00v-12.74h0.98v12.74z" fill="#0a0aff"/><line x1="197.50" y1="276.60" x2="197.50" y2="344.70" stroke="#000" stroke-width="1.6" /><line x1="192.90" y1="344.00" x2="196.70" y2="344.00" stroke="#000" stroke-width="1.3" /><line x1="192.90" y1="330.60" x2="196.70" y2="330.60" stroke="#000" stroke-width="1.3" /><line x1="192.90" y1="317.20" x2="196.70" y2="317.20" stroke="#000" stroke-width="1.3" /><line x1="192.90" y1="303.80" x2="196.70" y2="303.80" stroke="#000" stroke-width="1.3" /><line x1="192.90" y1="290.40" x2="196.70" y2="290.40" stroke="#000" stroke-width="1.3" /><line x1="192.90" y1="277.00" x2="196.70" y2="277.00" stroke="#000" stroke-width="1.3" /><text x="0" y="0" font-size="11.6" text-anchor="end" fill="#000" stroke="#000" stroke-width="0.18" transform="translate(191.60,347.40) scale(1,1.05)" >0</text><text x="0" y="0" font-size="11.6" text-anchor="end" fill="#000" stroke="#000" stroke-width="0.18" transform="translate(191.60,334.00) scale(1,1.05)" >10</text><text x="0" y="0" font-size="11.6" text-anchor="end" fill="#000" stroke="#000" stroke-width="0.18" transform="translate(191.60,320.60) scale(1,1.05)" >20</text><text x="0" y="0" font-size="11.6" text-anchor="end" fill="#000" stroke="#000" stroke-width="0.18" transform="translate(191.60,307.20) scale(1,1.05)" >30</text><text x="0" y="0" font-size="11.6" text-anchor="end" fill="#000" stroke="#000" stroke-width="0.18" transform="translate(191.60,293.80) scale(1,1.05)" >40</text><text x="0" y="0" font-size="11.6" text-anchor="end" fill="#000" stroke="#000" stroke-width="0.18" transform="translate(191.60,280.40) scale(1,1.05)" >50</text><line x1="196.70" y1="344.00" x2="345.40" y2="344.00" stroke="#000" stroke-width="1.4" /><line x1="205.60" y1="344.70" x2="205.60" y2="348.00" stroke="#000" stroke-width="1.4" /><line x1="240.20" y1="344.70" x2="240.20" y2="348.00" stroke="#000" stroke-width="1.4" /><line x1="274.80" y1="344.70" x2="274.80" y2="348.00" stroke="#000" stroke-width="1.4" /><line x1="309.40" y1="344.70" x2="309.40" y2="348.00" stroke="#000" stroke-width="1.4" /><line x1="344.00" y1="344.70" x2="344.00" y2="348.00" stroke="#000" stroke-width="1.4" /><text x="0" y="0" font-size="11.6" text-anchor="middle" fill="#000" stroke="#000" stroke-width="0.18" transform="translate(205.60,358.90) scale(1,1.05)" >0</text><text x="0" y="0" font-size="11.6" text-anchor="middle" fill="#000" stroke="#000" stroke-width="0.18" transform="translate(240.20,358.90) scale(1,1.05)" >1</text><text x="0" y="0" font-size="11.6" text-anchor="middle" fill="#000" stroke="#000" stroke-width="0.18" transform="translate(274.80,358.90) scale(1,1.05)" >2</text><text x="0" y="0" font-size="11.6" text-anchor="middle" fill="#000" stroke="#000" stroke-width="0.18" transform="translate(309.40,358.90) scale(1,1.05)" >3</text><text x="0" y="0" font-size="11.6" text-anchor="middle" fill="#000" stroke="#000" stroke-width="0.18" transform="translate(344.00,358.90) scale(1,1.05)" >4</text><text x="0" y="0" font-size="11.8" text-anchor="middle" fill="#000" stroke="#000" stroke-width="0.18" transform="translate(270.00,371.30) scale(1,1.05)" >Time (s)</text><text x="0" y="0" font-size="11.8" text-anchor="middle" fill="#000" stroke="#000" stroke-width="0.18" transform="translate(157.30,310.50) rotate(-90) scale(1,1.05)">No. of CSs</text><text x="0" y="0" font-size="16.5" text-anchor="start" fill="#000" stroke="#000" stroke-width="0.18" transform="translate(1.80,385.30) scale(1,1.0)" font-style="italic">B</text><polyline points="38.60,538.75 41.00,541.00 44.00,543.75 46.00,543.00 49.80,544.20 53.20,538.30 56.10,543.75 57.75,533.75 60.00,526.00 62.30,520.00 64.00,524.20 65.50,524.00 67.10,530.00 69.40,536.00 71.00,538.00 72.40,543.00 74.00,540.00 76.00,542.00 77.70,544.50 79.00,537.00 80.60,531.00 83.20,519.00 84.30,506.00 84.90,470.00 85.50,440.00 86.30,425.00 87.00,420.00 88.20,432.00 89.30,446.00 90.20,452.00 91.20,460.00 92.60,486.00 93.60,500.00 94.50,507.00 95.80,525.00 97.80,536.00 99.50,541.00 101.25,544.00 103.00,540.00 105.00,542.00 106.90,545.00 108.75,535.00 110.60,520.00 112.50,513.10 113.75,513.75 115.00,518.00 116.90,524.00 118.10,527.50 119.40,520.00 120.60,522.00 121.90,537.00 123.10,533.00 124.40,533.00 125.60,542.00 127.50,541.00 130.00,544.00 132.50,544.00 134.40,540.00 135.00,535.00 135.60,538.00" fill="none" stroke="#17a224" stroke-width="1.25" stroke-linejoin="round" /><polyline points="38.90,534.00 40.25,537.50 41.90,545.00 43.20,540.00 44.50,541.50 45.70,537.90 46.50,542.00 49.80,542.50 51.90,539.20 54.00,536.25 55.20,539.00 56.10,543.30 57.60,521.00 58.70,533.20 59.70,518.70 61.30,517.90 63.70,510.30 65.50,521.00 67.10,527.80 69.40,534.70 70.90,536.20 72.40,541.60 73.90,537.70 75.50,540.80 77.70,545.40 78.70,536.70 80.40,529.80 83.00,517.60 84.20,503.80 84.70,469.20 85.20,434.60 85.90,417.30 86.80,406.60 87.40,407.50 89.00,426.00 89.40,437.00 90.20,438.50 90.80,451.90 92.50,484.80 93.00,486.00 93.40,498.60 94.20,503.80 95.00,521.90 96.90,525.00 98.10,535.00 99.40,540.00 101.25,543.10 103.10,538.10 105.00,540.00 106.90,545.00 108.75,533.75 110.60,518.75 111.90,518.10 112.50,525.00 113.75,515.00 115.00,517.50 116.90,525.00 118.10,526.25 119.40,515.00 120.60,518.75 121.90,538.10 123.10,531.25 124.40,531.25 125.60,541.90 127.50,539.40 128.75,541.90 130.00,543.10 131.25,541.25 132.50,543.75 134.40,542.50 136.25,543.10" fill="none" stroke="#000" stroke-width="1.3" stroke-linejoin="round" /><line x1="38.90" y1="399.00" x2="38.90" y2="547.20" stroke="#000" stroke-width="1.6" /><line x1="34.30" y1="546.50" x2="38.10" y2="546.50" stroke="#000" stroke-width="1.3" /><line x1="34.30" y1="522.04" x2="38.10" y2="522.04" stroke="#000" stroke-width="1.3" /><line x1="34.30" y1="497.58" x2="38.10" y2="497.58" stroke="#000" stroke-width="1.3" /><line x1="34.30" y1="473.13" x2="38.10" y2="473.13" stroke="#000" stroke-width="1.3" /><line x1="34.30" y1="448.67" x2="38.10" y2="448.67" stroke="#000" stroke-width="1.3" /><line x1="34.30" y1="424.21" x2="38.10" y2="424.21" stroke="#000" stroke-width="1.3" /><line x1="34.30" y1="399.75" x2="38.10" y2="399.75" stroke="#000" stroke-width="1.3" /><text x="0" y="0" font-size="11.6" text-anchor="end" fill="#000" stroke="#000" stroke-width="0.18" transform="translate(32.60,549.90) scale(1,1.05)" >0</text><text x="0" y="0" font-size="11.6" text-anchor="end" fill="#000" stroke="#000" stroke-width="0.18" transform="translate(32.60,525.44) scale(1,1.05)" >20</text><text x="0" y="0" font-size="11.6" text-anchor="end" fill="#000" stroke="#000" stroke-width="0.18" transform="translate(32.60,500.98) scale(1,1.05)" >40</text><text x="0" y="0" font-size="11.6" text-anchor="end" fill="#000" stroke="#000" stroke-width="0.18" transform="translate(32.60,476.53) scale(1,1.05)" >60</text><text x="0" y="0" font-size="11.6" text-anchor="end" fill="#000" stroke="#000" stroke-width="0.18" transform="translate(32.60,452.07) scale(1,1.05)" >80</text><text x="0" y="0" font-size="11.6" text-anchor="end" fill="#000" stroke="#000" stroke-width="0.18" transform="translate(32.60,427.61) scale(1,1.05)" >100</text><text x="0" y="0" font-size="11.6" text-anchor="end" fill="#000" stroke="#000" stroke-width="0.18" transform="translate(32.60,403.15) scale(1,1.05)" >120</text><line x1="38.10" y1="546.50" x2="136.20" y2="546.50" stroke="#000" stroke-width="1.4" /><line x1="38.90" y1="547.20" x2="38.90" y2="550.50" stroke="#000" stroke-width="1.4" /><line x1="63.07" y1="547.20" x2="63.07" y2="550.50" stroke="#000" stroke-width="1.4" /><line x1="87.24" y1="547.20" x2="87.24" y2="550.50" stroke="#000" stroke-width="1.4" /><line x1="111.41" y1="547.20" x2="111.41" y2="550.50" stroke="#000" stroke-width="1.4" /><line x1="135.58" y1="547.20" x2="135.58" y2="550.50" stroke="#000" stroke-width="1.4" /><text x="0" y="0" font-size="11.6" text-anchor="middle" fill="#000" stroke="#000" stroke-width="0.18" transform="translate(38.90,563.50) scale(1,1.05)" >–0.2</text><text x="0" y="0" font-size="11.6" text-anchor="middle" fill="#000" stroke="#000" stroke-width="0.18" transform="translate(63.07,563.50) scale(1,1.05)" >–0.1</text><text x="0" y="0" font-size="11.6" text-anchor="middle" fill="#000" stroke="#000" stroke-width="0.18" transform="translate(87.24,563.50) scale(1,1.05)" >0.0</text><text x="0" y="0" font-size="11.6" text-anchor="middle" fill="#000" stroke="#000" stroke-width="0.18" transform="translate(111.41,563.50) scale(1,1.05)" >0.1</text><text x="0" y="0" font-size="11.6" text-anchor="middle" fill="#000" stroke="#000" stroke-width="0.18" transform="translate(135.58,563.50) scale(1,1.05)" >0.2</text><text x="0" y="0" font-size="11.8" text-anchor="middle" fill="#000" stroke="#000" stroke-width="0.18" transform="translate(100.30,582.00) scale(1,1.05)" >Time (s)</text><text x="0" y="0" font-size="11.2" text-anchor="middle" fill="#000" stroke="#000" stroke-width="0.18" transform="translate(11.30,470.40) rotate(-90) scale(1,1.05)">No. of CSs (norm.)</text><text x="0" y="0" font-size="16.5" text-anchor="start" fill="#000" stroke="#000" stroke-width="0.18" transform="translate(147.60,386.10) scale(1,1.0)" font-style="italic">C</text><polyline points="199.30,546.50 200.30,546.30 206.00,544.50 213.10,543.30 218.00,541.50 222.00,542.00 230.20,539.90 235.00,539.50 238.00,538.20 242.00,538.80 247.30,537.80 252.00,536.50 256.00,537.00 264.40,534.80 270.00,533.80 275.00,534.00 281.50,532.20 286.00,531.00 290.00,531.50 298.60,530.10 303.00,528.50 306.00,529.00 309.00,527.00 315.70,527.10 320.00,526.00 324.00,525.50 328.00,524.00 332.80,523.70 338.00,524.50 342.00,523.00 345.60,522.80" fill="none" stroke="#7a5030" stroke-width="1.25" stroke-linejoin="round" /><polyline points="199.50,544.60 204.30,536.90 207.80,534.90 211.30,528.60 216.10,524.40 221.00,520.30 225.90,514.00 229.30,512.60 233.50,507.10 236.30,509.20 239.00,503.60 241.80,502.20 245.30,497.40 248.30,495.80 253.30,490.00 256.70,489.20 260.00,483.30 265.80,491.70 269.20,480.00 274.20,480.80 280.00,473.30 284.20,476.70 288.30,476.70 293.30,471.70 295.50,471.50 298.10,463.90 301.10,473.00 304.20,466.90 307.20,469.20 310.30,463.90 314.10,462.30 318.70,466.10 321.70,455.50 325.50,461.60 330.10,463.90 333.90,459.30 337.00,460.80 340.80,458.50 343.10,453.20 346.10,460.00" fill="none" stroke="#000" stroke-width="1.3" stroke-linejoin="round" /><polyline points="198.80,544.60 202.25,538.30 205.70,533.50 209.20,530.70 211.30,525.80 213.40,521.70 216.80,518.90 220.30,515.40 225.90,507.80 228.60,505.70 230.70,507.10 232.80,498.75 235.60,500.80 239.00,495.30 242.00,490.50 245.00,485.80 248.30,486.70 254.20,477.50 256.70,476.70 260.00,472.50 265.00,475.00 268.30,465.00 273.30,463.30 281.70,456.70 286.70,457.50 290.00,455.00 293.30,450.80 295.80,452.50 298.10,443.20 301.10,450.90 304.20,445.50 307.20,447.10 311.00,441.00 314.10,438.70 318.70,440.20 321.70,431.80 327.80,437.10 333.90,431.00 339.30,430.30 342.30,424.20 346.10,431.80" fill="none" stroke="#17a224" stroke-width="1.3" stroke-linejoin="round" /><line x1="197.60" y1="398.40" x2="197.60" y2="547.40" stroke="#000" stroke-width="1.6" /><line x1="193.00" y1="546.70" x2="196.80" y2="546.70" stroke="#000" stroke-width="1.3" /><line x1="193.00" y1="525.62" x2="196.80" y2="525.62" stroke="#000" stroke-width="1.3" /><line x1="193.00" y1="504.54" x2="196.80" y2="504.54" stroke="#000" stroke-width="1.3" /><line x1="193.00" y1="483.46" x2="196.80" y2="483.46" stroke="#000" stroke-width="1.3" /><line x1="193.00" y1="462.38" x2="196.80" y2="462.38" stroke="#000" stroke-width="1.3" /><line x1="193.00" y1="441.30" x2="196.80" y2="441.30" stroke="#000" stroke-width="1.3" /><line x1="193.00" y1="420.22" x2="196.80" y2="420.22" stroke="#000" stroke-width="1.3" /><line x1="193.00" y1="399.14" x2="196.80" y2="399.14" stroke="#000" stroke-width="1.3" /><text x="0" y="0" font-size="11.6" text-anchor="end" fill="#000" stroke="#000" stroke-width="0.18" transform="translate(191.40,549.00) scale(1,1.05)" >0.00</text><text x="0" y="0" font-size="11.6" text-anchor="end" fill="#000" stroke="#000" stroke-width="0.18" transform="translate(191.40,527.92) scale(1,1.05)" >0.05</text><text x="0" y="0" font-size="11.6" text-anchor="end" fill="#000" stroke="#000" stroke-width="0.18" transform="translate(191.40,506.84) scale(1,1.05)" >0.10</text><text x="0" y="0" font-size="11.6" text-anchor="end" fill="#000" stroke="#000" stroke-width="0.18" transform="translate(191.40,485.76) scale(1,1.05)" >0.15</text><text x="0" y="0" font-size="11.6" text-anchor="end" fill="#000" stroke="#000" stroke-width="0.18" transform="translate(191.40,464.68) scale(1,1.05)" >0.20</text><text x="0" y="0" font-size="11.6" text-anchor="end" fill="#000" stroke="#000" stroke-width="0.18" transform="translate(191.40,443.60) scale(1,1.05)" >0.25</text><text x="0" y="0" font-size="11.6" text-anchor="end" fill="#000" stroke="#000" stroke-width="0.18" transform="translate(191.40,422.52) scale(1,1.05)" >0.30</text><text x="0" y="0" font-size="11.6" text-anchor="end" fill="#000" stroke="#000" stroke-width="0.18" transform="translate(191.40,401.44) scale(1,1.05)" >0.35</text><line x1="196.80" y1="546.70" x2="346.50" y2="546.70" stroke="#000" stroke-width="1.4" /><line x1="197.60" y1="547.40" x2="197.60" y2="550.70" stroke="#000" stroke-width="1.4" /><line x1="227.24" y1="547.40" x2="227.24" y2="550.70" stroke="#000" stroke-width="1.4" /><line x1="256.88" y1="547.40" x2="256.88" y2="550.70" stroke="#000" stroke-width="1.4" /><line x1="286.52" y1="547.40" x2="286.52" y2="550.70" stroke="#000" stroke-width="1.4" /><line x1="316.16" y1="547.40" x2="316.16" y2="550.70" stroke="#000" stroke-width="1.4" /><line x1="345.80" y1="547.40" x2="345.80" y2="550.70" stroke="#000" stroke-width="1.4" /><text x="0" y="0" font-size="11.6" text-anchor="middle" fill="#000" stroke="#000" stroke-width="0.18" transform="translate(197.60,563.30) scale(1,1.05)" >0</text><text x="0" y="0" font-size="11.6" text-anchor="middle" fill="#000" stroke="#000" stroke-width="0.18" transform="translate(227.24,563.30) scale(1,1.05)" >10</text><text x="0" y="0" font-size="11.6" text-anchor="middle" fill="#000" stroke="#000" stroke-width="0.18" transform="translate(256.88,563.30) scale(1,1.05)" >20</text><text x="0" y="0" font-size="11.6" text-anchor="middle" fill="#000" stroke="#000" stroke-width="0.18" transform="translate(286.52,563.30) scale(1,1.05)" >30</text><text x="0" y="0" font-size="11.6" text-anchor="middle" fill="#000" stroke="#000" stroke-width="0.18" transform="translate(316.16,563.30) scale(1,1.05)" >40</text><text x="0" y="0" font-size="11.6" text-anchor="middle" fill="#000" stroke="#000" stroke-width="0.18" transform="translate(345.80,563.30) scale(1,1.05)" >50</text><text x="0" y="0" font-size="11.8" text-anchor="middle" fill="#000" stroke="#000" stroke-width="0.18" transform="translate(277.00,581.60) scale(1,1.05)" >Time (ms)</text><text x="0" y="0" font-size="12.0" text-anchor="middle" fill="#000" stroke="#000" stroke-width="0.18" transform="translate(156.90,474.40) rotate(-90) scale(1,1.05)">Synchrony index</text><line x1="200.60" y1="399.20" x2="219.60" y2="399.20" stroke="#17a224" stroke-width="1.4" /><text x="0" y="0" font-size="11.7" text-anchor="start" fill="#000" stroke="#000" stroke-width="0.18" transform="translate(223.80,403.40) scale(1,1.05)" >Whole trace</text><line x1="200.60" y1="415.80" x2="219.60" y2="415.80" stroke="#000" stroke-width="1.4" /><text x="0" y="0" font-size="11.7" text-anchor="start" fill="#000" stroke="#000" stroke-width="0.18" transform="translate(223.80,420.00) scale(1,1.05)" >Excl. movement</text><line x1="200.60" y1="432.20" x2="219.60" y2="432.20" stroke="#7a5030" stroke-width="1.4" /><text x="0" y="0" font-size="11.7" text-anchor="start" fill="#000" stroke="#000" stroke-width="0.18" transform="translate(223.80,436.40) scale(1,1.05)" >Randomized ISIs</text><text x="0" y="0" font-size="16.5" text-anchor="start" fill="#000" stroke="#000" stroke-width="0.18" transform="translate(1.80,598.60) scale(1,1.0)" font-style="italic">D</text><rect x="51.30" y="624.80" width="17.00" height="73.20" fill="#0a28ff" stroke="#000" stroke-width="1.1"/><rect x="68.30" y="638.54" width="17.00" height="59.46" fill="#0f0ff8" stroke="#000" stroke-width="1.1"/><rect x="85.30" y="663.16" width="17.00" height="34.84" fill="#000" stroke="#000" stroke-width="1.1"/><rect x="128.00" y="624.80" width="17.00" height="73.20" fill="#0a28ff" stroke="#000" stroke-width="1.1"/><rect x="145.00" y="673.71" width="17.00" height="24.29" fill="#0f0ff8" stroke="#000" stroke-width="1.1"/><rect x="162.00" y="679.24" width="17.00" height="18.76" fill="#000" stroke="#000" stroke-width="1.1"/><rect x="205.00" y="645.74" width="17.00" height="52.26" fill="#0a28ff" stroke="#000" stroke-width="1.1"/><rect x="222.00" y="685.77" width="17.00" height="12.23" fill="#0f0ff8" stroke="#000" stroke-width="1.1"/><rect x="239.00" y="685.77" width="17.00" height="12.23" fill="#000" stroke="#000" stroke-width="1.1"/><rect x="281.50" y="656.71" width="17.00" height="41.29" fill="#0a28ff" stroke="#000" stroke-width="1.1"/><rect x="315.50" y="690.97" width="17.00" height="7.04" fill="#000" stroke="#000" stroke-width="1.1"/><line x1="39.00" y1="613.40" x2="39.00" y2="698.70" stroke="#000" stroke-width="1.6" /><line x1="34.40" y1="698.00" x2="38.20" y2="698.00" stroke="#000" stroke-width="1.3" /><line x1="34.40" y1="681.25" x2="38.20" y2="681.25" stroke="#000" stroke-width="1.3" /><line x1="34.40" y1="664.50" x2="38.20" y2="664.50" stroke="#000" stroke-width="1.3" /><line x1="34.40" y1="647.75" x2="38.20" y2="647.75" stroke="#000" stroke-width="1.3" /><line x1="34.40" y1="631.00" x2="38.20" y2="631.00" stroke="#000" stroke-width="1.3" /><line x1="34.40" y1="614.25" x2="38.20" y2="614.25" stroke="#000" stroke-width="1.3" /><text x="0" y="0" font-size="11.2" text-anchor="end" fill="#000" stroke="#000" stroke-width="0.18" transform="translate(33.00,702.30) scale(1,1.05)" >0</text><text x="0" y="0" font-size="11.2" text-anchor="end" fill="#000" stroke="#000" stroke-width="0.18" transform="translate(33.00,685.55) scale(1,1.05)" >20</text><text x="0" y="0" font-size="11.2" text-anchor="end" fill="#000" stroke="#000" stroke-width="0.18" transform="translate(33.00,668.80) scale(1,1.05)" >40</text><text x="0" y="0" font-size="11.2" text-anchor="end" fill="#000" stroke="#000" stroke-width="0.18" transform="translate(33.00,652.05) scale(1,1.05)" >60</text><text x="0" y="0" font-size="11.2" text-anchor="end" fill="#000" stroke="#000" stroke-width="0.18" transform="translate(33.00,635.30) scale(1,1.05)" >80</text><text x="0" y="0" font-size="11.2" text-anchor="end" fill="#000" stroke="#000" stroke-width="0.18" transform="translate(33.00,618.55) scale(1,1.05)" >100</text><line x1="38.20" y1="698.00" x2="347.30" y2="698.00" stroke="#000" stroke-width="1.4" /><text x="0" y="0" font-size="11.6" text-anchor="middle" fill="#000" stroke="#000" stroke-width="0.18" transform="translate(11.20,656.00) rotate(-90) scale(1,1.05)">Purkinje cells (%)</text><text x="0" y="0" font-size="14.5" text-anchor="middle" fill="#000" stroke="#000" stroke-width="0.18" transform="translate(61.00,624.50) scale(1,1.05)" font-weight="bold">*</text><text x="0" y="0" font-size="14.5" text-anchor="middle" fill="#000" stroke="#000" stroke-width="0.18" transform="translate(137.40,624.70) scale(1,1.05)" font-weight="bold">*</text><text x="0" y="0" font-size="14.5" text-anchor="middle" fill="#000" stroke="#000" stroke-width="0.18" transform="translate(214.00,647.30) scale(1,1.05)" font-weight="bold">*</text><text x="0" y="0" font-size="14.5" text-anchor="middle" fill="#000" stroke="#000" stroke-width="0.18" transform="translate(290.50,657.00) scale(1,1.05)" font-weight="bold">*</text><text x="0" y="0" font-size="11.9" text-anchor="middle" fill="#000" stroke="#000" stroke-width="0.18" transform="translate(76.00,713.00) scale(1,1.05)" >Correlated</text><text x="0" y="0" font-size="11.9" text-anchor="middle" fill="#000" stroke="#000" stroke-width="0.18" transform="translate(152.50,713.00) scale(1,1.05)" >10 ms</text><text x="0" y="0" font-size="11.9" text-anchor="middle" fill="#000" stroke="#000" stroke-width="0.18" transform="translate(230.00,713.00) scale(1,1.05)" >5 ms</text><text x="0" y="0" font-size="11.9" text-anchor="middle" fill="#000" stroke="#000" stroke-width="0.18" transform="translate(307.00,713.00) scale(1,1.05)" >2 ms</text><rect x="225.2" y="610.00" width="9.2" height="9.2" fill="#0a28ff" stroke="#000" stroke-width="0.9"/><text x="0" y="0" font-size="11.9" text-anchor="start" fill="#000" stroke="#000" stroke-width="0.18" transform="translate(237.20,619.20) scale(1,1.05)" >Strong co-modulation</text><rect x="225.2" y="621.50" width="9.2" height="9.2" fill="#0f0ff8" stroke="#000" stroke-width="0.9"/><text x="0" y="0" font-size="11.9" text-anchor="start" fill="#000" stroke="#000" stroke-width="0.18" transform="translate(237.20,630.70) scale(1,1.05)" >Weak co-modulation</text><rect x="225.2" y="633.30" width="9.2" height="9.2" fill="#000" stroke="#000" stroke-width="0.9"/><text x="0" y="0" font-size="11.9" text-anchor="start" fill="#000" stroke="#000" stroke-width="0.18" transform="translate(237.20,642.50) scale(1,1.05)" >No co-modulation</text><text x="0" y="0" font-size="16.0" text-anchor="start" fill="#000" stroke="#000" stroke-width="0.18" transform="translate(2.00,734.70) scale(1,1.0)" font-style="italic">E</text><text x="0" y="0" font-size="11.7" text-anchor="start" fill="#000" stroke="#000" stroke-width="0.18" transform="translate(23.30,734.70) scale(1,1.05)" >CS co-modulation</text><text x="0" y="0" font-size="16.0" text-anchor="start" fill="#000" stroke="#000" stroke-width="0.18" transform="translate(182.60,734.70) scale(1,1.0)" font-style="italic">F</text><text x="0" y="0" font-size="11.7" text-anchor="start" fill="#000" stroke="#000" stroke-width="0.18" transform="translate(202.30,734.70) scale(1,1.05)" >SS co-modulation</text><polyline points="24.20,783.30 36.70,776.90 53.30,769.10 68.60,761.60 79.70,754.70 85.30,749.10 88.90,744.10 95.00,744.10 106.10,745.80 120.00,749.10 128.50,752.50 135.80,757.20 145.90,767.20 151.25,775.00 151.90,780.00 151.25,791.25 149.40,797.50 147.50,803.75 146.25,806.25 143.10,808.75 141.25,809.40 140.00,808.75" fill="none" stroke="#000" stroke-width="1.4" stroke-linejoin="round" /><polyline points="24.20,820.00 40.00,820.00 48.30,819.70 53.30,818.30 56.70,816.30 59.20,813.00 63.30,809.70 70.00,805.80 76.70,803.00 83.30,801.30 90.00,800.00 100.00,799.20 108.00,799.50 115.00,800.60 126.90,800.60 132.50,802.50 137.50,805.00 139.40,807.50 140.00,810.00 139.40,816.25 138.10,821.25 135.60,825.60 131.25,830.00 128.00,836.00 125.00,843.30 121.70,851.70 115.00,861.70 106.70,865.00 93.30,855.00 78.30,846.70 65.00,842.30 48.30,841.00 31.00,840.00" fill="none" stroke="#000" stroke-width="1.4" stroke-linejoin="round" /><polyline points="203.25,783.30 215.52,776.90 231.81,769.10 246.82,761.60 257.72,754.70 263.22,749.10 266.75,744.10 272.74,744.10 283.63,745.80 297.27,749.10 305.62,752.50 312.78,757.20 322.69,767.20 327.95,775.00 328.58,780.00 327.95,791.25 326.13,797.50 324.27,803.75 323.04,806.25 319.95,808.75 318.13,809.40 316.90,808.75" fill="none" stroke="#000" stroke-width="1.4" stroke-linejoin="round" /><polyline points="203.25,820.00 218.75,820.00 226.90,819.70 231.81,818.30 235.15,816.30 237.60,813.00 241.62,809.70 248.20,805.80 254.78,803.00 261.25,801.30 267.83,800.00 277.64,799.20 285.50,799.50 292.37,800.60 304.05,800.60 309.54,802.50 314.45,805.00 316.32,807.50 316.90,810.00 316.32,816.25 315.04,821.25 312.59,825.60 308.32,830.00 305.13,836.00 302.18,843.30 298.94,851.70 292.37,861.70 284.22,865.00 271.07,855.00 256.35,846.70 243.29,842.30 226.90,841.00 209.92,840.00" fill="none" stroke="#000" stroke-width="1.4" stroke-linejoin="round" /><line x1="90.00" y1="757.50" x2="95.00" y2="778.30" stroke="#1a1aff" stroke-width="1.4" /><line x1="71.70" y1="767.50" x2="91.90" y2="793.75" stroke="#1a1aff" stroke-width="1.4" /><line x1="80.60" y1="783.50" x2="88.75" y2="822.50" stroke="#1a1aff" stroke-width="1.4" /><line x1="87.50" y1="791.25" x2="88.75" y2="822.50" stroke="#1a1aff" stroke-width="1.4" /><line x1="80.60" y1="783.50" x2="91.00" y2="792.00" stroke="#1a1aff" stroke-width="1.4" /><line x1="85.60" y1="791.25" x2="111.90" y2="786.90" stroke="#1a1aff" stroke-width="1.4" /><line x1="98.75" y1="790.60" x2="105.00" y2="816.25" stroke="#1a1aff" stroke-width="1.4" /><line x1="88.75" y1="797.50" x2="106.90" y2="805.60" stroke="#1a1aff" stroke-width="1.4" /><line x1="268.10" y1="750.60" x2="283.30" y2="748.90" stroke="#ff1010" stroke-width="1.5" /><line x1="222.20" y1="775.80" x2="287.80" y2="765.60" stroke="#ff1010" stroke-width="1.5" /><line x1="222.20" y1="776.40" x2="300.00" y2="774.70" stroke="#ff1010" stroke-width="1.5" /><line x1="238.30" y1="781.40" x2="286.70" y2="765.80" stroke="#ff1010" stroke-width="1.5" /><line x1="215.80" y1="783.30" x2="250.30" y2="782.30" stroke="#ff1010" stroke-width="1.5" /><line x1="215.80" y1="783.30" x2="242.00" y2="789.00" stroke="#ff1010" stroke-width="1.5" /><line x1="246.70" y1="791.70" x2="286.70" y2="778.30" stroke="#ff1010" stroke-width="1.5" /><line x1="235.00" y1="798.00" x2="280.80" y2="780.00" stroke="#ff1010" stroke-width="1.5" /><line x1="235.00" y1="800.10" x2="285.00" y2="782.10" stroke="#ff1010" stroke-width="1.5" /><line x1="274.20" y1="790.80" x2="297.50" y2="788.30" stroke="#ff1010" stroke-width="1.5" /><line x1="224.20" y1="802.20" x2="270.00" y2="788.30" stroke="#ff1010" stroke-width="1.5" /><line x1="243.30" y1="793.90" x2="271.10" y2="788.30" stroke="#ff1010" stroke-width="1.5" /><line x1="250.30" y1="800.80" x2="269.70" y2="789.00" stroke="#ff1010" stroke-width="1.5" /><line x1="253.00" y1="800.00" x2="268.00" y2="791.00" stroke="#ff1010" stroke-width="1.5" /><line x1="258.30" y1="800.80" x2="291.70" y2="801.30" stroke="#ff1010" stroke-width="1.5" /><line x1="273.30" y1="795.80" x2="293.30" y2="800.80" stroke="#ff1010" stroke-width="1.5" /><line x1="264.00" y1="798.00" x2="276.00" y2="797.00" stroke="#ff1010" stroke-width="1.5" /><line x1="211.70" y1="816.70" x2="268.00" y2="794.00" stroke="#ff1010" stroke-width="1.5" /><line x1="209.20" y1="833.30" x2="243.30" y2="801.70" stroke="#ff1010" stroke-width="1.5" /><line x1="211.70" y1="832.50" x2="262.00" y2="797.00" stroke="#ff1010" stroke-width="1.5" /><line x1="220.00" y1="826.00" x2="255.00" y2="799.00" stroke="#ff1010" stroke-width="1.5" /><text x="0" y="0" font-size="11.7" text-anchor="start" fill="#000" stroke="#000" stroke-width="0.18" transform="translate(296.00,784.40) scale(1,1.05)" >crus 1</text><text x="0" y="0" font-size="11.7" text-anchor="start" fill="#000" stroke="#000" stroke-width="0.18" transform="translate(266.50,847.30) scale(1,1.05)" >crus 2</text><text x="0" y="0" font-size="11.8" text-anchor="start" fill="#000" stroke="#000" stroke-width="0.18" transform="translate(220.70,859.40) scale(1,1.05)" >500 µm</text><rect x="226.1" y="864.8" width="27.1" height="3" fill="#000"/>
</svg></body></html>
